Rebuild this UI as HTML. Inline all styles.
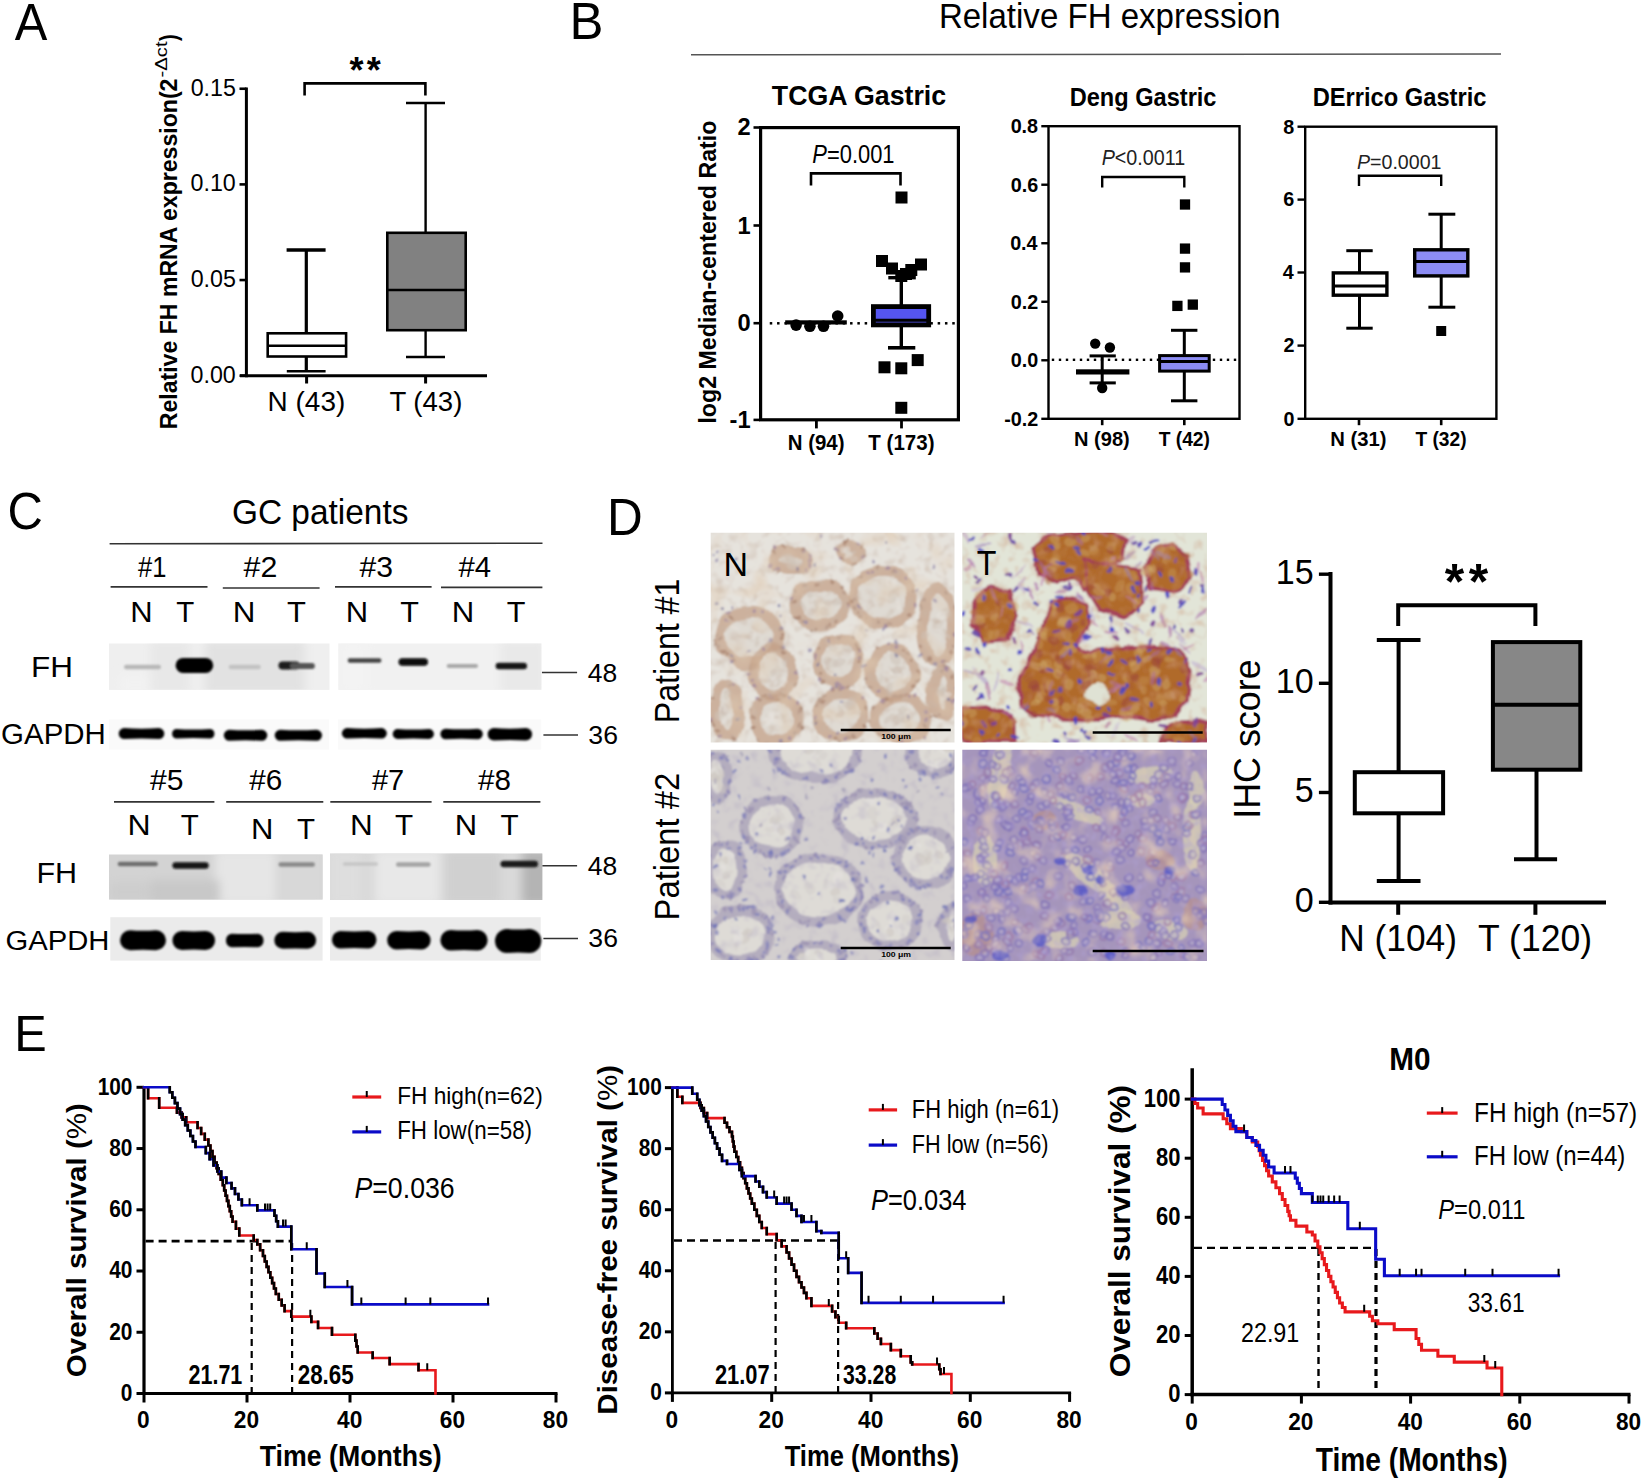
<!DOCTYPE html>
<html><head><meta charset="utf-8"><title>FH expression figure</title>
<style>html,body{margin:0;padding:0;background:#fff;}svg{display:block;}
text{font-family:'Liberation Sans', Arial, sans-serif;}</style></head>
<body><svg width="1648" height="1481" viewBox="0 0 1648 1481">
<rect width="1648" height="1481" fill="#fff"/>
<text x="14.80" y="39.90" font-size="52.04" textLength="32.59" lengthAdjust="spacingAndGlyphs">A</text>
<line x1="246.40" y1="87.50" x2="246.40" y2="377.20" stroke="#000" stroke-width="3"/>
<line x1="240.00" y1="375.70" x2="487.00" y2="375.70" stroke="#000" stroke-width="3"/>
<line x1="239.50" y1="88.75" x2="246.40" y2="88.75" stroke="#000" stroke-width="2.6"/>
<text x="190.66" y="95.75" font-size="24.13" textLength="45.22" lengthAdjust="spacingAndGlyphs">0.15</text>
<line x1="239.50" y1="184.40" x2="246.40" y2="184.40" stroke="#000" stroke-width="2.6"/>
<text x="190.59" y="191.40" font-size="24.13" textLength="45.22" lengthAdjust="spacingAndGlyphs">0.10</text>
<line x1="239.50" y1="280.05" x2="246.40" y2="280.05" stroke="#000" stroke-width="2.6"/>
<text x="190.66" y="287.05" font-size="24.13" textLength="45.22" lengthAdjust="spacingAndGlyphs">0.05</text>
<line x1="239.50" y1="375.70" x2="246.40" y2="375.70" stroke="#000" stroke-width="2.6"/>
<text x="190.59" y="382.70" font-size="24.13" textLength="45.22" lengthAdjust="spacingAndGlyphs">0.00</text>
<line x1="306.60" y1="375.70" x2="306.60" y2="383.50" stroke="#000" stroke-width="3"/>
<line x1="425.60" y1="375.70" x2="425.60" y2="383.50" stroke="#000" stroke-width="3"/>
<text x="267.61" y="410.60" font-size="27.76" textLength="77.62" lengthAdjust="spacingAndGlyphs">N (43)</text>
<text x="389.39" y="410.60" font-size="27.76" textLength="73.01" lengthAdjust="spacingAndGlyphs">T (43)</text>
<text transform="translate(177.30,429.24) rotate(-90)" x="0" y="0" font-size="24.71" textLength="350.66" lengthAdjust="spacingAndGlyphs"><tspan font-weight="bold">Relative FH mRNA expression(2</tspan></text>
<text transform="translate(167.20,77.60) rotate(-90)" x="0" y="0" font-size="16.72" textLength="36.15" lengthAdjust="spacingAndGlyphs">-Δct</text>
<text transform="translate(177.30,41.02) rotate(-90)" x="0" y="0" font-size="24.40" textLength="6.73" lengthAdjust="spacingAndGlyphs"><tspan font-weight="bold">)</tspan></text>
<line x1="306.30" y1="250.00" x2="306.30" y2="333.00" stroke="#000" stroke-width="3.2"/>
<line x1="306.30" y1="356.00" x2="306.30" y2="371.30" stroke="#000" stroke-width="3.2"/>
<line x1="286.60" y1="250.00" x2="325.60" y2="250.00" stroke="#000" stroke-width="3.4"/>
<line x1="286.80" y1="371.30" x2="325.60" y2="371.30" stroke="#000" stroke-width="2.6"/>
<rect x="267.70" y="333.30" width="78.40" height="23.20" fill="#fff" stroke="#000" stroke-width="2.6"/>
<line x1="267.50" y1="345.80" x2="346.50" y2="345.80" stroke="#000" stroke-width="2.4"/>
<line x1="425.60" y1="103.00" x2="425.60" y2="233.00" stroke="#000" stroke-width="2.4"/>
<line x1="425.60" y1="330.00" x2="425.60" y2="357.00" stroke="#000" stroke-width="2.4"/>
<line x1="406.00" y1="103.00" x2="445.00" y2="103.00" stroke="#000" stroke-width="2.4"/>
<line x1="406.00" y1="357.00" x2="445.00" y2="357.00" stroke="#000" stroke-width="2.4"/>
<rect x="387.30" y="232.80" width="78.40" height="97.40" fill="#818181" stroke="#000" stroke-width="2.6"/>
<line x1="387.00" y1="290.00" x2="466.00" y2="290.00" stroke="#000" stroke-width="2.4"/>
<path d="M304.6,95.5 V83.4 H425.4 V95.5" stroke="#000" stroke-width="2.6" fill="none"/>
<text x="356.50" y="82.67" font-size="36" font-weight="bold" text-anchor="middle">*</text>
<text x="373.70" y="82.67" font-size="36" font-weight="bold" text-anchor="middle">*</text>
<text x="569.52" y="39.20" font-size="52.18" textLength="33.96" lengthAdjust="spacingAndGlyphs">B</text>
<text x="938.89" y="28.00" font-size="35.90" textLength="341.66" lengthAdjust="spacingAndGlyphs">Relative FH expression</text>
<line x1="691.00" y1="54.80" x2="1501.00" y2="54.00" stroke="#555" stroke-width="1.6"/>
<text x="771.80" y="104.80" font-size="27.62" textLength="174.38" lengthAdjust="spacingAndGlyphs"><tspan font-weight="bold">TCGA Gastric</tspan></text>
<rect x="760.60" y="127.60" width="197.80" height="292.20" fill="none" stroke="#000" stroke-width="3.2"/>
<line x1="753.50" y1="127.50" x2="760.00" y2="127.50" stroke="#000" stroke-width="2.6"/>
<line x1="753.50" y1="225.50" x2="760.00" y2="225.50" stroke="#000" stroke-width="2.6"/>
<line x1="753.50" y1="323.20" x2="760.00" y2="323.20" stroke="#000" stroke-width="2.6"/>
<line x1="753.50" y1="419.90" x2="760.00" y2="419.90" stroke="#000" stroke-width="2.6"/>
<text x="737.42" y="135.20" font-size="23.69" font-weight="bold" textLength="13.18" lengthAdjust="spacingAndGlyphs">2</text>
<text x="737.42" y="233.50" font-size="23.69" font-weight="bold" textLength="13.18" lengthAdjust="spacingAndGlyphs">1</text>
<text x="737.42" y="330.90" font-size="23.69" font-weight="bold" textLength="13.18" lengthAdjust="spacingAndGlyphs">0</text>
<text x="729.53" y="427.60" font-size="23.69" font-weight="bold" textLength="21.07" lengthAdjust="spacingAndGlyphs">-1</text>
<line x1="816.40" y1="420.00" x2="816.40" y2="428.40" stroke="#000" stroke-width="2.8"/>
<line x1="901.50" y1="420.00" x2="901.50" y2="428.40" stroke="#000" stroke-width="2.8"/>
<text x="787.73" y="449.50" font-size="21.22" textLength="56.79" lengthAdjust="spacingAndGlyphs"><tspan font-weight="bold">N (94)</tspan></text>
<text x="868.37" y="449.50" font-size="21.22" textLength="66.15" lengthAdjust="spacingAndGlyphs"><tspan font-weight="bold">T (173)</tspan></text>
<text transform="translate(716.30,423.62) rotate(-90)" x="0" y="0" font-size="24.42" textLength="303.03" lengthAdjust="spacingAndGlyphs"><tspan font-weight="bold">log2 Median-centered Ratio</tspan></text>
<text x="812.33" y="163.40" font-size="24.86" textLength="82.24" lengthAdjust="spacingAndGlyphs"><tspan font-style="italic">P</tspan>=0.001</text>
<path d="M811,185.5 V173.4 H900.5 V185.5" stroke="#000" stroke-width="2.6" fill="none"/>
<rect x="769.75" y="322.05" width="2.50" height="2.50" fill="#000"/>
<rect x="777.05" y="322.05" width="2.50" height="2.50" fill="#000"/>
<rect x="784.35" y="322.05" width="2.50" height="2.50" fill="#000"/>
<rect x="791.65" y="322.05" width="2.50" height="2.50" fill="#000"/>
<rect x="798.95" y="322.05" width="2.50" height="2.50" fill="#000"/>
<rect x="806.25" y="322.05" width="2.50" height="2.50" fill="#000"/>
<rect x="813.55" y="322.05" width="2.50" height="2.50" fill="#000"/>
<rect x="820.85" y="322.05" width="2.50" height="2.50" fill="#000"/>
<rect x="828.15" y="322.05" width="2.50" height="2.50" fill="#000"/>
<rect x="835.45" y="322.05" width="2.50" height="2.50" fill="#000"/>
<rect x="842.75" y="322.05" width="2.50" height="2.50" fill="#000"/>
<rect x="850.05" y="322.05" width="2.50" height="2.50" fill="#000"/>
<rect x="857.35" y="322.05" width="2.50" height="2.50" fill="#000"/>
<rect x="864.65" y="322.05" width="2.50" height="2.50" fill="#000"/>
<rect x="871.95" y="322.05" width="2.50" height="2.50" fill="#000"/>
<rect x="879.25" y="322.05" width="2.50" height="2.50" fill="#000"/>
<rect x="886.55" y="322.05" width="2.50" height="2.50" fill="#000"/>
<rect x="893.85" y="322.05" width="2.50" height="2.50" fill="#000"/>
<rect x="901.15" y="322.05" width="2.50" height="2.50" fill="#000"/>
<rect x="908.45" y="322.05" width="2.50" height="2.50" fill="#000"/>
<rect x="915.75" y="322.05" width="2.50" height="2.50" fill="#000"/>
<rect x="923.05" y="322.05" width="2.50" height="2.50" fill="#000"/>
<rect x="930.35" y="322.05" width="2.50" height="2.50" fill="#000"/>
<rect x="937.65" y="322.05" width="2.50" height="2.50" fill="#000"/>
<rect x="944.95" y="322.05" width="2.50" height="2.50" fill="#000"/>
<rect x="952.25" y="322.05" width="2.50" height="2.50" fill="#000"/>
<rect x="785.20" y="320.30" width="61.60" height="4.20" fill="#000"/>
<circle cx="796.10" cy="325.10" r="5.80" fill="#000"/>
<circle cx="809.90" cy="326.30" r="5.80" fill="#000"/>
<circle cx="823.50" cy="326.30" r="5.80" fill="#000"/>
<circle cx="837.70" cy="316.00" r="5.80" fill="#000"/>
<line x1="901.30" y1="277.70" x2="901.30" y2="306.00" stroke="#000" stroke-width="3.4"/>
<line x1="901.30" y1="326.00" x2="901.30" y2="347.80" stroke="#000" stroke-width="3.4"/>
<line x1="888.30" y1="277.70" x2="915.80" y2="277.70" stroke="#000" stroke-width="3.4"/>
<line x1="888.00" y1="347.80" x2="915.30" y2="347.80" stroke="#000" stroke-width="3.6"/>
<rect x="873.40" y="306.60" width="55.30" height="18.30" fill="#5555f0" stroke="#000" stroke-width="4.8"/>
<line x1="874.00" y1="320.20" x2="928.00" y2="320.20" stroke="#000" stroke-width="3"/>
<rect x="895.50" y="191.50" width="12.00" height="12.00" fill="#000"/>
<rect x="876.00" y="255.00" width="12.00" height="12.00" fill="#000"/>
<rect x="886.00" y="262.50" width="12.00" height="12.00" fill="#000"/>
<rect x="895.30" y="270.00" width="12.00" height="12.00" fill="#000"/>
<rect x="900.00" y="268.00" width="12.00" height="12.00" fill="#000"/>
<rect x="905.30" y="264.00" width="12.00" height="12.00" fill="#000"/>
<rect x="915.00" y="258.50" width="12.00" height="12.00" fill="#000"/>
<rect x="878.50" y="361.30" width="12.00" height="12.00" fill="#000"/>
<rect x="895.30" y="362.30" width="12.00" height="12.00" fill="#000"/>
<rect x="911.70" y="354.10" width="12.00" height="12.00" fill="#000"/>
<rect x="895.30" y="401.80" width="12.00" height="12.00" fill="#000"/>
<text x="1069.72" y="105.80" font-size="25.44" textLength="146.77" lengthAdjust="spacingAndGlyphs"><tspan font-weight="bold">Deng Gastric</tspan></text>
<rect x="1048.50" y="126.20" width="191.00" height="292.60" fill="none" stroke="#000" stroke-width="2.4"/>
<line x1="1041.30" y1="126.20" x2="1048.00" y2="126.20" stroke="#000" stroke-width="2.4"/>
<line x1="1041.30" y1="184.72" x2="1048.00" y2="184.72" stroke="#000" stroke-width="2.4"/>
<line x1="1041.30" y1="243.24" x2="1048.00" y2="243.24" stroke="#000" stroke-width="2.4"/>
<line x1="1041.30" y1="301.76" x2="1048.00" y2="301.76" stroke="#000" stroke-width="2.4"/>
<line x1="1041.30" y1="360.28" x2="1048.00" y2="360.28" stroke="#000" stroke-width="2.4"/>
<line x1="1041.30" y1="418.80" x2="1048.00" y2="418.80" stroke="#000" stroke-width="2.4"/>
<text x="1010.63" y="133.00" font-size="19.77" textLength="27.48" lengthAdjust="spacingAndGlyphs"><tspan font-weight="bold">0.8</tspan></text>
<text x="1010.73" y="191.52" font-size="19.77" textLength="27.48" lengthAdjust="spacingAndGlyphs"><tspan font-weight="bold">0.6</tspan></text>
<text x="1010.13" y="250.04" font-size="19.77" textLength="27.48" lengthAdjust="spacingAndGlyphs"><tspan font-weight="bold">0.4</tspan></text>
<text x="1010.81" y="308.56" font-size="19.77" textLength="27.48" lengthAdjust="spacingAndGlyphs"><tspan font-weight="bold">0.2</tspan></text>
<text x="1010.83" y="367.08" font-size="19.77" textLength="27.48" lengthAdjust="spacingAndGlyphs"><tspan font-weight="bold">0.0</tspan></text>
<text x="1004.23" y="425.60" font-size="19.77" textLength="34.06" lengthAdjust="spacingAndGlyphs"><tspan font-weight="bold">-0.2</tspan></text>
<line x1="1102.20" y1="419.00" x2="1102.20" y2="425.20" stroke="#000" stroke-width="2.6"/>
<line x1="1184.30" y1="419.00" x2="1184.30" y2="425.20" stroke="#000" stroke-width="2.6"/>
<text x="1074.06" y="446.10" font-size="20.49" textLength="55.74" lengthAdjust="spacingAndGlyphs"><tspan font-weight="bold">N (98)</tspan></text>
<text x="1158.68" y="446.10" font-size="20.49" textLength="51.27" lengthAdjust="spacingAndGlyphs"><tspan font-weight="bold">T (42)</tspan></text>
<text x="1101.70" y="165.10" font-size="21.22" textLength="83.54" lengthAdjust="spacingAndGlyphs" fill="#222"><tspan font-style="italic">P</tspan>&lt;0.0011</text>
<path d="M1102.2,187.5 V177 H1184.3 V187.5" stroke="#000" stroke-width="2.4" fill="none"/>
<rect x="1051.80" y="358.60" width="2.40" height="2.40" fill="#000"/>
<rect x="1058.80" y="358.60" width="2.40" height="2.40" fill="#000"/>
<rect x="1065.80" y="358.60" width="2.40" height="2.40" fill="#000"/>
<rect x="1072.80" y="358.60" width="2.40" height="2.40" fill="#000"/>
<rect x="1079.80" y="358.60" width="2.40" height="2.40" fill="#000"/>
<rect x="1086.80" y="358.60" width="2.40" height="2.40" fill="#000"/>
<rect x="1093.80" y="358.60" width="2.40" height="2.40" fill="#000"/>
<rect x="1100.80" y="358.60" width="2.40" height="2.40" fill="#000"/>
<rect x="1107.80" y="358.60" width="2.40" height="2.40" fill="#000"/>
<rect x="1114.80" y="358.60" width="2.40" height="2.40" fill="#000"/>
<rect x="1121.80" y="358.60" width="2.40" height="2.40" fill="#000"/>
<rect x="1128.80" y="358.60" width="2.40" height="2.40" fill="#000"/>
<rect x="1135.80" y="358.60" width="2.40" height="2.40" fill="#000"/>
<rect x="1142.80" y="358.60" width="2.40" height="2.40" fill="#000"/>
<rect x="1149.80" y="358.60" width="2.40" height="2.40" fill="#000"/>
<rect x="1156.80" y="358.60" width="2.40" height="2.40" fill="#000"/>
<rect x="1163.80" y="358.60" width="2.40" height="2.40" fill="#000"/>
<rect x="1170.80" y="358.60" width="2.40" height="2.40" fill="#000"/>
<rect x="1177.80" y="358.60" width="2.40" height="2.40" fill="#000"/>
<rect x="1184.80" y="358.60" width="2.40" height="2.40" fill="#000"/>
<rect x="1191.80" y="358.60" width="2.40" height="2.40" fill="#000"/>
<rect x="1198.80" y="358.60" width="2.40" height="2.40" fill="#000"/>
<rect x="1205.80" y="358.60" width="2.40" height="2.40" fill="#000"/>
<rect x="1212.80" y="358.60" width="2.40" height="2.40" fill="#000"/>
<rect x="1219.80" y="358.60" width="2.40" height="2.40" fill="#000"/>
<rect x="1226.80" y="358.60" width="2.40" height="2.40" fill="#000"/>
<rect x="1233.80" y="358.60" width="2.40" height="2.40" fill="#000"/>
<circle cx="1095.20" cy="343.60" r="5.20" fill="#000"/>
<circle cx="1109.90" cy="347.50" r="5.20" fill="#000"/>
<circle cx="1102.20" cy="388.00" r="5.20" fill="#000"/>
<line x1="1102.20" y1="355.90" x2="1102.20" y2="382.90" stroke="#000" stroke-width="3"/>
<line x1="1089.60" y1="355.90" x2="1115.80" y2="355.90" stroke="#000" stroke-width="3"/>
<line x1="1089.60" y1="382.90" x2="1115.80" y2="382.90" stroke="#000" stroke-width="3"/>
<rect x="1076.00" y="369.30" width="53.40" height="5.20" fill="#000"/>
<line x1="1184.30" y1="330.30" x2="1184.30" y2="355.00" stroke="#000" stroke-width="3"/>
<line x1="1184.30" y1="372.00" x2="1184.30" y2="400.80" stroke="#000" stroke-width="3"/>
<line x1="1171.00" y1="330.30" x2="1197.40" y2="330.30" stroke="#000" stroke-width="3"/>
<line x1="1171.00" y1="400.80" x2="1197.40" y2="400.80" stroke="#000" stroke-width="3"/>
<rect x="1159.60" y="355.60" width="49.60" height="15.50" fill="#8c8cf4" stroke="#000" stroke-width="3"/>
<line x1="1159.50" y1="361.60" x2="1209.30" y2="361.60" stroke="#000" stroke-width="3"/>
<rect x="1179.85" y="199.35" width="10.30" height="10.30" fill="#000"/>
<rect x="1179.85" y="243.45" width="10.30" height="10.30" fill="#000"/>
<rect x="1179.85" y="262.25" width="10.30" height="10.30" fill="#000"/>
<rect x="1172.25" y="300.75" width="10.30" height="10.30" fill="#000"/>
<rect x="1187.65" y="299.45" width="10.30" height="10.30" fill="#000"/>
<text x="1312.72" y="105.70" font-size="25.00" textLength="173.68" lengthAdjust="spacingAndGlyphs"><tspan font-weight="bold">DErrico Gastric</tspan></text>
<rect x="1305.20" y="126.70" width="191.20" height="292.10" fill="none" stroke="#000" stroke-width="2.4"/>
<line x1="1297.50" y1="126.70" x2="1304.50" y2="126.70" stroke="#000" stroke-width="2.4"/>
<line x1="1297.50" y1="199.60" x2="1304.50" y2="199.60" stroke="#000" stroke-width="2.4"/>
<line x1="1297.50" y1="272.50" x2="1304.50" y2="272.50" stroke="#000" stroke-width="2.4"/>
<line x1="1297.50" y1="345.60" x2="1304.50" y2="345.60" stroke="#000" stroke-width="2.4"/>
<line x1="1297.50" y1="418.80" x2="1304.50" y2="418.80" stroke="#000" stroke-width="2.4"/>
<text x="1283.21" y="133.50" font-size="19.77" textLength="10.99" lengthAdjust="spacingAndGlyphs"><tspan font-weight="bold">8</tspan></text>
<text x="1283.32" y="206.40" font-size="19.77" textLength="10.99" lengthAdjust="spacingAndGlyphs"><tspan font-weight="bold">6</tspan></text>
<text x="1282.71" y="279.30" font-size="19.77" textLength="10.99" lengthAdjust="spacingAndGlyphs"><tspan font-weight="bold">4</tspan></text>
<text x="1283.40" y="352.40" font-size="19.77" textLength="10.99" lengthAdjust="spacingAndGlyphs"><tspan font-weight="bold">2</tspan></text>
<text x="1283.42" y="425.60" font-size="19.77" textLength="10.99" lengthAdjust="spacingAndGlyphs"><tspan font-weight="bold">0</tspan></text>
<line x1="1359.00" y1="419.00" x2="1359.00" y2="425.20" stroke="#000" stroke-width="2.6"/>
<line x1="1441.20" y1="419.00" x2="1441.20" y2="425.20" stroke="#000" stroke-width="2.6"/>
<text x="1330.25" y="446.10" font-size="20.49" textLength="56.26" lengthAdjust="spacingAndGlyphs"><tspan font-weight="bold">N (31)</tspan></text>
<text x="1415.38" y="446.10" font-size="20.49" textLength="51.17" lengthAdjust="spacingAndGlyphs"><tspan font-weight="bold">T (32)</tspan></text>
<text x="1357.00" y="168.80" font-size="20.64" textLength="84.46" lengthAdjust="spacingAndGlyphs" fill="#222"><tspan font-style="italic">P</tspan>=0.0001</text>
<path d="M1359,186 V175.7 H1441.2 V186" stroke="#000" stroke-width="2.4" fill="none"/>
<line x1="1359.50" y1="250.70" x2="1359.50" y2="272.00" stroke="#000" stroke-width="3"/>
<line x1="1359.50" y1="296.00" x2="1359.50" y2="328.20" stroke="#000" stroke-width="3"/>
<line x1="1346.30" y1="250.70" x2="1372.70" y2="250.70" stroke="#000" stroke-width="3"/>
<line x1="1346.30" y1="328.20" x2="1372.70" y2="328.20" stroke="#000" stroke-width="3"/>
<rect x="1333.30" y="272.90" width="53.60" height="22.30" fill="#fff" stroke="#000" stroke-width="3.4"/>
<line x1="1333.00" y1="286.10" x2="1387.00" y2="286.10" stroke="#000" stroke-width="3"/>
<line x1="1441.20" y1="214.20" x2="1441.20" y2="249.00" stroke="#000" stroke-width="3"/>
<line x1="1441.20" y1="277.00" x2="1441.20" y2="307.20" stroke="#000" stroke-width="3"/>
<line x1="1428.40" y1="214.20" x2="1455.30" y2="214.20" stroke="#000" stroke-width="3"/>
<line x1="1428.40" y1="307.20" x2="1455.30" y2="307.20" stroke="#000" stroke-width="3"/>
<rect x="1414.70" y="249.80" width="53.10" height="26.10" fill="#8c8cf4" stroke="#000" stroke-width="3.4"/>
<line x1="1414.50" y1="261.50" x2="1468.00" y2="261.50" stroke="#000" stroke-width="3"/>
<rect x="1436.20" y="326.00" width="10.00" height="10.00" fill="#000"/>
<defs><filter id="bl1" x="-20%" y="-50%" width="140%" height="200%"><feGaussianBlur stdDeviation="1.3"/></filter><filter id="bl2" x="-20%" y="-50%" width="140%" height="200%"><feGaussianBlur stdDeviation="2.2"/></filter><filter id="bl4" x="-10%" y="-10%" width="120%" height="120%"><feGaussianBlur stdDeviation="5"/></filter><clipPath id="cpL1"><rect x="109" y="643.5" width="220" height="46"/></clipPath><clipPath id="cpR1"><rect x="338" y="643.5" width="203.3" height="46"/></clipPath><clipPath id="cpL2"><rect x="109" y="854.5" width="213.6" height="45"/></clipPath><clipPath id="cpR2"><rect x="330" y="853.5" width="212.3" height="46.5"/></clipPath></defs>
<text x="7.51" y="528.80" font-size="51.16" textLength="35.35" lengthAdjust="spacingAndGlyphs">C</text>
<text x="231.92" y="524.40" font-size="34.16" textLength="176.49" lengthAdjust="spacingAndGlyphs">GC patients</text>
<line x1="109.60" y1="543.80" x2="542.50" y2="543.20" stroke="#333" stroke-width="1.6"/>
<text x="138.09" y="576.60" font-size="29.94" textLength="28.36" lengthAdjust="spacingAndGlyphs">#1</text>
<text x="243.57" y="576.60" font-size="29.94" textLength="33.76" lengthAdjust="spacingAndGlyphs">#2</text>
<text x="359.47" y="576.60" font-size="29.94" textLength="33.56" lengthAdjust="spacingAndGlyphs">#3</text>
<text x="458.47" y="576.60" font-size="29.94" textLength="32.59" lengthAdjust="spacingAndGlyphs">#4</text>
<line x1="110.60" y1="586.90" x2="207.50" y2="586.90" stroke="#333" stroke-width="1.6"/>
<line x1="222.80" y1="588.00" x2="319.60" y2="588.00" stroke="#333" stroke-width="1.6"/>
<line x1="335.00" y1="586.90" x2="431.60" y2="586.90" stroke="#333" stroke-width="1.6"/>
<line x1="441.00" y1="587.40" x2="542.40" y2="587.40" stroke="#333" stroke-width="1.6"/>
<text x="130.36" y="621.90" font-size="29.51" textLength="22.37" lengthAdjust="spacingAndGlyphs">N</text>
<text x="176.14" y="621.90" font-size="29.51" textLength="18.04" lengthAdjust="spacingAndGlyphs">T</text>
<text x="232.83" y="621.90" font-size="29.51" textLength="22.62" lengthAdjust="spacingAndGlyphs">N</text>
<text x="286.90" y="621.90" font-size="29.51" textLength="18.91" lengthAdjust="spacingAndGlyphs">T</text>
<text x="345.86" y="621.90" font-size="29.51" textLength="22.37" lengthAdjust="spacingAndGlyphs">N</text>
<text x="400.21" y="621.90" font-size="29.51" textLength="18.69" lengthAdjust="spacingAndGlyphs">T</text>
<text x="451.84" y="621.90" font-size="29.51" textLength="22.50" lengthAdjust="spacingAndGlyphs">N</text>
<text x="506.81" y="621.90" font-size="29.51" textLength="18.69" lengthAdjust="spacingAndGlyphs">T</text>
<text x="150.07" y="790.30" font-size="29.65" textLength="33.50" lengthAdjust="spacingAndGlyphs">#5</text>
<text x="249.17" y="790.30" font-size="29.65" textLength="33.04" lengthAdjust="spacingAndGlyphs">#6</text>
<text x="371.97" y="790.30" font-size="29.65" textLength="32.29" lengthAdjust="spacingAndGlyphs">#7</text>
<text x="478.07" y="790.30" font-size="29.65" textLength="32.92" lengthAdjust="spacingAndGlyphs">#8</text>
<line x1="114.00" y1="801.90" x2="214.40" y2="801.90" stroke="#333" stroke-width="1.6"/>
<line x1="226.20" y1="801.90" x2="323.30" y2="801.90" stroke="#333" stroke-width="1.6"/>
<line x1="330.30" y1="801.90" x2="431.60" y2="801.90" stroke="#333" stroke-width="1.6"/>
<line x1="443.30" y1="801.90" x2="540.40" y2="801.90" stroke="#333" stroke-width="1.6"/>
<text x="127.47" y="835.40" font-size="29.51" textLength="23.14" lengthAdjust="spacingAndGlyphs">N</text>
<text x="180.84" y="835.40" font-size="29.51" textLength="18.04" lengthAdjust="spacingAndGlyphs">T</text>
<text x="250.96" y="838.70" font-size="29.51" textLength="22.37" lengthAdjust="spacingAndGlyphs">N</text>
<text x="296.94" y="838.70" font-size="29.51" textLength="18.04" lengthAdjust="spacingAndGlyphs">T</text>
<text x="350.02" y="835.40" font-size="29.51" textLength="22.75" lengthAdjust="spacingAndGlyphs">N</text>
<text x="395.13" y="835.40" font-size="29.51" textLength="18.15" lengthAdjust="spacingAndGlyphs">T</text>
<text x="454.66" y="835.40" font-size="29.51" textLength="22.37" lengthAdjust="spacingAndGlyphs">N</text>
<text x="500.63" y="835.40" font-size="29.51" textLength="18.15" lengthAdjust="spacingAndGlyphs">T</text>
<text x="30.92" y="676.80" font-size="29.65" textLength="41.95" lengthAdjust="spacingAndGlyphs">FH</text>
<text x="1.12" y="744.20" font-size="29.94" textLength="104.68" lengthAdjust="spacingAndGlyphs">GAPDH</text>
<text x="36.40" y="882.60" font-size="28.78" textLength="40.69" lengthAdjust="spacingAndGlyphs">FH</text>
<text x="5.43" y="949.60" font-size="28.20" textLength="103.95" lengthAdjust="spacingAndGlyphs">GAPDH</text>
<text x="587.69" y="681.50" font-size="25.73" textLength="29.46" lengthAdjust="spacingAndGlyphs">48</text>
<text x="587.69" y="874.80" font-size="25.73" textLength="29.46" lengthAdjust="spacingAndGlyphs">48</text>
<text x="588.39" y="744.10" font-size="25.73" textLength="29.58" lengthAdjust="spacingAndGlyphs">36</text>
<text x="588.39" y="947.10" font-size="25.73" textLength="29.58" lengthAdjust="spacingAndGlyphs">36</text>
<line x1="541.90" y1="672.40" x2="577.10" y2="672.40" stroke="#333" stroke-width="1.5"/>
<line x1="543.40" y1="735.00" x2="578.00" y2="735.00" stroke="#333" stroke-width="1.5"/>
<line x1="541.90" y1="865.70" x2="577.10" y2="865.70" stroke="#333" stroke-width="1.5"/>
<line x1="543.40" y1="938.50" x2="578.00" y2="938.50" stroke="#333" stroke-width="1.5"/>
<rect x="109.00" y="643.50" width="220.50" height="46.40" fill="#efefef"/>
<g clip-path="url(#cpL1)"><g filter="url(#bl4)"><rect x="205.00" y="640.00" width="100.00" height="55.00" fill="#e2e2e2"/><rect x="150.00" y="640.00" width="40.00" height="55.00" fill="#e8e8e8"/><rect x="120.00" y="675.00" width="30.00" height="20.00" fill="#f2f2f2"/></g></g>
<rect x="338.40" y="643.50" width="203.00" height="46.40" fill="#f1f1f1"/>
<g clip-path="url(#cpR1)"><g filter="url(#bl4)"><rect x="500.00" y="640.00" width="45.00" height="55.00" fill="#e9e9e9"/><rect x="338.00" y="640.00" width="30.00" height="55.00" fill="#f3f3f3"/></g></g>
<g filter="url(#bl1)">
<rect x="124.0" y="664.8" width="37.0" height="4.5" rx="2.2" fill="#b8b8b8" opacity="1.0"/>
<rect x="175.6" y="657.9" width="37.6" height="15.0" rx="7.5" fill="#000" opacity="1.0"/>
<rect x="228.7" y="664.8" width="32.1" height="4.5" rx="2.2" fill="#c2c2c2" opacity="1.0"/>
<rect x="278.5" y="661.4" width="21.5" height="8.0" rx="4.0" fill="#1a1a1a" opacity="1.0"/>
<rect x="290.0" y="663.0" width="24.9" height="6.0" rx="3.0" fill="#555" opacity="1.0"/>
<rect x="347.7" y="658.2" width="33.7" height="4.5" rx="2.2" fill="#444" opacity="1.0"/>
<rect x="398.5" y="658.2" width="29.5" height="7.5" rx="3.8" fill="#080808" opacity="1.0"/>
<rect x="446.7" y="664.1" width="31.3" height="3.8" rx="1.9" fill="#a8a8a8" opacity="1.0"/>
<rect x="495.6" y="662.8" width="31.4" height="6.5" rx="3.2" fill="#151515" opacity="1.0"/>
</g>
<rect x="109.00" y="719.50" width="220.00" height="30.00" fill="#fafafa"/>
<rect x="338.00" y="719.50" width="203.30" height="30.00" fill="#fafafa"/>
<g filter="url(#bl1)">
<path d="M124.2,728.1 Q141.5,729.2 158.8,728.1 A5.5,5.5 0 0 1 158.8,739.1 Q141.5,738.0 124.2,739.1 A5.5,5.5 0 0 1 124.2,728.1 Z" fill="#050505" opacity="1"/>
<path d="M176.2,729.0 Q193.2,730.0 210.3,729.0 A4.8,4.8 0 0 1 210.3,738.5 Q193.2,737.6 176.2,738.5 A4.8,4.8 0 0 1 176.2,729.0 Z" fill="#050505" opacity="1"/>
<path d="M229.3,729.8 Q245.6,730.9 261.8,729.8 A5.5,5.5 0 0 1 261.8,740.8 Q245.6,739.7 229.3,740.8 A5.5,5.5 0 0 1 229.3,729.8 Z" fill="#050505" opacity="1"/>
<path d="M280.2,729.8 Q298.4,730.9 316.5,729.8 A5.5,5.5 0 0 1 316.5,740.8 Q298.4,739.7 280.2,740.8 A5.5,5.5 0 0 1 280.2,729.8 Z" fill="#050505" opacity="1"/>
<path d="M347.1,728.1 Q364.4,729.2 381.6,728.1 A5.2,5.2 0 0 1 381.6,738.6 Q364.4,737.6 347.1,738.6 A5.2,5.2 0 0 1 347.1,728.1 Z" fill="#050505" opacity="1"/>
<path d="M397.7,729.0 Q413.3,730.0 428.9,729.0 A5.0,5.0 0 0 1 428.9,739.0 Q413.3,738.0 397.7,739.0 A5.0,5.0 0 0 1 397.7,729.0 Z" fill="#050505" opacity="1"/>
<path d="M445.6,728.8 Q461.6,729.8 477.6,728.8 A5.2,5.2 0 0 1 477.6,739.2 Q461.6,738.2 445.6,739.2 A5.2,5.2 0 0 1 445.6,728.8 Z" fill="#050505" opacity="1"/>
<path d="M493.9,728.0 Q509.8,729.3 525.8,728.0 A6.2,6.2 0 0 1 525.8,740.5 Q509.8,739.3 493.9,740.5 A6.2,6.2 0 0 1 493.9,728.0 Z" fill="#050505" opacity="1"/>
</g>
<rect x="109.00" y="854.50" width="213.60" height="45.00" fill="#d3d3d3"/>
<g clip-path="url(#cpL2)"><g filter="url(#bl4)"><rect x="215.00" y="850.00" width="60.00" height="55.00" fill="#e6e6e6"/><rect x="150.00" y="880.00" width="70.00" height="25.00" fill="#c8c8c8"/><rect x="275.00" y="850.00" width="50.00" height="55.00" fill="#d8d8d8"/><rect x="109.00" y="882.00" width="40.00" height="20.00" fill="#cdcdcd"/></g></g>
<rect x="330.00" y="853.50" width="212.30" height="46.50" fill="#d9d9d9"/>
<g clip-path="url(#cpR2)"><g filter="url(#bl4)"><rect x="330.00" y="850.00" width="30.00" height="55.00" fill="#dedede"/><rect x="375.00" y="850.00" width="65.00" height="55.00" fill="#e8e8e8"/><rect x="445.00" y="850.00" width="55.00" height="55.00" fill="#d0d0d0"/><rect x="522.00" y="850.00" width="30.00" height="55.00" fill="#b4b4b4"/></g></g>
<g filter="url(#bl1)">
<rect x="117.7" y="861.8" width="40.2" height="4.5" rx="2.2" fill="#6e6e6e" opacity="1.0"/>
<rect x="172.4" y="862.2" width="36.3" height="6.5" rx="3.2" fill="#141414" opacity="1.0"/>
<rect x="278.5" y="862.2" width="36.4" height="4.5" rx="2.2" fill="#8a8a8a" opacity="1.0"/>
<rect x="342.8" y="862.2" width="35.2" height="3.5" rx="1.8" fill="#c6c6c6" opacity="1.0"/>
<rect x="396.0" y="862.2" width="34.6" height="4.5" rx="2.2" fill="#a4a4a4" opacity="1.0"/>
<rect x="500.5" y="860.8" width="37.5" height="6.5" rx="3.2" fill="#1c1c1c" opacity="1.0"/>
</g>
<rect x="110.30" y="917.20" width="212.30" height="43.40" fill="#ebebeb"/>
<rect x="330.00" y="917.20" width="210.70" height="43.40" fill="#ebebeb"/>
<g filter="url(#bl1)">
<path d="M130.0,930.3 Q143.0,931.3 156.0,930.3 A10.0,10.0 0 0 1 156.0,950.3 Q143.0,949.3 130.0,950.3 A10.0,10.0 0 0 1 130.0,930.3 Z" fill="#000" opacity="1"/>
<path d="M181.9,931.0 Q193.8,931.9 205.6,931.0 A9.5,9.5 0 0 1 205.6,950.0 Q193.8,949.1 181.9,950.0 A9.5,9.5 0 0 1 181.9,931.0 Z" fill="#000" opacity="1"/>
<path d="M231.6,933.8 Q244.8,934.4 257.9,933.8 A6.8,6.8 0 0 1 257.9,947.2 Q244.8,946.6 231.6,947.2 A6.8,6.8 0 0 1 231.6,933.8 Z" fill="#000" opacity="1"/>
<path d="M282.8,931.8 Q295.2,932.6 307.6,931.8 A8.5,8.5 0 0 1 307.6,948.8 Q295.2,948.0 282.8,948.8 A8.5,8.5 0 0 1 282.8,931.8 Z" fill="#000" opacity="1"/>
<path d="M339.8,931.0 Q354.1,931.9 368.6,931.0 A8.8,8.8 0 0 1 368.6,948.5 Q354.1,947.7 339.8,948.5 A8.8,8.8 0 0 1 339.8,931.0 Z" fill="#000" opacity="1"/>
<path d="M396.4,931.0 Q408.9,931.9 421.4,931.0 A9.2,9.2 0 0 1 421.4,949.5 Q408.9,948.7 396.4,949.5 A9.2,9.2 0 0 1 396.4,931.0 Z" fill="#000" opacity="1"/>
<path d="M450.6,930.0 Q464.0,931.0 477.4,930.0 A10.2,10.2 0 0 1 477.4,950.5 Q464.0,949.6 450.6,950.5 A10.2,10.2 0 0 1 450.6,930.0 Z" fill="#000" opacity="1"/>
<path d="M507.0,929.0 Q518.1,930.2 529.3,929.0 A12.0,12.0 0 0 1 529.3,953.0 Q518.1,951.8 507.0,953.0 A12.0,12.0 0 0 1 507.0,929.0 Z" fill="#000" opacity="1"/>
</g>
<text x="606.94" y="535.20" font-size="51.16" textLength="35.73" lengthAdjust="spacingAndGlyphs">D</text>
<clipPath id="ihc1"><rect x="710.7" y="532.7" width="243.8" height="209.7"/></clipPath><filter id="ihc1f" x="700.7" y="522.7" width="263.8" height="229.7" filterUnits="userSpaceOnUse"><feTurbulence type="fractalNoise" baseFrequency="0.045" numOctaves="2" seed="3" result="t"/><feDisplacementMap in="SourceGraphic" in2="t" scale="9" xChannelSelector="R" yChannelSelector="G" result="d"/><feGaussianBlur in="d" stdDeviation="1.1"/></filter><g clip-path="url(#ihc1)"><g filter="url(#ihc1f)"><rect x="704.70" y="526.70" width="255.80" height="221.70" fill="#e6e3dd"/><ellipse cx="750.0" cy="637.5" rx="28.5" ry="25.5" fill="none" stroke="#c29e84" stroke-width="11.0" opacity="0.72"/><ellipse cx="750.0" cy="637.5" rx="23.5" ry="20.5" fill="#dfdad3"/><ellipse cx="748.6" cy="640.0" rx="5.6" ry="2.2" fill="#cbc0b5" opacity="0.50" transform="rotate(17 748.6 640.0)"/><ellipse cx="733.9" cy="629.1" rx="3.9" ry="2.3" fill="#e8e4de" opacity="0.50" transform="rotate(13 733.9 629.1)"/><ellipse cx="757.3" cy="641.8" rx="6.3" ry="2.4" fill="#d2c8bd" opacity="0.50" transform="rotate(114 757.3 641.8)"/><ellipse cx="748.9" cy="636.9" rx="5.3" ry="2.1" fill="#d2c8bd" opacity="0.50" transform="rotate(8 748.9 636.9)"/><ellipse cx="753.7" cy="633.3" rx="3.6" ry="2.4" fill="#e8e4de" opacity="0.50" transform="rotate(101 753.7 633.3)"/><ellipse cx="749.1" cy="635.8" rx="5.3" ry="2.6" fill="#d2c8bd" opacity="0.50" transform="rotate(99 749.1 635.8)"/><ellipse cx="751.1" cy="637.9" rx="3.8" ry="4.0" fill="#e8e4de" opacity="0.50" transform="rotate(140 751.1 637.9)"/><ellipse cx="717.2" cy="644.1" rx="2.0" ry="1.4" fill="#a88470" opacity="0.75" transform="rotate(126 717.2 644.1)"/><ellipse cx="751.2" cy="666.1" rx="2.2" ry="2.1" fill="#b49888" opacity="0.75" transform="rotate(81 751.2 666.1)"/><ellipse cx="728.1" cy="621.2" rx="2.2" ry="1.4" fill="#9e84a0" opacity="0.75" transform="rotate(27 728.1 621.2)"/><ellipse cx="721.9" cy="639.3" rx="2.4" ry="2.0" fill="#b49888" opacity="0.75" transform="rotate(142 721.9 639.3)"/><ellipse cx="762.5" cy="612.7" rx="2.0" ry="1.7" fill="#9e84a0" opacity="0.75" transform="rotate(12 762.5 612.7)"/><ellipse cx="774.6" cy="652.4" rx="2.4" ry="1.3" fill="#b49888" opacity="0.75" transform="rotate(126 774.6 652.4)"/><ellipse cx="729.5" cy="612.8" rx="2.6" ry="1.5" fill="#9e84a0" opacity="0.75" transform="rotate(160 729.5 612.8)"/><ellipse cx="730.7" cy="662.6" rx="2.0" ry="1.8" fill="#9e84a0" opacity="0.75" transform="rotate(11 730.7 662.6)"/><ellipse cx="753.3" cy="611.5" rx="1.8" ry="1.6" fill="#9e84a0" opacity="0.75" transform="rotate(15 753.3 611.5)"/><ellipse cx="720.3" cy="646.4" rx="2.6" ry="2.0" fill="#b49888" opacity="0.75" transform="rotate(50 720.3 646.4)"/><ellipse cx="724.1" cy="651.4" rx="2.6" ry="2.2" fill="#a88470" opacity="0.75" transform="rotate(15 724.1 651.4)"/><ellipse cx="768.5" cy="661.2" rx="1.5" ry="2.0" fill="#a88470" opacity="0.75" transform="rotate(47 768.5 661.2)"/><ellipse cx="780.4" cy="638.2" rx="2.0" ry="1.8" fill="#a88470" opacity="0.75" transform="rotate(124 780.4 638.2)"/><ellipse cx="718.5" cy="634.7" rx="2.4" ry="1.3" fill="#b49888" opacity="0.75" transform="rotate(144 718.5 634.7)"/><ellipse cx="726.4" cy="654.8" rx="1.6" ry="1.8" fill="#a88470" opacity="0.75" transform="rotate(34 726.4 654.8)"/><ellipse cx="780.4" cy="634.8" rx="1.6" ry="1.8" fill="#a88470" opacity="0.75" transform="rotate(0 780.4 634.8)"/><ellipse cx="766.6" cy="658.6" rx="2.0" ry="1.2" fill="#a88470" opacity="0.75" transform="rotate(111 766.6 658.6)"/><ellipse cx="767.5" cy="659.1" rx="2.0" ry="1.6" fill="#a88470" opacity="0.75" transform="rotate(21 767.5 659.1)"/><ellipse cx="716.2" cy="639.8" rx="2.1" ry="1.5" fill="#a88470" opacity="0.75" transform="rotate(18 716.2 639.8)"/><ellipse cx="733.8" cy="660.0" rx="2.6" ry="1.4" fill="#a88470" opacity="0.75" transform="rotate(37 733.8 660.0)"/><ellipse cx="778.7" cy="629.3" rx="2.4" ry="2.1" fill="#b49888" opacity="0.75" transform="rotate(54 778.7 629.3)"/><ellipse cx="732.3" cy="617.2" rx="2.6" ry="1.7" fill="#a88470" opacity="0.75" transform="rotate(64 732.3 617.2)"/><ellipse cx="755.3" cy="665.5" rx="2.2" ry="1.8" fill="#b49888" opacity="0.75" transform="rotate(146 755.3 665.5)"/><ellipse cx="820.3" cy="604.7" rx="25.5" ry="19.5" fill="none" stroke="#c29e84" stroke-width="11.0" opacity="0.72"/><ellipse cx="820.3" cy="604.7" rx="20.5" ry="14.5" fill="#dfdad3"/><ellipse cx="836.1" cy="603.5" rx="6.2" ry="4.5" fill="#cbc0b5" opacity="0.50" transform="rotate(145 836.1 603.5)"/><ellipse cx="823.1" cy="611.7" rx="5.9" ry="5.0" fill="#e8e4de" opacity="0.50" transform="rotate(85 823.1 611.7)"/><ellipse cx="824.2" cy="613.2" rx="4.4" ry="4.4" fill="#cbc0b5" opacity="0.50" transform="rotate(178 824.2 613.2)"/><ellipse cx="826.8" cy="603.2" rx="3.9" ry="2.7" fill="#d2c8bd" opacity="0.50" transform="rotate(61 826.8 603.2)"/><ellipse cx="802.1" cy="606.3" rx="5.4" ry="2.0" fill="#cbc0b5" opacity="0.50" transform="rotate(62 802.1 606.3)"/><ellipse cx="810.6" cy="594.9" rx="3.5" ry="3.2" fill="#cbc0b5" opacity="0.50" transform="rotate(135 810.6 594.9)"/><ellipse cx="817.0" cy="605.1" rx="6.2" ry="3.0" fill="#cbc0b5" opacity="0.50" transform="rotate(71 817.0 605.1)"/><ellipse cx="795.3" cy="619.1" rx="2.4" ry="1.4" fill="#a88470" opacity="0.75" transform="rotate(5 795.3 619.1)"/><ellipse cx="796.7" cy="592.5" rx="2.4" ry="1.8" fill="#b49888" opacity="0.75" transform="rotate(176 796.7 592.5)"/><ellipse cx="805.2" cy="586.3" rx="2.2" ry="1.3" fill="#a88470" opacity="0.75" transform="rotate(144 805.2 586.3)"/><ellipse cx="816.5" cy="584.0" rx="2.5" ry="1.3" fill="#a88470" opacity="0.75" transform="rotate(149 816.5 584.0)"/><ellipse cx="826.8" cy="625.7" rx="1.9" ry="1.4" fill="#b49888" opacity="0.75" transform="rotate(59 826.8 625.7)"/><ellipse cx="791.4" cy="598.0" rx="1.6" ry="1.9" fill="#9e84a0" opacity="0.75" transform="rotate(119 791.4 598.0)"/><ellipse cx="831.5" cy="583.8" rx="2.6" ry="2.1" fill="#a88470" opacity="0.75" transform="rotate(96 831.5 583.8)"/><ellipse cx="795.1" cy="601.7" rx="2.1" ry="1.4" fill="#a88470" opacity="0.75" transform="rotate(140 795.1 601.7)"/><ellipse cx="835.7" cy="621.8" rx="2.3" ry="1.3" fill="#a88470" opacity="0.75" transform="rotate(59 835.7 621.8)"/><ellipse cx="792.0" cy="602.1" rx="2.5" ry="1.3" fill="#b49888" opacity="0.75" transform="rotate(10 792.0 602.1)"/><ellipse cx="829.5" cy="624.0" rx="1.6" ry="1.7" fill="#a88470" opacity="0.75" transform="rotate(137 829.5 624.0)"/><ellipse cx="844.1" cy="592.9" rx="2.3" ry="1.7" fill="#b49888" opacity="0.75" transform="rotate(36 844.1 592.9)"/><ellipse cx="815.5" cy="627.2" rx="2.5" ry="1.7" fill="#a88470" opacity="0.75" transform="rotate(126 815.5 627.2)"/><ellipse cx="842.2" cy="587.4" rx="1.8" ry="1.8" fill="#a88470" opacity="0.75" transform="rotate(151 842.2 587.4)"/><ellipse cx="837.3" cy="620.7" rx="2.1" ry="1.3" fill="#a88470" opacity="0.75" transform="rotate(77 837.3 620.7)"/><ellipse cx="826.6" cy="626.0" rx="1.7" ry="2.0" fill="#b49888" opacity="0.75" transform="rotate(116 826.6 626.0)"/><ellipse cx="802.4" cy="620.8" rx="1.7" ry="1.7" fill="#b49888" opacity="0.75" transform="rotate(171 802.4 620.8)"/><ellipse cx="797.7" cy="618.2" rx="2.8" ry="2.0" fill="#a88470" opacity="0.75" transform="rotate(127 797.7 618.2)"/><ellipse cx="848.0" cy="603.9" rx="2.0" ry="1.6" fill="#a88470" opacity="0.75" transform="rotate(130 848.0 603.9)"/><ellipse cx="848.6" cy="607.5" rx="2.1" ry="1.2" fill="#9e84a0" opacity="0.75" transform="rotate(93 848.6 607.5)"/><ellipse cx="811.6" cy="628.5" rx="1.6" ry="2.1" fill="#a88470" opacity="0.75" transform="rotate(175 811.6 628.5)"/><ellipse cx="882.8" cy="596.9" rx="28.5" ry="26.5" fill="none" stroke="#c29e84" stroke-width="11.0" opacity="0.72"/><ellipse cx="882.8" cy="596.9" rx="23.5" ry="21.5" fill="#dfdad3"/><ellipse cx="887.1" cy="600.0" rx="3.2" ry="4.3" fill="#e8e4de" opacity="0.50" transform="rotate(136 887.1 600.0)"/><ellipse cx="890.2" cy="582.1" rx="5.7" ry="4.8" fill="#e8e4de" opacity="0.50" transform="rotate(27 890.2 582.1)"/><ellipse cx="893.0" cy="591.6" rx="5.8" ry="2.3" fill="#d2c8bd" opacity="0.50" transform="rotate(144 893.0 591.6)"/><ellipse cx="890.2" cy="612.6" rx="4.1" ry="2.1" fill="#d2c8bd" opacity="0.50" transform="rotate(144 890.2 612.6)"/><ellipse cx="897.9" cy="605.2" rx="3.3" ry="4.6" fill="#e8e4de" opacity="0.50" transform="rotate(2 897.9 605.2)"/><ellipse cx="891.3" cy="596.6" rx="6.7" ry="3.9" fill="#d2c8bd" opacity="0.50" transform="rotate(95 891.3 596.6)"/><ellipse cx="883.0" cy="599.0" rx="3.6" ry="2.2" fill="#d2c8bd" opacity="0.50" transform="rotate(168 883.0 599.0)"/><ellipse cx="861.3" cy="575.7" rx="1.8" ry="1.6" fill="#b49888" opacity="0.75" transform="rotate(32 861.3 575.7)"/><ellipse cx="866.8" cy="618.5" rx="1.8" ry="1.2" fill="#b49888" opacity="0.75" transform="rotate(91 866.8 618.5)"/><ellipse cx="913.5" cy="592.9" rx="1.8" ry="1.6" fill="#b49888" opacity="0.75" transform="rotate(147 913.5 592.9)"/><ellipse cx="854.7" cy="608.9" rx="2.6" ry="1.6" fill="#b49888" opacity="0.75" transform="rotate(55 854.7 608.9)"/><ellipse cx="889.2" cy="623.8" rx="1.8" ry="2.1" fill="#b49888" opacity="0.75" transform="rotate(114 889.2 623.8)"/><ellipse cx="858.0" cy="612.8" rx="1.6" ry="1.3" fill="#a88470" opacity="0.75" transform="rotate(113 858.0 612.8)"/><ellipse cx="905.0" cy="577.2" rx="1.6" ry="1.9" fill="#9e84a0" opacity="0.75" transform="rotate(157 905.0 577.2)"/><ellipse cx="868.6" cy="572.4" rx="1.8" ry="1.5" fill="#9e84a0" opacity="0.75" transform="rotate(33 868.6 572.4)"/><ellipse cx="879.5" cy="623.0" rx="2.0" ry="1.5" fill="#b49888" opacity="0.75" transform="rotate(58 879.5 623.0)"/><ellipse cx="915.3" cy="603.6" rx="1.8" ry="1.4" fill="#9e84a0" opacity="0.75" transform="rotate(69 915.3 603.6)"/><ellipse cx="852.2" cy="601.5" rx="1.8" ry="1.7" fill="#a88470" opacity="0.75" transform="rotate(16 852.2 601.5)"/><ellipse cx="894.6" cy="572.2" rx="2.3" ry="1.6" fill="#9e84a0" opacity="0.75" transform="rotate(55 894.6 572.2)"/><ellipse cx="886.2" cy="626.3" rx="2.2" ry="2.0" fill="#b49888" opacity="0.75" transform="rotate(161 886.2 626.3)"/><ellipse cx="889.5" cy="567.9" rx="2.5" ry="1.9" fill="#9e84a0" opacity="0.75" transform="rotate(27 889.5 567.9)"/><ellipse cx="877.7" cy="567.3" rx="1.6" ry="2.0" fill="#b49888" opacity="0.75" transform="rotate(113 877.7 567.3)"/><ellipse cx="879.5" cy="566.1" rx="1.7" ry="1.7" fill="#b49888" opacity="0.75" transform="rotate(102 879.5 566.1)"/><ellipse cx="893.6" cy="572.6" rx="2.4" ry="2.0" fill="#b49888" opacity="0.75" transform="rotate(123 893.6 572.6)"/><ellipse cx="872.6" cy="571.1" rx="1.5" ry="1.3" fill="#9e84a0" opacity="0.75" transform="rotate(173 872.6 571.1)"/><ellipse cx="860.9" cy="617.1" rx="1.6" ry="1.2" fill="#b49888" opacity="0.75" transform="rotate(123 860.9 617.1)"/><ellipse cx="855.0" cy="598.7" rx="2.5" ry="1.9" fill="#b49888" opacity="0.75" transform="rotate(162 855.0 598.7)"/><ellipse cx="908.9" cy="612.9" rx="2.5" ry="1.7" fill="#a88470" opacity="0.75" transform="rotate(152 908.9 612.9)"/><ellipse cx="885.9" cy="627.4" rx="1.8" ry="1.8" fill="#9e84a0" opacity="0.75" transform="rotate(89 885.9 627.4)"/><ellipse cx="860.0" cy="616.4" rx="2.4" ry="2.0" fill="#b49888" opacity="0.75" transform="rotate(114 860.0 616.4)"/><ellipse cx="773.4" cy="671.9" rx="18.5" ry="23.5" fill="none" stroke="#c29e84" stroke-width="11.0" opacity="0.72"/><ellipse cx="773.4" cy="671.9" rx="13.5" ry="18.5" fill="#dfdad3"/><ellipse cx="776.2" cy="681.8" rx="4.3" ry="4.0" fill="#cbc0b5" opacity="0.50" transform="rotate(55 776.2 681.8)"/><ellipse cx="773.2" cy="671.8" rx="3.2" ry="2.8" fill="#cbc0b5" opacity="0.50" transform="rotate(18 773.2 671.8)"/><ellipse cx="774.8" cy="680.2" rx="5.8" ry="2.9" fill="#e8e4de" opacity="0.50" transform="rotate(84 774.8 680.2)"/><ellipse cx="782.9" cy="682.4" rx="3.8" ry="4.9" fill="#e8e4de" opacity="0.50" transform="rotate(3 782.9 682.4)"/><ellipse cx="762.0" cy="675.5" rx="6.9" ry="3.3" fill="#e8e4de" opacity="0.50" transform="rotate(70 762.0 675.5)"/><ellipse cx="785.0" cy="663.8" rx="3.3" ry="2.3" fill="#cbc0b5" opacity="0.50" transform="rotate(94 785.0 663.8)"/><ellipse cx="775.2" cy="671.2" rx="6.3" ry="3.5" fill="#d2c8bd" opacity="0.50" transform="rotate(127 775.2 671.2)"/><ellipse cx="776.2" cy="700.2" rx="2.1" ry="1.2" fill="#a88470" opacity="0.75" transform="rotate(171 776.2 700.2)"/><ellipse cx="764.5" cy="648.4" rx="2.4" ry="1.6" fill="#9e84a0" opacity="0.75" transform="rotate(57 764.5 648.4)"/><ellipse cx="784.0" cy="651.8" rx="2.5" ry="2.0" fill="#a88470" opacity="0.75" transform="rotate(169 784.0 651.8)"/><ellipse cx="780.0" cy="694.4" rx="2.5" ry="1.5" fill="#a88470" opacity="0.75" transform="rotate(71 780.0 694.4)"/><ellipse cx="795.6" cy="671.7" rx="2.0" ry="1.6" fill="#9e84a0" opacity="0.75" transform="rotate(154 795.6 671.7)"/><ellipse cx="769.6" cy="695.5" rx="2.4" ry="1.8" fill="#a88470" opacity="0.75" transform="rotate(45 769.6 695.5)"/><ellipse cx="771.2" cy="698.2" rx="1.7" ry="1.6" fill="#9e84a0" opacity="0.75" transform="rotate(159 771.2 698.2)"/><ellipse cx="781.9" cy="646.9" rx="2.7" ry="2.1" fill="#b49888" opacity="0.75" transform="rotate(37 781.9 646.9)"/><ellipse cx="794.1" cy="685.8" rx="2.0" ry="1.8" fill="#a88470" opacity="0.75" transform="rotate(116 794.1 685.8)"/><ellipse cx="768.9" cy="695.3" rx="2.7" ry="1.3" fill="#9e84a0" opacity="0.75" transform="rotate(75 768.9 695.3)"/><ellipse cx="769.3" cy="696.5" rx="2.5" ry="1.9" fill="#9e84a0" opacity="0.75" transform="rotate(118 769.3 696.5)"/><ellipse cx="766.5" cy="697.2" rx="2.0" ry="1.4" fill="#a88470" opacity="0.75" transform="rotate(14 766.5 697.2)"/><ellipse cx="750.2" cy="671.8" rx="2.2" ry="1.7" fill="#9e84a0" opacity="0.75" transform="rotate(179 750.2 671.8)"/><ellipse cx="754.1" cy="679.5" rx="1.8" ry="1.3" fill="#9e84a0" opacity="0.75" transform="rotate(100 754.1 679.5)"/><ellipse cx="764.4" cy="695.2" rx="2.6" ry="1.4" fill="#a88470" opacity="0.75" transform="rotate(135 764.4 695.2)"/><ellipse cx="755.1" cy="685.4" rx="2.2" ry="1.6" fill="#9e84a0" opacity="0.75" transform="rotate(135 755.1 685.4)"/><ellipse cx="837.5" cy="661.0" rx="20.5" ry="22.5" fill="none" stroke="#c29e84" stroke-width="11.0" opacity="0.72"/><ellipse cx="837.5" cy="661.0" rx="15.5" ry="17.5" fill="#dfdad3"/><ellipse cx="828.5" cy="661.1" rx="4.4" ry="4.1" fill="#cbc0b5" opacity="0.50" transform="rotate(113 828.5 661.1)"/><ellipse cx="839.7" cy="658.2" rx="4.1" ry="2.7" fill="#e8e4de" opacity="0.50" transform="rotate(116 839.7 658.2)"/><ellipse cx="833.1" cy="663.2" rx="6.3" ry="4.9" fill="#d2c8bd" opacity="0.50" transform="rotate(6 833.1 663.2)"/><ellipse cx="834.0" cy="646.4" rx="4.9" ry="3.8" fill="#d2c8bd" opacity="0.50" transform="rotate(13 834.0 646.4)"/><ellipse cx="850.6" cy="654.4" rx="5.1" ry="3.4" fill="#e8e4de" opacity="0.50" transform="rotate(45 850.6 654.4)"/><ellipse cx="839.4" cy="662.6" rx="5.1" ry="4.0" fill="#cbc0b5" opacity="0.50" transform="rotate(126 839.4 662.6)"/><ellipse cx="845.5" cy="648.6" rx="3.3" ry="4.3" fill="#d2c8bd" opacity="0.50" transform="rotate(141 845.5 648.6)"/><ellipse cx="840.3" cy="688.4" rx="2.3" ry="1.5" fill="#a88470" opacity="0.75" transform="rotate(113 840.3 688.4)"/><ellipse cx="814.5" cy="656.6" rx="2.5" ry="1.3" fill="#9e84a0" opacity="0.75" transform="rotate(94 814.5 656.6)"/><ellipse cx="817.4" cy="648.6" rx="1.8" ry="1.8" fill="#a88470" opacity="0.75" transform="rotate(97 817.4 648.6)"/><ellipse cx="860.1" cy="660.4" rx="1.9" ry="2.0" fill="#a88470" opacity="0.75" transform="rotate(86 860.1 660.4)"/><ellipse cx="839.6" cy="685.1" rx="2.7" ry="1.9" fill="#9e84a0" opacity="0.75" transform="rotate(10 839.6 685.1)"/><ellipse cx="846.3" cy="686.7" rx="2.3" ry="1.3" fill="#a88470" opacity="0.75" transform="rotate(120 846.3 686.7)"/><ellipse cx="857.5" cy="650.1" rx="1.5" ry="1.5" fill="#9e84a0" opacity="0.75" transform="rotate(65 857.5 650.1)"/><ellipse cx="820.5" cy="674.9" rx="1.9" ry="2.0" fill="#a88470" opacity="0.75" transform="rotate(37 820.5 674.9)"/><ellipse cx="859.9" cy="656.4" rx="2.6" ry="1.4" fill="#a88470" opacity="0.75" transform="rotate(48 859.9 656.4)"/><ellipse cx="854.3" cy="645.9" rx="2.3" ry="1.8" fill="#a88470" opacity="0.75" transform="rotate(87 854.3 645.9)"/><ellipse cx="855.8" cy="648.6" rx="2.3" ry="2.1" fill="#a88470" opacity="0.75" transform="rotate(38 855.8 648.6)"/><ellipse cx="859.2" cy="657.2" rx="1.6" ry="1.3" fill="#9e84a0" opacity="0.75" transform="rotate(81 859.2 657.2)"/><ellipse cx="832.1" cy="637.2" rx="1.6" ry="1.3" fill="#a88470" opacity="0.75" transform="rotate(59 832.1 637.2)"/><ellipse cx="847.6" cy="686.4" rx="2.5" ry="1.2" fill="#b49888" opacity="0.75" transform="rotate(131 847.6 686.4)"/><ellipse cx="851.3" cy="637.3" rx="2.1" ry="1.3" fill="#a88470" opacity="0.75" transform="rotate(50 851.3 637.3)"/><ellipse cx="822.1" cy="683.3" rx="1.7" ry="2.2" fill="#a88470" opacity="0.75" transform="rotate(68 822.1 683.3)"/><ellipse cx="840.2" cy="636.7" rx="2.5" ry="1.3" fill="#b49888" opacity="0.75" transform="rotate(85 840.2 636.7)"/><ellipse cx="819.6" cy="680.8" rx="1.8" ry="1.6" fill="#9e84a0" opacity="0.75" transform="rotate(5 819.6 680.8)"/><ellipse cx="892.2" cy="671.9" rx="22.5" ry="23.5" fill="none" stroke="#c29e84" stroke-width="11.0" opacity="0.72"/><ellipse cx="892.2" cy="671.9" rx="17.5" ry="18.5" fill="#dfdad3"/><ellipse cx="880.6" cy="679.4" rx="6.1" ry="2.1" fill="#d2c8bd" opacity="0.50" transform="rotate(84 880.6 679.4)"/><ellipse cx="892.5" cy="670.9" rx="3.8" ry="2.2" fill="#cbc0b5" opacity="0.50" transform="rotate(61 892.5 670.9)"/><ellipse cx="890.0" cy="688.4" rx="5.5" ry="2.8" fill="#cbc0b5" opacity="0.50" transform="rotate(124 890.0 688.4)"/><ellipse cx="896.6" cy="669.5" rx="5.9" ry="3.8" fill="#cbc0b5" opacity="0.50" transform="rotate(170 896.6 669.5)"/><ellipse cx="904.9" cy="677.6" rx="3.4" ry="4.1" fill="#e8e4de" opacity="0.50" transform="rotate(172 904.9 677.6)"/><ellipse cx="889.0" cy="674.8" rx="4.7" ry="3.5" fill="#e8e4de" opacity="0.50" transform="rotate(33 889.0 674.8)"/><ellipse cx="896.2" cy="659.7" rx="6.3" ry="4.3" fill="#cbc0b5" opacity="0.50" transform="rotate(43 896.2 659.7)"/><ellipse cx="908.5" cy="651.9" rx="2.5" ry="1.8" fill="#b49888" opacity="0.75" transform="rotate(36 908.5 651.9)"/><ellipse cx="892.6" cy="646.8" rx="1.6" ry="1.2" fill="#b49888" opacity="0.75" transform="rotate(98 892.6 646.8)"/><ellipse cx="905.6" cy="693.9" rx="1.6" ry="1.3" fill="#b49888" opacity="0.75" transform="rotate(15 905.6 693.9)"/><ellipse cx="913.1" cy="686.9" rx="2.4" ry="1.6" fill="#a88470" opacity="0.75" transform="rotate(24 913.1 686.9)"/><ellipse cx="865.6" cy="678.8" rx="1.8" ry="1.7" fill="#b49888" opacity="0.75" transform="rotate(137 865.6 678.8)"/><ellipse cx="896.7" cy="647.0" rx="1.9" ry="1.5" fill="#9e84a0" opacity="0.75" transform="rotate(133 896.7 647.0)"/><ellipse cx="899.8" cy="695.7" rx="1.8" ry="1.4" fill="#b49888" opacity="0.75" transform="rotate(34 899.8 695.7)"/><ellipse cx="914.4" cy="681.8" rx="1.8" ry="1.7" fill="#b49888" opacity="0.75" transform="rotate(146 914.4 681.8)"/><ellipse cx="876.2" cy="648.1" rx="1.6" ry="1.7" fill="#a88470" opacity="0.75" transform="rotate(151 876.2 648.1)"/><ellipse cx="912.1" cy="659.6" rx="1.9" ry="1.3" fill="#a88470" opacity="0.75" transform="rotate(108 912.1 659.6)"/><ellipse cx="903.5" cy="650.0" rx="1.6" ry="1.7" fill="#a88470" opacity="0.75" transform="rotate(81 903.5 650.0)"/><ellipse cx="890.5" cy="699.7" rx="2.7" ry="1.3" fill="#b49888" opacity="0.75" transform="rotate(128 890.5 699.7)"/><ellipse cx="878.6" cy="691.3" rx="1.9" ry="1.2" fill="#9e84a0" opacity="0.75" transform="rotate(7 878.6 691.3)"/><ellipse cx="889.1" cy="643.5" rx="2.6" ry="2.0" fill="#9e84a0" opacity="0.75" transform="rotate(122 889.1 643.5)"/><ellipse cx="901.9" cy="695.2" rx="1.8" ry="2.0" fill="#b49888" opacity="0.75" transform="rotate(87 901.9 695.2)"/><ellipse cx="869.6" cy="687.1" rx="2.4" ry="1.4" fill="#b49888" opacity="0.75" transform="rotate(16 869.6 687.1)"/><ellipse cx="905.9" cy="695.4" rx="2.0" ry="1.5" fill="#9e84a0" opacity="0.75" transform="rotate(75 905.9 695.4)"/><ellipse cx="917.5" cy="680.7" rx="2.6" ry="1.6" fill="#a88470" opacity="0.75" transform="rotate(156 917.5 680.7)"/><ellipse cx="917.0" cy="671.4" rx="1.8" ry="1.9" fill="#a88470" opacity="0.75" transform="rotate(170 917.0 671.4)"/><ellipse cx="726.6" cy="709.4" rx="11.5" ry="26.5" fill="none" stroke="#c29e84" stroke-width="11.0" opacity="0.72"/><ellipse cx="726.6" cy="709.4" rx="6.5" ry="21.5" fill="#dfdad3"/><ellipse cx="725.1" cy="710.6" rx="3.5" ry="2.3" fill="#cbc0b5" opacity="0.50" transform="rotate(159 725.1 710.6)"/><ellipse cx="725.0" cy="710.2" rx="3.1" ry="3.7" fill="#cbc0b5" opacity="0.50" transform="rotate(145 725.0 710.2)"/><ellipse cx="721.9" cy="716.0" rx="6.7" ry="4.2" fill="#d2c8bd" opacity="0.50" transform="rotate(26 721.9 716.0)"/><ellipse cx="725.5" cy="719.2" rx="6.7" ry="2.3" fill="#e8e4de" opacity="0.50" transform="rotate(136 725.5 719.2)"/><ellipse cx="728.7" cy="694.5" rx="4.2" ry="4.5" fill="#d2c8bd" opacity="0.50" transform="rotate(176 728.7 694.5)"/><ellipse cx="726.1" cy="709.5" rx="6.7" ry="3.2" fill="#cbc0b5" opacity="0.50" transform="rotate(112 726.1 709.5)"/><ellipse cx="727.3" cy="706.7" rx="6.1" ry="2.7" fill="#e8e4de" opacity="0.50" transform="rotate(111 727.3 706.7)"/><ellipse cx="731.7" cy="736.7" rx="2.2" ry="1.2" fill="#b49888" opacity="0.75" transform="rotate(28 731.7 736.7)"/><ellipse cx="717.5" cy="730.4" rx="2.8" ry="2.0" fill="#a88470" opacity="0.75" transform="rotate(7 717.5 730.4)"/><ellipse cx="711.6" cy="697.7" rx="1.5" ry="2.0" fill="#a88470" opacity="0.75" transform="rotate(70 711.6 697.7)"/><ellipse cx="710.7" cy="717.9" rx="2.5" ry="1.8" fill="#9e84a0" opacity="0.75" transform="rotate(105 710.7 717.9)"/><ellipse cx="712.4" cy="722.9" rx="2.1" ry="1.6" fill="#a88470" opacity="0.75" transform="rotate(1 712.4 722.9)"/><ellipse cx="741.9" cy="706.9" rx="2.1" ry="1.8" fill="#9e84a0" opacity="0.75" transform="rotate(151 741.9 706.9)"/><ellipse cx="732.2" cy="682.9" rx="1.6" ry="1.6" fill="#9e84a0" opacity="0.75" transform="rotate(17 732.2 682.9)"/><ellipse cx="712.1" cy="719.8" rx="1.6" ry="1.8" fill="#a88470" opacity="0.75" transform="rotate(166 712.1 719.8)"/><ellipse cx="720.3" cy="737.4" rx="1.6" ry="2.0" fill="#9e84a0" opacity="0.75" transform="rotate(117 720.3 737.4)"/><ellipse cx="729.6" cy="683.6" rx="1.6" ry="1.8" fill="#b49888" opacity="0.75" transform="rotate(147 729.6 683.6)"/><ellipse cx="732.5" cy="739.3" rx="2.1" ry="2.2" fill="#a88470" opacity="0.75" transform="rotate(124 732.5 739.3)"/><ellipse cx="776.6" cy="718.8" rx="22.5" ry="20.5" fill="none" stroke="#c29e84" stroke-width="11.0" opacity="0.72"/><ellipse cx="776.6" cy="718.8" rx="17.5" ry="15.5" fill="#dfdad3"/><ellipse cx="775.9" cy="715.4" rx="6.3" ry="3.8" fill="#e8e4de" opacity="0.50" transform="rotate(29 775.9 715.4)"/><ellipse cx="780.3" cy="716.2" rx="6.3" ry="2.4" fill="#cbc0b5" opacity="0.50" transform="rotate(174 780.3 716.2)"/><ellipse cx="766.7" cy="720.0" rx="5.5" ry="2.7" fill="#e8e4de" opacity="0.50" transform="rotate(7 766.7 720.0)"/><ellipse cx="777.7" cy="721.1" rx="6.7" ry="4.0" fill="#e8e4de" opacity="0.50" transform="rotate(30 777.7 721.1)"/><ellipse cx="777.0" cy="717.0" rx="5.1" ry="3.9" fill="#e8e4de" opacity="0.50" transform="rotate(174 777.0 717.0)"/><ellipse cx="768.2" cy="721.2" rx="5.8" ry="4.7" fill="#e8e4de" opacity="0.50" transform="rotate(179 768.2 721.2)"/><ellipse cx="772.1" cy="714.3" rx="6.2" ry="2.8" fill="#e8e4de" opacity="0.50" transform="rotate(104 772.1 714.3)"/><ellipse cx="759.5" cy="738.0" rx="2.1" ry="1.4" fill="#b49888" opacity="0.75" transform="rotate(172 759.5 738.0)"/><ellipse cx="769.3" cy="741.5" rx="1.9" ry="2.2" fill="#b49888" opacity="0.75" transform="rotate(167 769.3 741.5)"/><ellipse cx="797.7" cy="703.7" rx="2.5" ry="1.4" fill="#9e84a0" opacity="0.75" transform="rotate(111 797.7 703.7)"/><ellipse cx="753.3" cy="728.6" rx="2.7" ry="1.3" fill="#a88470" opacity="0.75" transform="rotate(110 753.3 728.6)"/><ellipse cx="798.9" cy="724.9" rx="2.2" ry="1.5" fill="#b49888" opacity="0.75" transform="rotate(64 798.9 724.9)"/><ellipse cx="780.8" cy="742.5" rx="2.3" ry="1.4" fill="#b49888" opacity="0.75" transform="rotate(149 780.8 742.5)"/><ellipse cx="789.1" cy="736.8" rx="2.5" ry="1.9" fill="#9e84a0" opacity="0.75" transform="rotate(17 789.1 736.8)"/><ellipse cx="758.9" cy="699.4" rx="2.5" ry="1.6" fill="#9e84a0" opacity="0.75" transform="rotate(174 758.9 699.4)"/><ellipse cx="802.0" cy="727.5" rx="2.7" ry="1.8" fill="#b49888" opacity="0.75" transform="rotate(80 802.0 727.5)"/><ellipse cx="801.2" cy="709.3" rx="1.8" ry="2.1" fill="#a88470" opacity="0.75" transform="rotate(11 801.2 709.3)"/><ellipse cx="800.2" cy="722.3" rx="1.7" ry="2.1" fill="#a88470" opacity="0.75" transform="rotate(2 800.2 722.3)"/><ellipse cx="750.3" cy="710.7" rx="1.7" ry="1.4" fill="#b49888" opacity="0.75" transform="rotate(116 750.3 710.7)"/><ellipse cx="761.6" cy="700.2" rx="2.3" ry="1.7" fill="#a88470" opacity="0.75" transform="rotate(54 761.6 700.2)"/><ellipse cx="802.8" cy="726.4" rx="2.5" ry="1.9" fill="#a88470" opacity="0.75" transform="rotate(68 802.8 726.4)"/><ellipse cx="751.2" cy="728.7" rx="1.6" ry="1.9" fill="#a88470" opacity="0.75" transform="rotate(41 751.2 728.7)"/><ellipse cx="795.6" cy="732.6" rx="1.6" ry="1.5" fill="#b49888" opacity="0.75" transform="rotate(167 795.6 732.6)"/><ellipse cx="799.3" cy="710.9" rx="1.6" ry="1.8" fill="#b49888" opacity="0.75" transform="rotate(78 799.3 710.9)"/><ellipse cx="782.7" cy="695.7" rx="1.8" ry="1.8" fill="#a88470" opacity="0.75" transform="rotate(15 782.7 695.7)"/><ellipse cx="752.8" cy="717.8" rx="2.7" ry="2.0" fill="#a88470" opacity="0.75" transform="rotate(170 752.8 717.8)"/><ellipse cx="840.6" cy="715.6" rx="23.5" ry="22.5" fill="none" stroke="#c29e84" stroke-width="11.0" opacity="0.72"/><ellipse cx="840.6" cy="715.6" rx="18.5" ry="17.5" fill="#dfdad3"/><ellipse cx="840.5" cy="710.1" rx="6.5" ry="3.0" fill="#d2c8bd" opacity="0.50" transform="rotate(68 840.5 710.1)"/><ellipse cx="850.2" cy="703.2" rx="6.9" ry="4.5" fill="#cbc0b5" opacity="0.50" transform="rotate(85 850.2 703.2)"/><ellipse cx="847.1" cy="705.7" rx="6.4" ry="3.3" fill="#cbc0b5" opacity="0.50" transform="rotate(42 847.1 705.7)"/><ellipse cx="850.9" cy="706.8" rx="4.6" ry="3.8" fill="#cbc0b5" opacity="0.50" transform="rotate(164 850.9 706.8)"/><ellipse cx="840.9" cy="716.0" rx="3.4" ry="4.8" fill="#e8e4de" opacity="0.50" transform="rotate(176 840.9 716.0)"/><ellipse cx="840.4" cy="715.1" rx="3.6" ry="3.9" fill="#d2c8bd" opacity="0.50" transform="rotate(125 840.4 715.1)"/><ellipse cx="840.5" cy="714.5" rx="5.4" ry="3.1" fill="#cbc0b5" opacity="0.50" transform="rotate(160 840.5 714.5)"/><ellipse cx="866.5" cy="726.6" rx="2.7" ry="2.1" fill="#a88470" opacity="0.75" transform="rotate(44 866.5 726.6)"/><ellipse cx="847.6" cy="737.7" rx="2.7" ry="2.1" fill="#b49888" opacity="0.75" transform="rotate(16 847.6 737.7)"/><ellipse cx="840.8" cy="689.5" rx="2.1" ry="1.3" fill="#b49888" opacity="0.75" transform="rotate(37 840.8 689.5)"/><ellipse cx="829.7" cy="738.4" rx="1.5" ry="1.5" fill="#9e84a0" opacity="0.75" transform="rotate(9 829.7 738.4)"/><ellipse cx="842.4" cy="688.1" rx="2.5" ry="1.8" fill="#9e84a0" opacity="0.75" transform="rotate(153 842.4 688.1)"/><ellipse cx="823.0" cy="700.0" rx="2.0" ry="1.6" fill="#a88470" opacity="0.75" transform="rotate(62 823.0 700.0)"/><ellipse cx="833.1" cy="691.0" rx="1.8" ry="2.1" fill="#a88470" opacity="0.75" transform="rotate(103 833.1 691.0)"/><ellipse cx="834.6" cy="740.1" rx="2.2" ry="1.5" fill="#a88470" opacity="0.75" transform="rotate(1 834.6 740.1)"/><ellipse cx="814.3" cy="717.1" rx="2.5" ry="1.4" fill="#9e84a0" opacity="0.75" transform="rotate(107 814.3 717.1)"/><ellipse cx="866.1" cy="708.8" rx="2.3" ry="1.4" fill="#a88470" opacity="0.75" transform="rotate(169 866.1 708.8)"/><ellipse cx="843.5" cy="739.2" rx="2.7" ry="2.0" fill="#9e84a0" opacity="0.75" transform="rotate(142 843.5 739.2)"/><ellipse cx="831.5" cy="690.1" rx="2.3" ry="1.6" fill="#9e84a0" opacity="0.75" transform="rotate(167 831.5 690.1)"/><ellipse cx="862.1" cy="698.8" rx="2.0" ry="1.8" fill="#9e84a0" opacity="0.75" transform="rotate(37 862.1 698.8)"/><ellipse cx="838.2" cy="743.0" rx="2.2" ry="1.6" fill="#b49888" opacity="0.75" transform="rotate(42 838.2 743.0)"/><ellipse cx="814.8" cy="721.8" rx="2.5" ry="2.0" fill="#b49888" opacity="0.75" transform="rotate(6 814.8 721.8)"/><ellipse cx="817.5" cy="703.1" rx="2.6" ry="1.7" fill="#b49888" opacity="0.75" transform="rotate(134 817.5 703.1)"/><ellipse cx="853.2" cy="737.6" rx="2.5" ry="1.8" fill="#a88470" opacity="0.75" transform="rotate(60 853.2 737.6)"/><ellipse cx="823.5" cy="694.9" rx="2.2" ry="1.5" fill="#b49888" opacity="0.75" transform="rotate(149 823.5 694.9)"/><ellipse cx="820.2" cy="697.7" rx="2.8" ry="1.9" fill="#b49888" opacity="0.75" transform="rotate(94 820.2 697.7)"/><ellipse cx="854.1" cy="736.5" rx="1.7" ry="2.2" fill="#b49888" opacity="0.75" transform="rotate(179 854.1 736.5)"/><ellipse cx="901.6" cy="718.8" rx="25.5" ry="20.5" fill="none" stroke="#c29e84" stroke-width="11.0" opacity="0.72"/><ellipse cx="901.6" cy="718.8" rx="20.5" ry="15.5" fill="#dfdad3"/><ellipse cx="907.9" cy="727.6" rx="3.8" ry="2.5" fill="#d2c8bd" opacity="0.50" transform="rotate(143 907.9 727.6)"/><ellipse cx="900.8" cy="712.1" rx="3.8" ry="3.9" fill="#d2c8bd" opacity="0.50" transform="rotate(51 900.8 712.1)"/><ellipse cx="908.1" cy="714.0" rx="3.1" ry="4.6" fill="#e8e4de" opacity="0.50" transform="rotate(125 908.1 714.0)"/><ellipse cx="889.8" cy="718.8" rx="4.9" ry="2.4" fill="#cbc0b5" opacity="0.50" transform="rotate(133 889.8 718.8)"/><ellipse cx="906.1" cy="718.9" rx="6.4" ry="4.1" fill="#cbc0b5" opacity="0.50" transform="rotate(135 906.1 718.9)"/><ellipse cx="897.9" cy="720.5" rx="5.9" ry="4.6" fill="#cbc0b5" opacity="0.50" transform="rotate(126 897.9 720.5)"/><ellipse cx="909.2" cy="710.3" rx="5.6" ry="3.4" fill="#e8e4de" opacity="0.50" transform="rotate(47 909.2 710.3)"/><ellipse cx="892.3" cy="694.5" rx="1.8" ry="1.6" fill="#b49888" opacity="0.75" transform="rotate(113 892.3 694.5)"/><ellipse cx="901.6" cy="742.1" rx="2.1" ry="1.8" fill="#9e84a0" opacity="0.75" transform="rotate(93 901.6 742.1)"/><ellipse cx="885.5" cy="697.3" rx="2.7" ry="1.5" fill="#a88470" opacity="0.75" transform="rotate(70 885.5 697.3)"/><ellipse cx="870.8" cy="720.5" rx="1.5" ry="1.7" fill="#a88470" opacity="0.75" transform="rotate(129 870.8 720.5)"/><ellipse cx="926.9" cy="712.1" rx="2.0" ry="2.0" fill="#9e84a0" opacity="0.75" transform="rotate(97 926.9 712.1)"/><ellipse cx="895.8" cy="695.6" rx="2.3" ry="2.0" fill="#b49888" opacity="0.75" transform="rotate(62 895.8 695.6)"/><ellipse cx="900.2" cy="695.4" rx="2.8" ry="1.4" fill="#b49888" opacity="0.75" transform="rotate(137 900.2 695.4)"/><ellipse cx="923.8" cy="736.8" rx="2.0" ry="1.3" fill="#9e84a0" opacity="0.75" transform="rotate(69 923.8 736.8)"/><ellipse cx="925.5" cy="727.0" rx="2.7" ry="1.8" fill="#b49888" opacity="0.75" transform="rotate(63 925.5 727.0)"/><ellipse cx="899.1" cy="741.1" rx="2.5" ry="2.1" fill="#b49888" opacity="0.75" transform="rotate(175 899.1 741.1)"/><ellipse cx="932.4" cy="717.9" rx="2.1" ry="1.4" fill="#a88470" opacity="0.75" transform="rotate(146 932.4 717.9)"/><ellipse cx="883.0" cy="701.2" rx="2.2" ry="1.4" fill="#a88470" opacity="0.75" transform="rotate(64 883.0 701.2)"/><ellipse cx="882.3" cy="699.5" rx="2.6" ry="1.7" fill="#9e84a0" opacity="0.75" transform="rotate(137 882.3 699.5)"/><ellipse cx="884.0" cy="698.6" rx="2.1" ry="2.0" fill="#a88470" opacity="0.75" transform="rotate(48 884.0 698.6)"/><ellipse cx="882.5" cy="734.6" rx="2.1" ry="1.4" fill="#a88470" opacity="0.75" transform="rotate(145 882.5 734.6)"/><ellipse cx="909.9" cy="696.9" rx="2.4" ry="1.5" fill="#9e84a0" opacity="0.75" transform="rotate(77 909.9 696.9)"/><ellipse cx="882.7" cy="700.3" rx="2.0" ry="2.1" fill="#9e84a0" opacity="0.75" transform="rotate(10 882.7 700.3)"/><ellipse cx="915.9" cy="696.2" rx="2.5" ry="1.3" fill="#9e84a0" opacity="0.75" transform="rotate(114 915.9 696.2)"/><ellipse cx="927.0" cy="720.8" rx="2.7" ry="1.9" fill="#9e84a0" opacity="0.75" transform="rotate(109 927.0 720.8)"/><ellipse cx="875.0" cy="706.8" rx="1.7" ry="1.7" fill="#a88470" opacity="0.75" transform="rotate(38 875.0 706.8)"/><ellipse cx="878.4" cy="732.5" rx="2.3" ry="1.9" fill="#a88470" opacity="0.75" transform="rotate(120 878.4 732.5)"/><ellipse cx="937.5" cy="625.0" rx="14.5" ry="35.5" fill="none" stroke="#c29e84" stroke-width="11.0" opacity="0.72"/><ellipse cx="937.5" cy="625.0" rx="9.5" ry="30.5" fill="#dfdad3"/><ellipse cx="944.9" cy="613.0" rx="6.4" ry="2.6" fill="#cbc0b5" opacity="0.50" transform="rotate(38 944.9 613.0)"/><ellipse cx="946.4" cy="634.8" rx="5.7" ry="2.4" fill="#d2c8bd" opacity="0.50" transform="rotate(48 946.4 634.8)"/><ellipse cx="937.7" cy="628.4" rx="5.0" ry="2.2" fill="#e8e4de" opacity="0.50" transform="rotate(163 937.7 628.4)"/><ellipse cx="936.6" cy="619.2" rx="3.7" ry="3.8" fill="#cbc0b5" opacity="0.50" transform="rotate(1 936.6 619.2)"/><ellipse cx="940.5" cy="615.3" rx="5.3" ry="4.0" fill="#e8e4de" opacity="0.50" transform="rotate(67 940.5 615.3)"/><ellipse cx="927.4" cy="636.5" rx="3.3" ry="3.9" fill="#cbc0b5" opacity="0.50" transform="rotate(116 927.4 636.5)"/><ellipse cx="938.0" cy="625.1" rx="5.9" ry="5.0" fill="#d2c8bd" opacity="0.50" transform="rotate(92 938.0 625.1)"/><ellipse cx="918.0" cy="628.9" rx="1.5" ry="1.9" fill="#b49888" opacity="0.75" transform="rotate(23 918.0 628.9)"/><ellipse cx="953.1" cy="646.5" rx="1.9" ry="2.0" fill="#b49888" opacity="0.75" transform="rotate(139 953.1 646.5)"/><ellipse cx="941.9" cy="660.7" rx="2.0" ry="1.8" fill="#9e84a0" opacity="0.75" transform="rotate(53 941.9 660.7)"/><ellipse cx="945.9" cy="592.7" rx="2.2" ry="1.5" fill="#b49888" opacity="0.75" transform="rotate(62 945.9 592.7)"/><ellipse cx="942.7" cy="660.7" rx="1.7" ry="1.4" fill="#b49888" opacity="0.75" transform="rotate(54 942.7 660.7)"/><ellipse cx="921.5" cy="605.2" rx="2.5" ry="1.2" fill="#b49888" opacity="0.75" transform="rotate(100 921.5 605.2)"/><ellipse cx="922.2" cy="646.1" rx="2.0" ry="1.3" fill="#a88470" opacity="0.75" transform="rotate(34 922.2 646.1)"/><ellipse cx="953.9" cy="606.9" rx="2.4" ry="2.0" fill="#b49888" opacity="0.75" transform="rotate(110 953.9 606.9)"/><ellipse cx="923.6" cy="599.4" rx="2.4" ry="1.8" fill="#b49888" opacity="0.75" transform="rotate(15 923.6 599.4)"/><ellipse cx="955.6" cy="634.4" rx="2.3" ry="1.4" fill="#b49888" opacity="0.75" transform="rotate(33 955.6 634.4)"/><ellipse cx="956.2" cy="634.1" rx="2.7" ry="1.9" fill="#9e84a0" opacity="0.75" transform="rotate(157 956.2 634.1)"/><ellipse cx="948.8" cy="652.5" rx="2.4" ry="2.1" fill="#a88470" opacity="0.75" transform="rotate(76 948.8 652.5)"/><ellipse cx="930.0" cy="658.4" rx="2.3" ry="2.1" fill="#a88470" opacity="0.75" transform="rotate(90 930.0 658.4)"/><ellipse cx="918.3" cy="619.5" rx="2.5" ry="1.6" fill="#b49888" opacity="0.75" transform="rotate(165 918.3 619.5)"/><ellipse cx="942.2" cy="692.2" rx="9.5" ry="22.5" fill="none" stroke="#c29e84" stroke-width="11.0" opacity="0.72"/><ellipse cx="942.2" cy="692.2" rx="4.5" ry="17.5" fill="#dfdad3"/><ellipse cx="942.1" cy="692.3" rx="4.5" ry="3.8" fill="#cbc0b5" opacity="0.50" transform="rotate(177 942.1 692.3)"/><ellipse cx="938.5" cy="693.3" rx="3.4" ry="3.9" fill="#d2c8bd" opacity="0.50" transform="rotate(161 938.5 693.3)"/><ellipse cx="939.5" cy="687.1" rx="3.0" ry="4.0" fill="#d2c8bd" opacity="0.50" transform="rotate(39 939.5 687.1)"/><ellipse cx="945.3" cy="697.7" rx="4.1" ry="3.7" fill="#e8e4de" opacity="0.50" transform="rotate(132 945.3 697.7)"/><ellipse cx="942.4" cy="693.0" rx="6.1" ry="4.1" fill="#d2c8bd" opacity="0.50" transform="rotate(131 942.4 693.0)"/><ellipse cx="947.1" cy="697.5" rx="5.8" ry="3.4" fill="#e8e4de" opacity="0.50" transform="rotate(164 947.1 697.5)"/><ellipse cx="942.5" cy="692.4" rx="3.2" ry="4.6" fill="#cbc0b5" opacity="0.50" transform="rotate(147 942.5 692.4)"/><ellipse cx="953.7" cy="704.0" rx="2.4" ry="1.4" fill="#9e84a0" opacity="0.75" transform="rotate(110 953.7 704.0)"/><ellipse cx="936.2" cy="717.6" rx="2.4" ry="1.7" fill="#a88470" opacity="0.75" transform="rotate(26 936.2 717.6)"/><ellipse cx="946.1" cy="668.5" rx="2.3" ry="1.8" fill="#9e84a0" opacity="0.75" transform="rotate(86 946.1 668.5)"/><ellipse cx="944.6" cy="667.3" rx="1.9" ry="2.0" fill="#9e84a0" opacity="0.75" transform="rotate(53 944.6 667.3)"/><ellipse cx="956.1" cy="702.6" rx="2.4" ry="2.0" fill="#9e84a0" opacity="0.75" transform="rotate(157 956.1 702.6)"/><ellipse cx="940.3" cy="669.4" rx="1.7" ry="2.0" fill="#b49888" opacity="0.75" transform="rotate(77 940.3 669.4)"/><ellipse cx="952.4" cy="676.1" rx="2.4" ry="1.8" fill="#a88470" opacity="0.75" transform="rotate(145 952.4 676.1)"/><ellipse cx="939.6" cy="714.7" rx="1.8" ry="1.6" fill="#b49888" opacity="0.75" transform="rotate(166 939.6 714.7)"/><ellipse cx="943.4" cy="665.4" rx="1.9" ry="1.3" fill="#b49888" opacity="0.75" transform="rotate(26 943.4 665.4)"/><ellipse cx="956.5" cy="688.0" rx="2.2" ry="2.0" fill="#9e84a0" opacity="0.75" transform="rotate(62 956.5 688.0)"/><ellipse cx="790.0" cy="560.0" rx="16.5" ry="8.5" fill="none" stroke="#c29e84" stroke-width="11.0" opacity="0.72"/><ellipse cx="790.0" cy="560.0" rx="11.5" ry="3.5" fill="#dfdad3"/><ellipse cx="796.3" cy="562.4" rx="6.2" ry="2.6" fill="#cbc0b5" opacity="0.50" transform="rotate(168 796.3 562.4)"/><ellipse cx="790.8" cy="565.1" rx="5.7" ry="3.4" fill="#d2c8bd" opacity="0.50" transform="rotate(167 790.8 565.1)"/><ellipse cx="789.9" cy="560.0" rx="4.5" ry="3.6" fill="#cbc0b5" opacity="0.50" transform="rotate(145 789.9 560.0)"/><ellipse cx="790.4" cy="558.1" rx="5.3" ry="4.7" fill="#cbc0b5" opacity="0.50" transform="rotate(58 790.4 558.1)"/><ellipse cx="787.3" cy="559.9" rx="3.9" ry="2.3" fill="#cbc0b5" opacity="0.50" transform="rotate(52 787.3 559.9)"/><ellipse cx="785.8" cy="558.6" rx="6.1" ry="4.6" fill="#d2c8bd" opacity="0.50" transform="rotate(8 785.8 558.6)"/><ellipse cx="794.9" cy="559.9" rx="3.4" ry="3.9" fill="#d2c8bd" opacity="0.50" transform="rotate(28 794.9 559.9)"/><ellipse cx="774.1" cy="552.9" rx="2.2" ry="1.2" fill="#a88470" opacity="0.75" transform="rotate(37 774.1 552.9)"/><ellipse cx="804.0" cy="550.6" rx="2.3" ry="1.4" fill="#9e84a0" opacity="0.75" transform="rotate(77 804.0 550.6)"/><ellipse cx="809.9" cy="555.6" rx="2.6" ry="2.2" fill="#9e84a0" opacity="0.75" transform="rotate(152 809.9 555.6)"/><ellipse cx="778.4" cy="571.9" rx="2.0" ry="1.2" fill="#a88470" opacity="0.75" transform="rotate(100 778.4 571.9)"/><ellipse cx="803.6" cy="550.8" rx="2.7" ry="2.1" fill="#a88470" opacity="0.75" transform="rotate(155 803.6 550.8)"/><ellipse cx="776.2" cy="549.4" rx="2.4" ry="1.3" fill="#9e84a0" opacity="0.75" transform="rotate(102 776.2 549.4)"/><ellipse cx="776.2" cy="549.3" rx="2.4" ry="1.6" fill="#9e84a0" opacity="0.75" transform="rotate(153 776.2 549.3)"/><ellipse cx="776.9" cy="568.8" rx="2.4" ry="1.4" fill="#9e84a0" opacity="0.75" transform="rotate(169 776.9 568.8)"/><ellipse cx="808.8" cy="564.7" rx="1.5" ry="2.1" fill="#9e84a0" opacity="0.75" transform="rotate(142 808.8 564.7)"/><ellipse cx="784.8" cy="547.3" rx="2.8" ry="1.3" fill="#a88470" opacity="0.75" transform="rotate(57 784.8 547.3)"/><ellipse cx="808.8" cy="560.4" rx="2.5" ry="1.8" fill="#9e84a0" opacity="0.75" transform="rotate(136 808.8 560.4)"/><ellipse cx="805.2" cy="567.6" rx="1.8" ry="1.3" fill="#9e84a0" opacity="0.75" transform="rotate(68 805.2 567.6)"/><ellipse cx="770.2" cy="564.9" rx="2.7" ry="2.1" fill="#9e84a0" opacity="0.75" transform="rotate(129 770.2 564.9)"/><ellipse cx="796.1" cy="570.9" rx="2.7" ry="1.4" fill="#b49888" opacity="0.75" transform="rotate(156 796.1 570.9)"/><ellipse cx="804.2" cy="552.4" rx="2.1" ry="1.3" fill="#9e84a0" opacity="0.75" transform="rotate(152 804.2 552.4)"/><ellipse cx="850.0" cy="552.0" rx="10.5" ry="6.5" fill="none" stroke="#c29e84" stroke-width="11.0" opacity="0.72"/><ellipse cx="850.0" cy="552.0" rx="5.5" ry="1.5" fill="#dfdad3"/><ellipse cx="847.0" cy="549.6" rx="4.4" ry="4.5" fill="#e8e4de" opacity="0.50" transform="rotate(21 847.0 549.6)"/><ellipse cx="847.9" cy="553.8" rx="5.9" ry="2.5" fill="#e8e4de" opacity="0.50" transform="rotate(100 847.9 553.8)"/><ellipse cx="855.1" cy="556.9" rx="4.1" ry="3.2" fill="#d2c8bd" opacity="0.50" transform="rotate(5 855.1 556.9)"/><ellipse cx="847.4" cy="551.1" rx="6.2" ry="2.8" fill="#d2c8bd" opacity="0.50" transform="rotate(57 847.4 551.1)"/><ellipse cx="850.9" cy="551.5" rx="6.9" ry="2.2" fill="#cbc0b5" opacity="0.50" transform="rotate(167 850.9 551.5)"/><ellipse cx="842.5" cy="549.8" rx="3.5" ry="4.3" fill="#e8e4de" opacity="0.50" transform="rotate(78 842.5 549.8)"/><ellipse cx="849.8" cy="553.7" rx="4.0" ry="3.2" fill="#e8e4de" opacity="0.50" transform="rotate(161 849.8 553.7)"/><ellipse cx="864.2" cy="556.0" rx="1.9" ry="2.2" fill="#a88470" opacity="0.75" transform="rotate(80 864.2 556.0)"/><ellipse cx="835.4" cy="551.5" rx="2.1" ry="2.0" fill="#b49888" opacity="0.75" transform="rotate(52 835.4 551.5)"/><ellipse cx="841.6" cy="559.6" rx="2.0" ry="1.5" fill="#a88470" opacity="0.75" transform="rotate(25 841.6 559.6)"/><ellipse cx="856.5" cy="562.4" rx="2.4" ry="1.4" fill="#a88470" opacity="0.75" transform="rotate(149 856.5 562.4)"/><ellipse cx="861.7" cy="544.7" rx="2.5" ry="1.4" fill="#a88470" opacity="0.75" transform="rotate(110 861.7 544.7)"/><ellipse cx="845.9" cy="540.8" rx="2.3" ry="1.4" fill="#a88470" opacity="0.75" transform="rotate(125 845.9 540.8)"/><ellipse cx="834.6" cy="550.6" rx="2.7" ry="1.7" fill="#9e84a0" opacity="0.75" transform="rotate(60 834.6 550.6)"/><ellipse cx="858.5" cy="542.2" rx="2.1" ry="1.2" fill="#9e84a0" opacity="0.75" transform="rotate(24 858.5 542.2)"/><ellipse cx="843.0" cy="543.1" rx="2.2" ry="2.2" fill="#a88470" opacity="0.75" transform="rotate(29 843.0 543.1)"/><ellipse cx="839.8" cy="560.1" rx="1.5" ry="1.7" fill="#9e84a0" opacity="0.75" transform="rotate(174 839.8 560.1)"/><ellipse cx="862.7" cy="556.6" rx="1.8" ry="2.0" fill="#9e84a0" opacity="0.75" transform="rotate(140 862.7 556.6)"/><ellipse cx="922.3" cy="653.6" rx="2.5" ry="1.2" fill="#7c78a8" opacity="0.70" transform="rotate(172 922.3 653.6)"/><ellipse cx="831.3" cy="640.3" rx="2.0" ry="1.4" fill="#7c78a8" opacity="0.70" transform="rotate(44 831.3 640.3)"/><ellipse cx="732.3" cy="662.5" rx="1.6" ry="1.2" fill="#6a6a9a" opacity="0.70" transform="rotate(147 732.3 662.5)"/><ellipse cx="718.0" cy="552.9" rx="2.2" ry="1.1" fill="#7c78a8" opacity="0.70" transform="rotate(151 718.0 552.9)"/><ellipse cx="866.0" cy="630.0" rx="1.7" ry="1.3" fill="#8a80a8" opacity="0.70" transform="rotate(157 866.0 630.0)"/><ellipse cx="885.5" cy="542.2" rx="1.5" ry="1.3" fill="#6a6a9a" opacity="0.70" transform="rotate(137 885.5 542.2)"/><ellipse cx="737.5" cy="558.2" rx="2.5" ry="1.4" fill="#7c78a8" opacity="0.70" transform="rotate(155 737.5 558.2)"/><ellipse cx="746.6" cy="652.8" rx="2.3" ry="1.1" fill="#7c78a8" opacity="0.70" transform="rotate(169 746.6 652.8)"/><ellipse cx="805.5" cy="620.9" rx="2.4" ry="1.4" fill="#8a80a8" opacity="0.70" transform="rotate(175 805.5 620.9)"/><ellipse cx="723.4" cy="608.9" rx="1.9" ry="1.6" fill="#6a6a9a" opacity="0.70" transform="rotate(78 723.4 608.9)"/><ellipse cx="949.9" cy="701.4" rx="2.5" ry="1.6" fill="#6a6a9a" opacity="0.70" transform="rotate(10 949.9 701.4)"/><ellipse cx="836.8" cy="733.6" rx="2.5" ry="1.2" fill="#8a80a8" opacity="0.70" transform="rotate(119 836.8 733.6)"/><ellipse cx="713.5" cy="555.6" rx="1.6" ry="1.2" fill="#7c78a8" opacity="0.70" transform="rotate(91 713.5 555.6)"/><ellipse cx="715.8" cy="561.9" rx="2.6" ry="1.5" fill="#8a80a8" opacity="0.70" transform="rotate(114 715.8 561.9)"/><ellipse cx="908.0" cy="718.2" rx="2.5" ry="1.0" fill="#6a6a9a" opacity="0.70" transform="rotate(112 908.0 718.2)"/><ellipse cx="934.5" cy="663.4" rx="2.2" ry="1.6" fill="#7c78a8" opacity="0.70" transform="rotate(112 934.5 663.4)"/><ellipse cx="771.8" cy="641.8" rx="1.9" ry="1.7" fill="#8a80a8" opacity="0.70" transform="rotate(20 771.8 641.8)"/><ellipse cx="795.4" cy="567.7" rx="1.5" ry="1.7" fill="#6a6a9a" opacity="0.70" transform="rotate(162 795.4 567.7)"/><ellipse cx="731.3" cy="656.5" rx="2.5" ry="1.3" fill="#6a6a9a" opacity="0.70" transform="rotate(24 731.3 656.5)"/><ellipse cx="782.3" cy="618.0" rx="1.7" ry="1.2" fill="#7c78a8" opacity="0.70" transform="rotate(133 782.3 618.0)"/><ellipse cx="780.7" cy="627.9" rx="2.2" ry="1.2" fill="#8a80a8" opacity="0.70" transform="rotate(36 780.7 627.9)"/><ellipse cx="883.9" cy="629.3" rx="2.1" ry="1.4" fill="#8a80a8" opacity="0.70" transform="rotate(147 883.9 629.3)"/><ellipse cx="718.2" cy="602.7" rx="1.6" ry="1.4" fill="#6a6a9a" opacity="0.70" transform="rotate(71 718.2 602.7)"/><ellipse cx="936.0" cy="566.7" rx="2.5" ry="1.2" fill="#8a80a8" opacity="0.70" transform="rotate(88 936.0 566.7)"/><ellipse cx="780.1" cy="739.8" rx="1.8" ry="1.5" fill="#7c78a8" opacity="0.70" transform="rotate(99 780.1 739.8)"/><ellipse cx="858.4" cy="605.7" rx="2.2" ry="1.4" fill="#8a80a8" opacity="0.70" transform="rotate(64 858.4 605.7)"/><ellipse cx="896.7" cy="641.9" rx="2.6" ry="1.5" fill="#7c78a8" opacity="0.70" transform="rotate(75 896.7 641.9)"/><ellipse cx="873.6" cy="562.1" rx="1.6" ry="1.4" fill="#8a80a8" opacity="0.70" transform="rotate(148 873.6 562.1)"/><ellipse cx="836.9" cy="687.6" rx="2.3" ry="1.5" fill="#8a80a8" opacity="0.70" transform="rotate(48 836.9 687.6)"/><ellipse cx="864.5" cy="665.3" rx="2.2" ry="1.3" fill="#7c78a8" opacity="0.70" transform="rotate(1 864.5 665.3)"/><ellipse cx="897.4" cy="655.5" rx="2.0" ry="1.7" fill="#6a6a9a" opacity="0.70" transform="rotate(27 897.4 655.5)"/><ellipse cx="917.9" cy="591.3" rx="2.1" ry="1.1" fill="#8a80a8" opacity="0.70" transform="rotate(125 917.9 591.3)"/><ellipse cx="780.9" cy="606.6" rx="1.8" ry="1.4" fill="#6a6a9a" opacity="0.70" transform="rotate(69 780.9 606.6)"/><ellipse cx="789.2" cy="697.8" rx="2.4" ry="1.3" fill="#8a80a8" opacity="0.70" transform="rotate(54 789.2 697.8)"/><ellipse cx="841.6" cy="701.1" rx="1.9" ry="1.3" fill="#7c78a8" opacity="0.70" transform="rotate(16 841.6 701.1)"/><ellipse cx="935.0" cy="600.6" rx="2.4" ry="1.6" fill="#8a80a8" opacity="0.70" transform="rotate(37 935.0 600.6)"/><ellipse cx="814.7" cy="723.6" rx="1.4" ry="1.0" fill="#6a6a9a" opacity="0.70" transform="rotate(161 814.7 723.6)"/><ellipse cx="783.8" cy="645.2" rx="1.8" ry="1.4" fill="#8a80a8" opacity="0.70" transform="rotate(93 783.8 645.2)"/><ellipse cx="836.8" cy="676.4" rx="1.9" ry="1.3" fill="#6a6a9a" opacity="0.70" transform="rotate(122 836.8 676.4)"/><ellipse cx="821.2" cy="534.9" rx="1.5" ry="1.2" fill="#8a80a8" opacity="0.70" transform="rotate(67 821.2 534.9)"/><ellipse cx="808.4" cy="650.4" rx="2.1" ry="1.6" fill="#8a80a8" opacity="0.70" transform="rotate(88 808.4 650.4)"/><ellipse cx="818.0" cy="663.7" rx="2.6" ry="1.2" fill="#6a6a9a" opacity="0.70" transform="rotate(134 818.0 663.7)"/><ellipse cx="733.2" cy="608.8" rx="1.8" ry="1.1" fill="#8a80a8" opacity="0.70" transform="rotate(92 733.2 608.8)"/><ellipse cx="737.6" cy="720.3" rx="2.2" ry="1.6" fill="#6a6a9a" opacity="0.70" transform="rotate(160 737.6 720.3)"/><ellipse cx="813.3" cy="565.5" rx="1.7" ry="1.4" fill="#6a6a9a" opacity="0.70" transform="rotate(161 813.3 565.5)"/><filter id="nz1" x="710.7" y="532.7" width="243.79999999999995" height="209.69999999999993" filterUnits="userSpaceOnUse"><feTurbulence type="fractalNoise" baseFrequency="0.12" numOctaves="2" seed="11"/><feColorMatrix type="matrix" values="0 0 0 0 0.588 0 0 0 0 0.471 0 0 0 0 0.392 1.6 0 0 0 -0.78"/></filter><rect x="710.7" y="532.7" width="243.79999999999995" height="209.69999999999993" filter="url(#nz1)"/><filter id="nz1b" x="710.7" y="532.7" width="243.79999999999995" height="209.69999999999993" filterUnits="userSpaceOnUse"><feTurbulence type="fractalNoise" baseFrequency="0.04" numOctaves="2" seed="5"/><feColorMatrix type="matrix" values="0 0 0 0 0.745 0 0 0 0 0.588 0 0 0 0 0.431 1.6 0 0 0 -0.8"/></filter><rect x="710.7" y="532.7" width="243.79999999999995" height="209.69999999999993" filter="url(#nz1b)"/></g></g>
<clipPath id="ihc2"><rect x="962.3" y="532.7" width="244.7" height="209.7"/></clipPath><filter id="ihc2f" x="952.3" y="522.7" width="264.7" height="229.7" filterUnits="userSpaceOnUse"><feTurbulence type="fractalNoise" baseFrequency="0.045" numOctaves="2" seed="3" result="t"/><feDisplacementMap in="SourceGraphic" in2="t" scale="9" xChannelSelector="R" yChannelSelector="G" result="d"/><feGaussianBlur in="d" stdDeviation="1.0"/></filter><g clip-path="url(#ihc2)"><g filter="url(#ihc2f)"><rect x="956.30" y="526.70" width="256.70" height="221.70" fill="#e2e5d8"/><ellipse cx="1063.2" cy="545.3" rx="9.0" ry="1.3" fill="#c4b8d4" opacity="0.70" transform="rotate(125 1063.2 545.3)"/><ellipse cx="964.9" cy="533.3" rx="10.0" ry="2.0" fill="#c8b0c8" opacity="0.70" transform="rotate(72 964.9 533.3)"/><ellipse cx="986.4" cy="535.9" rx="5.2" ry="1.4" fill="#c8b0c8" opacity="0.70" transform="rotate(157 986.4 535.9)"/><ellipse cx="1181.4" cy="640.6" rx="6.0" ry="1.5" fill="#c4b8d4" opacity="0.70" transform="rotate(26 1181.4 640.6)"/><ellipse cx="1089.2" cy="639.5" rx="5.2" ry="1.3" fill="#d0c8d8" opacity="0.70" transform="rotate(148 1089.2 639.5)"/><ellipse cx="1112.3" cy="701.8" rx="5.4" ry="1.2" fill="#c8b0c8" opacity="0.70" transform="rotate(26 1112.3 701.8)"/><ellipse cx="1020.6" cy="590.5" rx="5.2" ry="2.1" fill="#c4b8d4" opacity="0.70" transform="rotate(63 1020.6 590.5)"/><ellipse cx="1072.4" cy="613.6" rx="5.4" ry="2.4" fill="#c4b8d4" opacity="0.70" transform="rotate(79 1072.4 613.6)"/><ellipse cx="1114.1" cy="585.0" rx="5.3" ry="2.5" fill="#b8a8cc" opacity="0.70" transform="rotate(57 1114.1 585.0)"/><ellipse cx="1182.3" cy="703.8" rx="7.1" ry="2.0" fill="#d0c8d8" opacity="0.70" transform="rotate(176 1182.3 703.8)"/><ellipse cx="978.8" cy="674.7" rx="9.7" ry="2.0" fill="#d0c8d8" opacity="0.70" transform="rotate(56 978.8 674.7)"/><ellipse cx="1176.5" cy="634.3" rx="10.5" ry="1.5" fill="#b8a8cc" opacity="0.70" transform="rotate(31 1176.5 634.3)"/><ellipse cx="1055.0" cy="534.3" rx="11.2" ry="1.8" fill="#c8b0c8" opacity="0.70" transform="rotate(21 1055.0 534.3)"/><ellipse cx="1092.9" cy="613.6" rx="7.8" ry="1.3" fill="#c4b8d4" opacity="0.70" transform="rotate(76 1092.9 613.6)"/><ellipse cx="1185.7" cy="648.8" rx="7.7" ry="1.9" fill="#c8b0c8" opacity="0.70" transform="rotate(43 1185.7 648.8)"/><ellipse cx="970.8" cy="672.0" rx="7.4" ry="1.4" fill="#b8a8cc" opacity="0.70" transform="rotate(17 970.8 672.0)"/><ellipse cx="1028.3" cy="707.8" rx="5.9" ry="1.8" fill="#b8a8cc" opacity="0.70" transform="rotate(29 1028.3 707.8)"/><ellipse cx="1048.7" cy="684.2" rx="7.6" ry="2.5" fill="#b8a8cc" opacity="0.70" transform="rotate(54 1048.7 684.2)"/><ellipse cx="1078.8" cy="575.6" rx="11.0" ry="2.1" fill="#c8b0c8" opacity="0.70" transform="rotate(107 1078.8 575.6)"/><ellipse cx="1070.1" cy="740.3" rx="8.7" ry="1.8" fill="#b8a8cc" opacity="0.70" transform="rotate(23 1070.1 740.3)"/><ellipse cx="1146.0" cy="674.8" rx="5.6" ry="2.4" fill="#d0c8d8" opacity="0.70" transform="rotate(5 1146.0 674.8)"/><ellipse cx="1138.1" cy="563.1" rx="5.1" ry="2.2" fill="#b8a8cc" opacity="0.70" transform="rotate(140 1138.1 563.1)"/><ellipse cx="1019.0" cy="572.2" rx="11.2" ry="1.3" fill="#c8b0c8" opacity="0.70" transform="rotate(145 1019.0 572.2)"/><ellipse cx="1147.9" cy="573.1" rx="10.0" ry="1.3" fill="#c8b0c8" opacity="0.70" transform="rotate(23 1147.9 573.1)"/><ellipse cx="1137.7" cy="591.9" rx="7.8" ry="2.5" fill="#b8a8cc" opacity="0.70" transform="rotate(169 1137.7 591.9)"/><ellipse cx="1005.5" cy="609.6" rx="10.6" ry="2.2" fill="#d0c8d8" opacity="0.70" transform="rotate(5 1005.5 609.6)"/><ellipse cx="1134.5" cy="629.7" rx="12.0" ry="1.8" fill="#c4b8d4" opacity="0.70" transform="rotate(33 1134.5 629.7)"/><ellipse cx="990.5" cy="724.1" rx="10.1" ry="2.2" fill="#c4b8d4" opacity="0.70" transform="rotate(73 990.5 724.1)"/><ellipse cx="1111.2" cy="623.0" rx="10.3" ry="1.4" fill="#c4b8d4" opacity="0.70" transform="rotate(99 1111.2 623.0)"/><ellipse cx="1116.3" cy="730.1" rx="9.0" ry="1.5" fill="#d0c8d8" opacity="0.70" transform="rotate(129 1116.3 730.1)"/><ellipse cx="1024.6" cy="623.9" rx="9.8" ry="1.7" fill="#c4b8d4" opacity="0.70" transform="rotate(20 1024.6 623.9)"/><ellipse cx="1149.2" cy="670.1" rx="11.3" ry="2.4" fill="#c4b8d4" opacity="0.70" transform="rotate(175 1149.2 670.1)"/><ellipse cx="1129.0" cy="540.5" rx="7.2" ry="2.3" fill="#c8b0c8" opacity="0.70" transform="rotate(135 1129.0 540.5)"/><ellipse cx="983.4" cy="678.4" rx="7.8" ry="2.2" fill="#b8a8cc" opacity="0.70" transform="rotate(51 983.4 678.4)"/><ellipse cx="984.3" cy="731.2" rx="8.0" ry="2.5" fill="#d0c8d8" opacity="0.70" transform="rotate(92 984.3 731.2)"/><ellipse cx="1127.9" cy="575.9" rx="9.7" ry="2.4" fill="#b8a8cc" opacity="0.70" transform="rotate(88 1127.9 575.9)"/><ellipse cx="1008.6" cy="732.4" rx="10.8" ry="2.0" fill="#b8a8cc" opacity="0.70" transform="rotate(98 1008.6 732.4)"/><ellipse cx="1199.5" cy="666.4" rx="8.8" ry="1.5" fill="#c4b8d4" opacity="0.70" transform="rotate(30 1199.5 666.4)"/><ellipse cx="1047.3" cy="552.1" rx="9.5" ry="1.4" fill="#d0c8d8" opacity="0.70" transform="rotate(121 1047.3 552.1)"/><ellipse cx="1020.5" cy="583.4" rx="8.6" ry="1.8" fill="#c8b0c8" opacity="0.70" transform="rotate(126 1020.5 583.4)"/><ellipse cx="994.9" cy="681.1" rx="9.1" ry="1.5" fill="#c4b8d4" opacity="0.70" transform="rotate(99 994.9 681.1)"/><ellipse cx="1148.4" cy="568.2" rx="9.7" ry="2.0" fill="#d0c8d8" opacity="0.70" transform="rotate(151 1148.4 568.2)"/><ellipse cx="1061.7" cy="576.0" rx="9.8" ry="1.2" fill="#d0c8d8" opacity="0.70" transform="rotate(37 1061.7 576.0)"/><ellipse cx="977.1" cy="591.6" rx="6.4" ry="2.2" fill="#d0c8d8" opacity="0.70" transform="rotate(173 977.1 591.6)"/><ellipse cx="1001.8" cy="626.0" rx="9.0" ry="1.6" fill="#c4b8d4" opacity="0.70" transform="rotate(8 1001.8 626.0)"/><polygon points="1034.0,548.0 1048.0,536.0 1080.0,532.0 1112.0,532.0 1126.0,540.0 1124.0,558.0 1108.0,570.0 1100.0,586.0 1084.0,590.0 1076.0,578.0 1058.0,582.0 1040.0,574.0" fill="#b06a2c" stroke="#a4405a" stroke-width="3.5" stroke-linejoin="round"/><polygon points="1144.0,566.0 1158.0,548.0 1172.0,544.0 1186.0,556.0 1190.0,580.0 1176.0,590.0 1150.0,586.0" fill="#b06a2c" stroke="#a4405a" stroke-width="3.5" stroke-linejoin="round"/><polygon points="975.0,600.0 992.0,586.0 1010.0,590.0 1016.0,614.0 1008.0,640.0 984.0,641.0 974.0,624.0" fill="#b06a2c" stroke="#a4405a" stroke-width="3.5" stroke-linejoin="round"/><polygon points="1082.0,560.0 1110.0,566.0 1140.0,570.0 1144.0,600.0 1124.0,618.0 1100.0,610.0 1088.0,590.0" fill="#b06a2c" stroke="#a4405a" stroke-width="3.5" stroke-linejoin="round"/><polygon points="1050.0,604.0 1066.0,598.0 1086.0,606.0 1090.0,624.0 1078.0,646.0 1090.0,652.0 1120.0,648.0 1150.0,646.0 1180.0,650.0 1190.0,670.0 1186.0,700.0 1174.0,716.0 1150.0,720.0 1125.0,716.0 1100.0,720.0 1066.0,719.0 1036.0,716.0 1020.0,704.0 1019.0,680.0 1030.0,662.0 1042.0,632.0" fill="#b06a2c" stroke="#a4405a" stroke-width="3.5" stroke-linejoin="round"/><polygon points="962.0,708.0 984.0,706.0 1004.0,712.0 1016.0,724.0 1016.0,742.0 962.0,742.0" fill="#b06a2c" stroke="#a4405a" stroke-width="3.5" stroke-linejoin="round"/><polygon points="1165.0,728.0 1180.0,721.0 1207.0,720.0 1207.0,742.0 1160.0,742.0" fill="#b06a2c" stroke="#a4405a" stroke-width="3.5" stroke-linejoin="round"/><ellipse cx="1078.7" cy="575.3" rx="4.0" ry="5.2" fill="#a85a30" opacity="0.45"/><ellipse cx="1044.0" cy="560.4" rx="4.3" ry="3.6" fill="#b87838" opacity="0.45"/><ellipse cx="1063.6" cy="552.8" rx="3.3" ry="3.9" fill="#b87838" opacity="0.45"/><ellipse cx="1057.1" cy="546.3" rx="3.4" ry="3.1" fill="#d0b070" opacity="0.45"/><ellipse cx="1111.2" cy="549.2" rx="3.6" ry="4.9" fill="#984040" opacity="0.45"/><ellipse cx="1049.5" cy="577.5" rx="5.5" ry="5.2" fill="#a85a30" opacity="0.45"/><ellipse cx="1068.9" cy="569.5" rx="4.1" ry="3.7" fill="#c89858" opacity="0.45"/><ellipse cx="1084.7" cy="553.4" rx="5.5" ry="3.7" fill="#cfa868" opacity="0.45"/><ellipse cx="1071.1" cy="534.9" rx="3.6" ry="4.3" fill="#984040" opacity="0.45"/><ellipse cx="1048.5" cy="549.4" rx="4.7" ry="3.2" fill="#984040" opacity="0.45"/><ellipse cx="1054.9" cy="540.0" rx="4.9" ry="4.2" fill="#cfa868" opacity="0.45"/><ellipse cx="1112.3" cy="559.8" rx="3.7" ry="4.1" fill="#cfa868" opacity="0.45"/><ellipse cx="1106.4" cy="556.7" rx="3.8" ry="5.0" fill="#b87838" opacity="0.45"/><ellipse cx="1099.4" cy="583.7" rx="3.2" ry="3.0" fill="#c89858" opacity="0.45"/><ellipse cx="1117.2" cy="541.5" rx="3.9" ry="4.3" fill="#b87838" opacity="0.45"/><ellipse cx="1096.1" cy="564.9" rx="4.4" ry="4.6" fill="#b87838" opacity="0.45"/><ellipse cx="1091.0" cy="579.0" rx="3.2" ry="5.0" fill="#b87838" opacity="0.45"/><ellipse cx="1094.6" cy="564.8" rx="4.3" ry="4.1" fill="#984040" opacity="0.45"/><ellipse cx="1093.6" cy="549.4" rx="4.0" ry="5.7" fill="#cfa868" opacity="0.45"/><ellipse cx="1112.0" cy="544.9" rx="5.2" ry="5.1" fill="#c89858" opacity="0.45"/><ellipse cx="1094.8" cy="553.6" rx="4.7" ry="4.2" fill="#b87838" opacity="0.45"/><ellipse cx="1056.1" cy="557.6" rx="3.8" ry="3.7" fill="#c89858" opacity="0.45"/><ellipse cx="1084.4" cy="538.5" rx="5.6" ry="3.8" fill="#cfa868" opacity="0.45"/><ellipse cx="1051.3" cy="570.9" rx="5.1" ry="3.7" fill="#d0b070" opacity="0.45"/><ellipse cx="1054.8" cy="565.2" rx="3.3" ry="4.5" fill="#b87838" opacity="0.45"/><ellipse cx="1086.2" cy="581.4" rx="5.0" ry="5.4" fill="#c89858" opacity="0.45"/><ellipse cx="1113.4" cy="563.9" rx="5.1" ry="5.3" fill="#cfa868" opacity="0.45"/><ellipse cx="1091.6" cy="587.7" rx="4.5" ry="4.4" fill="#984040" opacity="0.45"/><ellipse cx="1070.1" cy="541.9" rx="5.9" ry="4.7" fill="#cfa868" opacity="0.45"/><ellipse cx="1039.3" cy="545.7" rx="4.1" ry="3.0" fill="#b87838" opacity="0.45"/><ellipse cx="1121.9" cy="558.7" rx="3.4" ry="3.4" fill="#cfa868" opacity="0.45"/><ellipse cx="1091.1" cy="582.6" rx="4.7" ry="5.8" fill="#a85a30" opacity="0.45"/><ellipse cx="1049.5" cy="575.2" rx="4.0" ry="5.3" fill="#984040" opacity="0.45"/><ellipse cx="1056.0" cy="561.8" rx="4.6" ry="4.1" fill="#d0b070" opacity="0.45"/><ellipse cx="1043.2" cy="563.8" rx="5.4" ry="3.3" fill="#984040" opacity="0.45"/><ellipse cx="1056.3" cy="552.6" rx="5.1" ry="3.1" fill="#b87838" opacity="0.45"/><ellipse cx="1074.5" cy="577.9" rx="4.5" ry="3.2" fill="#a85a30" opacity="0.45"/><ellipse cx="1152.5" cy="569.5" rx="3.9" ry="5.1" fill="#d0b070" opacity="0.45"/><ellipse cx="1182.5" cy="571.1" rx="3.8" ry="6.0" fill="#a85a30" opacity="0.45"/><ellipse cx="1159.7" cy="550.9" rx="4.5" ry="5.6" fill="#cfa868" opacity="0.45"/><ellipse cx="1147.4" cy="572.5" rx="4.9" ry="4.8" fill="#d0b070" opacity="0.45"/><ellipse cx="1188.5" cy="575.9" rx="4.3" ry="3.7" fill="#b87838" opacity="0.45"/><ellipse cx="1167.8" cy="560.6" rx="4.6" ry="3.9" fill="#c89858" opacity="0.45"/><ellipse cx="1171.1" cy="546.0" rx="3.5" ry="4.1" fill="#d0b070" opacity="0.45"/><ellipse cx="1159.2" cy="565.5" rx="5.8" ry="3.9" fill="#a85a30" opacity="0.45"/><ellipse cx="1170.6" cy="559.4" rx="3.1" ry="4.4" fill="#b87838" opacity="0.45"/><ellipse cx="1174.9" cy="556.5" rx="3.8" ry="4.5" fill="#a85a30" opacity="0.45"/><ellipse cx="1160.4" cy="570.4" rx="4.8" ry="3.4" fill="#984040" opacity="0.45"/><ellipse cx="1145.6" cy="569.8" rx="5.3" ry="5.6" fill="#d0b070" opacity="0.45"/><ellipse cx="1173.1" cy="573.2" rx="4.1" ry="3.8" fill="#c89858" opacity="0.45"/><ellipse cx="1175.3" cy="558.0" rx="5.3" ry="5.2" fill="#b87838" opacity="0.45"/><ellipse cx="1183.2" cy="555.3" rx="5.6" ry="5.1" fill="#a85a30" opacity="0.45"/><ellipse cx="987.6" cy="640.4" rx="4.4" ry="4.1" fill="#c89858" opacity="0.45"/><ellipse cx="980.3" cy="597.3" rx="5.7" ry="5.0" fill="#d0b070" opacity="0.45"/><ellipse cx="992.7" cy="617.3" rx="3.9" ry="3.5" fill="#cfa868" opacity="0.45"/><ellipse cx="980.0" cy="625.6" rx="3.8" ry="4.7" fill="#984040" opacity="0.45"/><ellipse cx="1013.4" cy="604.7" rx="5.8" ry="4.8" fill="#cfa868" opacity="0.45"/><ellipse cx="998.6" cy="602.7" rx="4.1" ry="4.4" fill="#984040" opacity="0.45"/><ellipse cx="992.0" cy="633.8" rx="3.2" ry="4.5" fill="#c89858" opacity="0.45"/><ellipse cx="985.6" cy="600.2" rx="3.1" ry="3.5" fill="#a85a30" opacity="0.45"/><ellipse cx="976.0" cy="610.6" rx="5.7" ry="3.8" fill="#b87838" opacity="0.45"/><ellipse cx="1001.2" cy="596.8" rx="5.2" ry="5.9" fill="#b87838" opacity="0.45"/><ellipse cx="1008.3" cy="617.7" rx="5.2" ry="3.0" fill="#a85a30" opacity="0.45"/><ellipse cx="996.6" cy="634.1" rx="4.9" ry="5.8" fill="#c89858" opacity="0.45"/><ellipse cx="987.5" cy="633.7" rx="3.1" ry="4.5" fill="#b87838" opacity="0.45"/><ellipse cx="1002.5" cy="604.6" rx="3.2" ry="4.2" fill="#cfa868" opacity="0.45"/><ellipse cx="977.7" cy="619.7" rx="5.3" ry="6.0" fill="#d0b070" opacity="0.45"/><ellipse cx="984.8" cy="611.5" rx="3.0" ry="5.8" fill="#b87838" opacity="0.45"/><ellipse cx="1001.5" cy="603.2" rx="4.2" ry="5.1" fill="#a85a30" opacity="0.45"/><ellipse cx="1095.0" cy="590.7" rx="5.5" ry="4.1" fill="#a85a30" opacity="0.45"/><ellipse cx="1108.2" cy="591.2" rx="4.8" ry="4.7" fill="#984040" opacity="0.45"/><ellipse cx="1142.8" cy="593.3" rx="3.7" ry="4.9" fill="#984040" opacity="0.45"/><ellipse cx="1122.1" cy="597.8" rx="4.6" ry="5.1" fill="#b87838" opacity="0.45"/><ellipse cx="1099.3" cy="590.4" rx="5.8" ry="3.4" fill="#cfa868" opacity="0.45"/><ellipse cx="1140.1" cy="596.2" rx="3.4" ry="4.6" fill="#c89858" opacity="0.45"/><ellipse cx="1116.4" cy="570.5" rx="5.8" ry="4.1" fill="#c89858" opacity="0.45"/><ellipse cx="1135.1" cy="605.2" rx="4.6" ry="4.1" fill="#984040" opacity="0.45"/><ellipse cx="1112.9" cy="596.9" rx="4.0" ry="5.4" fill="#d0b070" opacity="0.45"/><ellipse cx="1138.6" cy="599.1" rx="4.1" ry="3.7" fill="#d0b070" opacity="0.45"/><ellipse cx="1140.6" cy="596.4" rx="3.7" ry="3.8" fill="#a85a30" opacity="0.45"/><ellipse cx="1126.0" cy="574.0" rx="4.1" ry="4.0" fill="#d0b070" opacity="0.45"/><ellipse cx="1121.8" cy="577.3" rx="6.0" ry="3.6" fill="#b87838" opacity="0.45"/><ellipse cx="1131.0" cy="587.7" rx="5.8" ry="5.3" fill="#c89858" opacity="0.45"/><ellipse cx="1133.0" cy="576.4" rx="4.0" ry="4.5" fill="#c89858" opacity="0.45"/><ellipse cx="1119.1" cy="586.3" rx="4.7" ry="5.6" fill="#c89858" opacity="0.45"/><ellipse cx="1134.8" cy="602.7" rx="3.1" ry="5.3" fill="#d0b070" opacity="0.45"/><ellipse cx="1083.5" cy="566.5" rx="5.9" ry="3.0" fill="#a85a30" opacity="0.45"/><ellipse cx="1044.8" cy="687.8" rx="3.3" ry="3.5" fill="#984040" opacity="0.45"/><ellipse cx="1128.8" cy="679.2" rx="4.2" ry="4.0" fill="#cfa868" opacity="0.45"/><ellipse cx="1042.1" cy="670.6" rx="4.7" ry="5.1" fill="#984040" opacity="0.45"/><ellipse cx="1073.1" cy="705.2" rx="3.4" ry="4.5" fill="#c89858" opacity="0.45"/><ellipse cx="1057.3" cy="663.9" rx="4.9" ry="4.6" fill="#cfa868" opacity="0.45"/><ellipse cx="1109.6" cy="700.4" rx="5.9" ry="3.2" fill="#c89858" opacity="0.45"/><ellipse cx="1164.9" cy="716.6" rx="3.7" ry="3.2" fill="#984040" opacity="0.45"/><ellipse cx="1049.3" cy="630.3" rx="3.2" ry="3.1" fill="#b87838" opacity="0.45"/><ellipse cx="1027.2" cy="694.3" rx="5.9" ry="3.8" fill="#a85a30" opacity="0.45"/><ellipse cx="1136.7" cy="677.7" rx="4.6" ry="4.6" fill="#984040" opacity="0.45"/><ellipse cx="1089.2" cy="719.2" rx="5.2" ry="3.8" fill="#d0b070" opacity="0.45"/><ellipse cx="1073.4" cy="649.1" rx="5.9" ry="4.2" fill="#d0b070" opacity="0.45"/><ellipse cx="1169.8" cy="696.1" rx="5.7" ry="4.9" fill="#c89858" opacity="0.45"/><ellipse cx="1122.9" cy="711.0" rx="3.8" ry="4.8" fill="#d0b070" opacity="0.45"/><ellipse cx="1141.5" cy="647.5" rx="4.7" ry="5.1" fill="#d0b070" opacity="0.45"/><ellipse cx="1146.6" cy="702.1" rx="4.5" ry="4.8" fill="#d0b070" opacity="0.45"/><ellipse cx="1059.1" cy="674.8" rx="5.2" ry="4.1" fill="#984040" opacity="0.45"/><ellipse cx="1064.6" cy="678.5" rx="5.5" ry="3.2" fill="#b87838" opacity="0.45"/><ellipse cx="1132.6" cy="710.7" rx="5.3" ry="3.8" fill="#d0b070" opacity="0.45"/><ellipse cx="1119.8" cy="667.6" rx="6.0" ry="3.2" fill="#b87838" opacity="0.45"/><ellipse cx="1081.3" cy="623.0" rx="3.5" ry="4.1" fill="#984040" opacity="0.45"/><ellipse cx="1048.5" cy="698.3" rx="4.4" ry="4.9" fill="#984040" opacity="0.45"/><ellipse cx="1084.2" cy="699.5" rx="5.5" ry="3.4" fill="#c89858" opacity="0.45"/><ellipse cx="1081.4" cy="678.9" rx="4.6" ry="3.9" fill="#984040" opacity="0.45"/><ellipse cx="1095.8" cy="656.4" rx="5.4" ry="5.3" fill="#c89858" opacity="0.45"/><ellipse cx="1102.6" cy="678.6" rx="4.9" ry="4.6" fill="#d0b070" opacity="0.45"/><ellipse cx="1062.2" cy="665.9" rx="3.0" ry="3.8" fill="#b87838" opacity="0.45"/><ellipse cx="1049.5" cy="685.6" rx="3.8" ry="4.0" fill="#c89858" opacity="0.45"/><ellipse cx="1064.4" cy="651.4" rx="4.6" ry="4.5" fill="#cfa868" opacity="0.45"/><ellipse cx="1053.5" cy="649.6" rx="5.4" ry="4.9" fill="#a85a30" opacity="0.45"/><ellipse cx="1176.4" cy="685.5" rx="4.1" ry="3.1" fill="#a85a30" opacity="0.45"/><ellipse cx="1059.8" cy="701.7" rx="3.4" ry="4.9" fill="#984040" opacity="0.45"/><ellipse cx="1053.7" cy="702.9" rx="3.2" ry="4.3" fill="#d0b070" opacity="0.45"/><ellipse cx="1108.9" cy="658.6" rx="5.7" ry="5.3" fill="#cfa868" opacity="0.45"/><ellipse cx="1037.4" cy="666.7" rx="5.8" ry="5.1" fill="#d0b070" opacity="0.45"/><ellipse cx="1089.9" cy="655.8" rx="5.7" ry="4.3" fill="#d0b070" opacity="0.45"/><ellipse cx="1042.1" cy="689.8" rx="3.0" ry="3.7" fill="#c89858" opacity="0.45"/><ellipse cx="1135.3" cy="665.6" rx="5.3" ry="5.3" fill="#cfa868" opacity="0.45"/><ellipse cx="1034.4" cy="701.4" rx="4.7" ry="3.0" fill="#d0b070" opacity="0.45"/><ellipse cx="1034.1" cy="689.9" rx="4.7" ry="3.2" fill="#984040" opacity="0.45"/><ellipse cx="1053.2" cy="638.9" rx="5.6" ry="4.7" fill="#984040" opacity="0.45"/><ellipse cx="1090.5" cy="669.2" rx="6.0" ry="5.5" fill="#984040" opacity="0.45"/><ellipse cx="1043.9" cy="638.8" rx="4.6" ry="3.0" fill="#b87838" opacity="0.45"/><ellipse cx="1066.0" cy="630.0" rx="3.9" ry="3.8" fill="#a85a30" opacity="0.45"/><ellipse cx="1114.0" cy="660.3" rx="4.3" ry="3.2" fill="#a85a30" opacity="0.45"/><ellipse cx="1061.5" cy="644.4" rx="4.3" ry="4.6" fill="#a85a30" opacity="0.45"/><ellipse cx="1053.5" cy="604.4" rx="4.6" ry="4.1" fill="#d0b070" opacity="0.45"/><ellipse cx="1131.2" cy="684.6" rx="3.4" ry="5.8" fill="#a85a30" opacity="0.45"/><ellipse cx="1053.2" cy="710.2" rx="4.7" ry="3.2" fill="#a85a30" opacity="0.45"/><ellipse cx="1181.7" cy="698.5" rx="3.1" ry="3.7" fill="#d0b070" opacity="0.45"/><ellipse cx="1068.9" cy="684.7" rx="5.4" ry="4.8" fill="#d0b070" opacity="0.45"/><ellipse cx="1088.4" cy="686.8" rx="3.6" ry="3.6" fill="#c89858" opacity="0.45"/><ellipse cx="1093.2" cy="676.0" rx="3.1" ry="5.6" fill="#cfa868" opacity="0.45"/><ellipse cx="1158.2" cy="658.7" rx="3.0" ry="5.2" fill="#984040" opacity="0.45"/><ellipse cx="1155.9" cy="658.8" rx="5.0" ry="5.0" fill="#a85a30" opacity="0.45"/><ellipse cx="1156.1" cy="663.2" rx="3.5" ry="5.3" fill="#984040" opacity="0.45"/><ellipse cx="1054.4" cy="610.3" rx="3.3" ry="5.4" fill="#cfa868" opacity="0.45"/><ellipse cx="1089.9" cy="678.4" rx="3.8" ry="5.7" fill="#984040" opacity="0.45"/><ellipse cx="1091.6" cy="703.9" rx="5.8" ry="3.4" fill="#c89858" opacity="0.45"/><ellipse cx="1058.8" cy="669.0" rx="4.0" ry="4.7" fill="#c89858" opacity="0.45"/><ellipse cx="1071.9" cy="629.5" rx="4.6" ry="3.6" fill="#984040" opacity="0.45"/><ellipse cx="1098.4" cy="686.8" rx="4.3" ry="5.0" fill="#cfa868" opacity="0.45"/><ellipse cx="1131.2" cy="662.0" rx="3.2" ry="4.5" fill="#cfa868" opacity="0.45"/><ellipse cx="1147.3" cy="658.6" rx="5.8" ry="3.3" fill="#d0b070" opacity="0.45"/><ellipse cx="1066.9" cy="635.0" rx="4.8" ry="5.3" fill="#c89858" opacity="0.45"/><ellipse cx="1042.9" cy="631.1" rx="5.7" ry="5.5" fill="#c89858" opacity="0.45"/><ellipse cx="1045.0" cy="634.6" rx="3.5" ry="4.1" fill="#d0b070" opacity="0.45"/><ellipse cx="1061.3" cy="688.6" rx="3.5" ry="5.4" fill="#a85a30" opacity="0.45"/><ellipse cx="1157.3" cy="686.3" rx="4.4" ry="5.2" fill="#cfa868" opacity="0.45"/><ellipse cx="1153.7" cy="670.7" rx="4.4" ry="3.1" fill="#b87838" opacity="0.45"/><ellipse cx="1118.0" cy="648.4" rx="5.1" ry="4.2" fill="#a85a30" opacity="0.45"/><ellipse cx="1032.0" cy="686.8" rx="5.2" ry="4.1" fill="#984040" opacity="0.45"/><ellipse cx="1163.0" cy="704.6" rx="4.4" ry="3.4" fill="#cfa868" opacity="0.45"/><ellipse cx="1045.2" cy="631.0" rx="4.6" ry="4.0" fill="#c89858" opacity="0.45"/><ellipse cx="1047.0" cy="663.3" rx="4.5" ry="4.1" fill="#c89858" opacity="0.45"/><ellipse cx="1067.5" cy="665.7" rx="6.0" ry="5.7" fill="#984040" opacity="0.45"/><ellipse cx="1168.0" cy="659.2" rx="5.7" ry="3.0" fill="#cfa868" opacity="0.45"/><ellipse cx="1102.5" cy="694.5" rx="4.7" ry="5.1" fill="#c89858" opacity="0.45"/><ellipse cx="1091.5" cy="674.2" rx="3.3" ry="4.7" fill="#cfa868" opacity="0.45"/><ellipse cx="1033.4" cy="668.6" rx="3.7" ry="4.8" fill="#b87838" opacity="0.45"/><ellipse cx="1061.0" cy="671.1" rx="5.9" ry="3.1" fill="#b87838" opacity="0.45"/><ellipse cx="1070.9" cy="608.2" rx="5.3" ry="4.8" fill="#c89858" opacity="0.45"/><ellipse cx="1144.5" cy="680.8" rx="3.5" ry="4.0" fill="#c89858" opacity="0.45"/><ellipse cx="1053.8" cy="710.8" rx="5.1" ry="5.1" fill="#cfa868" opacity="0.45"/><ellipse cx="1101.0" cy="658.7" rx="5.3" ry="5.7" fill="#b87838" opacity="0.45"/><ellipse cx="1125.9" cy="701.2" rx="5.4" ry="3.3" fill="#984040" opacity="0.45"/><ellipse cx="1185.1" cy="669.1" rx="5.4" ry="4.5" fill="#984040" opacity="0.45"/><ellipse cx="1153.8" cy="681.0" rx="3.5" ry="4.2" fill="#984040" opacity="0.45"/><ellipse cx="1153.1" cy="704.2" rx="3.9" ry="5.9" fill="#b87838" opacity="0.45"/><ellipse cx="1131.0" cy="675.2" rx="3.2" ry="5.3" fill="#a85a30" opacity="0.45"/><ellipse cx="1147.4" cy="701.4" rx="3.7" ry="4.8" fill="#b87838" opacity="0.45"/><ellipse cx="1059.5" cy="658.1" rx="5.7" ry="5.1" fill="#984040" opacity="0.45"/><ellipse cx="1027.6" cy="679.0" rx="4.2" ry="4.9" fill="#a85a30" opacity="0.45"/><ellipse cx="1160.2" cy="647.6" rx="3.3" ry="5.0" fill="#a85a30" opacity="0.45"/><ellipse cx="1132.4" cy="708.3" rx="4.3" ry="3.9" fill="#a85a30" opacity="0.45"/><ellipse cx="1037.9" cy="697.1" rx="4.3" ry="4.8" fill="#d0b070" opacity="0.45"/><ellipse cx="1043.9" cy="664.5" rx="3.2" ry="4.2" fill="#d0b070" opacity="0.45"/><ellipse cx="1138.9" cy="651.9" rx="5.0" ry="5.4" fill="#cfa868" opacity="0.45"/><ellipse cx="1056.0" cy="674.5" rx="4.1" ry="5.7" fill="#d0b070" opacity="0.45"/><ellipse cx="1065.4" cy="714.8" rx="4.1" ry="3.7" fill="#b87838" opacity="0.45"/><ellipse cx="1169.8" cy="715.2" rx="3.9" ry="4.0" fill="#b87838" opacity="0.45"/><ellipse cx="1154.2" cy="672.0" rx="5.6" ry="5.9" fill="#d0b070" opacity="0.45"/><ellipse cx="1049.0" cy="713.3" rx="4.4" ry="5.4" fill="#a85a30" opacity="0.45"/><ellipse cx="1145.0" cy="680.5" rx="6.0" ry="5.2" fill="#b87838" opacity="0.45"/><ellipse cx="1090.1" cy="660.7" rx="4.0" ry="3.8" fill="#a85a30" opacity="0.45"/><ellipse cx="1080.9" cy="678.7" rx="4.9" ry="4.1" fill="#b87838" opacity="0.45"/><ellipse cx="1130.9" cy="658.2" rx="5.1" ry="3.1" fill="#984040" opacity="0.45"/><ellipse cx="1039.4" cy="644.0" rx="3.9" ry="4.5" fill="#c89858" opacity="0.45"/><ellipse cx="1143.6" cy="689.5" rx="3.1" ry="4.0" fill="#c89858" opacity="0.45"/><ellipse cx="1065.4" cy="620.9" rx="5.8" ry="4.5" fill="#d0b070" opacity="0.45"/><ellipse cx="1048.7" cy="669.9" rx="5.9" ry="4.9" fill="#c89858" opacity="0.45"/><ellipse cx="1068.8" cy="664.4" rx="4.3" ry="5.9" fill="#984040" opacity="0.45"/><ellipse cx="1033.4" cy="713.9" rx="4.9" ry="4.5" fill="#984040" opacity="0.45"/><ellipse cx="1080.6" cy="708.1" rx="4.0" ry="5.5" fill="#d0b070" opacity="0.45"/><ellipse cx="1160.2" cy="694.8" rx="4.0" ry="3.4" fill="#b87838" opacity="0.45"/><ellipse cx="1071.7" cy="661.5" rx="5.0" ry="5.7" fill="#b87838" opacity="0.45"/><ellipse cx="1069.9" cy="644.7" rx="5.9" ry="5.9" fill="#c89858" opacity="0.45"/><ellipse cx="1065.6" cy="706.7" rx="4.4" ry="4.9" fill="#d0b070" opacity="0.45"/><ellipse cx="1087.9" cy="681.1" rx="4.1" ry="4.0" fill="#d0b070" opacity="0.45"/><ellipse cx="1064.6" cy="622.9" rx="5.7" ry="4.4" fill="#d0b070" opacity="0.45"/><ellipse cx="1127.9" cy="693.0" rx="3.9" ry="3.5" fill="#b87838" opacity="0.45"/><ellipse cx="1099.4" cy="666.2" rx="5.0" ry="5.3" fill="#a85a30" opacity="0.45"/><ellipse cx="1086.0" cy="685.5" rx="4.2" ry="5.4" fill="#984040" opacity="0.45"/><ellipse cx="1039.7" cy="652.9" rx="3.0" ry="4.6" fill="#984040" opacity="0.45"/><ellipse cx="1060.6" cy="606.5" rx="4.6" ry="5.3" fill="#984040" opacity="0.45"/><ellipse cx="1160.6" cy="699.8" rx="5.1" ry="5.8" fill="#c89858" opacity="0.45"/><ellipse cx="1129.3" cy="716.0" rx="4.9" ry="5.1" fill="#d0b070" opacity="0.45"/><ellipse cx="1086.5" cy="712.7" rx="5.2" ry="4.0" fill="#d0b070" opacity="0.45"/><ellipse cx="1166.9" cy="684.9" rx="3.4" ry="5.2" fill="#d0b070" opacity="0.45"/><ellipse cx="1133.5" cy="708.0" rx="3.4" ry="4.0" fill="#cfa868" opacity="0.45"/><ellipse cx="962.2" cy="726.7" rx="3.7" ry="4.3" fill="#c89858" opacity="0.45"/><ellipse cx="993.0" cy="715.9" rx="5.5" ry="5.4" fill="#c89858" opacity="0.45"/><ellipse cx="970.2" cy="730.2" rx="5.3" ry="4.5" fill="#a85a30" opacity="0.45"/><ellipse cx="1010.5" cy="732.7" rx="5.5" ry="4.9" fill="#a85a30" opacity="0.45"/><ellipse cx="969.1" cy="731.3" rx="5.1" ry="4.8" fill="#a85a30" opacity="0.45"/><ellipse cx="1000.4" cy="733.8" rx="4.8" ry="4.5" fill="#b87838" opacity="0.45"/><ellipse cx="973.5" cy="714.1" rx="3.3" ry="5.0" fill="#cfa868" opacity="0.45"/><ellipse cx="981.4" cy="731.2" rx="3.2" ry="5.5" fill="#a85a30" opacity="0.45"/><ellipse cx="973.8" cy="722.5" rx="5.3" ry="4.3" fill="#b87838" opacity="0.45"/><ellipse cx="965.2" cy="722.0" rx="4.7" ry="5.4" fill="#cfa868" opacity="0.45"/><ellipse cx="991.0" cy="722.8" rx="4.5" ry="3.9" fill="#a85a30" opacity="0.45"/><ellipse cx="1014.1" cy="725.1" rx="3.7" ry="4.7" fill="#c89858" opacity="0.45"/><ellipse cx="977.2" cy="741.1" rx="4.7" ry="5.1" fill="#c89858" opacity="0.45"/><ellipse cx="989.3" cy="721.3" rx="3.2" ry="4.9" fill="#984040" opacity="0.45"/><ellipse cx="966.8" cy="710.0" rx="4.2" ry="5.9" fill="#d0b070" opacity="0.45"/><ellipse cx="974.2" cy="737.2" rx="6.0" ry="5.4" fill="#b87838" opacity="0.45"/><ellipse cx="1175.5" cy="741.7" rx="3.2" ry="4.4" fill="#c89858" opacity="0.45"/><ellipse cx="1180.3" cy="741.3" rx="5.6" ry="4.9" fill="#c89858" opacity="0.45"/><ellipse cx="1176.1" cy="724.2" rx="4.2" ry="3.8" fill="#c89858" opacity="0.45"/><ellipse cx="1163.6" cy="739.7" rx="3.0" ry="5.3" fill="#984040" opacity="0.45"/><ellipse cx="1194.9" cy="737.0" rx="3.6" ry="5.3" fill="#a85a30" opacity="0.45"/><ellipse cx="1195.1" cy="740.9" rx="5.8" ry="5.2" fill="#984040" opacity="0.45"/><ellipse cx="1179.6" cy="738.4" rx="4.9" ry="5.2" fill="#b87838" opacity="0.45"/><ellipse cx="1172.4" cy="727.8" rx="3.5" ry="4.9" fill="#a85a30" opacity="0.45"/><ellipse cx="1097.0" cy="694.0" rx="11.0" ry="10.0" fill="#dfe2d4"/><ellipse cx="1114.7" cy="688.3" rx="8.0" ry="2.1" fill="#b070a8" opacity="0.55" transform="rotate(151 1114.7 688.3)"/><ellipse cx="1152.2" cy="584.9" rx="4.3" ry="1.4" fill="#a868a8" opacity="0.55" transform="rotate(84 1152.2 584.9)"/><ellipse cx="1022.6" cy="646.7" rx="6.9" ry="1.2" fill="#c080b0" opacity="0.55" transform="rotate(73 1022.6 646.7)"/><ellipse cx="1006.9" cy="714.6" rx="5.9" ry="2.0" fill="#b070a8" opacity="0.55" transform="rotate(25 1006.9 714.6)"/><ellipse cx="1113.4" cy="559.3" rx="4.0" ry="2.1" fill="#c080b0" opacity="0.55" transform="rotate(139 1113.4 559.3)"/><ellipse cx="1197.2" cy="567.5" rx="4.8" ry="1.5" fill="#c080b0" opacity="0.55" transform="rotate(97 1197.2 567.5)"/><ellipse cx="1128.2" cy="575.6" rx="8.7" ry="1.9" fill="#9878b8" opacity="0.55" transform="rotate(54 1128.2 575.6)"/><ellipse cx="1050.7" cy="567.5" rx="4.7" ry="1.3" fill="#a868a8" opacity="0.55" transform="rotate(147 1050.7 567.5)"/><ellipse cx="1105.7" cy="657.7" rx="7.5" ry="1.3" fill="#a868a8" opacity="0.55" transform="rotate(147 1105.7 657.7)"/><ellipse cx="1079.9" cy="598.9" rx="6.4" ry="1.9" fill="#b070a8" opacity="0.55" transform="rotate(46 1079.9 598.9)"/><ellipse cx="1192.1" cy="731.8" rx="5.8" ry="1.6" fill="#9878b8" opacity="0.55" transform="rotate(66 1192.1 731.8)"/><ellipse cx="1103.9" cy="534.6" rx="4.2" ry="1.4" fill="#c080b0" opacity="0.55" transform="rotate(21 1103.9 534.6)"/><ellipse cx="1022.5" cy="704.5" rx="6.3" ry="1.7" fill="#a868a8" opacity="0.55" transform="rotate(140 1022.5 704.5)"/><ellipse cx="988.7" cy="689.6" rx="8.0" ry="2.1" fill="#b070a8" opacity="0.55" transform="rotate(78 988.7 689.6)"/><ellipse cx="1201.7" cy="576.4" rx="6.6" ry="1.6" fill="#c080b0" opacity="0.55" transform="rotate(61 1201.7 576.4)"/><ellipse cx="1188.5" cy="647.0" rx="5.6" ry="1.5" fill="#c080b0" opacity="0.55" transform="rotate(144 1188.5 647.0)"/><ellipse cx="1115.7" cy="683.9" rx="5.5" ry="1.7" fill="#b070a8" opacity="0.55" transform="rotate(15 1115.7 683.9)"/><ellipse cx="1109.3" cy="726.4" rx="4.2" ry="1.9" fill="#a868a8" opacity="0.55" transform="rotate(149 1109.3 726.4)"/><ellipse cx="1073.8" cy="621.1" rx="4.3" ry="2.1" fill="#b070a8" opacity="0.55" transform="rotate(144 1073.8 621.1)"/><ellipse cx="1044.1" cy="576.1" rx="8.9" ry="1.8" fill="#c080b0" opacity="0.55" transform="rotate(113 1044.1 576.1)"/><ellipse cx="1155.1" cy="555.1" rx="6.2" ry="1.3" fill="#9878b8" opacity="0.55" transform="rotate(53 1155.1 555.1)"/><ellipse cx="1073.2" cy="742.3" rx="8.3" ry="2.2" fill="#9878b8" opacity="0.55" transform="rotate(173 1073.2 742.3)"/><ellipse cx="1130.9" cy="599.3" rx="5.4" ry="1.7" fill="#c080b0" opacity="0.55" transform="rotate(20 1130.9 599.3)"/><ellipse cx="1163.5" cy="644.2" rx="4.9" ry="2.1" fill="#a868a8" opacity="0.55" transform="rotate(32 1163.5 644.2)"/><ellipse cx="1082.7" cy="640.7" rx="6.7" ry="1.7" fill="#b070a8" opacity="0.55" transform="rotate(141 1082.7 640.7)"/><ellipse cx="1151.9" cy="678.4" rx="7.3" ry="2.0" fill="#a868a8" opacity="0.55" transform="rotate(101 1151.9 678.4)"/><ellipse cx="1125.8" cy="707.8" rx="5.3" ry="2.2" fill="#a868a8" opacity="0.55" transform="rotate(172 1125.8 707.8)"/><ellipse cx="1045.5" cy="570.2" rx="8.3" ry="1.7" fill="#a868a8" opacity="0.55" transform="rotate(59 1045.5 570.2)"/><ellipse cx="1029.3" cy="593.3" rx="6.5" ry="1.9" fill="#a868a8" opacity="0.55" transform="rotate(63 1029.3 593.3)"/><ellipse cx="1119.9" cy="687.4" rx="8.1" ry="1.6" fill="#c080b0" opacity="0.55" transform="rotate(157 1119.9 687.4)"/><ellipse cx="1130.7" cy="737.4" rx="8.8" ry="1.7" fill="#c080b0" opacity="0.55" transform="rotate(36 1130.7 737.4)"/><ellipse cx="1050.9" cy="711.8" rx="5.4" ry="1.3" fill="#9878b8" opacity="0.55" transform="rotate(31 1050.9 711.8)"/><ellipse cx="1153.3" cy="654.5" rx="7.3" ry="1.6" fill="#a868a8" opacity="0.55" transform="rotate(130 1153.3 654.5)"/><ellipse cx="969.1" cy="566.3" rx="6.2" ry="1.9" fill="#c080b0" opacity="0.55" transform="rotate(137 969.1 566.3)"/><ellipse cx="1006.5" cy="683.4" rx="8.9" ry="2.2" fill="#c080b0" opacity="0.55" transform="rotate(10 1006.5 683.4)"/><ellipse cx="995.0" cy="599.2" rx="4.9" ry="1.4" fill="#b070a8" opacity="0.55" transform="rotate(75 995.0 599.2)"/><ellipse cx="1048.2" cy="671.6" rx="4.4" ry="1.4" fill="#a868a8" opacity="0.55" transform="rotate(0 1048.2 671.6)"/><ellipse cx="1061.5" cy="591.1" rx="6.1" ry="1.3" fill="#a868a8" opacity="0.55" transform="rotate(174 1061.5 591.1)"/><ellipse cx="1096.9" cy="595.9" rx="5.5" ry="1.7" fill="#a868a8" opacity="0.55" transform="rotate(172 1096.9 595.9)"/><ellipse cx="1162.6" cy="620.6" rx="8.1" ry="1.8" fill="#a868a8" opacity="0.55" transform="rotate(84 1162.6 620.6)"/><ellipse cx="1000.7" cy="613.0" rx="6.4" ry="1.4" fill="#c080b0" opacity="0.55" transform="rotate(110 1000.7 613.0)"/><ellipse cx="1048.2" cy="720.1" rx="4.0" ry="1.3" fill="#c080b0" opacity="0.55" transform="rotate(59 1048.2 720.1)"/><ellipse cx="1176.8" cy="651.0" rx="6.1" ry="2.2" fill="#9878b8" opacity="0.55" transform="rotate(52 1176.8 651.0)"/><ellipse cx="1200.3" cy="612.3" rx="8.8" ry="2.1" fill="#a868a8" opacity="0.55" transform="rotate(133 1200.3 612.3)"/><ellipse cx="1035.9" cy="585.3" rx="4.1" ry="2.1" fill="#a868a8" opacity="0.55" transform="rotate(89 1035.9 585.3)"/><ellipse cx="1032.4" cy="632.7" rx="4.6" ry="1.8" fill="#9878b8" opacity="0.55" transform="rotate(44 1032.4 632.7)"/><ellipse cx="972.1" cy="561.3" rx="6.0" ry="1.7" fill="#a868a8" opacity="0.55" transform="rotate(44 972.1 561.3)"/><ellipse cx="1078.4" cy="540.4" rx="6.5" ry="2.0" fill="#a868a8" opacity="0.55" transform="rotate(53 1078.4 540.4)"/><ellipse cx="1111.1" cy="632.2" rx="7.2" ry="1.8" fill="#b070a8" opacity="0.55" transform="rotate(3 1111.1 632.2)"/><ellipse cx="993.1" cy="591.9" rx="7.5" ry="1.8" fill="#b070a8" opacity="0.55" transform="rotate(84 993.1 591.9)"/><ellipse cx="1050.6" cy="688.9" rx="7.0" ry="1.2" fill="#a868a8" opacity="0.55" transform="rotate(100 1050.6 688.9)"/><ellipse cx="1130.1" cy="555.3" rx="7.4" ry="1.4" fill="#9878b8" opacity="0.55" transform="rotate(140 1130.1 555.3)"/><ellipse cx="1067.0" cy="653.4" rx="7.5" ry="1.8" fill="#9878b8" opacity="0.55" transform="rotate(155 1067.0 653.4)"/><ellipse cx="1168.1" cy="632.5" rx="7.4" ry="1.9" fill="#a868a8" opacity="0.55" transform="rotate(84 1168.1 632.5)"/><ellipse cx="1147.8" cy="596.4" rx="4.0" ry="2.0" fill="#a868a8" opacity="0.55" transform="rotate(117 1147.8 596.4)"/><ellipse cx="1077.9" cy="597.9" rx="4.8" ry="1.9" fill="#9878b8" opacity="0.55" transform="rotate(175 1077.9 597.9)"/><ellipse cx="1093.9" cy="621.9" rx="6.7" ry="1.2" fill="#c080b0" opacity="0.55" transform="rotate(48 1093.9 621.9)"/><ellipse cx="983.1" cy="545.9" rx="8.7" ry="1.5" fill="#9878b8" opacity="0.55" transform="rotate(176 983.1 545.9)"/><ellipse cx="1206.6" cy="679.8" rx="4.2" ry="2.0" fill="#c080b0" opacity="0.55" transform="rotate(111 1206.6 679.8)"/><ellipse cx="1164.0" cy="556.0" rx="8.5" ry="2.2" fill="#9878b8" opacity="0.55" transform="rotate(27 1164.0 556.0)"/><ellipse cx="1111.7" cy="619.5" rx="2.8" ry="2.0" fill="#5048c0" opacity="0.90" transform="rotate(100 1111.7 619.5)"/><ellipse cx="1123.9" cy="689.0" rx="3.1" ry="2.0" fill="#5048c0" opacity="0.90" transform="rotate(134 1123.9 689.0)"/><ellipse cx="1177.3" cy="560.9" rx="3.4" ry="1.7" fill="#7a4098" opacity="0.90" transform="rotate(88 1177.3 560.9)"/><ellipse cx="1048.8" cy="670.3" rx="4.3" ry="1.5" fill="#6a4aa8" opacity="0.90" transform="rotate(27 1048.8 670.3)"/><ellipse cx="1116.8" cy="638.8" rx="4.3" ry="2.0" fill="#7a4098" opacity="0.90" transform="rotate(40 1116.8 638.8)"/><ellipse cx="977.8" cy="582.1" rx="4.2" ry="1.7" fill="#5a48b8" opacity="0.90" transform="rotate(145 977.8 582.1)"/><ellipse cx="1173.6" cy="627.8" rx="3.3" ry="1.5" fill="#5048c0" opacity="0.90" transform="rotate(118 1173.6 627.8)"/><ellipse cx="983.2" cy="672.8" rx="2.7" ry="1.5" fill="#7a4098" opacity="0.90" transform="rotate(82 983.2 672.8)"/><ellipse cx="1057.7" cy="629.7" rx="4.4" ry="1.5" fill="#7a4098" opacity="0.90" transform="rotate(5 1057.7 629.7)"/><ellipse cx="1139.7" cy="544.0" rx="2.8" ry="2.4" fill="#5a48b8" opacity="0.90" transform="rotate(135 1139.7 544.0)"/><ellipse cx="982.8" cy="723.8" rx="3.5" ry="1.6" fill="#7a4098" opacity="0.90" transform="rotate(68 982.8 723.8)"/><ellipse cx="1166.8" cy="593.5" rx="4.4" ry="2.1" fill="#4440c8" opacity="0.90" transform="rotate(68 1166.8 593.5)"/><ellipse cx="1139.2" cy="607.8" rx="3.1" ry="2.0" fill="#6a4aa8" opacity="0.90" transform="rotate(93 1139.2 607.8)"/><ellipse cx="1107.3" cy="652.9" rx="4.0" ry="1.8" fill="#5048c0" opacity="0.90" transform="rotate(7 1107.3 652.9)"/><ellipse cx="1007.9" cy="573.7" rx="3.5" ry="2.3" fill="#6a4aa8" opacity="0.90" transform="rotate(0 1007.9 573.7)"/><ellipse cx="1077.4" cy="719.3" rx="3.7" ry="1.8" fill="#4440c8" opacity="0.90" transform="rotate(83 1077.4 719.3)"/><ellipse cx="1009.2" cy="669.7" rx="2.6" ry="2.3" fill="#4440c8" opacity="0.90" transform="rotate(27 1009.2 669.7)"/><ellipse cx="1024.5" cy="590.9" rx="2.8" ry="1.7" fill="#5a48b8" opacity="0.90" transform="rotate(6 1024.5 590.9)"/><ellipse cx="1181.6" cy="604.9" rx="4.0" ry="1.7" fill="#5048c0" opacity="0.90" transform="rotate(124 1181.6 604.9)"/><ellipse cx="1127.2" cy="631.6" rx="4.4" ry="1.5" fill="#6a4aa8" opacity="0.90" transform="rotate(52 1127.2 631.6)"/><ellipse cx="1127.3" cy="685.6" rx="2.8" ry="1.6" fill="#5048c0" opacity="0.90" transform="rotate(103 1127.3 685.6)"/><ellipse cx="1122.9" cy="662.2" rx="4.3" ry="2.1" fill="#6a4aa8" opacity="0.90" transform="rotate(33 1122.9 662.2)"/><ellipse cx="1050.7" cy="546.7" rx="4.5" ry="1.9" fill="#5a48b8" opacity="0.90" transform="rotate(32 1050.7 546.7)"/><ellipse cx="1013.4" cy="541.9" rx="3.7" ry="2.1" fill="#6a4aa8" opacity="0.90" transform="rotate(1 1013.4 541.9)"/><ellipse cx="977.2" cy="696.1" rx="3.3" ry="1.4" fill="#7a4098" opacity="0.90" transform="rotate(150 977.2 696.1)"/><ellipse cx="1167.2" cy="651.2" rx="4.4" ry="2.1" fill="#5a48b8" opacity="0.90" transform="rotate(162 1167.2 651.2)"/><ellipse cx="1082.5" cy="728.9" rx="2.6" ry="1.6" fill="#5048c0" opacity="0.90" transform="rotate(90 1082.5 728.9)"/><ellipse cx="1153.5" cy="542.7" rx="4.2" ry="1.8" fill="#5048c0" opacity="0.90" transform="rotate(158 1153.5 542.7)"/><ellipse cx="1194.8" cy="573.5" rx="3.9" ry="2.0" fill="#5a48b8" opacity="0.90" transform="rotate(96 1194.8 573.5)"/><ellipse cx="982.9" cy="598.5" rx="2.7" ry="1.9" fill="#5a48b8" opacity="0.90" transform="rotate(108 982.9 598.5)"/><ellipse cx="1172.0" cy="577.7" rx="2.5" ry="1.9" fill="#4440c8" opacity="0.90" transform="rotate(76 1172.0 577.7)"/><ellipse cx="1150.3" cy="642.2" rx="2.8" ry="1.4" fill="#6a4aa8" opacity="0.90" transform="rotate(124 1150.3 642.2)"/><ellipse cx="1180.5" cy="742.3" rx="3.6" ry="1.5" fill="#4440c8" opacity="0.90" transform="rotate(16 1180.5 742.3)"/><ellipse cx="1151.3" cy="704.5" rx="3.1" ry="1.5" fill="#5048c0" opacity="0.90" transform="rotate(85 1151.3 704.5)"/><ellipse cx="1132.9" cy="700.2" rx="4.4" ry="2.1" fill="#6a4aa8" opacity="0.90" transform="rotate(11 1132.9 700.2)"/><ellipse cx="1133.7" cy="542.8" rx="2.9" ry="1.7" fill="#6a4aa8" opacity="0.90" transform="rotate(159 1133.7 542.8)"/><ellipse cx="979.9" cy="694.1" rx="3.3" ry="2.2" fill="#5048c0" opacity="0.90" transform="rotate(161 979.9 694.1)"/><ellipse cx="1122.4" cy="692.0" rx="3.6" ry="1.8" fill="#5048c0" opacity="0.90" transform="rotate(131 1122.4 692.0)"/><ellipse cx="1133.9" cy="588.8" rx="4.1" ry="1.8" fill="#5a48b8" opacity="0.90" transform="rotate(58 1133.9 588.8)"/><ellipse cx="1037.3" cy="561.5" rx="3.5" ry="1.7" fill="#5048c0" opacity="0.90" transform="rotate(11 1037.3 561.5)"/><ellipse cx="1149.2" cy="649.6" rx="2.6" ry="1.5" fill="#5a48b8" opacity="0.90" transform="rotate(149 1149.2 649.6)"/><ellipse cx="1069.0" cy="586.8" rx="4.4" ry="1.4" fill="#7a4098" opacity="0.90" transform="rotate(77 1069.0 586.8)"/><ellipse cx="1051.0" cy="602.0" rx="2.5" ry="2.0" fill="#5a48b8" opacity="0.90" transform="rotate(131 1051.0 602.0)"/><ellipse cx="985.6" cy="643.9" rx="2.8" ry="2.1" fill="#4440c8" opacity="0.90" transform="rotate(138 985.6 643.9)"/><ellipse cx="1068.6" cy="622.8" rx="3.2" ry="1.8" fill="#5a48b8" opacity="0.90" transform="rotate(83 1068.6 622.8)"/><ellipse cx="1068.5" cy="625.3" rx="4.0" ry="2.3" fill="#7a4098" opacity="0.90" transform="rotate(85 1068.5 625.3)"/><ellipse cx="1082.6" cy="533.0" rx="2.8" ry="2.3" fill="#5048c0" opacity="0.90" transform="rotate(37 1082.6 533.0)"/><ellipse cx="962.6" cy="723.3" rx="3.0" ry="2.1" fill="#6a4aa8" opacity="0.90" transform="rotate(71 962.6 723.3)"/><ellipse cx="1015.1" cy="590.8" rx="2.9" ry="2.0" fill="#6a4aa8" opacity="0.90" transform="rotate(138 1015.1 590.8)"/><ellipse cx="1154.4" cy="609.6" rx="4.1" ry="2.2" fill="#5048c0" opacity="0.90" transform="rotate(111 1154.4 609.6)"/><ellipse cx="1060.4" cy="562.7" rx="4.2" ry="1.9" fill="#5048c0" opacity="0.90" transform="rotate(17 1060.4 562.7)"/><ellipse cx="1059.4" cy="690.7" rx="3.1" ry="2.3" fill="#6a4aa8" opacity="0.90" transform="rotate(86 1059.4 690.7)"/><ellipse cx="1077.3" cy="644.6" rx="2.7" ry="1.6" fill="#5048c0" opacity="0.90" transform="rotate(19 1077.3 644.6)"/><ellipse cx="1110.4" cy="662.9" rx="4.1" ry="1.4" fill="#5048c0" opacity="0.90" transform="rotate(110 1110.4 662.9)"/><ellipse cx="1088.0" cy="637.8" rx="3.6" ry="2.1" fill="#4440c8" opacity="0.90" transform="rotate(177 1088.0 637.8)"/><ellipse cx="1161.9" cy="726.4" rx="3.9" ry="2.1" fill="#7a4098" opacity="0.90" transform="rotate(26 1161.9 726.4)"/><ellipse cx="1064.3" cy="733.7" rx="2.5" ry="2.2" fill="#5a48b8" opacity="0.90" transform="rotate(51 1064.3 733.7)"/><ellipse cx="981.3" cy="551.0" rx="3.2" ry="2.0" fill="#4440c8" opacity="0.90" transform="rotate(55 981.3 551.0)"/><ellipse cx="1189.7" cy="590.3" rx="3.9" ry="1.5" fill="#5048c0" opacity="0.90" transform="rotate(121 1189.7 590.3)"/><ellipse cx="1196.5" cy="720.8" rx="3.9" ry="2.2" fill="#7a4098" opacity="0.90" transform="rotate(110 1196.5 720.8)"/><ellipse cx="1013.4" cy="641.1" rx="4.3" ry="1.6" fill="#7a4098" opacity="0.90" transform="rotate(76 1013.4 641.1)"/><ellipse cx="1199.4" cy="673.4" rx="3.3" ry="2.2" fill="#7a4098" opacity="0.90" transform="rotate(162 1199.4 673.4)"/><ellipse cx="1185.0" cy="661.4" rx="3.3" ry="1.5" fill="#7a4098" opacity="0.90" transform="rotate(124 1185.0 661.4)"/><ellipse cx="1203.0" cy="584.9" rx="2.7" ry="1.7" fill="#6a4aa8" opacity="0.90" transform="rotate(143 1203.0 584.9)"/><ellipse cx="981.4" cy="732.0" rx="2.7" ry="1.8" fill="#5a48b8" opacity="0.90" transform="rotate(40 981.4 732.0)"/><ellipse cx="977.6" cy="651.4" rx="4.2" ry="2.3" fill="#4440c8" opacity="0.90" transform="rotate(75 977.6 651.4)"/><ellipse cx="1066.4" cy="643.6" rx="4.3" ry="1.7" fill="#6a4aa8" opacity="0.90" transform="rotate(15 1066.4 643.6)"/><ellipse cx="1179.9" cy="602.0" rx="3.3" ry="1.5" fill="#6a4aa8" opacity="0.90" transform="rotate(101 1179.9 602.0)"/><ellipse cx="1110.0" cy="571.3" rx="2.9" ry="2.0" fill="#6a4aa8" opacity="0.90" transform="rotate(131 1110.0 571.3)"/><ellipse cx="977.3" cy="634.3" rx="4.2" ry="2.4" fill="#6a4aa8" opacity="0.90" transform="rotate(34 977.3 634.3)"/><ellipse cx="1076.8" cy="613.3" rx="4.3" ry="2.3" fill="#7a4098" opacity="0.90" transform="rotate(151 1076.8 613.3)"/><ellipse cx="1079.0" cy="553.8" rx="2.9" ry="1.6" fill="#5048c0" opacity="0.90" transform="rotate(60 1079.0 553.8)"/><ellipse cx="1052.3" cy="692.2" rx="3.6" ry="1.8" fill="#6a4aa8" opacity="0.90" transform="rotate(147 1052.3 692.2)"/><ellipse cx="1159.0" cy="682.2" rx="4.3" ry="2.4" fill="#5048c0" opacity="0.90" transform="rotate(66 1159.0 682.2)"/><ellipse cx="1161.5" cy="573.7" rx="3.1" ry="1.6" fill="#5048c0" opacity="0.90" transform="rotate(44 1161.5 573.7)"/><ellipse cx="1192.7" cy="630.4" rx="2.5" ry="2.4" fill="#6a4aa8" opacity="0.90" transform="rotate(24 1192.7 630.4)"/><ellipse cx="963.1" cy="612.6" rx="3.2" ry="2.1" fill="#4440c8" opacity="0.90" transform="rotate(137 963.1 612.6)"/><ellipse cx="1138.8" cy="594.8" rx="2.7" ry="1.9" fill="#6a4aa8" opacity="0.90" transform="rotate(135 1138.8 594.8)"/><ellipse cx="1010.1" cy="604.8" rx="2.8" ry="2.3" fill="#5048c0" opacity="0.90" transform="rotate(104 1010.1 604.8)"/><ellipse cx="1034.7" cy="603.4" rx="4.2" ry="1.9" fill="#5048c0" opacity="0.90" transform="rotate(40 1034.7 603.4)"/><ellipse cx="1203.6" cy="589.5" rx="3.9" ry="1.5" fill="#5048c0" opacity="0.90" transform="rotate(100 1203.6 589.5)"/><ellipse cx="1068.1" cy="570.4" rx="4.2" ry="2.3" fill="#5a48b8" opacity="0.90" transform="rotate(17 1068.1 570.4)"/><ellipse cx="1049.4" cy="702.7" rx="2.5" ry="2.2" fill="#6a4aa8" opacity="0.90" transform="rotate(146 1049.4 702.7)"/><ellipse cx="967.5" cy="650.6" rx="4.4" ry="2.3" fill="#5048c0" opacity="0.90" transform="rotate(10 967.5 650.6)"/><ellipse cx="1015.8" cy="737.0" rx="3.4" ry="1.9" fill="#5048c0" opacity="0.90" transform="rotate(172 1015.8 737.0)"/><ellipse cx="1108.7" cy="708.7" rx="3.4" ry="1.4" fill="#5a48b8" opacity="0.90" transform="rotate(71 1108.7 708.7)"/><ellipse cx="1152.8" cy="623.9" rx="3.7" ry="2.3" fill="#7a4098" opacity="0.90" transform="rotate(114 1152.8 623.9)"/><ellipse cx="971.1" cy="537.7" rx="4.0" ry="1.8" fill="#4440c8" opacity="0.90" transform="rotate(165 971.1 537.7)"/><ellipse cx="1054.9" cy="742.2" rx="4.0" ry="2.3" fill="#5a48b8" opacity="0.90" transform="rotate(55 1054.9 742.2)"/><ellipse cx="1009.0" cy="707.6" rx="2.7" ry="1.8" fill="#4440c8" opacity="0.90" transform="rotate(76 1009.0 707.6)"/><ellipse cx="1028.6" cy="631.2" rx="3.1" ry="2.1" fill="#5048c0" opacity="0.90" transform="rotate(138 1028.6 631.2)"/><ellipse cx="1147.8" cy="548.8" rx="3.9" ry="1.4" fill="#4440c8" opacity="0.90" transform="rotate(159 1147.8 548.8)"/><ellipse cx="1010.4" cy="536.6" rx="4.2" ry="2.4" fill="#7a4098" opacity="0.90" transform="rotate(82 1010.4 536.6)"/><ellipse cx="1076.9" cy="548.9" rx="3.2" ry="2.0" fill="#5048c0" opacity="0.90" transform="rotate(33 1076.9 548.9)"/><ellipse cx="1067.3" cy="588.6" rx="4.0" ry="1.8" fill="#5a48b8" opacity="0.90" transform="rotate(27 1067.3 588.6)"/><ellipse cx="1089.1" cy="737.2" rx="3.9" ry="1.5" fill="#5048c0" opacity="0.90" transform="rotate(19 1089.1 737.2)"/><ellipse cx="1060.0" cy="596.4" rx="4.3" ry="1.9" fill="#4440c8" opacity="0.90" transform="rotate(174 1060.0 596.4)"/><ellipse cx="1021.3" cy="652.0" rx="3.0" ry="1.9" fill="#4440c8" opacity="0.90" transform="rotate(24 1021.3 652.0)"/><ellipse cx="1080.0" cy="680.7" rx="2.5" ry="2.2" fill="#4440c8" opacity="0.90" transform="rotate(42 1080.0 680.7)"/><ellipse cx="1137.6" cy="582.2" rx="3.1" ry="2.2" fill="#5a48b8" opacity="0.90" transform="rotate(7 1137.6 582.2)"/><ellipse cx="1056.6" cy="605.2" rx="2.5" ry="1.7" fill="#4440c8" opacity="0.90" transform="rotate(18 1056.6 605.2)"/><ellipse cx="992.5" cy="722.7" rx="3.6" ry="1.7" fill="#7a4098" opacity="0.90" transform="rotate(169 992.5 722.7)"/><ellipse cx="1194.7" cy="739.9" rx="3.1" ry="1.6" fill="#5048c0" opacity="0.90" transform="rotate(116 1194.7 739.9)"/><ellipse cx="975.8" cy="577.2" rx="3.7" ry="1.5" fill="#7a4098" opacity="0.90" transform="rotate(54 975.8 577.2)"/><ellipse cx="1097.3" cy="706.7" rx="2.8" ry="1.8" fill="#4440c8" opacity="0.90" transform="rotate(1 1097.3 706.7)"/><ellipse cx="1100.5" cy="651.6" rx="2.6" ry="2.1" fill="#5048c0" opacity="0.90" transform="rotate(62 1100.5 651.6)"/><ellipse cx="997.5" cy="735.6" rx="3.0" ry="1.7" fill="#5a48b8" opacity="0.90" transform="rotate(133 997.5 735.6)"/><ellipse cx="1026.4" cy="706.6" rx="3.8" ry="1.8" fill="#5a48b8" opacity="0.90" transform="rotate(126 1026.4 706.6)"/><ellipse cx="1107.2" cy="716.2" rx="4.3" ry="2.2" fill="#7a4098" opacity="0.90" transform="rotate(25 1107.2 716.2)"/><ellipse cx="975.0" cy="687.8" rx="3.6" ry="1.4" fill="#5048c0" opacity="0.90" transform="rotate(125 975.0 687.8)"/><ellipse cx="1111.8" cy="674.0" rx="3.8" ry="1.4" fill="#4440c8" opacity="0.90" transform="rotate(21 1111.8 674.0)"/><ellipse cx="1138.8" cy="660.9" rx="3.7" ry="1.6" fill="#5048c0" opacity="0.90" transform="rotate(127 1138.8 660.9)"/><ellipse cx="1138.3" cy="656.8" rx="2.6" ry="2.1" fill="#6a4aa8" opacity="0.90" transform="rotate(117 1138.3 656.8)"/><ellipse cx="1180.6" cy="683.9" rx="2.6" ry="2.0" fill="#6a4aa8" opacity="0.90" transform="rotate(22 1180.6 683.9)"/><ellipse cx="1146.9" cy="586.9" rx="3.1" ry="1.4" fill="#6a4aa8" opacity="0.90" transform="rotate(93 1146.9 586.9)"/><ellipse cx="1183.0" cy="630.3" rx="2.8" ry="1.6" fill="#6a4aa8" opacity="0.90" transform="rotate(57 1183.0 630.3)"/><ellipse cx="1112.0" cy="628.7" rx="2.8" ry="2.4" fill="#4440c8" opacity="0.90" transform="rotate(79 1112.0 628.7)"/><ellipse cx="1089.1" cy="615.5" rx="2.9" ry="2.3" fill="#5a48b8" opacity="0.90" transform="rotate(124 1089.1 615.5)"/><ellipse cx="1071.7" cy="652.9" rx="4.3" ry="1.5" fill="#6a4aa8" opacity="0.90" transform="rotate(101 1071.7 652.9)"/><ellipse cx="1085.3" cy="732.1" rx="2.9" ry="1.6" fill="#5a48b8" opacity="0.90" transform="rotate(76 1085.3 732.1)"/><filter id="nz2" x="962.3" y="532.7" width="244.70000000000005" height="209.69999999999993" filterUnits="userSpaceOnUse"><feTurbulence type="fractalNoise" baseFrequency="0.1" numOctaves="2" seed="21"/><feColorMatrix type="matrix" values="0 0 0 0 0.588 0 0 0 0 0.314 0 0 0 0 0.196 1.5 0 0 0 -0.75"/></filter><rect x="962.3" y="532.7" width="244.70000000000005" height="209.69999999999993" filter="url(#nz2)"/></g></g>
<clipPath id="ihc3"><rect x="710.7" y="749.7" width="243.8" height="210.4"/></clipPath><filter id="ihc3f" x="700.7" y="739.7" width="263.8" height="230.4" filterUnits="userSpaceOnUse"><feTurbulence type="fractalNoise" baseFrequency="0.045" numOctaves="2" seed="3" result="t"/><feDisplacementMap in="SourceGraphic" in2="t" scale="9" xChannelSelector="R" yChannelSelector="G" result="d"/><feGaussianBlur in="d" stdDeviation="1.0"/></filter><g clip-path="url(#ihc3)"><g filter="url(#ihc3f)"><rect x="704.70" y="743.70" width="255.80" height="222.40" fill="#d3cfcf"/><ellipse cx="816.0" cy="752.0" rx="41.0" ry="27.0" fill="none" stroke="#aaa2b8" stroke-width="10.0" opacity="0.75"/><ellipse cx="816.0" cy="752.0" rx="36.5" ry="22.5" fill="#dedbd6"/><ellipse cx="815.6" cy="752.8" rx="3.7" ry="3.1" fill="#d2cec9" opacity="0.50" transform="rotate(145 815.6 752.8)"/><ellipse cx="813.3" cy="752.5" rx="3.4" ry="2.5" fill="#e6e4e0" opacity="0.50" transform="rotate(87 813.3 752.5)"/><ellipse cx="824.1" cy="755.2" rx="4.3" ry="4.7" fill="#d2cec9" opacity="0.50" transform="rotate(153 824.1 755.2)"/><ellipse cx="809.2" cy="751.1" rx="4.6" ry="3.1" fill="#cbc6c0" opacity="0.50" transform="rotate(4 809.2 751.1)"/><ellipse cx="832.5" cy="744.6" rx="6.8" ry="4.9" fill="#e6e4e0" opacity="0.50" transform="rotate(139 832.5 744.6)"/><ellipse cx="815.3" cy="748.9" rx="6.6" ry="3.3" fill="#d2cec9" opacity="0.50" transform="rotate(2 815.3 748.9)"/><ellipse cx="819.6" cy="763.0" rx="4.5" ry="2.0" fill="#d2cec9" opacity="0.50" transform="rotate(83 819.6 763.0)"/><ellipse cx="859.4" cy="760.4" rx="2.2" ry="1.3" fill="#8c86b4" opacity="0.75" transform="rotate(61 859.4 760.4)"/><ellipse cx="777.3" cy="741.4" rx="2.5" ry="2.1" fill="#7c7cb8" opacity="0.75" transform="rotate(44 777.3 741.4)"/><ellipse cx="849.9" cy="736.1" rx="1.6" ry="1.8" fill="#7c7cb8" opacity="0.75" transform="rotate(170 849.9 736.1)"/><ellipse cx="776.5" cy="762.9" rx="2.7" ry="1.9" fill="#8c86b4" opacity="0.75" transform="rotate(137 776.5 762.9)"/><ellipse cx="776.5" cy="739.0" rx="2.6" ry="1.4" fill="#9a90b0" opacity="0.75" transform="rotate(121 776.5 739.0)"/><ellipse cx="807.0" cy="725.1" rx="2.3" ry="1.9" fill="#8c86b4" opacity="0.75" transform="rotate(109 807.0 725.1)"/><ellipse cx="846.8" cy="771.7" rx="2.0" ry="1.9" fill="#7c7cb8" opacity="0.75" transform="rotate(1 846.8 771.7)"/><ellipse cx="775.8" cy="739.7" rx="1.8" ry="1.9" fill="#9a90b0" opacity="0.75" transform="rotate(7 775.8 739.7)"/><ellipse cx="854.1" cy="769.7" rx="2.5" ry="1.2" fill="#7c7cb8" opacity="0.75" transform="rotate(72 854.1 769.7)"/><ellipse cx="858.6" cy="740.5" rx="2.5" ry="1.2" fill="#9a90b0" opacity="0.75" transform="rotate(115 858.6 740.5)"/><ellipse cx="850.9" cy="738.5" rx="1.7" ry="1.2" fill="#7c7cb8" opacity="0.75" transform="rotate(137 850.9 738.5)"/><ellipse cx="844.5" cy="733.9" rx="1.7" ry="1.7" fill="#9a90b0" opacity="0.75" transform="rotate(92 844.5 733.9)"/><ellipse cx="850.8" cy="771.0" rx="2.7" ry="2.1" fill="#7c7cb8" opacity="0.75" transform="rotate(13 850.8 771.0)"/><ellipse cx="858.3" cy="757.6" rx="1.6" ry="1.8" fill="#9a90b0" opacity="0.75" transform="rotate(107 858.3 757.6)"/><ellipse cx="827.7" cy="726.6" rx="1.6" ry="1.7" fill="#8c86b4" opacity="0.75" transform="rotate(82 827.7 726.6)"/><ellipse cx="795.8" cy="726.1" rx="1.8" ry="1.4" fill="#9a90b0" opacity="0.75" transform="rotate(146 795.8 726.1)"/><ellipse cx="778.6" cy="759.0" rx="2.3" ry="1.4" fill="#8c86b4" opacity="0.75" transform="rotate(177 778.6 759.0)"/><ellipse cx="786.8" cy="734.6" rx="2.2" ry="1.9" fill="#7c7cb8" opacity="0.75" transform="rotate(131 786.8 734.6)"/><ellipse cx="842.2" cy="726.8" rx="1.6" ry="1.6" fill="#8c86b4" opacity="0.75" transform="rotate(56 842.2 726.8)"/><ellipse cx="804.2" cy="779.9" rx="2.2" ry="1.5" fill="#7c7cb8" opacity="0.75" transform="rotate(1 804.2 779.9)"/><ellipse cx="850.4" cy="764.2" rx="2.4" ry="1.8" fill="#9a90b0" opacity="0.75" transform="rotate(69 850.4 764.2)"/><ellipse cx="861.1" cy="748.8" rx="2.2" ry="1.4" fill="#9a90b0" opacity="0.75" transform="rotate(135 861.1 748.8)"/><ellipse cx="849.2" cy="764.7" rx="1.6" ry="1.9" fill="#9a90b0" opacity="0.75" transform="rotate(123 849.2 764.7)"/><ellipse cx="840.3" cy="728.8" rx="2.6" ry="1.4" fill="#8c86b4" opacity="0.75" transform="rotate(80 840.3 728.8)"/><ellipse cx="805.2" cy="725.3" rx="1.9" ry="1.5" fill="#8c86b4" opacity="0.75" transform="rotate(69 805.2 725.3)"/><ellipse cx="836.5" cy="775.1" rx="2.7" ry="1.9" fill="#8c86b4" opacity="0.75" transform="rotate(137 836.5 775.1)"/><ellipse cx="839.8" cy="724.7" rx="2.5" ry="1.5" fill="#7c7cb8" opacity="0.75" transform="rotate(2 839.8 724.7)"/><ellipse cx="776.6" cy="745.4" rx="2.2" ry="1.6" fill="#8c86b4" opacity="0.75" transform="rotate(0 776.6 745.4)"/><ellipse cx="821.2" cy="724.6" rx="1.9" ry="1.3" fill="#7c7cb8" opacity="0.75" transform="rotate(19 821.2 724.6)"/><ellipse cx="834.4" cy="727.0" rx="2.3" ry="1.6" fill="#9a90b0" opacity="0.75" transform="rotate(22 834.4 727.0)"/><ellipse cx="777.9" cy="759.2" rx="1.6" ry="1.9" fill="#7c7cb8" opacity="0.75" transform="rotate(169 777.9 759.2)"/><ellipse cx="778.2" cy="769.3" rx="2.4" ry="2.2" fill="#7c7cb8" opacity="0.75" transform="rotate(117 778.2 769.3)"/><ellipse cx="824.8" cy="782.0" rx="2.7" ry="1.9" fill="#8c86b4" opacity="0.75" transform="rotate(129 824.8 782.0)"/><ellipse cx="855.1" cy="750.2" rx="2.1" ry="1.9" fill="#9a90b0" opacity="0.75" transform="rotate(171 855.1 750.2)"/><ellipse cx="807.2" cy="779.8" rx="1.9" ry="2.2" fill="#7c7cb8" opacity="0.75" transform="rotate(124 807.2 779.8)"/><ellipse cx="826.1" cy="778.8" rx="2.8" ry="1.8" fill="#9a90b0" opacity="0.75" transform="rotate(26 826.1 778.8)"/><ellipse cx="850.7" cy="763.2" rx="2.0" ry="1.3" fill="#9a90b0" opacity="0.75" transform="rotate(12 850.7 763.2)"/><ellipse cx="856.5" cy="754.6" rx="1.7" ry="1.3" fill="#8c86b4" opacity="0.75" transform="rotate(117 856.5 754.6)"/><ellipse cx="771.1" cy="750.0" rx="2.7" ry="1.7" fill="#7c7cb8" opacity="0.75" transform="rotate(46 771.1 750.0)"/><ellipse cx="781.7" cy="770.6" rx="1.7" ry="2.2" fill="#7c7cb8" opacity="0.75" transform="rotate(155 781.7 770.6)"/><ellipse cx="776.8" cy="758.9" rx="1.8" ry="1.6" fill="#7c7cb8" opacity="0.75" transform="rotate(19 776.8 758.9)"/><ellipse cx="826.4" cy="779.3" rx="1.9" ry="1.8" fill="#7c7cb8" opacity="0.75" transform="rotate(13 826.4 779.3)"/><ellipse cx="853.4" cy="768.4" rx="2.4" ry="1.5" fill="#8c86b4" opacity="0.75" transform="rotate(33 853.4 768.4)"/><ellipse cx="839.9" cy="773.0" rx="2.8" ry="1.6" fill="#9a90b0" opacity="0.75" transform="rotate(16 839.9 773.0)"/><ellipse cx="782.9" cy="738.7" rx="1.9" ry="1.5" fill="#7c7cb8" opacity="0.75" transform="rotate(168 782.9 738.7)"/><ellipse cx="790.1" cy="775.2" rx="1.7" ry="1.6" fill="#9a90b0" opacity="0.75" transform="rotate(45 790.1 775.2)"/><ellipse cx="788.0" cy="773.8" rx="1.6" ry="1.4" fill="#7c7cb8" opacity="0.75" transform="rotate(51 788.0 773.8)"/><ellipse cx="783.7" cy="772.9" rx="1.8" ry="1.4" fill="#7c7cb8" opacity="0.75" transform="rotate(137 783.7 772.9)"/><ellipse cx="840.0" cy="730.0" rx="2.7" ry="1.5" fill="#7c7cb8" opacity="0.75" transform="rotate(9 840.0 730.0)"/><ellipse cx="792.9" cy="725.4" rx="1.8" ry="1.2" fill="#8c86b4" opacity="0.75" transform="rotate(88 792.9 725.4)"/><ellipse cx="848.6" cy="770.7" rx="2.1" ry="1.6" fill="#8c86b4" opacity="0.75" transform="rotate(86 848.6 770.7)"/><ellipse cx="834.3" cy="776.5" rx="2.1" ry="1.3" fill="#7c7cb8" opacity="0.75" transform="rotate(48 834.3 776.5)"/><ellipse cx="778.7" cy="761.5" rx="1.9" ry="1.3" fill="#9a90b0" opacity="0.75" transform="rotate(40 778.7 761.5)"/><ellipse cx="814.5" cy="722.5" rx="2.6" ry="2.2" fill="#8c86b4" opacity="0.75" transform="rotate(20 814.5 722.5)"/><ellipse cx="855.5" cy="741.9" rx="1.8" ry="1.4" fill="#8c86b4" opacity="0.75" transform="rotate(38 855.5 741.9)"/><ellipse cx="850.6" cy="765.8" rx="2.7" ry="1.7" fill="#9a90b0" opacity="0.75" transform="rotate(24 850.6 765.8)"/><ellipse cx="831.0" cy="724.0" rx="1.6" ry="1.5" fill="#8c86b4" opacity="0.75" transform="rotate(12 831.0 724.0)"/><ellipse cx="804.0" cy="724.3" rx="1.8" ry="1.7" fill="#9a90b0" opacity="0.75" transform="rotate(118 804.0 724.3)"/><ellipse cx="778.2" cy="749.6" rx="2.1" ry="1.9" fill="#9a90b0" opacity="0.75" transform="rotate(117 778.2 749.6)"/><ellipse cx="935.0" cy="752.0" rx="23.0" ry="21.0" fill="none" stroke="#aaa2b8" stroke-width="10.0" opacity="0.75"/><ellipse cx="935.0" cy="752.0" rx="18.5" ry="16.5" fill="#dedbd6"/><ellipse cx="936.6" cy="741.7" rx="3.6" ry="3.1" fill="#e6e4e0" opacity="0.50" transform="rotate(145 936.6 741.7)"/><ellipse cx="946.7" cy="748.1" rx="6.4" ry="3.1" fill="#cbc6c0" opacity="0.50" transform="rotate(33 946.7 748.1)"/><ellipse cx="936.5" cy="761.2" rx="6.6" ry="2.2" fill="#d2cec9" opacity="0.50" transform="rotate(153 936.5 761.2)"/><ellipse cx="931.4" cy="766.8" rx="6.4" ry="2.9" fill="#e6e4e0" opacity="0.50" transform="rotate(105 931.4 766.8)"/><ellipse cx="941.3" cy="749.7" rx="5.7" ry="2.0" fill="#e6e4e0" opacity="0.50" transform="rotate(42 941.3 749.7)"/><ellipse cx="926.5" cy="753.1" rx="6.8" ry="3.5" fill="#d2cec9" opacity="0.50" transform="rotate(112 926.5 753.1)"/><ellipse cx="937.9" cy="764.7" rx="3.8" ry="5.0" fill="#e6e4e0" opacity="0.50" transform="rotate(49 937.9 764.7)"/><ellipse cx="961.4" cy="748.1" rx="1.5" ry="1.4" fill="#8c86b4" opacity="0.75" transform="rotate(120 961.4 748.1)"/><ellipse cx="959.6" cy="755.3" rx="1.7" ry="2.0" fill="#7c7cb8" opacity="0.75" transform="rotate(28 959.6 755.3)"/><ellipse cx="944.8" cy="729.6" rx="2.1" ry="1.7" fill="#8c86b4" opacity="0.75" transform="rotate(25 944.8 729.6)"/><ellipse cx="936.4" cy="773.8" rx="2.7" ry="1.3" fill="#7c7cb8" opacity="0.75" transform="rotate(180 936.4 773.8)"/><ellipse cx="951.2" cy="769.1" rx="2.5" ry="1.4" fill="#8c86b4" opacity="0.75" transform="rotate(30 951.2 769.1)"/><ellipse cx="913.3" cy="740.0" rx="2.0" ry="2.1" fill="#9a90b0" opacity="0.75" transform="rotate(40 913.3 740.0)"/><ellipse cx="950.6" cy="772.1" rx="2.8" ry="1.9" fill="#7c7cb8" opacity="0.75" transform="rotate(9 950.6 772.1)"/><ellipse cx="955.2" cy="740.9" rx="1.5" ry="1.5" fill="#8c86b4" opacity="0.75" transform="rotate(136 955.2 740.9)"/><ellipse cx="945.7" cy="771.6" rx="1.6" ry="1.6" fill="#8c86b4" opacity="0.75" transform="rotate(145 945.7 771.6)"/><ellipse cx="920.4" cy="732.5" rx="1.7" ry="1.4" fill="#9a90b0" opacity="0.75" transform="rotate(95 920.4 732.5)"/><ellipse cx="924.4" cy="731.2" rx="2.2" ry="1.8" fill="#8c86b4" opacity="0.75" transform="rotate(14 924.4 731.2)"/><ellipse cx="955.7" cy="737.6" rx="1.7" ry="1.9" fill="#8c86b4" opacity="0.75" transform="rotate(116 955.7 737.6)"/><ellipse cx="911.4" cy="765.5" rx="1.8" ry="2.0" fill="#9a90b0" opacity="0.75" transform="rotate(133 911.4 765.5)"/><ellipse cx="917.0" cy="735.4" rx="2.4" ry="2.0" fill="#7c7cb8" opacity="0.75" transform="rotate(80 917.0 735.4)"/><ellipse cx="920.6" cy="773.0" rx="2.7" ry="2.1" fill="#8c86b4" opacity="0.75" transform="rotate(173 920.6 773.0)"/><ellipse cx="940.4" cy="730.2" rx="2.1" ry="2.2" fill="#7c7cb8" opacity="0.75" transform="rotate(98 940.4 730.2)"/><ellipse cx="915.8" cy="764.8" rx="2.5" ry="1.6" fill="#9a90b0" opacity="0.75" transform="rotate(65 915.8 764.8)"/><ellipse cx="921.1" cy="730.7" rx="1.7" ry="1.4" fill="#7c7cb8" opacity="0.75" transform="rotate(158 921.1 730.7)"/><ellipse cx="954.4" cy="767.5" rx="2.6" ry="1.8" fill="#9a90b0" opacity="0.75" transform="rotate(14 954.4 767.5)"/><ellipse cx="910.9" cy="739.3" rx="2.3" ry="1.6" fill="#9a90b0" opacity="0.75" transform="rotate(137 910.9 739.3)"/><ellipse cx="924.3" cy="775.1" rx="2.4" ry="1.9" fill="#7c7cb8" opacity="0.75" transform="rotate(71 924.3 775.1)"/><ellipse cx="954.4" cy="768.3" rx="1.9" ry="1.8" fill="#7c7cb8" opacity="0.75" transform="rotate(114 954.4 768.3)"/><ellipse cx="927.2" cy="727.2" rx="1.8" ry="2.0" fill="#8c86b4" opacity="0.75" transform="rotate(117 927.2 727.2)"/><ellipse cx="947.1" cy="770.5" rx="2.1" ry="1.9" fill="#9a90b0" opacity="0.75" transform="rotate(8 947.1 770.5)"/><ellipse cx="955.7" cy="737.5" rx="2.0" ry="1.8" fill="#7c7cb8" opacity="0.75" transform="rotate(13 955.7 737.5)"/><ellipse cx="958.8" cy="752.7" rx="2.4" ry="1.2" fill="#7c7cb8" opacity="0.75" transform="rotate(31 958.8 752.7)"/><ellipse cx="956.8" cy="737.4" rx="1.8" ry="1.2" fill="#7c7cb8" opacity="0.75" transform="rotate(168 956.8 737.4)"/><ellipse cx="958.3" cy="747.9" rx="1.9" ry="1.7" fill="#8c86b4" opacity="0.75" transform="rotate(53 958.3 747.9)"/><ellipse cx="934.6" cy="726.6" rx="1.9" ry="2.1" fill="#8c86b4" opacity="0.75" transform="rotate(29 934.6 726.6)"/><ellipse cx="956.9" cy="765.2" rx="2.4" ry="1.5" fill="#9a90b0" opacity="0.75" transform="rotate(59 956.9 765.2)"/><ellipse cx="911.3" cy="751.8" rx="2.3" ry="2.2" fill="#7c7cb8" opacity="0.75" transform="rotate(135 911.3 751.8)"/><ellipse cx="948.3" cy="732.2" rx="1.9" ry="1.2" fill="#8c86b4" opacity="0.75" transform="rotate(143 948.3 732.2)"/><ellipse cx="942.5" cy="731.4" rx="2.3" ry="1.4" fill="#9a90b0" opacity="0.75" transform="rotate(81 942.5 731.4)"/><ellipse cx="908.5" cy="757.0" rx="2.3" ry="2.0" fill="#8c86b4" opacity="0.75" transform="rotate(102 908.5 757.0)"/><ellipse cx="950.5" cy="769.0" rx="2.3" ry="1.3" fill="#9a90b0" opacity="0.75" transform="rotate(82 950.5 769.0)"/><ellipse cx="935.1" cy="728.3" rx="2.2" ry="1.5" fill="#7c7cb8" opacity="0.75" transform="rotate(6 935.1 728.3)"/><ellipse cx="772.0" cy="826.0" rx="27.0" ry="26.0" fill="none" stroke="#aaa2b8" stroke-width="10.0" opacity="0.75"/><ellipse cx="772.0" cy="826.0" rx="22.5" ry="21.5" fill="#dedbd6"/><ellipse cx="771.3" cy="821.9" rx="4.2" ry="3.9" fill="#cbc6c0" opacity="0.50" transform="rotate(82 771.3 821.9)"/><ellipse cx="773.3" cy="829.2" rx="6.9" ry="5.0" fill="#e6e4e0" opacity="0.50" transform="rotate(24 773.3 829.2)"/><ellipse cx="780.2" cy="829.3" rx="4.4" ry="4.1" fill="#cbc6c0" opacity="0.50" transform="rotate(173 780.2 829.3)"/><ellipse cx="773.6" cy="820.5" rx="4.3" ry="4.2" fill="#d2cec9" opacity="0.50" transform="rotate(139 773.6 820.5)"/><ellipse cx="769.7" cy="831.0" rx="4.3" ry="2.7" fill="#d2cec9" opacity="0.50" transform="rotate(168 769.7 831.0)"/><ellipse cx="778.4" cy="820.0" rx="3.8" ry="2.4" fill="#cbc6c0" opacity="0.50" transform="rotate(129 778.4 820.0)"/><ellipse cx="781.0" cy="816.7" rx="4.9" ry="2.9" fill="#d2cec9" opacity="0.50" transform="rotate(19 781.0 816.7)"/><ellipse cx="797.8" cy="837.8" rx="2.1" ry="1.5" fill="#9a90b0" opacity="0.75" transform="rotate(92 797.8 837.8)"/><ellipse cx="742.4" cy="835.4" rx="2.7" ry="1.6" fill="#9a90b0" opacity="0.75" transform="rotate(67 742.4 835.4)"/><ellipse cx="742.2" cy="836.0" rx="2.7" ry="1.8" fill="#7c7cb8" opacity="0.75" transform="rotate(138 742.2 836.0)"/><ellipse cx="798.9" cy="842.0" rx="1.7" ry="2.1" fill="#9a90b0" opacity="0.75" transform="rotate(23 798.9 842.0)"/><ellipse cx="742.9" cy="832.1" rx="1.9" ry="1.3" fill="#9a90b0" opacity="0.75" transform="rotate(139 742.9 832.1)"/><ellipse cx="747.3" cy="835.9" rx="2.0" ry="1.3" fill="#9a90b0" opacity="0.75" transform="rotate(9 747.3 835.9)"/><ellipse cx="764.7" cy="854.9" rx="1.7" ry="1.3" fill="#7c7cb8" opacity="0.75" transform="rotate(57 764.7 854.9)"/><ellipse cx="784.4" cy="799.8" rx="2.0" ry="1.4" fill="#8c86b4" opacity="0.75" transform="rotate(138 784.4 799.8)"/><ellipse cx="746.8" cy="838.3" rx="1.7" ry="1.4" fill="#9a90b0" opacity="0.75" transform="rotate(21 746.8 838.3)"/><ellipse cx="770.2" cy="855.5" rx="2.7" ry="2.1" fill="#8c86b4" opacity="0.75" transform="rotate(41 770.2 855.5)"/><ellipse cx="784.3" cy="853.5" rx="2.5" ry="1.6" fill="#7c7cb8" opacity="0.75" transform="rotate(132 784.3 853.5)"/><ellipse cx="790.8" cy="845.3" rx="2.7" ry="1.3" fill="#9a90b0" opacity="0.75" transform="rotate(61 790.8 845.3)"/><ellipse cx="772.4" cy="852.8" rx="2.1" ry="2.2" fill="#7c7cb8" opacity="0.75" transform="rotate(176 772.4 852.8)"/><ellipse cx="751.0" cy="808.0" rx="2.4" ry="2.0" fill="#9a90b0" opacity="0.75" transform="rotate(34 751.0 808.0)"/><ellipse cx="745.0" cy="840.7" rx="2.6" ry="1.8" fill="#7c7cb8" opacity="0.75" transform="rotate(142 745.0 840.7)"/><ellipse cx="771.3" cy="851.6" rx="1.5" ry="2.2" fill="#7c7cb8" opacity="0.75" transform="rotate(153 771.3 851.6)"/><ellipse cx="783.6" cy="801.6" rx="2.0" ry="1.6" fill="#8c86b4" opacity="0.75" transform="rotate(71 783.6 801.6)"/><ellipse cx="765.3" cy="856.0" rx="1.5" ry="1.9" fill="#9a90b0" opacity="0.75" transform="rotate(139 765.3 856.0)"/><ellipse cx="743.3" cy="813.5" rx="2.6" ry="1.8" fill="#7c7cb8" opacity="0.75" transform="rotate(178 743.3 813.5)"/><ellipse cx="767.8" cy="796.6" rx="2.6" ry="1.5" fill="#9a90b0" opacity="0.75" transform="rotate(59 767.8 796.6)"/><ellipse cx="746.2" cy="836.5" rx="1.8" ry="1.9" fill="#9a90b0" opacity="0.75" transform="rotate(148 746.2 836.5)"/><ellipse cx="754.5" cy="850.9" rx="2.6" ry="2.1" fill="#7c7cb8" opacity="0.75" transform="rotate(154 754.5 850.9)"/><ellipse cx="802.0" cy="817.5" rx="2.2" ry="2.1" fill="#9a90b0" opacity="0.75" transform="rotate(176 802.0 817.5)"/><ellipse cx="799.3" cy="816.7" rx="2.1" ry="1.9" fill="#7c7cb8" opacity="0.75" transform="rotate(131 799.3 816.7)"/><ellipse cx="754.9" cy="845.8" rx="1.7" ry="2.1" fill="#7c7cb8" opacity="0.75" transform="rotate(41 754.9 845.8)"/><ellipse cx="796.0" cy="837.1" rx="2.5" ry="1.4" fill="#8c86b4" opacity="0.75" transform="rotate(115 796.0 837.1)"/><ellipse cx="761.1" cy="852.0" rx="2.0" ry="1.8" fill="#9a90b0" opacity="0.75" transform="rotate(85 761.1 852.0)"/><ellipse cx="796.6" cy="808.6" rx="1.9" ry="2.1" fill="#9a90b0" opacity="0.75" transform="rotate(165 796.6 808.6)"/><ellipse cx="746.1" cy="807.8" rx="2.7" ry="1.3" fill="#8c86b4" opacity="0.75" transform="rotate(75 746.1 807.8)"/><ellipse cx="794.0" cy="806.1" rx="1.8" ry="1.6" fill="#8c86b4" opacity="0.75" transform="rotate(167 794.0 806.1)"/><ellipse cx="755.1" cy="800.6" rx="2.4" ry="1.8" fill="#8c86b4" opacity="0.75" transform="rotate(106 755.1 800.6)"/><ellipse cx="744.3" cy="838.1" rx="2.1" ry="1.3" fill="#9a90b0" opacity="0.75" transform="rotate(52 744.3 838.1)"/><ellipse cx="741.6" cy="823.2" rx="1.6" ry="2.0" fill="#9a90b0" opacity="0.75" transform="rotate(144 741.6 823.2)"/><ellipse cx="778.1" cy="855.8" rx="2.8" ry="1.6" fill="#8c86b4" opacity="0.75" transform="rotate(115 778.1 855.8)"/><ellipse cx="797.4" cy="838.9" rx="1.9" ry="2.2" fill="#9a90b0" opacity="0.75" transform="rotate(132 797.4 838.9)"/><ellipse cx="783.4" cy="852.3" rx="2.2" ry="1.9" fill="#7c7cb8" opacity="0.75" transform="rotate(109 783.4 852.3)"/><ellipse cx="749.7" cy="846.9" rx="2.7" ry="1.4" fill="#7c7cb8" opacity="0.75" transform="rotate(164 749.7 846.9)"/><ellipse cx="743.0" cy="816.6" rx="2.6" ry="1.6" fill="#7c7cb8" opacity="0.75" transform="rotate(37 743.0 816.6)"/><ellipse cx="800.8" cy="830.1" rx="2.7" ry="2.1" fill="#7c7cb8" opacity="0.75" transform="rotate(92 800.8 830.1)"/><ellipse cx="798.9" cy="814.3" rx="1.7" ry="1.8" fill="#7c7cb8" opacity="0.75" transform="rotate(76 798.9 814.3)"/><ellipse cx="749.8" cy="809.9" rx="1.9" ry="1.6" fill="#9a90b0" opacity="0.75" transform="rotate(113 749.8 809.9)"/><ellipse cx="875.0" cy="819.0" rx="37.0" ry="26.0" fill="none" stroke="#aaa2b8" stroke-width="10.0" opacity="0.75"/><ellipse cx="875.0" cy="819.0" rx="32.5" ry="21.5" fill="#dedbd6"/><ellipse cx="893.4" cy="823.8" rx="6.2" ry="4.7" fill="#d2cec9" opacity="0.50" transform="rotate(135 893.4 823.8)"/><ellipse cx="875.5" cy="823.7" rx="5.1" ry="2.5" fill="#cbc6c0" opacity="0.50" transform="rotate(31 875.5 823.7)"/><ellipse cx="892.1" cy="806.0" rx="5.9" ry="2.3" fill="#e6e4e0" opacity="0.50" transform="rotate(128 892.1 806.0)"/><ellipse cx="873.3" cy="814.1" rx="6.4" ry="4.8" fill="#d2cec9" opacity="0.50" transform="rotate(88 873.3 814.1)"/><ellipse cx="896.9" cy="819.2" rx="6.5" ry="4.7" fill="#cbc6c0" opacity="0.50" transform="rotate(122 896.9 819.2)"/><ellipse cx="882.3" cy="825.7" rx="5.6" ry="5.0" fill="#e6e4e0" opacity="0.50" transform="rotate(73 882.3 825.7)"/><ellipse cx="870.6" cy="800.8" rx="3.9" ry="4.6" fill="#e6e4e0" opacity="0.50" transform="rotate(111 870.6 800.8)"/><ellipse cx="863.3" cy="843.9" rx="1.8" ry="1.3" fill="#7c7cb8" opacity="0.75" transform="rotate(106 863.3 843.9)"/><ellipse cx="901.0" cy="838.1" rx="2.0" ry="2.0" fill="#9a90b0" opacity="0.75" transform="rotate(88 901.0 838.1)"/><ellipse cx="910.7" cy="809.5" rx="1.8" ry="1.8" fill="#7c7cb8" opacity="0.75" transform="rotate(90 910.7 809.5)"/><ellipse cx="879.0" cy="846.2" rx="2.0" ry="1.3" fill="#7c7cb8" opacity="0.75" transform="rotate(64 879.0 846.2)"/><ellipse cx="841.9" cy="831.4" rx="2.4" ry="1.6" fill="#7c7cb8" opacity="0.75" transform="rotate(84 841.9 831.4)"/><ellipse cx="894.6" cy="794.5" rx="1.6" ry="2.0" fill="#8c86b4" opacity="0.75" transform="rotate(64 894.6 794.5)"/><ellipse cx="846.6" cy="796.7" rx="2.0" ry="1.6" fill="#8c86b4" opacity="0.75" transform="rotate(28 846.6 796.7)"/><ellipse cx="851.9" cy="794.8" rx="1.5" ry="1.9" fill="#9a90b0" opacity="0.75" transform="rotate(66 851.9 794.8)"/><ellipse cx="899.1" cy="795.0" rx="2.3" ry="1.9" fill="#8c86b4" opacity="0.75" transform="rotate(144 899.1 795.0)"/><ellipse cx="896.4" cy="842.7" rx="2.3" ry="1.5" fill="#7c7cb8" opacity="0.75" transform="rotate(162 896.4 842.7)"/><ellipse cx="885.8" cy="794.7" rx="1.9" ry="1.7" fill="#8c86b4" opacity="0.75" transform="rotate(49 885.8 794.7)"/><ellipse cx="840.7" cy="815.6" rx="2.2" ry="2.0" fill="#8c86b4" opacity="0.75" transform="rotate(115 840.7 815.6)"/><ellipse cx="838.4" cy="822.9" rx="2.0" ry="1.8" fill="#8c86b4" opacity="0.75" transform="rotate(3 838.4 822.9)"/><ellipse cx="885.8" cy="794.5" rx="2.6" ry="1.8" fill="#7c7cb8" opacity="0.75" transform="rotate(50 885.8 794.5)"/><ellipse cx="854.9" cy="845.1" rx="1.7" ry="1.9" fill="#7c7cb8" opacity="0.75" transform="rotate(14 854.9 845.1)"/><ellipse cx="885.0" cy="847.6" rx="1.7" ry="1.5" fill="#7c7cb8" opacity="0.75" transform="rotate(10 885.0 847.6)"/><ellipse cx="871.5" cy="848.4" rx="2.4" ry="2.1" fill="#7c7cb8" opacity="0.75" transform="rotate(99 871.5 848.4)"/><ellipse cx="906.0" cy="806.8" rx="2.7" ry="1.6" fill="#7c7cb8" opacity="0.75" transform="rotate(7 906.0 806.8)"/><ellipse cx="835.0" cy="819.6" rx="2.0" ry="1.8" fill="#9a90b0" opacity="0.75" transform="rotate(136 835.0 819.6)"/><ellipse cx="840.7" cy="801.3" rx="1.5" ry="1.3" fill="#7c7cb8" opacity="0.75" transform="rotate(7 840.7 801.3)"/><ellipse cx="856.4" cy="844.9" rx="1.7" ry="1.7" fill="#7c7cb8" opacity="0.75" transform="rotate(33 856.4 844.9)"/><ellipse cx="844.4" cy="800.5" rx="2.8" ry="1.6" fill="#8c86b4" opacity="0.75" transform="rotate(59 844.4 800.5)"/><ellipse cx="843.2" cy="834.1" rx="2.1" ry="1.2" fill="#9a90b0" opacity="0.75" transform="rotate(127 843.2 834.1)"/><ellipse cx="891.2" cy="842.6" rx="1.7" ry="1.6" fill="#9a90b0" opacity="0.75" transform="rotate(118 891.2 842.6)"/><ellipse cx="838.1" cy="828.7" rx="2.7" ry="2.0" fill="#9a90b0" opacity="0.75" transform="rotate(142 838.1 828.7)"/><ellipse cx="841.3" cy="806.2" rx="2.6" ry="1.8" fill="#8c86b4" opacity="0.75" transform="rotate(119 841.3 806.2)"/><ellipse cx="839.5" cy="817.1" rx="1.6" ry="2.0" fill="#9a90b0" opacity="0.75" transform="rotate(26 839.5 817.1)"/><ellipse cx="891.9" cy="843.6" rx="2.4" ry="1.2" fill="#9a90b0" opacity="0.75" transform="rotate(93 891.9 843.6)"/><ellipse cx="915.4" cy="820.1" rx="2.0" ry="1.9" fill="#9a90b0" opacity="0.75" transform="rotate(68 915.4 820.1)"/><ellipse cx="855.7" cy="795.7" rx="2.1" ry="1.8" fill="#9a90b0" opacity="0.75" transform="rotate(29 855.7 795.7)"/><ellipse cx="903.4" cy="802.8" rx="2.8" ry="1.4" fill="#9a90b0" opacity="0.75" transform="rotate(142 903.4 802.8)"/><ellipse cx="893.1" cy="791.1" rx="2.4" ry="1.5" fill="#9a90b0" opacity="0.75" transform="rotate(47 893.1 791.1)"/><ellipse cx="847.7" cy="802.1" rx="2.6" ry="1.7" fill="#8c86b4" opacity="0.75" transform="rotate(155 847.7 802.1)"/><ellipse cx="913.1" cy="817.0" rx="2.6" ry="1.2" fill="#8c86b4" opacity="0.75" transform="rotate(137 913.1 817.0)"/><ellipse cx="838.0" cy="805.5" rx="2.3" ry="1.6" fill="#7c7cb8" opacity="0.75" transform="rotate(16 838.0 805.5)"/><ellipse cx="881.0" cy="793.4" rx="1.9" ry="1.3" fill="#8c86b4" opacity="0.75" transform="rotate(80 881.0 793.4)"/><ellipse cx="869.6" cy="792.4" rx="2.4" ry="1.8" fill="#7c7cb8" opacity="0.75" transform="rotate(6 869.6 792.4)"/><ellipse cx="893.5" cy="795.6" rx="1.6" ry="1.5" fill="#8c86b4" opacity="0.75" transform="rotate(37 893.5 795.6)"/><ellipse cx="836.8" cy="817.6" rx="2.2" ry="2.0" fill="#9a90b0" opacity="0.75" transform="rotate(146 836.8 817.6)"/><ellipse cx="877.0" cy="791.1" rx="2.6" ry="1.6" fill="#9a90b0" opacity="0.75" transform="rotate(85 877.0 791.1)"/><ellipse cx="904.5" cy="839.1" rx="1.7" ry="1.9" fill="#7c7cb8" opacity="0.75" transform="rotate(108 904.5 839.1)"/><ellipse cx="901.4" cy="796.8" rx="2.7" ry="1.6" fill="#8c86b4" opacity="0.75" transform="rotate(154 901.4 796.8)"/><ellipse cx="872.7" cy="847.2" rx="2.1" ry="1.2" fill="#7c7cb8" opacity="0.75" transform="rotate(153 872.7 847.2)"/><ellipse cx="902.2" cy="803.1" rx="2.1" ry="1.7" fill="#9a90b0" opacity="0.75" transform="rotate(14 902.2 803.1)"/><ellipse cx="864.6" cy="848.1" rx="2.3" ry="2.2" fill="#9a90b0" opacity="0.75" transform="rotate(147 864.6 848.1)"/><ellipse cx="901.1" cy="837.1" rx="2.2" ry="1.5" fill="#7c7cb8" opacity="0.75" transform="rotate(163 901.1 837.1)"/><ellipse cx="881.9" cy="848.8" rx="1.8" ry="1.5" fill="#7c7cb8" opacity="0.75" transform="rotate(40 881.9 848.8)"/><ellipse cx="907.5" cy="803.0" rx="2.8" ry="2.0" fill="#9a90b0" opacity="0.75" transform="rotate(69 907.5 803.0)"/><ellipse cx="845.4" cy="797.3" rx="1.8" ry="1.6" fill="#8c86b4" opacity="0.75" transform="rotate(145 845.4 797.3)"/><ellipse cx="858.4" cy="792.1" rx="1.8" ry="1.7" fill="#9a90b0" opacity="0.75" transform="rotate(173 858.4 792.1)"/><ellipse cx="906.6" cy="806.8" rx="2.4" ry="1.8" fill="#8c86b4" opacity="0.75" transform="rotate(160 906.6 806.8)"/><ellipse cx="910.5" cy="803.5" rx="2.1" ry="2.1" fill="#9a90b0" opacity="0.75" transform="rotate(66 910.5 803.5)"/><ellipse cx="837.1" cy="809.1" rx="2.3" ry="1.4" fill="#7c7cb8" opacity="0.75" transform="rotate(66 837.1 809.1)"/><ellipse cx="915.5" cy="811.3" rx="1.7" ry="1.8" fill="#8c86b4" opacity="0.75" transform="rotate(69 915.5 811.3)"/><ellipse cx="926.0" cy="857.0" rx="28.0" ry="27.0" fill="none" stroke="#aaa2b8" stroke-width="10.0" opacity="0.75"/><ellipse cx="926.0" cy="857.0" rx="23.5" ry="22.5" fill="#dedbd6"/><ellipse cx="920.1" cy="855.2" rx="3.1" ry="2.6" fill="#d2cec9" opacity="0.50" transform="rotate(172 920.1 855.2)"/><ellipse cx="919.0" cy="859.0" rx="6.1" ry="4.8" fill="#cbc6c0" opacity="0.50" transform="rotate(65 919.0 859.0)"/><ellipse cx="937.9" cy="853.2" rx="5.2" ry="4.6" fill="#cbc6c0" opacity="0.50" transform="rotate(31 937.9 853.2)"/><ellipse cx="927.4" cy="860.4" rx="4.2" ry="4.1" fill="#cbc6c0" opacity="0.50" transform="rotate(175 927.4 860.4)"/><ellipse cx="926.2" cy="857.1" rx="5.2" ry="2.6" fill="#cbc6c0" opacity="0.50" transform="rotate(119 926.2 857.1)"/><ellipse cx="926.1" cy="852.4" rx="3.4" ry="2.9" fill="#d2cec9" opacity="0.50" transform="rotate(179 926.1 852.4)"/><ellipse cx="919.8" cy="844.7" rx="3.0" ry="2.1" fill="#e6e4e0" opacity="0.50" transform="rotate(16 919.8 844.7)"/><ellipse cx="919.8" cy="887.8" rx="2.4" ry="1.7" fill="#8c86b4" opacity="0.75" transform="rotate(162 919.8 887.8)"/><ellipse cx="899.0" cy="840.5" rx="1.5" ry="1.4" fill="#7c7cb8" opacity="0.75" transform="rotate(163 899.0 840.5)"/><ellipse cx="930.6" cy="884.1" rx="1.7" ry="1.8" fill="#9a90b0" opacity="0.75" transform="rotate(93 930.6 884.1)"/><ellipse cx="911.4" cy="885.5" rx="2.0" ry="1.9" fill="#7c7cb8" opacity="0.75" transform="rotate(107 911.4 885.5)"/><ellipse cx="916.4" cy="829.9" rx="2.6" ry="2.1" fill="#9a90b0" opacity="0.75" transform="rotate(27 916.4 829.9)"/><ellipse cx="905.6" cy="879.6" rx="2.7" ry="2.2" fill="#8c86b4" opacity="0.75" transform="rotate(112 905.6 879.6)"/><ellipse cx="910.0" cy="834.7" rx="2.4" ry="1.8" fill="#8c86b4" opacity="0.75" transform="rotate(165 910.0 834.7)"/><ellipse cx="905.3" cy="878.4" rx="1.7" ry="1.4" fill="#7c7cb8" opacity="0.75" transform="rotate(106 905.3 878.4)"/><ellipse cx="934.8" cy="831.2" rx="2.2" ry="1.8" fill="#9a90b0" opacity="0.75" transform="rotate(89 934.8 831.2)"/><ellipse cx="895.3" cy="864.0" rx="2.4" ry="1.4" fill="#7c7cb8" opacity="0.75" transform="rotate(43 895.3 864.0)"/><ellipse cx="927.2" cy="829.4" rx="2.6" ry="1.4" fill="#7c7cb8" opacity="0.75" transform="rotate(150 927.2 829.4)"/><ellipse cx="900.9" cy="841.8" rx="2.1" ry="1.2" fill="#9a90b0" opacity="0.75" transform="rotate(179 900.9 841.8)"/><ellipse cx="957.4" cy="866.7" rx="1.8" ry="1.2" fill="#7c7cb8" opacity="0.75" transform="rotate(36 957.4 866.7)"/><ellipse cx="924.1" cy="887.6" rx="2.5" ry="1.5" fill="#7c7cb8" opacity="0.75" transform="rotate(76 924.1 887.6)"/><ellipse cx="915.2" cy="884.2" rx="2.7" ry="1.4" fill="#7c7cb8" opacity="0.75" transform="rotate(31 915.2 884.2)"/><ellipse cx="896.3" cy="870.1" rx="1.6" ry="1.7" fill="#7c7cb8" opacity="0.75" transform="rotate(106 896.3 870.1)"/><ellipse cx="893.1" cy="857.5" rx="2.5" ry="1.9" fill="#9a90b0" opacity="0.75" transform="rotate(142 893.1 857.5)"/><ellipse cx="920.1" cy="882.8" rx="1.6" ry="1.7" fill="#9a90b0" opacity="0.75" transform="rotate(129 920.1 882.8)"/><ellipse cx="898.0" cy="855.2" rx="2.4" ry="1.6" fill="#9a90b0" opacity="0.75" transform="rotate(82 898.0 855.2)"/><ellipse cx="927.8" cy="885.9" rx="2.4" ry="1.9" fill="#7c7cb8" opacity="0.75" transform="rotate(36 927.8 885.9)"/><ellipse cx="952.5" cy="872.8" rx="2.8" ry="1.5" fill="#8c86b4" opacity="0.75" transform="rotate(119 952.5 872.8)"/><ellipse cx="912.8" cy="880.2" rx="2.0" ry="2.0" fill="#7c7cb8" opacity="0.75" transform="rotate(28 912.8 880.2)"/><ellipse cx="953.4" cy="869.6" rx="2.8" ry="2.1" fill="#7c7cb8" opacity="0.75" transform="rotate(69 953.4 869.6)"/><ellipse cx="913.9" cy="831.9" rx="1.6" ry="2.1" fill="#9a90b0" opacity="0.75" transform="rotate(146 913.9 831.9)"/><ellipse cx="917.5" cy="887.5" rx="2.6" ry="1.7" fill="#7c7cb8" opacity="0.75" transform="rotate(12 917.5 887.5)"/><ellipse cx="897.4" cy="868.5" rx="1.5" ry="1.4" fill="#9a90b0" opacity="0.75" transform="rotate(8 897.4 868.5)"/><ellipse cx="919.1" cy="826.9" rx="1.6" ry="1.5" fill="#7c7cb8" opacity="0.75" transform="rotate(40 919.1 826.9)"/><ellipse cx="953.2" cy="848.1" rx="1.7" ry="2.0" fill="#8c86b4" opacity="0.75" transform="rotate(128 953.2 848.1)"/><ellipse cx="920.5" cy="888.4" rx="2.1" ry="1.2" fill="#7c7cb8" opacity="0.75" transform="rotate(98 920.5 888.4)"/><ellipse cx="900.2" cy="868.6" rx="2.7" ry="1.9" fill="#8c86b4" opacity="0.75" transform="rotate(129 900.2 868.6)"/><ellipse cx="948.0" cy="875.8" rx="2.4" ry="1.2" fill="#7c7cb8" opacity="0.75" transform="rotate(157 948.0 875.8)"/><ellipse cx="950.9" cy="871.1" rx="2.3" ry="2.0" fill="#9a90b0" opacity="0.75" transform="rotate(141 950.9 871.1)"/><ellipse cx="946.2" cy="834.8" rx="2.8" ry="1.8" fill="#9a90b0" opacity="0.75" transform="rotate(96 946.2 834.8)"/><ellipse cx="915.4" cy="882.4" rx="2.4" ry="1.3" fill="#8c86b4" opacity="0.75" transform="rotate(92 915.4 882.4)"/><ellipse cx="901.8" cy="842.5" rx="1.9" ry="1.7" fill="#9a90b0" opacity="0.75" transform="rotate(4 901.8 842.5)"/><ellipse cx="898.3" cy="869.7" rx="1.6" ry="1.5" fill="#7c7cb8" opacity="0.75" transform="rotate(139 898.3 869.7)"/><ellipse cx="916.9" cy="827.6" rx="2.2" ry="1.4" fill="#9a90b0" opacity="0.75" transform="rotate(98 916.9 827.6)"/><ellipse cx="898.3" cy="849.4" rx="2.6" ry="1.2" fill="#8c86b4" opacity="0.75" transform="rotate(87 898.3 849.4)"/><ellipse cx="922.6" cy="829.7" rx="2.1" ry="1.6" fill="#8c86b4" opacity="0.75" transform="rotate(82 922.6 829.7)"/><ellipse cx="951.0" cy="871.6" rx="2.4" ry="2.0" fill="#8c86b4" opacity="0.75" transform="rotate(118 951.0 871.6)"/><ellipse cx="912.2" cy="830.3" rx="2.4" ry="1.5" fill="#7c7cb8" opacity="0.75" transform="rotate(62 912.2 830.3)"/><ellipse cx="901.0" cy="872.5" rx="2.3" ry="2.1" fill="#8c86b4" opacity="0.75" transform="rotate(145 901.0 872.5)"/><ellipse cx="725.0" cy="870.0" rx="17.0" ry="26.0" fill="none" stroke="#aaa2b8" stroke-width="10.0" opacity="0.75"/><ellipse cx="725.0" cy="870.0" rx="12.5" ry="21.5" fill="#dedbd6"/><ellipse cx="725.6" cy="876.2" rx="3.4" ry="4.4" fill="#cbc6c0" opacity="0.50" transform="rotate(33 725.6 876.2)"/><ellipse cx="727.1" cy="872.2" rx="6.6" ry="2.1" fill="#d2cec9" opacity="0.50" transform="rotate(161 727.1 872.2)"/><ellipse cx="731.7" cy="856.9" rx="4.8" ry="3.3" fill="#e6e4e0" opacity="0.50" transform="rotate(28 731.7 856.9)"/><ellipse cx="719.1" cy="859.7" rx="4.4" ry="2.2" fill="#cbc6c0" opacity="0.50" transform="rotate(153 719.1 859.7)"/><ellipse cx="719.5" cy="883.8" rx="6.6" ry="3.3" fill="#d2cec9" opacity="0.50" transform="rotate(27 719.5 883.8)"/><ellipse cx="726.4" cy="860.7" rx="3.4" ry="2.8" fill="#cbc6c0" opacity="0.50" transform="rotate(72 726.4 860.7)"/><ellipse cx="722.2" cy="867.3" rx="3.1" ry="3.2" fill="#e6e4e0" opacity="0.50" transform="rotate(141 722.2 867.3)"/><ellipse cx="723.3" cy="844.0" rx="1.9" ry="1.3" fill="#7c7cb8" opacity="0.75" transform="rotate(112 723.3 844.0)"/><ellipse cx="731.8" cy="893.6" rx="2.4" ry="1.8" fill="#8c86b4" opacity="0.75" transform="rotate(18 731.8 893.6)"/><ellipse cx="719.4" cy="840.9" rx="1.8" ry="1.7" fill="#9a90b0" opacity="0.75" transform="rotate(159 719.4 840.9)"/><ellipse cx="739.7" cy="889.8" rx="2.2" ry="2.1" fill="#7c7cb8" opacity="0.75" transform="rotate(92 739.7 889.8)"/><ellipse cx="738.6" cy="888.5" rx="1.9" ry="1.6" fill="#8c86b4" opacity="0.75" transform="rotate(3 738.6 888.5)"/><ellipse cx="727.6" cy="897.0" rx="2.0" ry="1.9" fill="#8c86b4" opacity="0.75" transform="rotate(44 727.6 897.0)"/><ellipse cx="708.3" cy="855.7" rx="1.5" ry="2.0" fill="#8c86b4" opacity="0.75" transform="rotate(48 708.3 855.7)"/><ellipse cx="728.3" cy="842.3" rx="2.8" ry="1.3" fill="#8c86b4" opacity="0.75" transform="rotate(83 728.3 842.3)"/><ellipse cx="709.8" cy="854.6" rx="2.3" ry="1.7" fill="#8c86b4" opacity="0.75" transform="rotate(29 709.8 854.6)"/><ellipse cx="746.1" cy="861.6" rx="2.5" ry="1.9" fill="#7c7cb8" opacity="0.75" transform="rotate(56 746.1 861.6)"/><ellipse cx="739.3" cy="848.8" rx="1.6" ry="2.1" fill="#7c7cb8" opacity="0.75" transform="rotate(66 739.3 848.8)"/><ellipse cx="706.7" cy="881.6" rx="1.9" ry="1.9" fill="#9a90b0" opacity="0.75" transform="rotate(66 706.7 881.6)"/><ellipse cx="720.8" cy="844.7" rx="2.2" ry="1.3" fill="#8c86b4" opacity="0.75" transform="rotate(155 720.8 844.7)"/><ellipse cx="730.4" cy="899.3" rx="2.0" ry="1.5" fill="#9a90b0" opacity="0.75" transform="rotate(101 730.4 899.3)"/><ellipse cx="721.8" cy="899.3" rx="2.3" ry="1.9" fill="#7c7cb8" opacity="0.75" transform="rotate(66 721.8 899.3)"/><ellipse cx="745.5" cy="867.1" rx="1.7" ry="1.9" fill="#7c7cb8" opacity="0.75" transform="rotate(61 745.5 867.1)"/><ellipse cx="706.0" cy="885.3" rx="2.0" ry="1.6" fill="#7c7cb8" opacity="0.75" transform="rotate(180 706.0 885.3)"/><ellipse cx="731.5" cy="896.9" rx="2.0" ry="1.5" fill="#7c7cb8" opacity="0.75" transform="rotate(142 731.5 896.9)"/><ellipse cx="704.4" cy="878.0" rx="2.0" ry="1.9" fill="#7c7cb8" opacity="0.75" transform="rotate(68 704.4 878.0)"/><ellipse cx="739.7" cy="852.3" rx="2.0" ry="1.2" fill="#9a90b0" opacity="0.75" transform="rotate(85 739.7 852.3)"/><ellipse cx="731.1" cy="895.0" rx="2.3" ry="1.9" fill="#8c86b4" opacity="0.75" transform="rotate(146 731.1 895.0)"/><ellipse cx="704.2" cy="869.7" rx="2.5" ry="1.9" fill="#8c86b4" opacity="0.75" transform="rotate(52 704.2 869.7)"/><ellipse cx="704.6" cy="863.7" rx="2.5" ry="1.3" fill="#8c86b4" opacity="0.75" transform="rotate(56 704.6 863.7)"/><ellipse cx="716.2" cy="844.3" rx="2.3" ry="2.0" fill="#9a90b0" opacity="0.75" transform="rotate(150 716.2 844.3)"/><ellipse cx="715.1" cy="843.9" rx="1.9" ry="1.3" fill="#8c86b4" opacity="0.75" transform="rotate(89 715.1 843.9)"/><ellipse cx="707.2" cy="861.9" rx="1.6" ry="2.1" fill="#7c7cb8" opacity="0.75" transform="rotate(110 707.2 861.9)"/><ellipse cx="746.3" cy="876.3" rx="2.8" ry="1.9" fill="#8c86b4" opacity="0.75" transform="rotate(145 746.3 876.3)"/><ellipse cx="744.6" cy="883.0" rx="2.7" ry="1.2" fill="#9a90b0" opacity="0.75" transform="rotate(160 744.6 883.0)"/><ellipse cx="818.0" cy="889.0" rx="40.0" ry="32.0" fill="none" stroke="#aaa2b8" stroke-width="10.0" opacity="0.75"/><ellipse cx="818.0" cy="889.0" rx="35.5" ry="27.5" fill="#dedbd6"/><ellipse cx="797.2" cy="895.8" rx="5.8" ry="3.6" fill="#d2cec9" opacity="0.50" transform="rotate(37 797.2 895.8)"/><ellipse cx="825.4" cy="884.5" rx="3.1" ry="3.0" fill="#d2cec9" opacity="0.50" transform="rotate(164 825.4 884.5)"/><ellipse cx="837.2" cy="891.2" rx="3.2" ry="4.1" fill="#cbc6c0" opacity="0.50" transform="rotate(50 837.2 891.2)"/><ellipse cx="839.4" cy="879.3" rx="6.5" ry="5.0" fill="#e6e4e0" opacity="0.50" transform="rotate(109 839.4 879.3)"/><ellipse cx="832.7" cy="886.8" rx="3.0" ry="2.2" fill="#e6e4e0" opacity="0.50" transform="rotate(41 832.7 886.8)"/><ellipse cx="839.0" cy="900.2" rx="5.2" ry="3.8" fill="#d2cec9" opacity="0.50" transform="rotate(69 839.0 900.2)"/><ellipse cx="808.2" cy="886.8" rx="6.2" ry="4.5" fill="#d2cec9" opacity="0.50" transform="rotate(51 808.2 886.8)"/><ellipse cx="816.6" cy="853.1" rx="1.8" ry="1.9" fill="#8c86b4" opacity="0.75" transform="rotate(8 816.6 853.1)"/><ellipse cx="851.5" cy="907.7" rx="2.5" ry="1.7" fill="#8c86b4" opacity="0.75" transform="rotate(90 851.5 907.7)"/><ellipse cx="860.4" cy="894.9" rx="2.5" ry="2.1" fill="#8c86b4" opacity="0.75" transform="rotate(72 860.4 894.9)"/><ellipse cx="839.9" cy="917.4" rx="2.7" ry="2.1" fill="#7c7cb8" opacity="0.75" transform="rotate(94 839.9 917.4)"/><ellipse cx="843.1" cy="919.0" rx="2.1" ry="1.7" fill="#7c7cb8" opacity="0.75" transform="rotate(118 843.1 919.0)"/><ellipse cx="818.3" cy="923.1" rx="2.7" ry="1.5" fill="#8c86b4" opacity="0.75" transform="rotate(114 818.3 923.1)"/><ellipse cx="778.3" cy="892.6" rx="2.3" ry="1.4" fill="#8c86b4" opacity="0.75" transform="rotate(145 778.3 892.6)"/><ellipse cx="845.3" cy="865.7" rx="2.5" ry="1.3" fill="#9a90b0" opacity="0.75" transform="rotate(108 845.3 865.7)"/><ellipse cx="791.4" cy="866.8" rx="2.5" ry="1.5" fill="#7c7cb8" opacity="0.75" transform="rotate(142 791.4 866.8)"/><ellipse cx="799.0" cy="856.8" rx="2.1" ry="1.9" fill="#8c86b4" opacity="0.75" transform="rotate(34 799.0 856.8)"/><ellipse cx="850.4" cy="908.6" rx="2.2" ry="1.3" fill="#7c7cb8" opacity="0.75" transform="rotate(116 850.4 908.6)"/><ellipse cx="782.2" cy="902.0" rx="1.6" ry="1.9" fill="#7c7cb8" opacity="0.75" transform="rotate(29 782.2 902.0)"/><ellipse cx="785.1" cy="872.7" rx="2.3" ry="1.7" fill="#7c7cb8" opacity="0.75" transform="rotate(3 785.1 872.7)"/><ellipse cx="852.8" cy="875.5" rx="1.5" ry="2.0" fill="#9a90b0" opacity="0.75" transform="rotate(18 852.8 875.5)"/><ellipse cx="777.8" cy="903.2" rx="2.8" ry="1.8" fill="#9a90b0" opacity="0.75" transform="rotate(41 777.8 903.2)"/><ellipse cx="780.2" cy="873.7" rx="2.0" ry="1.7" fill="#7c7cb8" opacity="0.75" transform="rotate(177 780.2 873.7)"/><ellipse cx="839.6" cy="916.1" rx="1.8" ry="2.0" fill="#7c7cb8" opacity="0.75" transform="rotate(11 839.6 916.1)"/><ellipse cx="778.3" cy="873.0" rx="1.8" ry="1.4" fill="#8c86b4" opacity="0.75" transform="rotate(45 778.3 873.0)"/><ellipse cx="853.0" cy="906.3" rx="1.8" ry="1.5" fill="#8c86b4" opacity="0.75" transform="rotate(40 853.0 906.3)"/><ellipse cx="820.0" cy="925.2" rx="2.0" ry="2.0" fill="#7c7cb8" opacity="0.75" transform="rotate(21 820.0 925.2)"/><ellipse cx="817.9" cy="855.6" rx="2.1" ry="1.2" fill="#7c7cb8" opacity="0.75" transform="rotate(38 817.9 855.6)"/><ellipse cx="859.9" cy="897.1" rx="2.0" ry="2.1" fill="#8c86b4" opacity="0.75" transform="rotate(40 859.9 897.1)"/><ellipse cx="781.5" cy="906.0" rx="2.6" ry="1.9" fill="#9a90b0" opacity="0.75" transform="rotate(79 781.5 906.0)"/><ellipse cx="823.1" cy="853.4" rx="2.1" ry="1.4" fill="#8c86b4" opacity="0.75" transform="rotate(163 823.1 853.4)"/><ellipse cx="834.6" cy="860.3" rx="1.6" ry="1.4" fill="#9a90b0" opacity="0.75" transform="rotate(162 834.6 860.3)"/><ellipse cx="859.0" cy="888.0" rx="1.7" ry="1.9" fill="#8c86b4" opacity="0.75" transform="rotate(176 859.0 888.0)"/><ellipse cx="859.8" cy="891.9" rx="2.3" ry="2.0" fill="#8c86b4" opacity="0.75" transform="rotate(147 859.8 891.9)"/><ellipse cx="846.5" cy="865.5" rx="2.3" ry="2.1" fill="#7c7cb8" opacity="0.75" transform="rotate(116 846.5 865.5)"/><ellipse cx="794.6" cy="860.1" rx="1.5" ry="1.6" fill="#8c86b4" opacity="0.75" transform="rotate(94 794.6 860.1)"/><ellipse cx="822.3" cy="919.6" rx="1.6" ry="1.3" fill="#7c7cb8" opacity="0.75" transform="rotate(142 822.3 919.6)"/><ellipse cx="803.8" cy="920.9" rx="2.6" ry="1.3" fill="#9a90b0" opacity="0.75" transform="rotate(116 803.8 920.9)"/><ellipse cx="857.3" cy="888.1" rx="2.5" ry="2.1" fill="#9a90b0" opacity="0.75" transform="rotate(32 857.3 888.1)"/><ellipse cx="785.6" cy="909.7" rx="2.0" ry="1.3" fill="#9a90b0" opacity="0.75" transform="rotate(84 785.6 909.7)"/><ellipse cx="777.6" cy="891.7" rx="1.6" ry="2.1" fill="#8c86b4" opacity="0.75" transform="rotate(174 777.6 891.7)"/><ellipse cx="799.6" cy="920.2" rx="2.6" ry="1.6" fill="#9a90b0" opacity="0.75" transform="rotate(50 799.6 920.2)"/><ellipse cx="846.8" cy="908.4" rx="2.1" ry="2.1" fill="#7c7cb8" opacity="0.75" transform="rotate(28 846.8 908.4)"/><ellipse cx="785.8" cy="911.0" rx="2.0" ry="1.8" fill="#7c7cb8" opacity="0.75" transform="rotate(77 785.8 911.0)"/><ellipse cx="858.9" cy="875.3" rx="1.8" ry="1.8" fill="#8c86b4" opacity="0.75" transform="rotate(15 858.9 875.3)"/><ellipse cx="786.1" cy="866.2" rx="2.5" ry="2.1" fill="#8c86b4" opacity="0.75" transform="rotate(128 786.1 866.2)"/><ellipse cx="858.9" cy="903.1" rx="1.6" ry="1.5" fill="#9a90b0" opacity="0.75" transform="rotate(147 858.9 903.1)"/><ellipse cx="832.8" cy="858.6" rx="2.5" ry="1.3" fill="#7c7cb8" opacity="0.75" transform="rotate(27 832.8 858.6)"/><ellipse cx="824.5" cy="919.4" rx="1.6" ry="1.4" fill="#9a90b0" opacity="0.75" transform="rotate(13 824.5 919.4)"/><ellipse cx="807.0" cy="924.7" rx="2.1" ry="1.8" fill="#8c86b4" opacity="0.75" transform="rotate(151 807.0 924.7)"/><ellipse cx="859.1" cy="899.2" rx="1.6" ry="2.1" fill="#8c86b4" opacity="0.75" transform="rotate(55 859.1 899.2)"/><ellipse cx="853.3" cy="900.2" rx="2.1" ry="1.8" fill="#7c7cb8" opacity="0.75" transform="rotate(106 853.3 900.2)"/><ellipse cx="810.9" cy="857.3" rx="2.1" ry="1.4" fill="#8c86b4" opacity="0.75" transform="rotate(4 810.9 857.3)"/><ellipse cx="779.9" cy="897.8" rx="2.2" ry="1.8" fill="#9a90b0" opacity="0.75" transform="rotate(15 779.9 897.8)"/><ellipse cx="830.9" cy="857.1" rx="1.8" ry="1.3" fill="#9a90b0" opacity="0.75" transform="rotate(150 830.9 857.1)"/><ellipse cx="807.9" cy="920.3" rx="1.8" ry="2.1" fill="#9a90b0" opacity="0.75" transform="rotate(49 807.9 920.3)"/><ellipse cx="861.8" cy="884.7" rx="2.8" ry="2.1" fill="#8c86b4" opacity="0.75" transform="rotate(170 861.8 884.7)"/><ellipse cx="844.9" cy="861.0" rx="1.7" ry="1.7" fill="#7c7cb8" opacity="0.75" transform="rotate(146 844.9 861.0)"/><ellipse cx="782.9" cy="878.0" rx="2.6" ry="1.4" fill="#8c86b4" opacity="0.75" transform="rotate(124 782.9 878.0)"/><ellipse cx="854.3" cy="874.9" rx="1.7" ry="1.9" fill="#8c86b4" opacity="0.75" transform="rotate(119 854.3 874.9)"/><ellipse cx="850.3" cy="909.5" rx="2.3" ry="1.9" fill="#7c7cb8" opacity="0.75" transform="rotate(161 850.3 909.5)"/><ellipse cx="856.7" cy="880.4" rx="2.4" ry="1.4" fill="#9a90b0" opacity="0.75" transform="rotate(125 856.7 880.4)"/><ellipse cx="815.5" cy="854.4" rx="2.0" ry="1.8" fill="#9a90b0" opacity="0.75" transform="rotate(71 815.5 854.4)"/><ellipse cx="788.6" cy="908.9" rx="2.2" ry="1.5" fill="#9a90b0" opacity="0.75" transform="rotate(84 788.6 908.9)"/><ellipse cx="838.6" cy="861.9" rx="2.5" ry="1.9" fill="#7c7cb8" opacity="0.75" transform="rotate(150 838.6 861.9)"/><ellipse cx="890.0" cy="921.0" rx="28.0" ry="25.0" fill="none" stroke="#aaa2b8" stroke-width="10.0" opacity="0.75"/><ellipse cx="890.0" cy="921.0" rx="23.5" ry="20.5" fill="#dedbd6"/><ellipse cx="893.8" cy="917.7" rx="6.1" ry="3.4" fill="#e6e4e0" opacity="0.50" transform="rotate(108 893.8 917.7)"/><ellipse cx="907.5" cy="919.4" rx="3.7" ry="3.6" fill="#d2cec9" opacity="0.50" transform="rotate(31 907.5 919.4)"/><ellipse cx="896.3" cy="929.5" rx="3.8" ry="3.0" fill="#d2cec9" opacity="0.50" transform="rotate(94 896.3 929.5)"/><ellipse cx="896.8" cy="928.8" rx="6.9" ry="4.4" fill="#e6e4e0" opacity="0.50" transform="rotate(54 896.8 928.8)"/><ellipse cx="889.1" cy="928.1" rx="3.0" ry="3.3" fill="#e6e4e0" opacity="0.50" transform="rotate(84 889.1 928.1)"/><ellipse cx="878.4" cy="925.1" rx="6.1" ry="2.3" fill="#d2cec9" opacity="0.50" transform="rotate(73 878.4 925.1)"/><ellipse cx="890.7" cy="931.7" rx="4.8" ry="3.3" fill="#cbc6c0" opacity="0.50" transform="rotate(91 890.7 931.7)"/><ellipse cx="890.7" cy="947.1" rx="2.8" ry="1.6" fill="#7c7cb8" opacity="0.75" transform="rotate(160 890.7 947.1)"/><ellipse cx="912.8" cy="941.6" rx="1.5" ry="1.9" fill="#9a90b0" opacity="0.75" transform="rotate(87 912.8 941.6)"/><ellipse cx="907.8" cy="942.3" rx="2.7" ry="1.7" fill="#8c86b4" opacity="0.75" transform="rotate(72 907.8 942.3)"/><ellipse cx="901.3" cy="947.5" rx="2.2" ry="2.0" fill="#9a90b0" opacity="0.75" transform="rotate(60 901.3 947.5)"/><ellipse cx="864.2" cy="931.4" rx="1.9" ry="1.9" fill="#7c7cb8" opacity="0.75" transform="rotate(167 864.2 931.4)"/><ellipse cx="870.9" cy="939.2" rx="1.9" ry="1.9" fill="#9a90b0" opacity="0.75" transform="rotate(47 870.9 939.2)"/><ellipse cx="885.5" cy="947.6" rx="2.2" ry="1.6" fill="#8c86b4" opacity="0.75" transform="rotate(137 885.5 947.6)"/><ellipse cx="878.6" cy="943.9" rx="2.3" ry="2.0" fill="#7c7cb8" opacity="0.75" transform="rotate(134 878.6 943.9)"/><ellipse cx="876.2" cy="895.5" rx="1.8" ry="1.4" fill="#9a90b0" opacity="0.75" transform="rotate(60 876.2 895.5)"/><ellipse cx="921.3" cy="911.6" rx="2.1" ry="2.0" fill="#9a90b0" opacity="0.75" transform="rotate(151 921.3 911.6)"/><ellipse cx="900.7" cy="898.0" rx="2.1" ry="1.3" fill="#7c7cb8" opacity="0.75" transform="rotate(3 900.7 898.0)"/><ellipse cx="860.7" cy="924.2" rx="2.7" ry="1.6" fill="#7c7cb8" opacity="0.75" transform="rotate(140 860.7 924.2)"/><ellipse cx="865.6" cy="907.6" rx="1.9" ry="1.7" fill="#8c86b4" opacity="0.75" transform="rotate(10 865.6 907.6)"/><ellipse cx="910.0" cy="904.4" rx="1.5" ry="2.0" fill="#8c86b4" opacity="0.75" transform="rotate(36 910.0 904.4)"/><ellipse cx="876.1" cy="942.2" rx="1.6" ry="1.3" fill="#8c86b4" opacity="0.75" transform="rotate(155 876.1 942.2)"/><ellipse cx="860.1" cy="922.7" rx="2.0" ry="1.3" fill="#8c86b4" opacity="0.75" transform="rotate(104 860.1 922.7)"/><ellipse cx="919.2" cy="923.1" rx="1.8" ry="1.8" fill="#7c7cb8" opacity="0.75" transform="rotate(90 919.2 923.1)"/><ellipse cx="862.7" cy="916.8" rx="1.6" ry="1.9" fill="#8c86b4" opacity="0.75" transform="rotate(132 862.7 916.8)"/><ellipse cx="899.5" cy="894.5" rx="1.7" ry="1.8" fill="#8c86b4" opacity="0.75" transform="rotate(8 899.5 894.5)"/><ellipse cx="912.4" cy="901.5" rx="1.9" ry="2.1" fill="#8c86b4" opacity="0.75" transform="rotate(161 912.4 901.5)"/><ellipse cx="890.5" cy="948.7" rx="2.0" ry="1.5" fill="#9a90b0" opacity="0.75" transform="rotate(111 890.5 948.7)"/><ellipse cx="875.1" cy="945.0" rx="2.7" ry="1.8" fill="#9a90b0" opacity="0.75" transform="rotate(144 875.1 945.0)"/><ellipse cx="874.1" cy="898.3" rx="2.6" ry="1.8" fill="#9a90b0" opacity="0.75" transform="rotate(174 874.1 898.3)"/><ellipse cx="868.6" cy="902.0" rx="2.3" ry="1.7" fill="#9a90b0" opacity="0.75" transform="rotate(52 868.6 902.0)"/><ellipse cx="876.0" cy="899.0" rx="2.4" ry="1.9" fill="#7c7cb8" opacity="0.75" transform="rotate(6 876.0 899.0)"/><ellipse cx="871.0" cy="897.8" rx="1.8" ry="1.6" fill="#7c7cb8" opacity="0.75" transform="rotate(134 871.0 897.8)"/><ellipse cx="883.4" cy="891.7" rx="2.5" ry="1.8" fill="#7c7cb8" opacity="0.75" transform="rotate(172 883.4 891.7)"/><ellipse cx="896.0" cy="891.8" rx="1.8" ry="1.7" fill="#8c86b4" opacity="0.75" transform="rotate(171 896.0 891.8)"/><ellipse cx="906.9" cy="943.2" rx="2.6" ry="2.2" fill="#8c86b4" opacity="0.75" transform="rotate(168 906.9 943.2)"/><ellipse cx="918.5" cy="924.0" rx="2.1" ry="2.1" fill="#7c7cb8" opacity="0.75" transform="rotate(151 918.5 924.0)"/><ellipse cx="922.0" cy="921.2" rx="2.4" ry="1.9" fill="#8c86b4" opacity="0.75" transform="rotate(59 922.0 921.2)"/><ellipse cx="905.5" cy="942.0" rx="1.9" ry="1.9" fill="#9a90b0" opacity="0.75" transform="rotate(158 905.5 942.0)"/><ellipse cx="908.0" cy="899.4" rx="2.5" ry="1.7" fill="#7c7cb8" opacity="0.75" transform="rotate(39 908.0 899.4)"/><ellipse cx="919.6" cy="910.3" rx="1.8" ry="1.2" fill="#8c86b4" opacity="0.75" transform="rotate(18 919.6 910.3)"/><ellipse cx="893.3" cy="892.4" rx="2.3" ry="2.0" fill="#8c86b4" opacity="0.75" transform="rotate(176 893.3 892.4)"/><ellipse cx="909.4" cy="939.6" rx="2.4" ry="1.6" fill="#7c7cb8" opacity="0.75" transform="rotate(153 909.4 939.6)"/><ellipse cx="863.8" cy="910.4" rx="1.8" ry="1.7" fill="#7c7cb8" opacity="0.75" transform="rotate(111 863.8 910.4)"/><ellipse cx="870.6" cy="939.3" rx="2.4" ry="1.2" fill="#7c7cb8" opacity="0.75" transform="rotate(36 870.6 939.3)"/><ellipse cx="880.6" cy="944.1" rx="1.9" ry="1.9" fill="#9a90b0" opacity="0.75" transform="rotate(84 880.6 944.1)"/><ellipse cx="901.2" cy="897.7" rx="1.6" ry="1.5" fill="#7c7cb8" opacity="0.75" transform="rotate(29 901.2 897.7)"/><ellipse cx="918.2" cy="933.8" rx="1.6" ry="1.9" fill="#7c7cb8" opacity="0.75" transform="rotate(23 918.2 933.8)"/><ellipse cx="863.8" cy="928.1" rx="2.7" ry="1.8" fill="#7c7cb8" opacity="0.75" transform="rotate(6 863.8 928.1)"/><ellipse cx="740.0" cy="935.0" rx="29.0" ry="25.0" fill="none" stroke="#aaa2b8" stroke-width="10.0" opacity="0.75"/><ellipse cx="740.0" cy="935.0" rx="24.5" ry="20.5" fill="#dedbd6"/><ellipse cx="737.3" cy="938.7" rx="6.2" ry="4.1" fill="#e6e4e0" opacity="0.50" transform="rotate(96 737.3 938.7)"/><ellipse cx="739.2" cy="932.8" rx="4.5" ry="2.9" fill="#e6e4e0" opacity="0.50" transform="rotate(53 739.2 932.8)"/><ellipse cx="746.6" cy="940.3" rx="4.8" ry="2.6" fill="#cbc6c0" opacity="0.50" transform="rotate(143 746.6 940.3)"/><ellipse cx="735.8" cy="945.6" rx="3.4" ry="2.4" fill="#d2cec9" opacity="0.50" transform="rotate(102 735.8 945.6)"/><ellipse cx="743.4" cy="931.5" rx="4.0" ry="2.3" fill="#cbc6c0" opacity="0.50" transform="rotate(126 743.4 931.5)"/><ellipse cx="733.4" cy="927.9" rx="3.8" ry="2.0" fill="#e6e4e0" opacity="0.50" transform="rotate(150 733.4 927.9)"/><ellipse cx="746.8" cy="933.6" rx="5.6" ry="3.7" fill="#cbc6c0" opacity="0.50" transform="rotate(133 746.8 933.6)"/><ellipse cx="768.3" cy="921.9" rx="1.9" ry="1.7" fill="#8c86b4" opacity="0.75" transform="rotate(58 768.3 921.9)"/><ellipse cx="754.3" cy="912.1" rx="2.6" ry="2.0" fill="#9a90b0" opacity="0.75" transform="rotate(86 754.3 912.1)"/><ellipse cx="768.0" cy="929.4" rx="2.7" ry="1.8" fill="#7c7cb8" opacity="0.75" transform="rotate(74 768.0 929.4)"/><ellipse cx="768.0" cy="933.6" rx="2.6" ry="2.0" fill="#8c86b4" opacity="0.75" transform="rotate(158 768.0 933.6)"/><ellipse cx="761.4" cy="915.9" rx="1.5" ry="2.2" fill="#9a90b0" opacity="0.75" transform="rotate(35 761.4 915.9)"/><ellipse cx="750.0" cy="907.9" rx="1.6" ry="2.2" fill="#7c7cb8" opacity="0.75" transform="rotate(56 750.0 907.9)"/><ellipse cx="748.8" cy="960.4" rx="2.4" ry="1.9" fill="#8c86b4" opacity="0.75" transform="rotate(114 748.8 960.4)"/><ellipse cx="721.1" cy="953.8" rx="1.6" ry="1.7" fill="#9a90b0" opacity="0.75" transform="rotate(135 721.1 953.8)"/><ellipse cx="742.1" cy="905.4" rx="2.4" ry="1.8" fill="#9a90b0" opacity="0.75" transform="rotate(31 742.1 905.4)"/><ellipse cx="769.2" cy="924.6" rx="2.2" ry="1.6" fill="#8c86b4" opacity="0.75" transform="rotate(69 769.2 924.6)"/><ellipse cx="772.4" cy="934.9" rx="1.5" ry="1.7" fill="#9a90b0" opacity="0.75" transform="rotate(37 772.4 934.9)"/><ellipse cx="767.2" cy="943.4" rx="1.9" ry="2.0" fill="#7c7cb8" opacity="0.75" transform="rotate(43 767.2 943.4)"/><ellipse cx="745.8" cy="908.5" rx="2.2" ry="1.7" fill="#7c7cb8" opacity="0.75" transform="rotate(132 745.8 908.5)"/><ellipse cx="753.6" cy="957.8" rx="1.6" ry="1.4" fill="#9a90b0" opacity="0.75" transform="rotate(148 753.6 957.8)"/><ellipse cx="730.9" cy="958.6" rx="2.2" ry="1.9" fill="#7c7cb8" opacity="0.75" transform="rotate(22 730.9 958.6)"/><ellipse cx="766.3" cy="947.5" rx="2.6" ry="1.6" fill="#9a90b0" opacity="0.75" transform="rotate(50 766.3 947.5)"/><ellipse cx="712.4" cy="943.7" rx="1.7" ry="1.4" fill="#8c86b4" opacity="0.75" transform="rotate(170 712.4 943.7)"/><ellipse cx="766.4" cy="918.3" rx="1.7" ry="1.9" fill="#8c86b4" opacity="0.75" transform="rotate(137 766.4 918.3)"/><ellipse cx="767.3" cy="945.4" rx="2.0" ry="1.5" fill="#7c7cb8" opacity="0.75" transform="rotate(115 767.3 945.4)"/><ellipse cx="764.2" cy="950.5" rx="1.8" ry="2.0" fill="#7c7cb8" opacity="0.75" transform="rotate(2 764.2 950.5)"/><ellipse cx="728.9" cy="909.9" rx="2.3" ry="1.6" fill="#8c86b4" opacity="0.75" transform="rotate(42 728.9 909.9)"/><ellipse cx="731.6" cy="909.9" rx="2.4" ry="1.5" fill="#8c86b4" opacity="0.75" transform="rotate(103 731.6 909.9)"/><ellipse cx="753.5" cy="907.6" rx="2.0" ry="2.2" fill="#7c7cb8" opacity="0.75" transform="rotate(104 753.5 907.6)"/><ellipse cx="740.4" cy="907.2" rx="2.4" ry="1.8" fill="#9a90b0" opacity="0.75" transform="rotate(57 740.4 907.2)"/><ellipse cx="748.5" cy="962.8" rx="2.2" ry="2.0" fill="#8c86b4" opacity="0.75" transform="rotate(177 748.5 962.8)"/><ellipse cx="707.3" cy="940.6" rx="1.9" ry="2.0" fill="#9a90b0" opacity="0.75" transform="rotate(47 707.3 940.6)"/><ellipse cx="723.5" cy="910.2" rx="2.3" ry="1.6" fill="#9a90b0" opacity="0.75" transform="rotate(112 723.5 910.2)"/><ellipse cx="756.8" cy="913.5" rx="2.1" ry="1.4" fill="#7c7cb8" opacity="0.75" transform="rotate(178 756.8 913.5)"/><ellipse cx="717.5" cy="949.8" rx="1.9" ry="2.1" fill="#7c7cb8" opacity="0.75" transform="rotate(104 717.5 949.8)"/><ellipse cx="755.1" cy="960.3" rx="1.7" ry="2.0" fill="#7c7cb8" opacity="0.75" transform="rotate(173 755.1 960.3)"/><ellipse cx="729.3" cy="962.1" rx="2.0" ry="1.8" fill="#8c86b4" opacity="0.75" transform="rotate(169 729.3 962.1)"/><ellipse cx="733.2" cy="963.0" rx="2.4" ry="1.8" fill="#8c86b4" opacity="0.75" transform="rotate(119 733.2 963.0)"/><ellipse cx="771.8" cy="929.9" rx="1.8" ry="1.4" fill="#7c7cb8" opacity="0.75" transform="rotate(144 771.8 929.9)"/><ellipse cx="737.6" cy="961.4" rx="2.4" ry="1.8" fill="#8c86b4" opacity="0.75" transform="rotate(2 737.6 961.4)"/><ellipse cx="763.9" cy="919.6" rx="1.8" ry="1.3" fill="#8c86b4" opacity="0.75" transform="rotate(62 763.9 919.6)"/><ellipse cx="709.5" cy="933.6" rx="1.6" ry="2.1" fill="#8c86b4" opacity="0.75" transform="rotate(55 709.5 933.6)"/><ellipse cx="707.8" cy="930.3" rx="2.4" ry="1.5" fill="#9a90b0" opacity="0.75" transform="rotate(142 707.8 930.3)"/><ellipse cx="711.5" cy="924.7" rx="1.9" ry="1.3" fill="#8c86b4" opacity="0.75" transform="rotate(109 711.5 924.7)"/><ellipse cx="767.3" cy="952.2" rx="2.7" ry="1.2" fill="#9a90b0" opacity="0.75" transform="rotate(94 767.3 952.2)"/><ellipse cx="761.8" cy="955.7" rx="2.1" ry="2.1" fill="#8c86b4" opacity="0.75" transform="rotate(120 761.8 955.7)"/><ellipse cx="751.2" cy="961.2" rx="2.1" ry="2.2" fill="#7c7cb8" opacity="0.75" transform="rotate(8 751.2 961.2)"/><ellipse cx="724.2" cy="955.8" rx="2.0" ry="1.7" fill="#9a90b0" opacity="0.75" transform="rotate(95 724.2 955.8)"/><ellipse cx="755.0" cy="960.7" rx="1.6" ry="1.8" fill="#8c86b4" opacity="0.75" transform="rotate(23 755.0 960.7)"/><ellipse cx="746.6" cy="963.1" rx="2.1" ry="2.1" fill="#8c86b4" opacity="0.75" transform="rotate(141 746.6 963.1)"/><ellipse cx="818.0" cy="958.0" rx="25.0" ry="13.0" fill="none" stroke="#aaa2b8" stroke-width="10.0" opacity="0.75"/><ellipse cx="818.0" cy="958.0" rx="20.5" ry="8.5" fill="#dedbd6"/><ellipse cx="821.7" cy="966.1" rx="3.1" ry="3.5" fill="#e6e4e0" opacity="0.50" transform="rotate(36 821.7 966.1)"/><ellipse cx="801.8" cy="955.1" rx="3.5" ry="4.5" fill="#cbc6c0" opacity="0.50" transform="rotate(40 801.8 955.1)"/><ellipse cx="818.6" cy="954.4" rx="3.6" ry="2.6" fill="#cbc6c0" opacity="0.50" transform="rotate(130 818.6 954.4)"/><ellipse cx="812.9" cy="964.7" rx="4.6" ry="4.3" fill="#d2cec9" opacity="0.50" transform="rotate(53 812.9 964.7)"/><ellipse cx="807.8" cy="951.8" rx="4.9" ry="2.8" fill="#e6e4e0" opacity="0.50" transform="rotate(54 807.8 951.8)"/><ellipse cx="817.6" cy="957.9" rx="5.0" ry="2.2" fill="#e6e4e0" opacity="0.50" transform="rotate(122 817.6 957.9)"/><ellipse cx="802.4" cy="962.8" rx="6.8" ry="4.9" fill="#d2cec9" opacity="0.50" transform="rotate(95 802.4 962.8)"/><ellipse cx="832.1" cy="945.7" rx="1.7" ry="1.7" fill="#8c86b4" opacity="0.75" transform="rotate(79 832.1 945.7)"/><ellipse cx="794.0" cy="948.2" rx="1.9" ry="1.2" fill="#9a90b0" opacity="0.75" transform="rotate(49 794.0 948.2)"/><ellipse cx="842.5" cy="961.9" rx="2.8" ry="1.9" fill="#7c7cb8" opacity="0.75" transform="rotate(44 842.5 961.9)"/><ellipse cx="845.6" cy="960.9" rx="2.4" ry="1.5" fill="#8c86b4" opacity="0.75" transform="rotate(74 845.6 960.9)"/><ellipse cx="841.2" cy="953.1" rx="2.0" ry="1.3" fill="#7c7cb8" opacity="0.75" transform="rotate(90 841.2 953.1)"/><ellipse cx="792.8" cy="949.1" rx="2.6" ry="1.6" fill="#7c7cb8" opacity="0.75" transform="rotate(89 792.8 949.1)"/><ellipse cx="792.7" cy="958.8" rx="2.2" ry="2.0" fill="#7c7cb8" opacity="0.75" transform="rotate(91 792.7 958.8)"/><ellipse cx="841.7" cy="951.4" rx="1.6" ry="1.3" fill="#9a90b0" opacity="0.75" transform="rotate(66 841.7 951.4)"/><ellipse cx="841.8" cy="968.1" rx="2.2" ry="1.4" fill="#9a90b0" opacity="0.75" transform="rotate(39 841.8 968.1)"/><ellipse cx="844.2" cy="959.6" rx="1.9" ry="1.3" fill="#8c86b4" opacity="0.75" transform="rotate(33 844.2 959.6)"/><ellipse cx="840.7" cy="967.0" rx="2.6" ry="1.9" fill="#9a90b0" opacity="0.75" transform="rotate(38 840.7 967.0)"/><ellipse cx="794.0" cy="967.4" rx="2.3" ry="1.3" fill="#9a90b0" opacity="0.75" transform="rotate(107 794.0 967.4)"/><ellipse cx="822.1" cy="942.9" rx="1.9" ry="2.0" fill="#8c86b4" opacity="0.75" transform="rotate(176 822.1 942.9)"/><ellipse cx="836.9" cy="968.5" rx="1.6" ry="1.9" fill="#9a90b0" opacity="0.75" transform="rotate(60 836.9 968.5)"/><ellipse cx="788.5" cy="955.8" rx="2.3" ry="1.3" fill="#9a90b0" opacity="0.75" transform="rotate(117 788.5 955.8)"/><ellipse cx="802.5" cy="944.2" rx="2.1" ry="2.0" fill="#9a90b0" opacity="0.75" transform="rotate(10 802.5 944.2)"/><ellipse cx="804.6" cy="972.7" rx="1.6" ry="1.4" fill="#9a90b0" opacity="0.75" transform="rotate(65 804.6 972.7)"/><ellipse cx="797.1" cy="968.2" rx="2.0" ry="2.2" fill="#7c7cb8" opacity="0.75" transform="rotate(79 797.1 968.2)"/><ellipse cx="806.8" cy="971.6" rx="2.1" ry="1.4" fill="#7c7cb8" opacity="0.75" transform="rotate(66 806.8 971.6)"/><ellipse cx="819.7" cy="972.8" rx="2.6" ry="2.1" fill="#8c86b4" opacity="0.75" transform="rotate(157 819.7 972.8)"/><ellipse cx="804.4" cy="942.3" rx="2.7" ry="1.4" fill="#9a90b0" opacity="0.75" transform="rotate(43 804.4 942.3)"/><ellipse cx="817.1" cy="975.0" rx="2.5" ry="1.7" fill="#8c86b4" opacity="0.75" transform="rotate(21 817.1 975.0)"/><ellipse cx="829.3" cy="974.0" rx="2.5" ry="1.6" fill="#8c86b4" opacity="0.75" transform="rotate(107 829.3 974.0)"/><ellipse cx="846.3" cy="956.4" rx="2.1" ry="1.3" fill="#7c7cb8" opacity="0.75" transform="rotate(76 846.3 956.4)"/><ellipse cx="824.1" cy="974.7" rx="2.1" ry="1.8" fill="#9a90b0" opacity="0.75" transform="rotate(23 824.1 974.7)"/><ellipse cx="809.8" cy="944.1" rx="2.0" ry="1.7" fill="#9a90b0" opacity="0.75" transform="rotate(131 809.8 944.1)"/><ellipse cx="836.6" cy="968.7" rx="1.9" ry="1.8" fill="#8c86b4" opacity="0.75" transform="rotate(16 836.6 968.7)"/><ellipse cx="795.8" cy="946.7" rx="2.4" ry="1.7" fill="#9a90b0" opacity="0.75" transform="rotate(171 795.8 946.7)"/><ellipse cx="805.0" cy="972.8" rx="1.6" ry="1.6" fill="#9a90b0" opacity="0.75" transform="rotate(32 805.0 972.8)"/><ellipse cx="788.8" cy="958.0" rx="2.1" ry="1.5" fill="#7c7cb8" opacity="0.75" transform="rotate(31 788.8 958.0)"/><ellipse cx="808.4" cy="973.7" rx="2.7" ry="1.7" fill="#8c86b4" opacity="0.75" transform="rotate(164 808.4 973.7)"/><ellipse cx="807.1" cy="943.2" rx="2.4" ry="1.5" fill="#9a90b0" opacity="0.75" transform="rotate(79 807.1 943.2)"/><ellipse cx="839.4" cy="949.7" rx="1.8" ry="1.3" fill="#7c7cb8" opacity="0.75" transform="rotate(131 839.4 949.7)"/><ellipse cx="831.4" cy="973.4" rx="1.9" ry="2.1" fill="#8c86b4" opacity="0.75" transform="rotate(28 831.4 973.4)"/><ellipse cx="801.5" cy="969.2" rx="2.6" ry="1.8" fill="#7c7cb8" opacity="0.75" transform="rotate(176 801.5 969.2)"/><ellipse cx="790.1" cy="955.3" rx="2.0" ry="1.5" fill="#7c7cb8" opacity="0.75" transform="rotate(23 790.1 955.3)"/><ellipse cx="843.7" cy="948.7" rx="2.6" ry="1.7" fill="#9a90b0" opacity="0.75" transform="rotate(37 843.7 948.7)"/><ellipse cx="829.7" cy="972.2" rx="2.4" ry="1.7" fill="#7c7cb8" opacity="0.75" transform="rotate(121 829.7 972.2)"/><ellipse cx="817.6" cy="942.6" rx="2.8" ry="1.3" fill="#7c7cb8" opacity="0.75" transform="rotate(148 817.6 942.6)"/><ellipse cx="951.0" cy="928.0" rx="9.0" ry="19.0" fill="none" stroke="#aaa2b8" stroke-width="10.0" opacity="0.75"/><ellipse cx="951.0" cy="928.0" rx="4.5" ry="14.5" fill="#dedbd6"/><ellipse cx="948.4" cy="926.5" rx="4.0" ry="2.9" fill="#e6e4e0" opacity="0.50" transform="rotate(142 948.4 926.5)"/><ellipse cx="948.4" cy="919.0" rx="3.2" ry="4.2" fill="#cbc6c0" opacity="0.50" transform="rotate(118 948.4 919.0)"/><ellipse cx="951.3" cy="928.4" rx="3.7" ry="2.8" fill="#cbc6c0" opacity="0.50" transform="rotate(14 951.3 928.4)"/><ellipse cx="946.0" cy="919.0" rx="3.8" ry="3.5" fill="#cbc6c0" opacity="0.50" transform="rotate(136 946.0 919.0)"/><ellipse cx="950.8" cy="928.6" rx="6.9" ry="2.8" fill="#d2cec9" opacity="0.50" transform="rotate(72 950.8 928.6)"/><ellipse cx="952.2" cy="916.9" rx="5.2" ry="4.1" fill="#cbc6c0" opacity="0.50" transform="rotate(36 952.2 916.9)"/><ellipse cx="953.8" cy="914.8" rx="5.6" ry="4.0" fill="#e6e4e0" opacity="0.50" transform="rotate(49 953.8 914.8)"/><ellipse cx="941.7" cy="914.8" rx="2.5" ry="1.3" fill="#8c86b4" opacity="0.75" transform="rotate(63 941.7 914.8)"/><ellipse cx="955.9" cy="947.9" rx="2.7" ry="1.4" fill="#7c7cb8" opacity="0.75" transform="rotate(156 955.9 947.9)"/><ellipse cx="963.4" cy="922.6" rx="1.9" ry="1.8" fill="#7c7cb8" opacity="0.75" transform="rotate(100 963.4 922.6)"/><ellipse cx="963.2" cy="932.1" rx="2.2" ry="1.3" fill="#9a90b0" opacity="0.75" transform="rotate(75 963.2 932.1)"/><ellipse cx="940.6" cy="918.2" rx="2.0" ry="1.3" fill="#9a90b0" opacity="0.75" transform="rotate(57 940.6 918.2)"/><ellipse cx="959.1" cy="945.4" rx="2.5" ry="1.3" fill="#8c86b4" opacity="0.75" transform="rotate(148 959.1 945.4)"/><ellipse cx="960.3" cy="910.3" rx="2.2" ry="1.4" fill="#8c86b4" opacity="0.75" transform="rotate(117 960.3 910.3)"/><ellipse cx="939.2" cy="922.5" rx="1.7" ry="1.6" fill="#8c86b4" opacity="0.75" transform="rotate(72 939.2 922.5)"/><ellipse cx="959.7" cy="943.3" rx="2.2" ry="1.8" fill="#8c86b4" opacity="0.75" transform="rotate(67 959.7 943.3)"/><ellipse cx="954.1" cy="906.7" rx="2.3" ry="1.7" fill="#9a90b0" opacity="0.75" transform="rotate(166 954.1 906.7)"/><ellipse cx="952.2" cy="906.1" rx="2.5" ry="1.8" fill="#7c7cb8" opacity="0.75" transform="rotate(102 952.2 906.1)"/><ellipse cx="941.8" cy="915.1" rx="1.9" ry="2.1" fill="#7c7cb8" opacity="0.75" transform="rotate(97 941.8 915.1)"/><ellipse cx="961.7" cy="941.5" rx="2.5" ry="2.0" fill="#8c86b4" opacity="0.75" transform="rotate(57 961.7 941.5)"/><ellipse cx="959.2" cy="946.2" rx="2.4" ry="1.6" fill="#8c86b4" opacity="0.75" transform="rotate(117 959.2 946.2)"/><ellipse cx="962.2" cy="918.0" rx="2.3" ry="1.2" fill="#8c86b4" opacity="0.75" transform="rotate(58 962.2 918.0)"/><ellipse cx="937.7" cy="926.1" rx="2.6" ry="1.6" fill="#9a90b0" opacity="0.75" transform="rotate(96 937.7 926.1)"/><ellipse cx="946.0" cy="908.6" rx="2.2" ry="1.8" fill="#8c86b4" opacity="0.75" transform="rotate(49 946.0 908.6)"/><ellipse cx="961.1" cy="912.7" rx="1.9" ry="1.3" fill="#7c7cb8" opacity="0.75" transform="rotate(118 961.1 912.7)"/><ellipse cx="716.0" cy="777.0" rx="11.0" ry="21.0" fill="none" stroke="#aaa2b8" stroke-width="10.0" opacity="0.75"/><ellipse cx="716.0" cy="777.0" rx="6.5" ry="16.5" fill="#dedbd6"/><ellipse cx="715.6" cy="777.3" rx="6.7" ry="2.8" fill="#cbc6c0" opacity="0.50" transform="rotate(33 715.6 777.3)"/><ellipse cx="720.4" cy="772.7" rx="3.5" ry="2.7" fill="#cbc6c0" opacity="0.50" transform="rotate(25 720.4 772.7)"/><ellipse cx="713.1" cy="768.2" rx="6.2" ry="4.1" fill="#d2cec9" opacity="0.50" transform="rotate(9 713.1 768.2)"/><ellipse cx="718.3" cy="777.2" rx="6.1" ry="2.5" fill="#cbc6c0" opacity="0.50" transform="rotate(158 718.3 777.2)"/><ellipse cx="720.8" cy="787.7" rx="6.4" ry="4.3" fill="#cbc6c0" opacity="0.50" transform="rotate(72 720.8 787.7)"/><ellipse cx="713.4" cy="777.6" rx="6.8" ry="4.3" fill="#cbc6c0" opacity="0.50" transform="rotate(57 713.4 777.6)"/><ellipse cx="709.0" cy="772.6" rx="6.7" ry="2.1" fill="#e6e4e0" opacity="0.50" transform="rotate(159 709.0 772.6)"/><ellipse cx="710.2" cy="755.5" rx="2.2" ry="2.0" fill="#9a90b0" opacity="0.75" transform="rotate(60 710.2 755.5)"/><ellipse cx="707.2" cy="757.0" rx="2.8" ry="1.9" fill="#9a90b0" opacity="0.75" transform="rotate(153 707.2 757.0)"/><ellipse cx="724.4" cy="795.4" rx="2.4" ry="2.0" fill="#8c86b4" opacity="0.75" transform="rotate(102 724.4 795.4)"/><ellipse cx="730.3" cy="781.1" rx="2.7" ry="1.7" fill="#7c7cb8" opacity="0.75" transform="rotate(103 730.3 781.1)"/><ellipse cx="709.9" cy="797.3" rx="2.1" ry="1.3" fill="#9a90b0" opacity="0.75" transform="rotate(151 709.9 797.3)"/><ellipse cx="702.6" cy="768.6" rx="1.9" ry="1.8" fill="#8c86b4" opacity="0.75" transform="rotate(88 702.6 768.6)"/><ellipse cx="725.2" cy="755.9" rx="1.8" ry="1.6" fill="#8c86b4" opacity="0.75" transform="rotate(22 725.2 755.9)"/><ellipse cx="708.4" cy="795.1" rx="2.0" ry="2.2" fill="#7c7cb8" opacity="0.75" transform="rotate(173 708.4 795.1)"/><ellipse cx="718.4" cy="799.0" rx="1.5" ry="1.5" fill="#7c7cb8" opacity="0.75" transform="rotate(3 718.4 799.0)"/><ellipse cx="702.3" cy="789.6" rx="2.5" ry="1.6" fill="#9a90b0" opacity="0.75" transform="rotate(54 702.3 789.6)"/><ellipse cx="714.6" cy="752.6" rx="2.4" ry="1.7" fill="#8c86b4" opacity="0.75" transform="rotate(154 714.6 752.6)"/><ellipse cx="705.1" cy="789.7" rx="2.7" ry="1.5" fill="#9a90b0" opacity="0.75" transform="rotate(155 705.1 789.7)"/><ellipse cx="727.3" cy="759.6" rx="2.6" ry="1.7" fill="#7c7cb8" opacity="0.75" transform="rotate(42 727.3 759.6)"/><ellipse cx="705.9" cy="794.7" rx="2.3" ry="1.5" fill="#9a90b0" opacity="0.75" transform="rotate(64 705.9 794.7)"/><ellipse cx="707.3" cy="796.6" rx="1.6" ry="2.0" fill="#8c86b4" opacity="0.75" transform="rotate(59 707.3 796.6)"/><ellipse cx="712.9" cy="752.4" rx="1.7" ry="2.0" fill="#7c7cb8" opacity="0.75" transform="rotate(106 712.9 752.4)"/><ellipse cx="722.1" cy="757.8" rx="2.2" ry="1.9" fill="#7c7cb8" opacity="0.75" transform="rotate(169 722.1 757.8)"/><ellipse cx="727.3" cy="791.0" rx="2.8" ry="1.7" fill="#8c86b4" opacity="0.75" transform="rotate(46 727.3 791.0)"/><ellipse cx="731.6" cy="781.1" rx="1.8" ry="1.8" fill="#8c86b4" opacity="0.75" transform="rotate(13 731.6 781.1)"/><ellipse cx="701.8" cy="768.5" rx="2.0" ry="1.8" fill="#7c7cb8" opacity="0.75" transform="rotate(62 701.8 768.5)"/><ellipse cx="716.7" cy="811.8" rx="1.5" ry="1.1" fill="#6e72b8" opacity="0.70" transform="rotate(43 716.7 811.8)"/><ellipse cx="883.4" cy="887.0" rx="1.6" ry="2.0" fill="#6e72b8" opacity="0.70" transform="rotate(96 883.4 887.0)"/><ellipse cx="772.8" cy="770.3" rx="2.9" ry="1.8" fill="#8888bb" opacity="0.70" transform="rotate(81 772.8 770.3)"/><ellipse cx="768.3" cy="787.3" rx="2.6" ry="1.9" fill="#a09ab4" opacity="0.70" transform="rotate(61 768.3 787.3)"/><ellipse cx="910.5" cy="849.5" rx="2.7" ry="1.4" fill="#a09ab4" opacity="0.70" transform="rotate(101 910.5 849.5)"/><ellipse cx="917.6" cy="791.6" rx="2.8" ry="1.1" fill="#a09ab4" opacity="0.70" transform="rotate(154 917.6 791.6)"/><ellipse cx="724.7" cy="917.6" rx="2.7" ry="1.4" fill="#8888bb" opacity="0.70" transform="rotate(74 724.7 917.6)"/><ellipse cx="854.9" cy="840.0" rx="1.5" ry="1.2" fill="#a09ab4" opacity="0.70" transform="rotate(24 854.9 840.0)"/><ellipse cx="773.0" cy="919.6" rx="2.8" ry="2.0" fill="#7c7cb8" opacity="0.70" transform="rotate(129 773.0 919.6)"/><ellipse cx="950.7" cy="755.4" rx="2.8" ry="1.4" fill="#6e72b8" opacity="0.70" transform="rotate(78 950.7 755.4)"/><ellipse cx="768.5" cy="873.4" rx="3.0" ry="1.3" fill="#6e72b8" opacity="0.70" transform="rotate(115 768.5 873.4)"/><ellipse cx="766.7" cy="798.1" rx="1.6" ry="1.7" fill="#6e72b8" opacity="0.70" transform="rotate(58 766.7 798.1)"/><ellipse cx="787.7" cy="849.7" rx="1.7" ry="1.5" fill="#7c7cb8" opacity="0.70" transform="rotate(58 787.7 849.7)"/><ellipse cx="904.9" cy="788.5" rx="1.7" ry="1.7" fill="#8888bb" opacity="0.70" transform="rotate(101 904.9 788.5)"/><ellipse cx="831.1" cy="765.1" rx="1.9" ry="1.9" fill="#7c7cb8" opacity="0.70" transform="rotate(15 831.1 765.1)"/><ellipse cx="875.5" cy="836.4" rx="3.0" ry="1.5" fill="#7c7cb8" opacity="0.70" transform="rotate(110 875.5 836.4)"/><ellipse cx="813.9" cy="788.9" rx="2.2" ry="1.6" fill="#a09ab4" opacity="0.70" transform="rotate(179 813.9 788.9)"/><ellipse cx="846.4" cy="818.8" rx="1.8" ry="1.7" fill="#7c7cb8" opacity="0.70" transform="rotate(45 846.4 818.8)"/><ellipse cx="879.0" cy="959.9" rx="2.1" ry="2.0" fill="#8888bb" opacity="0.70" transform="rotate(97 879.0 959.9)"/><ellipse cx="902.8" cy="779.8" rx="1.8" ry="1.9" fill="#5c64b0" opacity="0.70" transform="rotate(12 902.8 779.8)"/><ellipse cx="785.3" cy="850.0" rx="2.6" ry="1.7" fill="#8888bb" opacity="0.70" transform="rotate(0 785.3 850.0)"/><ellipse cx="728.1" cy="757.4" rx="2.1" ry="1.1" fill="#a09ab4" opacity="0.70" transform="rotate(169 728.1 757.4)"/><ellipse cx="741.5" cy="908.7" rx="2.0" ry="1.4" fill="#7c7cb8" opacity="0.70" transform="rotate(64 741.5 908.7)"/><ellipse cx="861.8" cy="863.7" rx="1.9" ry="1.9" fill="#6e72b8" opacity="0.70" transform="rotate(169 861.8 863.7)"/><ellipse cx="943.7" cy="906.3" rx="2.8" ry="1.2" fill="#5c64b0" opacity="0.70" transform="rotate(2 943.7 906.3)"/><ellipse cx="883.1" cy="949.8" rx="1.5" ry="2.1" fill="#a09ab4" opacity="0.70" transform="rotate(150 883.1 949.8)"/><ellipse cx="892.6" cy="824.7" rx="2.8" ry="1.1" fill="#a09ab4" opacity="0.70" transform="rotate(126 892.6 824.7)"/><ellipse cx="745.2" cy="757.1" rx="2.7" ry="1.8" fill="#8888bb" opacity="0.70" transform="rotate(56 745.2 757.1)"/><ellipse cx="775.8" cy="943.4" rx="2.3" ry="1.1" fill="#5c64b0" opacity="0.70" transform="rotate(160 775.8 943.4)"/><ellipse cx="715.1" cy="911.9" rx="1.6" ry="1.5" fill="#6e72b8" opacity="0.70" transform="rotate(94 715.1 911.9)"/><ellipse cx="919.6" cy="915.7" rx="2.2" ry="1.9" fill="#6e72b8" opacity="0.70" transform="rotate(143 919.6 915.7)"/><ellipse cx="740.2" cy="752.5" rx="1.6" ry="1.9" fill="#a09ab4" opacity="0.70" transform="rotate(172 740.2 752.5)"/><ellipse cx="807.2" cy="796.3" rx="2.5" ry="1.7" fill="#a09ab4" opacity="0.70" transform="rotate(75 807.2 796.3)"/><ellipse cx="898.7" cy="918.3" rx="2.4" ry="2.1" fill="#6e72b8" opacity="0.70" transform="rotate(15 898.7 918.3)"/><ellipse cx="893.7" cy="797.3" rx="2.0" ry="1.4" fill="#6e72b8" opacity="0.70" transform="rotate(62 893.7 797.3)"/><ellipse cx="872.9" cy="855.0" rx="2.7" ry="1.3" fill="#5c64b0" opacity="0.70" transform="rotate(94 872.9 855.0)"/><ellipse cx="897.7" cy="820.5" rx="2.1" ry="1.8" fill="#7c7cb8" opacity="0.70" transform="rotate(56 897.7 820.5)"/><ellipse cx="917.5" cy="904.8" rx="2.4" ry="1.5" fill="#a09ab4" opacity="0.70" transform="rotate(69 917.5 904.8)"/><ellipse cx="733.0" cy="771.9" rx="2.3" ry="1.6" fill="#6e72b8" opacity="0.70" transform="rotate(132 733.0 771.9)"/><ellipse cx="860.8" cy="793.0" rx="2.6" ry="1.9" fill="#a09ab4" opacity="0.70" transform="rotate(95 860.8 793.0)"/><ellipse cx="862.1" cy="838.2" rx="1.9" ry="1.4" fill="#5c64b0" opacity="0.70" transform="rotate(114 862.1 838.2)"/><ellipse cx="938.1" cy="785.9" rx="1.9" ry="1.6" fill="#6e72b8" opacity="0.70" transform="rotate(154 938.1 785.9)"/><ellipse cx="763.8" cy="797.6" rx="2.0" ry="2.0" fill="#a09ab4" opacity="0.70" transform="rotate(105 763.8 797.6)"/><ellipse cx="902.2" cy="826.8" rx="1.5" ry="2.1" fill="#7c7cb8" opacity="0.70" transform="rotate(13 902.2 826.8)"/><ellipse cx="952.7" cy="904.2" rx="2.5" ry="1.9" fill="#7c7cb8" opacity="0.70" transform="rotate(89 952.7 904.2)"/><ellipse cx="712.2" cy="804.2" rx="2.1" ry="1.3" fill="#6e72b8" opacity="0.70" transform="rotate(147 712.2 804.2)"/><ellipse cx="877.9" cy="929.9" rx="1.7" ry="1.4" fill="#5c64b0" opacity="0.70" transform="rotate(58 877.9 929.9)"/><ellipse cx="715.4" cy="925.9" rx="2.6" ry="1.6" fill="#6e72b8" opacity="0.70" transform="rotate(117 715.4 925.9)"/><ellipse cx="730.3" cy="849.0" rx="2.5" ry="1.9" fill="#8888bb" opacity="0.70" transform="rotate(160 730.3 849.0)"/><ellipse cx="740.5" cy="855.1" rx="2.3" ry="1.2" fill="#5c64b0" opacity="0.70" transform="rotate(33 740.5 855.1)"/><ellipse cx="842.6" cy="789.6" rx="2.4" ry="1.9" fill="#a09ab4" opacity="0.70" transform="rotate(12 842.6 789.6)"/><ellipse cx="714.6" cy="925.9" rx="2.8" ry="2.0" fill="#6e72b8" opacity="0.70" transform="rotate(160 714.6 925.9)"/><ellipse cx="738.9" cy="843.2" rx="1.7" ry="1.7" fill="#8888bb" opacity="0.70" transform="rotate(50 738.9 843.2)"/><ellipse cx="758.8" cy="834.9" rx="1.7" ry="1.5" fill="#5c64b0" opacity="0.70" transform="rotate(69 758.8 834.9)"/><ellipse cx="735.1" cy="917.3" rx="1.8" ry="1.2" fill="#5c64b0" opacity="0.70" transform="rotate(27 735.1 917.3)"/><ellipse cx="872.1" cy="779.6" rx="2.7" ry="1.8" fill="#7c7cb8" opacity="0.70" transform="rotate(89 872.1 779.6)"/><ellipse cx="943.0" cy="793.2" rx="1.8" ry="1.5" fill="#8888bb" opacity="0.70" transform="rotate(63 943.0 793.2)"/><ellipse cx="926.8" cy="887.8" rx="1.6" ry="1.3" fill="#a09ab4" opacity="0.70" transform="rotate(167 926.8 887.8)"/><ellipse cx="715.0" cy="891.5" rx="2.4" ry="2.1" fill="#6e72b8" opacity="0.70" transform="rotate(19 715.0 891.5)"/><ellipse cx="800.9" cy="946.5" rx="2.1" ry="2.1" fill="#5c64b0" opacity="0.70" transform="rotate(170 800.9 946.5)"/><ellipse cx="807.1" cy="838.7" rx="2.3" ry="1.9" fill="#7c7cb8" opacity="0.70" transform="rotate(139 807.1 838.7)"/><ellipse cx="842.0" cy="900.5" rx="2.5" ry="2.1" fill="#5c64b0" opacity="0.70" transform="rotate(137 842.0 900.5)"/><ellipse cx="763.5" cy="869.3" rx="2.2" ry="1.3" fill="#8888bb" opacity="0.70" transform="rotate(40 763.5 869.3)"/><ellipse cx="883.7" cy="852.7" rx="2.1" ry="1.8" fill="#5c64b0" opacity="0.70" transform="rotate(178 883.7 852.7)"/><ellipse cx="954.2" cy="918.0" rx="1.9" ry="1.8" fill="#8888bb" opacity="0.70" transform="rotate(125 954.2 918.0)"/><ellipse cx="721.2" cy="854.4" rx="2.3" ry="1.8" fill="#7c7cb8" opacity="0.70" transform="rotate(96 721.2 854.4)"/><ellipse cx="785.9" cy="771.8" rx="2.2" ry="1.2" fill="#7c7cb8" opacity="0.70" transform="rotate(79 785.9 771.8)"/><ellipse cx="947.3" cy="850.3" rx="1.9" ry="1.4" fill="#a09ab4" opacity="0.70" transform="rotate(24 947.3 850.3)"/><ellipse cx="715.2" cy="867.4" rx="3.0" ry="1.4" fill="#5c64b0" opacity="0.70" transform="rotate(140 715.2 867.4)"/><ellipse cx="788.9" cy="836.4" rx="2.4" ry="1.9" fill="#7c7cb8" opacity="0.70" transform="rotate(24 788.9 836.4)"/><ellipse cx="761.0" cy="827.3" rx="2.1" ry="1.5" fill="#a09ab4" opacity="0.70" transform="rotate(79 761.0 827.3)"/><ellipse cx="851.0" cy="952.4" rx="2.5" ry="1.7" fill="#7c7cb8" opacity="0.70" transform="rotate(60 851.0 952.4)"/><ellipse cx="719.5" cy="951.2" rx="2.3" ry="1.7" fill="#6e72b8" opacity="0.70" transform="rotate(162 719.5 951.2)"/><ellipse cx="785.9" cy="837.3" rx="2.2" ry="1.5" fill="#a09ab4" opacity="0.70" transform="rotate(66 785.9 837.3)"/><ellipse cx="777.9" cy="937.8" rx="1.8" ry="1.4" fill="#8888bb" opacity="0.70" transform="rotate(134 777.9 937.8)"/><ellipse cx="844.2" cy="949.0" rx="2.2" ry="2.0" fill="#8888bb" opacity="0.70" transform="rotate(91 844.2 949.0)"/><ellipse cx="878.9" cy="803.5" rx="1.6" ry="1.9" fill="#6e72b8" opacity="0.70" transform="rotate(64 878.9 803.5)"/><ellipse cx="909.2" cy="848.9" rx="2.8" ry="1.6" fill="#5c64b0" opacity="0.70" transform="rotate(153 909.2 848.9)"/><ellipse cx="933.1" cy="776.3" rx="2.7" ry="1.8" fill="#7c7cb8" opacity="0.70" transform="rotate(103 933.1 776.3)"/><ellipse cx="921.1" cy="781.4" rx="2.2" ry="1.6" fill="#6e72b8" opacity="0.70" transform="rotate(72 921.1 781.4)"/><ellipse cx="886.9" cy="902.6" rx="1.9" ry="1.9" fill="#5c64b0" opacity="0.70" transform="rotate(155 886.9 902.6)"/><ellipse cx="943.2" cy="874.8" rx="1.6" ry="2.0" fill="#7c7cb8" opacity="0.70" transform="rotate(164 943.2 874.8)"/><ellipse cx="867.8" cy="879.3" rx="2.9" ry="2.1" fill="#7c7cb8" opacity="0.70" transform="rotate(85 867.8 879.3)"/><ellipse cx="745.1" cy="900.8" rx="2.3" ry="1.4" fill="#6e72b8" opacity="0.70" transform="rotate(166 745.1 900.8)"/><ellipse cx="950.8" cy="764.2" rx="2.1" ry="1.5" fill="#5c64b0" opacity="0.70" transform="rotate(140 950.8 764.2)"/><ellipse cx="923.7" cy="773.6" rx="1.9" ry="2.1" fill="#7c7cb8" opacity="0.70" transform="rotate(160 923.7 773.6)"/><ellipse cx="820.6" cy="771.7" rx="2.2" ry="1.6" fill="#7c7cb8" opacity="0.70" transform="rotate(33 820.6 771.7)"/><ellipse cx="778.8" cy="956.9" rx="1.5" ry="1.7" fill="#6e72b8" opacity="0.70" transform="rotate(12 778.8 956.9)"/><ellipse cx="730.9" cy="959.1" rx="1.7" ry="1.8" fill="#6e72b8" opacity="0.70" transform="rotate(41 730.9 959.1)"/><ellipse cx="722.3" cy="767.8" rx="1.6" ry="1.5" fill="#a09ab4" opacity="0.70" transform="rotate(64 722.3 767.8)"/><ellipse cx="885.4" cy="756.9" rx="2.3" ry="1.6" fill="#6e72b8" opacity="0.70" transform="rotate(85 885.4 756.9)"/><ellipse cx="892.7" cy="925.6" rx="1.6" ry="1.4" fill="#6e72b8" opacity="0.70" transform="rotate(22 892.7 925.6)"/><ellipse cx="736.6" cy="760.7" rx="1.9" ry="1.7" fill="#6e72b8" opacity="0.70" transform="rotate(174 736.6 760.7)"/><ellipse cx="921.5" cy="775.9" rx="2.7" ry="1.9" fill="#8888bb" opacity="0.70" transform="rotate(172 921.5 775.9)"/><ellipse cx="770.0" cy="852.6" rx="1.8" ry="1.8" fill="#6e72b8" opacity="0.70" transform="rotate(110 770.0 852.6)"/><ellipse cx="862.9" cy="930.2" rx="1.5" ry="1.1" fill="#7c7cb8" opacity="0.70" transform="rotate(47 862.9 930.2)"/><ellipse cx="775.1" cy="932.1" rx="1.7" ry="1.9" fill="#7c7cb8" opacity="0.70" transform="rotate(101 775.1 932.1)"/><ellipse cx="859.1" cy="750.9" rx="2.4" ry="1.7" fill="#a09ab4" opacity="0.70" transform="rotate(93 859.1 750.9)"/><ellipse cx="738.5" cy="796.5" rx="2.5" ry="1.2" fill="#6e72b8" opacity="0.70" transform="rotate(52 738.5 796.5)"/><ellipse cx="889.2" cy="829.4" rx="2.1" ry="1.6" fill="#6e72b8" opacity="0.70" transform="rotate(105 889.2 829.4)"/><ellipse cx="768.9" cy="868.7" rx="2.8" ry="1.5" fill="#8888bb" opacity="0.70" transform="rotate(83 768.9 868.7)"/><ellipse cx="803.6" cy="876.5" rx="2.1" ry="1.2" fill="#5c64b0" opacity="0.70" transform="rotate(105 803.6 876.5)"/><ellipse cx="713.8" cy="781.3" rx="2.8" ry="1.4" fill="#a09ab4" opacity="0.70" transform="rotate(108 713.8 781.3)"/><ellipse cx="910.8" cy="848.0" rx="2.4" ry="1.4" fill="#5c64b0" opacity="0.70" transform="rotate(24 910.8 848.0)"/><ellipse cx="717.8" cy="932.1" rx="2.1" ry="1.9" fill="#7c7cb8" opacity="0.70" transform="rotate(64 717.8 932.1)"/><ellipse cx="772.5" cy="925.8" rx="2.9" ry="2.0" fill="#7c7cb8" opacity="0.70" transform="rotate(56 772.5 925.8)"/><ellipse cx="853.7" cy="880.7" rx="1.5" ry="2.0" fill="#5c64b0" opacity="0.70" transform="rotate(61 853.7 880.7)"/><ellipse cx="818.3" cy="893.4" rx="1.7" ry="1.5" fill="#6e72b8" opacity="0.70" transform="rotate(123 818.3 893.4)"/><ellipse cx="853.4" cy="771.4" rx="1.8" ry="1.4" fill="#6e72b8" opacity="0.70" transform="rotate(54 853.4 771.4)"/><ellipse cx="868.3" cy="852.6" rx="2.2" ry="1.8" fill="#8888bb" opacity="0.70" transform="rotate(84 868.3 852.6)"/><filter id="nz3" x="710.7" y="749.7" width="243.79999999999995" height="210.39999999999998" filterUnits="userSpaceOnUse"><feTurbulence type="fractalNoise" baseFrequency="0.1" numOctaves="2" seed="31"/><feColorMatrix type="matrix" values="0 0 0 0 0.471 0 0 0 0 0.431 0 0 0 0 0.549 1.4 0 0 0 -0.72"/></filter><rect x="710.7" y="749.7" width="243.79999999999995" height="210.39999999999998" filter="url(#nz3)"/></g></g>
<clipPath id="ihc4"><rect x="962.3" y="749.7" width="244.7" height="211.2"/></clipPath><filter id="ihc4f" x="952.3" y="739.7" width="264.7" height="231.2" filterUnits="userSpaceOnUse"><feTurbulence type="fractalNoise" baseFrequency="0.06" numOctaves="2" seed="3" result="t"/><feDisplacementMap in="SourceGraphic" in2="t" scale="5" xChannelSelector="R" yChannelSelector="G" result="d"/><feGaussianBlur in="d" stdDeviation="0.85"/></filter><g clip-path="url(#ihc4)"><g filter="url(#ihc4f)"><rect x="956.30" y="743.70" width="256.70" height="223.20" fill="#a595bb"/><ellipse cx="1000.0" cy="775.0" rx="10.0" ry="36.0" fill="#d8d2b4" opacity="0.75" transform="rotate(10 1000.0 775.0)"/><ellipse cx="985.0" cy="860.0" rx="12.0" ry="26.0" fill="#d8d2b4" opacity="0.75"/><ellipse cx="1090.0" cy="875.0" rx="34.0" ry="10.0" fill="#d8d2b4" opacity="0.75" transform="rotate(40 1090.0 875.0)"/><ellipse cx="1118.0" cy="905.0" rx="16.0" ry="8.0" fill="#d8d2b4" opacity="0.75" transform="rotate(30 1118.0 905.0)"/><ellipse cx="1192.0" cy="835.0" rx="9.0" ry="38.0" fill="#d8d2b4" opacity="0.75"/><ellipse cx="1120.0" cy="920.0" rx="20.0" ry="10.0" fill="#d8d2b4" opacity="0.75"/><ellipse cx="1078.0" cy="812.0" rx="28.0" ry="8.0" fill="#d8d2b4" opacity="0.75" transform="rotate(25 1078.0 812.0)"/><ellipse cx="1196.0" cy="790.0" rx="8.0" ry="18.0" fill="#d8d2b4" opacity="0.75"/><ellipse cx="1150.0" cy="775.0" rx="22.0" ry="8.0" fill="#d8d2b4" opacity="0.75" transform="rotate(-10 1150.0 775.0)"/><ellipse cx="1060.0" cy="940.0" rx="18.0" ry="9.0" fill="#d8d2b4" opacity="0.75"/><ellipse cx="1170.0" cy="930.0" rx="18.0" ry="9.0" fill="#d8d2b4" opacity="0.75" transform="rotate(10 1170.0 930.0)"/><ellipse cx="1140.0" cy="800.0" rx="14.0" ry="6.0" fill="#d8d2b4" opacity="0.75"/><ellipse cx="975.0" cy="935.0" rx="18.0" ry="22.0" fill="#c8885c" opacity="0.35"/><ellipse cx="1195.0" cy="915.0" rx="12.0" ry="16.0" fill="#c8885c" opacity="0.35"/><ellipse cx="1045.0" cy="820.0" rx="12.0" ry="10.0" fill="#c8885c" opacity="0.35"/><ellipse cx="1160.0" cy="860.0" rx="14.0" ry="10.0" fill="#c8885c" opacity="0.35"/><ellipse cx="1061.2" cy="792.0" rx="3.6" ry="3.4" fill="none" stroke="#8c7cba" stroke-width="2.0" opacity="0.80"/><ellipse cx="1061.2" cy="792.0" rx="1.8" ry="1.6" fill="#b8b0d4" opacity="0.60"/><ellipse cx="1018.6" cy="777.8" rx="3.6" ry="3.4" fill="none" stroke="#8478bc" stroke-width="2.0" opacity="0.80"/><ellipse cx="1018.6" cy="777.8" rx="1.8" ry="1.6" fill="#b8b0d4" opacity="0.60"/><ellipse cx="1023.8" cy="830.6" rx="3.6" ry="3.4" fill="none" stroke="#a07ca8" stroke-width="2.0" opacity="0.80"/><ellipse cx="1023.8" cy="830.6" rx="1.8" ry="1.6" fill="#b8b0d4" opacity="0.60"/><ellipse cx="1133.7" cy="768.7" rx="3.6" ry="3.4" fill="none" stroke="#8070b8" stroke-width="2.0" opacity="0.80"/><ellipse cx="1133.7" cy="768.7" rx="1.8" ry="1.6" fill="#b8b0d4" opacity="0.60"/><ellipse cx="1082.0" cy="838.8" rx="3.6" ry="3.4" fill="none" stroke="#8070b8" stroke-width="2.0" opacity="0.80"/><ellipse cx="1082.0" cy="838.8" rx="1.8" ry="1.6" fill="#b8b0d4" opacity="0.60"/><ellipse cx="1106.3" cy="917.1" rx="3.6" ry="3.4" fill="none" stroke="#7470c0" stroke-width="2.0" opacity="0.80"/><ellipse cx="1106.3" cy="917.1" rx="1.8" ry="1.6" fill="#b8b0d4" opacity="0.60"/><ellipse cx="1163.5" cy="931.6" rx="3.6" ry="3.4" fill="none" stroke="#8c7cba" stroke-width="2.0" opacity="0.80"/><ellipse cx="1163.5" cy="931.6" rx="1.8" ry="1.6" fill="#b8b0d4" opacity="0.60"/><ellipse cx="999.6" cy="889.2" rx="3.6" ry="3.4" fill="none" stroke="#8070b8" stroke-width="2.0" opacity="0.80"/><ellipse cx="999.6" cy="889.2" rx="1.8" ry="1.6" fill="#b8b0d4" opacity="0.60"/><ellipse cx="1045.2" cy="949.7" rx="3.6" ry="3.4" fill="none" stroke="#8070b8" stroke-width="2.0" opacity="0.80"/><ellipse cx="1045.2" cy="949.7" rx="1.8" ry="1.6" fill="#b8b0d4" opacity="0.60"/><ellipse cx="1128.1" cy="768.2" rx="3.6" ry="3.4" fill="none" stroke="#7470c0" stroke-width="2.0" opacity="0.80"/><ellipse cx="1128.1" cy="768.2" rx="1.8" ry="1.6" fill="#b8b0d4" opacity="0.60"/><ellipse cx="1060.8" cy="806.6" rx="3.6" ry="3.4" fill="none" stroke="#8478bc" stroke-width="2.0" opacity="0.80"/><ellipse cx="1060.8" cy="806.6" rx="1.8" ry="1.6" fill="#b8b0d4" opacity="0.60"/><ellipse cx="1066.3" cy="826.3" rx="3.6" ry="3.4" fill="none" stroke="#8070b8" stroke-width="2.0" opacity="0.80"/><ellipse cx="1066.3" cy="826.3" rx="1.8" ry="1.6" fill="#b8b0d4" opacity="0.60"/><ellipse cx="982.1" cy="859.2" rx="3.6" ry="3.4" fill="none" stroke="#8c7cba" stroke-width="2.0" opacity="0.80"/><ellipse cx="982.1" cy="859.2" rx="1.8" ry="1.6" fill="#b8b0d4" opacity="0.60"/><ellipse cx="1110.5" cy="956.0" rx="3.6" ry="3.4" fill="none" stroke="#7470c0" stroke-width="2.0" opacity="0.80"/><ellipse cx="1110.5" cy="956.0" rx="1.8" ry="1.6" fill="#b8b0d4" opacity="0.60"/><ellipse cx="993.9" cy="950.9" rx="3.6" ry="3.4" fill="none" stroke="#a07ca8" stroke-width="2.0" opacity="0.80"/><ellipse cx="993.9" cy="950.9" rx="1.8" ry="1.6" fill="#b8b0d4" opacity="0.60"/><ellipse cx="1001.7" cy="916.9" rx="3.6" ry="3.4" fill="none" stroke="#8070b8" stroke-width="2.0" opacity="0.80"/><ellipse cx="1001.7" cy="916.9" rx="1.8" ry="1.6" fill="#b8b0d4" opacity="0.60"/><ellipse cx="1188.6" cy="787.2" rx="3.6" ry="3.4" fill="none" stroke="#8070b8" stroke-width="2.0" opacity="0.80"/><ellipse cx="1188.6" cy="787.2" rx="1.8" ry="1.6" fill="#b8b0d4" opacity="0.60"/><ellipse cx="1123.9" cy="757.5" rx="3.6" ry="3.4" fill="none" stroke="#8478bc" stroke-width="2.0" opacity="0.80"/><ellipse cx="1123.9" cy="757.5" rx="1.8" ry="1.6" fill="#b8b0d4" opacity="0.60"/><ellipse cx="1004.2" cy="894.1" rx="3.6" ry="3.4" fill="none" stroke="#9478ac" stroke-width="2.0" opacity="0.80"/><ellipse cx="1004.2" cy="894.1" rx="1.8" ry="1.6" fill="#b8b0d4" opacity="0.60"/><ellipse cx="982.2" cy="839.5" rx="3.6" ry="3.4" fill="none" stroke="#8478bc" stroke-width="2.0" opacity="0.80"/><ellipse cx="982.2" cy="839.5" rx="1.8" ry="1.6" fill="#b8b0d4" opacity="0.60"/><ellipse cx="997.3" cy="880.1" rx="3.6" ry="3.4" fill="none" stroke="#9478ac" stroke-width="2.0" opacity="0.80"/><ellipse cx="997.3" cy="880.1" rx="1.8" ry="1.6" fill="#b8b0d4" opacity="0.60"/><ellipse cx="1043.0" cy="860.2" rx="3.6" ry="3.4" fill="none" stroke="#8c7cba" stroke-width="2.0" opacity="0.80"/><ellipse cx="1043.0" cy="860.2" rx="1.8" ry="1.6" fill="#b8b0d4" opacity="0.60"/><ellipse cx="1182.5" cy="955.4" rx="3.6" ry="3.4" fill="none" stroke="#a07ca8" stroke-width="2.0" opacity="0.80"/><ellipse cx="1182.5" cy="955.4" rx="1.8" ry="1.6" fill="#b8b0d4" opacity="0.60"/><ellipse cx="1014.0" cy="804.1" rx="3.6" ry="3.4" fill="none" stroke="#9478ac" stroke-width="2.0" opacity="0.80"/><ellipse cx="1014.0" cy="804.1" rx="1.8" ry="1.6" fill="#b8b0d4" opacity="0.60"/><ellipse cx="1164.2" cy="776.4" rx="3.6" ry="3.4" fill="none" stroke="#a07ca8" stroke-width="2.0" opacity="0.80"/><ellipse cx="1164.2" cy="776.4" rx="1.8" ry="1.6" fill="#b8b0d4" opacity="0.60"/><ellipse cx="1078.8" cy="761.5" rx="3.6" ry="3.4" fill="none" stroke="#a07ca8" stroke-width="2.0" opacity="0.80"/><ellipse cx="1078.8" cy="761.5" rx="1.8" ry="1.6" fill="#b8b0d4" opacity="0.60"/><ellipse cx="1173.7" cy="876.3" rx="3.6" ry="3.4" fill="none" stroke="#a07ca8" stroke-width="2.0" opacity="0.80"/><ellipse cx="1173.7" cy="876.3" rx="1.8" ry="1.6" fill="#b8b0d4" opacity="0.60"/><ellipse cx="999.1" cy="948.5" rx="3.6" ry="3.4" fill="none" stroke="#8478bc" stroke-width="2.0" opacity="0.80"/><ellipse cx="999.1" cy="948.5" rx="1.8" ry="1.6" fill="#b8b0d4" opacity="0.60"/><ellipse cx="985.9" cy="780.0" rx="3.6" ry="3.4" fill="none" stroke="#8c7cba" stroke-width="2.0" opacity="0.80"/><ellipse cx="985.9" cy="780.0" rx="1.8" ry="1.6" fill="#b8b0d4" opacity="0.60"/><ellipse cx="1204.8" cy="836.3" rx="3.6" ry="3.4" fill="none" stroke="#8c7cba" stroke-width="2.0" opacity="0.80"/><ellipse cx="1204.8" cy="836.3" rx="1.8" ry="1.6" fill="#b8b0d4" opacity="0.60"/><ellipse cx="1177.7" cy="817.1" rx="3.6" ry="3.4" fill="none" stroke="#9478ac" stroke-width="2.0" opacity="0.80"/><ellipse cx="1177.7" cy="817.1" rx="1.8" ry="1.6" fill="#b8b0d4" opacity="0.60"/><ellipse cx="1157.6" cy="928.4" rx="3.6" ry="3.4" fill="none" stroke="#8478bc" stroke-width="2.0" opacity="0.80"/><ellipse cx="1157.6" cy="928.4" rx="1.8" ry="1.6" fill="#b8b0d4" opacity="0.60"/><ellipse cx="1172.2" cy="826.1" rx="3.6" ry="3.4" fill="none" stroke="#a07ca8" stroke-width="2.0" opacity="0.80"/><ellipse cx="1172.2" cy="826.1" rx="1.8" ry="1.6" fill="#b8b0d4" opacity="0.60"/><ellipse cx="980.0" cy="810.5" rx="3.6" ry="3.4" fill="none" stroke="#8070b8" stroke-width="2.0" opacity="0.80"/><ellipse cx="980.0" cy="810.5" rx="1.8" ry="1.6" fill="#b8b0d4" opacity="0.60"/><ellipse cx="1166.0" cy="821.0" rx="3.6" ry="3.4" fill="none" stroke="#9478ac" stroke-width="2.0" opacity="0.80"/><ellipse cx="1166.0" cy="821.0" rx="1.8" ry="1.6" fill="#b8b0d4" opacity="0.60"/><ellipse cx="1060.0" cy="923.4" rx="3.6" ry="3.4" fill="none" stroke="#9478ac" stroke-width="2.0" opacity="0.80"/><ellipse cx="1060.0" cy="923.4" rx="1.8" ry="1.6" fill="#b8b0d4" opacity="0.60"/><ellipse cx="1056.7" cy="921.6" rx="3.6" ry="3.4" fill="none" stroke="#8070b8" stroke-width="2.0" opacity="0.80"/><ellipse cx="1056.7" cy="921.6" rx="1.8" ry="1.6" fill="#b8b0d4" opacity="0.60"/><ellipse cx="985.0" cy="935.5" rx="3.6" ry="3.4" fill="none" stroke="#7470c0" stroke-width="2.0" opacity="0.80"/><ellipse cx="985.0" cy="935.5" rx="1.8" ry="1.6" fill="#b8b0d4" opacity="0.60"/><ellipse cx="1138.9" cy="833.9" rx="3.6" ry="3.4" fill="none" stroke="#9478ac" stroke-width="2.0" opacity="0.80"/><ellipse cx="1138.9" cy="833.9" rx="1.8" ry="1.6" fill="#b8b0d4" opacity="0.60"/><ellipse cx="1018.6" cy="930.0" rx="3.6" ry="3.4" fill="none" stroke="#8c7cba" stroke-width="2.0" opacity="0.80"/><ellipse cx="1018.6" cy="930.0" rx="1.8" ry="1.6" fill="#b8b0d4" opacity="0.60"/><ellipse cx="1122.2" cy="815.3" rx="3.6" ry="3.4" fill="none" stroke="#a07ca8" stroke-width="2.0" opacity="0.80"/><ellipse cx="1122.2" cy="815.3" rx="1.8" ry="1.6" fill="#b8b0d4" opacity="0.60"/><ellipse cx="1138.7" cy="795.9" rx="3.6" ry="3.4" fill="none" stroke="#a07ca8" stroke-width="2.0" opacity="0.80"/><ellipse cx="1138.7" cy="795.9" rx="1.8" ry="1.6" fill="#b8b0d4" opacity="0.60"/><ellipse cx="1127.3" cy="802.4" rx="3.6" ry="3.4" fill="none" stroke="#7470c0" stroke-width="2.0" opacity="0.80"/><ellipse cx="1127.3" cy="802.4" rx="1.8" ry="1.6" fill="#b8b0d4" opacity="0.60"/><ellipse cx="1069.5" cy="952.3" rx="3.6" ry="3.4" fill="none" stroke="#9478ac" stroke-width="2.0" opacity="0.80"/><ellipse cx="1069.5" cy="952.3" rx="1.8" ry="1.6" fill="#b8b0d4" opacity="0.60"/><ellipse cx="1065.3" cy="941.4" rx="3.6" ry="3.4" fill="none" stroke="#8478bc" stroke-width="2.0" opacity="0.80"/><ellipse cx="1065.3" cy="941.4" rx="1.8" ry="1.6" fill="#b8b0d4" opacity="0.60"/><ellipse cx="1085.4" cy="941.3" rx="3.6" ry="3.4" fill="none" stroke="#7470c0" stroke-width="2.0" opacity="0.80"/><ellipse cx="1085.4" cy="941.3" rx="1.8" ry="1.6" fill="#b8b0d4" opacity="0.60"/><ellipse cx="1155.2" cy="862.3" rx="3.6" ry="3.4" fill="none" stroke="#7470c0" stroke-width="2.0" opacity="0.80"/><ellipse cx="1155.2" cy="862.3" rx="1.8" ry="1.6" fill="#b8b0d4" opacity="0.60"/><ellipse cx="1067.7" cy="811.1" rx="3.6" ry="3.4" fill="none" stroke="#a07ca8" stroke-width="2.0" opacity="0.80"/><ellipse cx="1067.7" cy="811.1" rx="1.8" ry="1.6" fill="#b8b0d4" opacity="0.60"/><ellipse cx="1164.5" cy="783.4" rx="3.6" ry="3.4" fill="none" stroke="#9478ac" stroke-width="2.0" opacity="0.80"/><ellipse cx="1164.5" cy="783.4" rx="1.8" ry="1.6" fill="#b8b0d4" opacity="0.60"/><ellipse cx="1128.3" cy="877.3" rx="3.6" ry="3.4" fill="none" stroke="#8070b8" stroke-width="2.0" opacity="0.80"/><ellipse cx="1128.3" cy="877.3" rx="1.8" ry="1.6" fill="#b8b0d4" opacity="0.60"/><ellipse cx="1125.5" cy="842.6" rx="3.6" ry="3.4" fill="none" stroke="#9478ac" stroke-width="2.0" opacity="0.80"/><ellipse cx="1125.5" cy="842.6" rx="1.8" ry="1.6" fill="#b8b0d4" opacity="0.60"/><ellipse cx="1044.7" cy="791.4" rx="3.6" ry="3.4" fill="none" stroke="#8478bc" stroke-width="2.0" opacity="0.80"/><ellipse cx="1044.7" cy="791.4" rx="1.8" ry="1.6" fill="#b8b0d4" opacity="0.60"/><ellipse cx="1125.5" cy="896.3" rx="3.6" ry="3.4" fill="none" stroke="#8c7cba" stroke-width="2.0" opacity="0.80"/><ellipse cx="1125.5" cy="896.3" rx="1.8" ry="1.6" fill="#b8b0d4" opacity="0.60"/><ellipse cx="1180.4" cy="890.7" rx="3.6" ry="3.4" fill="none" stroke="#a07ca8" stroke-width="2.0" opacity="0.80"/><ellipse cx="1180.4" cy="890.7" rx="1.8" ry="1.6" fill="#b8b0d4" opacity="0.60"/><ellipse cx="1026.2" cy="837.7" rx="3.6" ry="3.4" fill="none" stroke="#a07ca8" stroke-width="2.0" opacity="0.80"/><ellipse cx="1026.2" cy="837.7" rx="1.8" ry="1.6" fill="#b8b0d4" opacity="0.60"/><ellipse cx="1018.9" cy="931.4" rx="3.6" ry="3.4" fill="none" stroke="#7470c0" stroke-width="2.0" opacity="0.80"/><ellipse cx="1018.9" cy="931.4" rx="1.8" ry="1.6" fill="#b8b0d4" opacity="0.60"/><ellipse cx="1123.0" cy="750.5" rx="3.6" ry="3.4" fill="none" stroke="#8070b8" stroke-width="2.0" opacity="0.80"/><ellipse cx="1123.0" cy="750.5" rx="1.8" ry="1.6" fill="#b8b0d4" opacity="0.60"/><ellipse cx="1092.4" cy="750.0" rx="3.6" ry="3.4" fill="none" stroke="#7470c0" stroke-width="2.0" opacity="0.80"/><ellipse cx="1092.4" cy="750.0" rx="1.8" ry="1.6" fill="#b8b0d4" opacity="0.60"/><ellipse cx="1194.7" cy="956.3" rx="3.6" ry="3.4" fill="none" stroke="#8c7cba" stroke-width="2.0" opacity="0.80"/><ellipse cx="1194.7" cy="956.3" rx="1.8" ry="1.6" fill="#b8b0d4" opacity="0.60"/><ellipse cx="1087.4" cy="919.9" rx="3.6" ry="3.4" fill="none" stroke="#8c7cba" stroke-width="2.0" opacity="0.80"/><ellipse cx="1087.4" cy="919.9" rx="1.8" ry="1.6" fill="#b8b0d4" opacity="0.60"/><ellipse cx="1026.9" cy="929.5" rx="3.6" ry="3.4" fill="none" stroke="#9478ac" stroke-width="2.0" opacity="0.80"/><ellipse cx="1026.9" cy="929.5" rx="1.8" ry="1.6" fill="#b8b0d4" opacity="0.60"/><ellipse cx="1076.8" cy="861.9" rx="3.6" ry="3.4" fill="none" stroke="#8070b8" stroke-width="2.0" opacity="0.80"/><ellipse cx="1076.8" cy="861.9" rx="1.8" ry="1.6" fill="#b8b0d4" opacity="0.60"/><ellipse cx="1150.2" cy="925.1" rx="3.6" ry="3.4" fill="none" stroke="#8070b8" stroke-width="2.0" opacity="0.80"/><ellipse cx="1150.2" cy="925.1" rx="1.8" ry="1.6" fill="#b8b0d4" opacity="0.60"/><ellipse cx="1150.5" cy="792.0" rx="3.6" ry="3.4" fill="none" stroke="#8478bc" stroke-width="2.0" opacity="0.80"/><ellipse cx="1150.5" cy="792.0" rx="1.8" ry="1.6" fill="#b8b0d4" opacity="0.60"/><ellipse cx="1206.9" cy="920.0" rx="3.6" ry="3.4" fill="none" stroke="#8478bc" stroke-width="2.0" opacity="0.80"/><ellipse cx="1206.9" cy="920.0" rx="1.8" ry="1.6" fill="#b8b0d4" opacity="0.60"/><ellipse cx="1104.4" cy="952.7" rx="3.6" ry="3.4" fill="none" stroke="#9478ac" stroke-width="2.0" opacity="0.80"/><ellipse cx="1104.4" cy="952.7" rx="1.8" ry="1.6" fill="#b8b0d4" opacity="0.60"/><ellipse cx="1035.6" cy="954.7" rx="3.6" ry="3.4" fill="none" stroke="#a07ca8" stroke-width="2.0" opacity="0.80"/><ellipse cx="1035.6" cy="954.7" rx="1.8" ry="1.6" fill="#b8b0d4" opacity="0.60"/><ellipse cx="1194.4" cy="873.9" rx="3.6" ry="3.4" fill="none" stroke="#7470c0" stroke-width="2.0" opacity="0.80"/><ellipse cx="1194.4" cy="873.9" rx="1.8" ry="1.6" fill="#b8b0d4" opacity="0.60"/><ellipse cx="1009.8" cy="770.8" rx="3.6" ry="3.4" fill="none" stroke="#9478ac" stroke-width="2.0" opacity="0.80"/><ellipse cx="1009.8" cy="770.8" rx="1.8" ry="1.6" fill="#b8b0d4" opacity="0.60"/><ellipse cx="1059.8" cy="786.1" rx="3.6" ry="3.4" fill="none" stroke="#9478ac" stroke-width="2.0" opacity="0.80"/><ellipse cx="1059.8" cy="786.1" rx="1.8" ry="1.6" fill="#b8b0d4" opacity="0.60"/><ellipse cx="1042.8" cy="935.1" rx="3.6" ry="3.4" fill="none" stroke="#9478ac" stroke-width="2.0" opacity="0.80"/><ellipse cx="1042.8" cy="935.1" rx="1.8" ry="1.6" fill="#b8b0d4" opacity="0.60"/><ellipse cx="1174.7" cy="896.4" rx="3.6" ry="3.4" fill="none" stroke="#9478ac" stroke-width="2.0" opacity="0.80"/><ellipse cx="1174.7" cy="896.4" rx="1.8" ry="1.6" fill="#b8b0d4" opacity="0.60"/><ellipse cx="1064.6" cy="951.3" rx="3.6" ry="3.4" fill="none" stroke="#8c7cba" stroke-width="2.0" opacity="0.80"/><ellipse cx="1064.6" cy="951.3" rx="1.8" ry="1.6" fill="#b8b0d4" opacity="0.60"/><ellipse cx="1050.4" cy="793.5" rx="3.6" ry="3.4" fill="none" stroke="#9478ac" stroke-width="2.0" opacity="0.80"/><ellipse cx="1050.4" cy="793.5" rx="1.8" ry="1.6" fill="#b8b0d4" opacity="0.60"/><ellipse cx="1102.4" cy="937.6" rx="3.6" ry="3.4" fill="none" stroke="#9478ac" stroke-width="2.0" opacity="0.80"/><ellipse cx="1102.4" cy="937.6" rx="1.8" ry="1.6" fill="#b8b0d4" opacity="0.60"/><ellipse cx="1007.2" cy="942.5" rx="3.6" ry="3.4" fill="none" stroke="#9478ac" stroke-width="2.0" opacity="0.80"/><ellipse cx="1007.2" cy="942.5" rx="1.8" ry="1.6" fill="#b8b0d4" opacity="0.60"/><ellipse cx="1102.5" cy="881.9" rx="3.6" ry="3.4" fill="none" stroke="#9478ac" stroke-width="2.0" opacity="0.80"/><ellipse cx="1102.5" cy="881.9" rx="1.8" ry="1.6" fill="#b8b0d4" opacity="0.60"/><ellipse cx="1125.0" cy="956.8" rx="3.6" ry="3.4" fill="none" stroke="#8070b8" stroke-width="2.0" opacity="0.80"/><ellipse cx="1125.0" cy="956.8" rx="1.8" ry="1.6" fill="#b8b0d4" opacity="0.60"/><ellipse cx="1020.9" cy="846.8" rx="3.6" ry="3.4" fill="none" stroke="#8478bc" stroke-width="2.0" opacity="0.80"/><ellipse cx="1020.9" cy="846.8" rx="1.8" ry="1.6" fill="#b8b0d4" opacity="0.60"/><ellipse cx="990.4" cy="917.9" rx="3.6" ry="3.4" fill="none" stroke="#8478bc" stroke-width="2.0" opacity="0.80"/><ellipse cx="990.4" cy="917.9" rx="1.8" ry="1.6" fill="#b8b0d4" opacity="0.60"/><ellipse cx="1044.5" cy="904.7" rx="3.6" ry="3.4" fill="none" stroke="#8070b8" stroke-width="2.0" opacity="0.80"/><ellipse cx="1044.5" cy="904.7" rx="1.8" ry="1.6" fill="#b8b0d4" opacity="0.60"/><ellipse cx="1128.9" cy="807.9" rx="3.6" ry="3.4" fill="none" stroke="#8478bc" stroke-width="2.0" opacity="0.80"/><ellipse cx="1128.9" cy="807.9" rx="1.8" ry="1.6" fill="#b8b0d4" opacity="0.60"/><ellipse cx="1104.9" cy="837.1" rx="3.6" ry="3.4" fill="none" stroke="#8c7cba" stroke-width="2.0" opacity="0.80"/><ellipse cx="1104.9" cy="837.1" rx="1.8" ry="1.6" fill="#b8b0d4" opacity="0.60"/><ellipse cx="995.6" cy="944.0" rx="3.6" ry="3.4" fill="none" stroke="#9478ac" stroke-width="2.0" opacity="0.80"/><ellipse cx="995.6" cy="944.0" rx="1.8" ry="1.6" fill="#b8b0d4" opacity="0.60"/><ellipse cx="971.1" cy="822.0" rx="3.6" ry="3.4" fill="none" stroke="#8c7cba" stroke-width="2.0" opacity="0.80"/><ellipse cx="971.1" cy="822.0" rx="1.8" ry="1.6" fill="#b8b0d4" opacity="0.60"/><ellipse cx="1098.2" cy="811.4" rx="3.6" ry="3.4" fill="none" stroke="#9478ac" stroke-width="2.0" opacity="0.80"/><ellipse cx="1098.2" cy="811.4" rx="1.8" ry="1.6" fill="#b8b0d4" opacity="0.60"/><ellipse cx="976.4" cy="913.4" rx="3.6" ry="3.4" fill="none" stroke="#8c7cba" stroke-width="2.0" opacity="0.80"/><ellipse cx="976.4" cy="913.4" rx="1.8" ry="1.6" fill="#b8b0d4" opacity="0.60"/><ellipse cx="1159.4" cy="774.4" rx="3.6" ry="3.4" fill="none" stroke="#8c7cba" stroke-width="2.0" opacity="0.80"/><ellipse cx="1159.4" cy="774.4" rx="1.8" ry="1.6" fill="#b8b0d4" opacity="0.60"/><ellipse cx="1029.1" cy="888.4" rx="3.6" ry="3.4" fill="none" stroke="#8478bc" stroke-width="2.0" opacity="0.80"/><ellipse cx="1029.1" cy="888.4" rx="1.8" ry="1.6" fill="#b8b0d4" opacity="0.60"/><ellipse cx="1099.3" cy="791.6" rx="3.6" ry="3.4" fill="none" stroke="#8070b8" stroke-width="2.0" opacity="0.80"/><ellipse cx="1099.3" cy="791.6" rx="1.8" ry="1.6" fill="#b8b0d4" opacity="0.60"/><ellipse cx="1004.8" cy="824.4" rx="3.6" ry="3.4" fill="none" stroke="#8070b8" stroke-width="2.0" opacity="0.80"/><ellipse cx="1004.8" cy="824.4" rx="1.8" ry="1.6" fill="#b8b0d4" opacity="0.60"/><ellipse cx="982.2" cy="892.9" rx="3.6" ry="3.4" fill="none" stroke="#a07ca8" stroke-width="2.0" opacity="0.80"/><ellipse cx="982.2" cy="892.9" rx="1.8" ry="1.6" fill="#b8b0d4" opacity="0.60"/><ellipse cx="993.1" cy="778.6" rx="3.6" ry="3.4" fill="none" stroke="#8070b8" stroke-width="2.0" opacity="0.80"/><ellipse cx="993.1" cy="778.6" rx="1.8" ry="1.6" fill="#b8b0d4" opacity="0.60"/><ellipse cx="983.5" cy="910.0" rx="3.6" ry="3.4" fill="none" stroke="#a07ca8" stroke-width="2.0" opacity="0.80"/><ellipse cx="983.5" cy="910.0" rx="1.8" ry="1.6" fill="#b8b0d4" opacity="0.60"/><ellipse cx="1055.1" cy="824.4" rx="3.6" ry="3.4" fill="none" stroke="#a07ca8" stroke-width="2.0" opacity="0.80"/><ellipse cx="1055.1" cy="824.4" rx="1.8" ry="1.6" fill="#b8b0d4" opacity="0.60"/><ellipse cx="1019.0" cy="878.2" rx="3.6" ry="3.4" fill="none" stroke="#8070b8" stroke-width="2.0" opacity="0.80"/><ellipse cx="1019.0" cy="878.2" rx="1.8" ry="1.6" fill="#b8b0d4" opacity="0.60"/><ellipse cx="1001.7" cy="913.0" rx="3.6" ry="3.4" fill="none" stroke="#7470c0" stroke-width="2.0" opacity="0.80"/><ellipse cx="1001.7" cy="913.0" rx="1.8" ry="1.6" fill="#b8b0d4" opacity="0.60"/><ellipse cx="1160.4" cy="841.8" rx="3.6" ry="3.4" fill="none" stroke="#7470c0" stroke-width="2.0" opacity="0.80"/><ellipse cx="1160.4" cy="841.8" rx="1.8" ry="1.6" fill="#b8b0d4" opacity="0.60"/><ellipse cx="1006.2" cy="773.2" rx="3.6" ry="3.4" fill="none" stroke="#9478ac" stroke-width="2.0" opacity="0.80"/><ellipse cx="1006.2" cy="773.2" rx="1.8" ry="1.6" fill="#b8b0d4" opacity="0.60"/><ellipse cx="1119.6" cy="859.8" rx="3.6" ry="3.4" fill="none" stroke="#8478bc" stroke-width="2.0" opacity="0.80"/><ellipse cx="1119.6" cy="859.8" rx="1.8" ry="1.6" fill="#b8b0d4" opacity="0.60"/><ellipse cx="1018.8" cy="943.3" rx="3.6" ry="3.4" fill="none" stroke="#8478bc" stroke-width="2.0" opacity="0.80"/><ellipse cx="1018.8" cy="943.3" rx="1.8" ry="1.6" fill="#b8b0d4" opacity="0.60"/><ellipse cx="1153.8" cy="958.8" rx="3.6" ry="3.4" fill="none" stroke="#8070b8" stroke-width="2.0" opacity="0.80"/><ellipse cx="1153.8" cy="958.8" rx="1.8" ry="1.6" fill="#b8b0d4" opacity="0.60"/><ellipse cx="1070.9" cy="917.2" rx="3.6" ry="3.4" fill="none" stroke="#8478bc" stroke-width="2.0" opacity="0.80"/><ellipse cx="1070.9" cy="917.2" rx="1.8" ry="1.6" fill="#b8b0d4" opacity="0.60"/><ellipse cx="1176.8" cy="783.8" rx="3.6" ry="3.4" fill="none" stroke="#8c7cba" stroke-width="2.0" opacity="0.80"/><ellipse cx="1176.8" cy="783.8" rx="1.8" ry="1.6" fill="#b8b0d4" opacity="0.60"/><ellipse cx="1151.7" cy="828.5" rx="3.6" ry="3.4" fill="none" stroke="#7470c0" stroke-width="2.0" opacity="0.80"/><ellipse cx="1151.7" cy="828.5" rx="1.8" ry="1.6" fill="#b8b0d4" opacity="0.60"/><ellipse cx="1106.5" cy="873.1" rx="3.6" ry="3.4" fill="none" stroke="#8478bc" stroke-width="2.0" opacity="0.80"/><ellipse cx="1106.5" cy="873.1" rx="1.8" ry="1.6" fill="#b8b0d4" opacity="0.60"/><ellipse cx="1035.9" cy="783.2" rx="3.6" ry="3.4" fill="none" stroke="#8478bc" stroke-width="2.0" opacity="0.80"/><ellipse cx="1035.9" cy="783.2" rx="1.8" ry="1.6" fill="#b8b0d4" opacity="0.60"/><ellipse cx="1177.9" cy="920.7" rx="3.6" ry="3.4" fill="none" stroke="#7470c0" stroke-width="2.0" opacity="0.80"/><ellipse cx="1177.9" cy="920.7" rx="1.8" ry="1.6" fill="#b8b0d4" opacity="0.60"/><ellipse cx="1033.3" cy="853.7" rx="3.6" ry="3.4" fill="none" stroke="#8478bc" stroke-width="2.0" opacity="0.80"/><ellipse cx="1033.3" cy="853.7" rx="1.8" ry="1.6" fill="#b8b0d4" opacity="0.60"/><ellipse cx="972.2" cy="784.3" rx="3.6" ry="3.4" fill="none" stroke="#a07ca8" stroke-width="2.0" opacity="0.80"/><ellipse cx="972.2" cy="784.3" rx="1.8" ry="1.6" fill="#b8b0d4" opacity="0.60"/><ellipse cx="1039.9" cy="820.4" rx="3.6" ry="3.4" fill="none" stroke="#7470c0" stroke-width="2.0" opacity="0.80"/><ellipse cx="1039.9" cy="820.4" rx="1.8" ry="1.6" fill="#b8b0d4" opacity="0.60"/><ellipse cx="1159.4" cy="954.3" rx="3.6" ry="3.4" fill="none" stroke="#9478ac" stroke-width="2.0" opacity="0.80"/><ellipse cx="1159.4" cy="954.3" rx="1.8" ry="1.6" fill="#b8b0d4" opacity="0.60"/><ellipse cx="1161.5" cy="878.6" rx="3.6" ry="3.4" fill="none" stroke="#8070b8" stroke-width="2.0" opacity="0.80"/><ellipse cx="1161.5" cy="878.6" rx="1.8" ry="1.6" fill="#b8b0d4" opacity="0.60"/><ellipse cx="999.2" cy="892.1" rx="3.6" ry="3.4" fill="none" stroke="#7470c0" stroke-width="2.0" opacity="0.80"/><ellipse cx="999.2" cy="892.1" rx="1.8" ry="1.6" fill="#b8b0d4" opacity="0.60"/><ellipse cx="1143.1" cy="838.2" rx="3.6" ry="3.4" fill="none" stroke="#a07ca8" stroke-width="2.0" opacity="0.80"/><ellipse cx="1143.1" cy="838.2" rx="1.8" ry="1.6" fill="#b8b0d4" opacity="0.60"/><ellipse cx="1182.8" cy="797.8" rx="3.6" ry="3.4" fill="none" stroke="#8070b8" stroke-width="2.0" opacity="0.80"/><ellipse cx="1182.8" cy="797.8" rx="1.8" ry="1.6" fill="#b8b0d4" opacity="0.60"/><ellipse cx="1061.7" cy="761.2" rx="3.6" ry="3.4" fill="none" stroke="#8c7cba" stroke-width="2.0" opacity="0.80"/><ellipse cx="1061.7" cy="761.2" rx="1.8" ry="1.6" fill="#b8b0d4" opacity="0.60"/><ellipse cx="1120.8" cy="784.3" rx="3.6" ry="3.4" fill="none" stroke="#8070b8" stroke-width="2.0" opacity="0.80"/><ellipse cx="1120.8" cy="784.3" rx="1.8" ry="1.6" fill="#b8b0d4" opacity="0.60"/><ellipse cx="985.3" cy="750.6" rx="3.6" ry="3.4" fill="none" stroke="#8478bc" stroke-width="2.0" opacity="0.80"/><ellipse cx="985.3" cy="750.6" rx="1.8" ry="1.6" fill="#b8b0d4" opacity="0.60"/><ellipse cx="1167.3" cy="777.5" rx="3.6" ry="3.4" fill="none" stroke="#8c7cba" stroke-width="2.0" opacity="0.80"/><ellipse cx="1167.3" cy="777.5" rx="1.8" ry="1.6" fill="#b8b0d4" opacity="0.60"/><ellipse cx="1116.3" cy="762.6" rx="3.6" ry="3.4" fill="none" stroke="#7470c0" stroke-width="2.0" opacity="0.80"/><ellipse cx="1116.3" cy="762.6" rx="1.8" ry="1.6" fill="#b8b0d4" opacity="0.60"/><ellipse cx="1007.1" cy="911.1" rx="3.6" ry="3.4" fill="none" stroke="#8c7cba" stroke-width="2.0" opacity="0.80"/><ellipse cx="1007.1" cy="911.1" rx="1.8" ry="1.6" fill="#b8b0d4" opacity="0.60"/><ellipse cx="963.1" cy="885.6" rx="3.6" ry="3.4" fill="none" stroke="#8070b8" stroke-width="2.0" opacity="0.80"/><ellipse cx="963.1" cy="885.6" rx="1.8" ry="1.6" fill="#b8b0d4" opacity="0.60"/><ellipse cx="1059.2" cy="959.2" rx="3.6" ry="3.4" fill="none" stroke="#9478ac" stroke-width="2.0" opacity="0.80"/><ellipse cx="1059.2" cy="959.2" rx="1.8" ry="1.6" fill="#b8b0d4" opacity="0.60"/><ellipse cx="980.4" cy="873.9" rx="3.6" ry="3.4" fill="none" stroke="#7470c0" stroke-width="2.0" opacity="0.80"/><ellipse cx="980.4" cy="873.9" rx="1.8" ry="1.6" fill="#b8b0d4" opacity="0.60"/><ellipse cx="1068.7" cy="850.7" rx="3.6" ry="3.4" fill="none" stroke="#8070b8" stroke-width="2.0" opacity="0.80"/><ellipse cx="1068.7" cy="850.7" rx="1.8" ry="1.6" fill="#b8b0d4" opacity="0.60"/><ellipse cx="984.6" cy="855.7" rx="3.6" ry="3.4" fill="none" stroke="#8c7cba" stroke-width="2.0" opacity="0.80"/><ellipse cx="984.6" cy="855.7" rx="1.8" ry="1.6" fill="#b8b0d4" opacity="0.60"/><ellipse cx="1141.8" cy="852.1" rx="3.6" ry="3.4" fill="none" stroke="#a07ca8" stroke-width="2.0" opacity="0.80"/><ellipse cx="1141.8" cy="852.1" rx="1.8" ry="1.6" fill="#b8b0d4" opacity="0.60"/><ellipse cx="1171.5" cy="841.9" rx="3.6" ry="3.4" fill="none" stroke="#8c7cba" stroke-width="2.0" opacity="0.80"/><ellipse cx="1171.5" cy="841.9" rx="1.8" ry="1.6" fill="#b8b0d4" opacity="0.60"/><ellipse cx="1184.1" cy="786.4" rx="3.6" ry="3.4" fill="none" stroke="#9478ac" stroke-width="2.0" opacity="0.80"/><ellipse cx="1184.1" cy="786.4" rx="1.8" ry="1.6" fill="#b8b0d4" opacity="0.60"/><ellipse cx="1142.9" cy="802.2" rx="3.6" ry="3.4" fill="none" stroke="#a07ca8" stroke-width="2.0" opacity="0.80"/><ellipse cx="1142.9" cy="802.2" rx="1.8" ry="1.6" fill="#b8b0d4" opacity="0.60"/><ellipse cx="1025.1" cy="887.3" rx="3.6" ry="3.4" fill="none" stroke="#a07ca8" stroke-width="2.0" opacity="0.80"/><ellipse cx="1025.1" cy="887.3" rx="1.8" ry="1.6" fill="#b8b0d4" opacity="0.60"/><ellipse cx="1158.2" cy="943.4" rx="3.6" ry="3.4" fill="none" stroke="#8070b8" stroke-width="2.0" opacity="0.80"/><ellipse cx="1158.2" cy="943.4" rx="1.8" ry="1.6" fill="#b8b0d4" opacity="0.60"/><ellipse cx="981.2" cy="800.5" rx="3.6" ry="3.4" fill="none" stroke="#8c7cba" stroke-width="2.0" opacity="0.80"/><ellipse cx="981.2" cy="800.5" rx="1.8" ry="1.6" fill="#b8b0d4" opacity="0.60"/><ellipse cx="1130.4" cy="838.6" rx="3.6" ry="3.4" fill="none" stroke="#8070b8" stroke-width="2.0" opacity="0.80"/><ellipse cx="1130.4" cy="838.6" rx="1.8" ry="1.6" fill="#b8b0d4" opacity="0.60"/><ellipse cx="1099.7" cy="800.7" rx="3.6" ry="3.4" fill="none" stroke="#7470c0" stroke-width="2.0" opacity="0.80"/><ellipse cx="1099.7" cy="800.7" rx="1.8" ry="1.6" fill="#b8b0d4" opacity="0.60"/><ellipse cx="1150.0" cy="820.3" rx="3.6" ry="3.4" fill="none" stroke="#8c7cba" stroke-width="2.0" opacity="0.80"/><ellipse cx="1150.0" cy="820.3" rx="1.8" ry="1.6" fill="#b8b0d4" opacity="0.60"/><ellipse cx="986.0" cy="882.3" rx="3.6" ry="3.4" fill="none" stroke="#8478bc" stroke-width="2.0" opacity="0.80"/><ellipse cx="986.0" cy="882.3" rx="1.8" ry="1.6" fill="#b8b0d4" opacity="0.60"/><ellipse cx="1069.2" cy="816.3" rx="3.6" ry="3.4" fill="none" stroke="#8478bc" stroke-width="2.0" opacity="0.80"/><ellipse cx="1069.2" cy="816.3" rx="1.8" ry="1.6" fill="#b8b0d4" opacity="0.60"/><ellipse cx="1124.5" cy="788.8" rx="3.6" ry="3.4" fill="none" stroke="#a07ca8" stroke-width="2.0" opacity="0.80"/><ellipse cx="1124.5" cy="788.8" rx="1.8" ry="1.6" fill="#b8b0d4" opacity="0.60"/><ellipse cx="1024.7" cy="871.6" rx="3.6" ry="3.4" fill="none" stroke="#7470c0" stroke-width="2.0" opacity="0.80"/><ellipse cx="1024.7" cy="871.6" rx="1.8" ry="1.6" fill="#b8b0d4" opacity="0.60"/><ellipse cx="1010.3" cy="826.7" rx="3.6" ry="3.4" fill="none" stroke="#8c7cba" stroke-width="2.0" opacity="0.80"/><ellipse cx="1010.3" cy="826.7" rx="1.8" ry="1.6" fill="#b8b0d4" opacity="0.60"/><ellipse cx="1046.6" cy="779.8" rx="3.6" ry="3.4" fill="none" stroke="#7470c0" stroke-width="2.0" opacity="0.80"/><ellipse cx="1046.6" cy="779.8" rx="1.8" ry="1.6" fill="#b8b0d4" opacity="0.60"/><ellipse cx="1092.2" cy="791.5" rx="3.6" ry="3.4" fill="none" stroke="#8478bc" stroke-width="2.0" opacity="0.80"/><ellipse cx="1092.2" cy="791.5" rx="1.8" ry="1.6" fill="#b8b0d4" opacity="0.60"/><ellipse cx="1193.2" cy="755.4" rx="3.6" ry="3.4" fill="none" stroke="#8c7cba" stroke-width="2.0" opacity="0.80"/><ellipse cx="1193.2" cy="755.4" rx="1.8" ry="1.6" fill="#b8b0d4" opacity="0.60"/><ellipse cx="996.8" cy="766.2" rx="3.6" ry="3.4" fill="none" stroke="#9478ac" stroke-width="2.0" opacity="0.80"/><ellipse cx="996.8" cy="766.2" rx="1.8" ry="1.6" fill="#b8b0d4" opacity="0.60"/><ellipse cx="966.7" cy="948.5" rx="3.6" ry="3.4" fill="none" stroke="#9478ac" stroke-width="2.0" opacity="0.80"/><ellipse cx="966.7" cy="948.5" rx="1.8" ry="1.6" fill="#b8b0d4" opacity="0.60"/><ellipse cx="1022.2" cy="782.1" rx="3.6" ry="3.4" fill="none" stroke="#8478bc" stroke-width="2.0" opacity="0.80"/><ellipse cx="1022.2" cy="782.1" rx="1.8" ry="1.6" fill="#b8b0d4" opacity="0.60"/><ellipse cx="967.6" cy="786.9" rx="3.6" ry="3.4" fill="none" stroke="#8c7cba" stroke-width="2.0" opacity="0.80"/><ellipse cx="967.6" cy="786.9" rx="1.8" ry="1.6" fill="#b8b0d4" opacity="0.60"/><ellipse cx="1046.4" cy="803.8" rx="3.6" ry="3.4" fill="none" stroke="#8478bc" stroke-width="2.0" opacity="0.80"/><ellipse cx="1046.4" cy="803.8" rx="1.8" ry="1.6" fill="#b8b0d4" opacity="0.60"/><ellipse cx="1120.1" cy="841.4" rx="3.6" ry="3.4" fill="none" stroke="#a07ca8" stroke-width="2.0" opacity="0.80"/><ellipse cx="1120.1" cy="841.4" rx="1.8" ry="1.6" fill="#b8b0d4" opacity="0.60"/><ellipse cx="1069.0" cy="895.8" rx="3.6" ry="3.4" fill="none" stroke="#a07ca8" stroke-width="2.0" opacity="0.80"/><ellipse cx="1069.0" cy="895.8" rx="1.8" ry="1.6" fill="#b8b0d4" opacity="0.60"/><ellipse cx="1052.8" cy="839.2" rx="3.6" ry="3.4" fill="none" stroke="#9478ac" stroke-width="2.0" opacity="0.80"/><ellipse cx="1052.8" cy="839.2" rx="1.8" ry="1.6" fill="#b8b0d4" opacity="0.60"/><ellipse cx="1150.1" cy="940.7" rx="3.6" ry="3.4" fill="none" stroke="#7470c0" stroke-width="2.0" opacity="0.80"/><ellipse cx="1150.1" cy="940.7" rx="1.8" ry="1.6" fill="#b8b0d4" opacity="0.60"/><ellipse cx="1042.3" cy="822.5" rx="3.6" ry="3.4" fill="none" stroke="#8478bc" stroke-width="2.0" opacity="0.80"/><ellipse cx="1042.3" cy="822.5" rx="1.8" ry="1.6" fill="#b8b0d4" opacity="0.60"/><ellipse cx="1029.2" cy="801.1" rx="3.6" ry="3.4" fill="none" stroke="#8478bc" stroke-width="2.0" opacity="0.80"/><ellipse cx="1029.2" cy="801.1" rx="1.8" ry="1.6" fill="#b8b0d4" opacity="0.60"/><ellipse cx="1016.1" cy="818.6" rx="3.6" ry="3.4" fill="none" stroke="#8478bc" stroke-width="2.0" opacity="0.80"/><ellipse cx="1016.1" cy="818.6" rx="1.8" ry="1.6" fill="#b8b0d4" opacity="0.60"/><ellipse cx="1028.6" cy="814.5" rx="3.6" ry="3.4" fill="none" stroke="#8070b8" stroke-width="2.0" opacity="0.80"/><ellipse cx="1028.6" cy="814.5" rx="1.8" ry="1.6" fill="#b8b0d4" opacity="0.60"/><ellipse cx="1021.8" cy="843.1" rx="3.6" ry="3.4" fill="none" stroke="#9478ac" stroke-width="2.0" opacity="0.80"/><ellipse cx="1021.8" cy="843.1" rx="1.8" ry="1.6" fill="#b8b0d4" opacity="0.60"/><ellipse cx="1090.0" cy="876.8" rx="3.6" ry="3.4" fill="none" stroke="#7470c0" stroke-width="2.0" opacity="0.80"/><ellipse cx="1090.0" cy="876.8" rx="1.8" ry="1.6" fill="#b8b0d4" opacity="0.60"/><ellipse cx="981.3" cy="830.7" rx="3.6" ry="3.4" fill="none" stroke="#a07ca8" stroke-width="2.0" opacity="0.80"/><ellipse cx="981.3" cy="830.7" rx="1.8" ry="1.6" fill="#b8b0d4" opacity="0.60"/><ellipse cx="966.6" cy="854.1" rx="3.6" ry="3.4" fill="none" stroke="#a07ca8" stroke-width="2.0" opacity="0.80"/><ellipse cx="966.6" cy="854.1" rx="1.8" ry="1.6" fill="#b8b0d4" opacity="0.60"/><ellipse cx="1070.3" cy="917.4" rx="3.6" ry="3.4" fill="none" stroke="#7470c0" stroke-width="2.0" opacity="0.80"/><ellipse cx="1070.3" cy="917.4" rx="1.8" ry="1.6" fill="#b8b0d4" opacity="0.60"/><ellipse cx="1087.0" cy="799.4" rx="3.6" ry="3.4" fill="none" stroke="#a07ca8" stroke-width="2.0" opacity="0.80"/><ellipse cx="1087.0" cy="799.4" rx="1.8" ry="1.6" fill="#b8b0d4" opacity="0.60"/><ellipse cx="1093.1" cy="933.8" rx="3.6" ry="3.4" fill="none" stroke="#8478bc" stroke-width="2.0" opacity="0.80"/><ellipse cx="1093.1" cy="933.8" rx="1.8" ry="1.6" fill="#b8b0d4" opacity="0.60"/><ellipse cx="1186.5" cy="833.8" rx="3.6" ry="3.4" fill="none" stroke="#8c7cba" stroke-width="2.0" opacity="0.80"/><ellipse cx="1186.5" cy="833.8" rx="1.8" ry="1.6" fill="#b8b0d4" opacity="0.60"/><ellipse cx="979.0" cy="945.1" rx="3.6" ry="3.4" fill="none" stroke="#9478ac" stroke-width="2.0" opacity="0.80"/><ellipse cx="979.0" cy="945.1" rx="1.8" ry="1.6" fill="#b8b0d4" opacity="0.60"/><ellipse cx="1144.0" cy="821.2" rx="3.6" ry="3.4" fill="none" stroke="#8070b8" stroke-width="2.0" opacity="0.80"/><ellipse cx="1144.0" cy="821.2" rx="1.8" ry="1.6" fill="#b8b0d4" opacity="0.60"/><ellipse cx="983.1" cy="753.9" rx="3.6" ry="3.4" fill="none" stroke="#8070b8" stroke-width="2.0" opacity="0.80"/><ellipse cx="983.1" cy="753.9" rx="1.8" ry="1.6" fill="#b8b0d4" opacity="0.60"/><ellipse cx="982.8" cy="777.1" rx="3.6" ry="3.4" fill="none" stroke="#9478ac" stroke-width="2.0" opacity="0.80"/><ellipse cx="982.8" cy="777.1" rx="1.8" ry="1.6" fill="#b8b0d4" opacity="0.60"/><ellipse cx="1009.4" cy="936.2" rx="3.6" ry="3.4" fill="none" stroke="#a07ca8" stroke-width="2.0" opacity="0.80"/><ellipse cx="1009.4" cy="936.2" rx="1.8" ry="1.6" fill="#b8b0d4" opacity="0.60"/><ellipse cx="1105.8" cy="753.4" rx="3.6" ry="3.4" fill="none" stroke="#8478bc" stroke-width="2.0" opacity="0.80"/><ellipse cx="1105.8" cy="753.4" rx="1.8" ry="1.6" fill="#b8b0d4" opacity="0.60"/><ellipse cx="1157.9" cy="795.8" rx="3.6" ry="3.4" fill="none" stroke="#a07ca8" stroke-width="2.0" opacity="0.80"/><ellipse cx="1157.9" cy="795.8" rx="1.8" ry="1.6" fill="#b8b0d4" opacity="0.60"/><ellipse cx="1118.9" cy="772.3" rx="3.6" ry="3.4" fill="none" stroke="#9478ac" stroke-width="2.0" opacity="0.80"/><ellipse cx="1118.9" cy="772.3" rx="1.8" ry="1.6" fill="#b8b0d4" opacity="0.60"/><ellipse cx="1165.5" cy="935.3" rx="3.6" ry="3.4" fill="none" stroke="#8c7cba" stroke-width="2.0" opacity="0.80"/><ellipse cx="1165.5" cy="935.3" rx="1.8" ry="1.6" fill="#b8b0d4" opacity="0.60"/><ellipse cx="1167.3" cy="922.7" rx="3.6" ry="3.4" fill="none" stroke="#a07ca8" stroke-width="2.0" opacity="0.80"/><ellipse cx="1167.3" cy="922.7" rx="1.8" ry="1.6" fill="#b8b0d4" opacity="0.60"/><ellipse cx="1032.5" cy="787.1" rx="3.6" ry="3.4" fill="none" stroke="#9478ac" stroke-width="2.0" opacity="0.80"/><ellipse cx="1032.5" cy="787.1" rx="1.8" ry="1.6" fill="#b8b0d4" opacity="0.60"/><ellipse cx="987.9" cy="927.5" rx="3.6" ry="3.4" fill="none" stroke="#9478ac" stroke-width="2.0" opacity="0.80"/><ellipse cx="987.9" cy="927.5" rx="1.8" ry="1.6" fill="#b8b0d4" opacity="0.60"/><ellipse cx="1056.8" cy="770.0" rx="3.6" ry="3.4" fill="none" stroke="#7470c0" stroke-width="2.0" opacity="0.80"/><ellipse cx="1056.8" cy="770.0" rx="1.8" ry="1.6" fill="#b8b0d4" opacity="0.60"/><ellipse cx="1194.4" cy="813.9" rx="3.6" ry="3.4" fill="none" stroke="#a07ca8" stroke-width="2.0" opacity="0.80"/><ellipse cx="1194.4" cy="813.9" rx="1.8" ry="1.6" fill="#b8b0d4" opacity="0.60"/><ellipse cx="1001.0" cy="807.6" rx="3.6" ry="3.4" fill="none" stroke="#8478bc" stroke-width="2.0" opacity="0.80"/><ellipse cx="1001.0" cy="807.6" rx="1.8" ry="1.6" fill="#b8b0d4" opacity="0.60"/><ellipse cx="970.9" cy="877.5" rx="3.6" ry="3.4" fill="none" stroke="#8478bc" stroke-width="2.0" opacity="0.80"/><ellipse cx="970.9" cy="877.5" rx="1.8" ry="1.6" fill="#b8b0d4" opacity="0.60"/><ellipse cx="1023.7" cy="832.3" rx="3.6" ry="3.4" fill="none" stroke="#7470c0" stroke-width="2.0" opacity="0.80"/><ellipse cx="1023.7" cy="832.3" rx="1.8" ry="1.6" fill="#b8b0d4" opacity="0.60"/><ellipse cx="1108.6" cy="795.6" rx="3.6" ry="3.4" fill="none" stroke="#8070b8" stroke-width="2.0" opacity="0.80"/><ellipse cx="1108.6" cy="795.6" rx="1.8" ry="1.6" fill="#b8b0d4" opacity="0.60"/><ellipse cx="1037.3" cy="844.3" rx="3.6" ry="3.4" fill="none" stroke="#8070b8" stroke-width="2.0" opacity="0.80"/><ellipse cx="1037.3" cy="844.3" rx="1.8" ry="1.6" fill="#b8b0d4" opacity="0.60"/><ellipse cx="1024.2" cy="788.6" rx="3.6" ry="3.4" fill="none" stroke="#7470c0" stroke-width="2.0" opacity="0.80"/><ellipse cx="1024.2" cy="788.6" rx="1.8" ry="1.6" fill="#b8b0d4" opacity="0.60"/><ellipse cx="998.8" cy="819.2" rx="3.6" ry="3.4" fill="none" stroke="#8c7cba" stroke-width="2.0" opacity="0.80"/><ellipse cx="998.8" cy="819.2" rx="1.8" ry="1.6" fill="#b8b0d4" opacity="0.60"/><ellipse cx="1158.5" cy="798.3" rx="3.6" ry="3.4" fill="none" stroke="#7470c0" stroke-width="2.0" opacity="0.80"/><ellipse cx="1158.5" cy="798.3" rx="1.8" ry="1.6" fill="#b8b0d4" opacity="0.60"/><ellipse cx="1109.6" cy="764.6" rx="3.6" ry="3.4" fill="none" stroke="#8070b8" stroke-width="2.0" opacity="0.80"/><ellipse cx="1109.6" cy="764.6" rx="1.8" ry="1.6" fill="#b8b0d4" opacity="0.60"/><ellipse cx="1068.8" cy="780.2" rx="3.6" ry="3.4" fill="none" stroke="#8478bc" stroke-width="2.0" opacity="0.80"/><ellipse cx="1068.8" cy="780.2" rx="1.8" ry="1.6" fill="#b8b0d4" opacity="0.60"/><ellipse cx="1044.9" cy="915.6" rx="3.6" ry="3.4" fill="none" stroke="#9478ac" stroke-width="2.0" opacity="0.80"/><ellipse cx="1044.9" cy="915.6" rx="1.8" ry="1.6" fill="#b8b0d4" opacity="0.60"/><ellipse cx="1104.4" cy="767.1" rx="3.6" ry="3.4" fill="none" stroke="#9478ac" stroke-width="2.0" opacity="0.80"/><ellipse cx="1104.4" cy="767.1" rx="1.8" ry="1.6" fill="#b8b0d4" opacity="0.60"/><ellipse cx="983.9" cy="846.4" rx="3.6" ry="3.4" fill="none" stroke="#8478bc" stroke-width="2.0" opacity="0.80"/><ellipse cx="983.9" cy="846.4" rx="1.8" ry="1.6" fill="#b8b0d4" opacity="0.60"/><ellipse cx="963.5" cy="933.3" rx="3.6" ry="3.4" fill="none" stroke="#8478bc" stroke-width="2.0" opacity="0.80"/><ellipse cx="963.5" cy="933.3" rx="1.8" ry="1.6" fill="#b8b0d4" opacity="0.60"/><ellipse cx="1152.4" cy="812.8" rx="3.6" ry="3.4" fill="none" stroke="#8478bc" stroke-width="2.0" opacity="0.80"/><ellipse cx="1152.4" cy="812.8" rx="1.8" ry="1.6" fill="#b8b0d4" opacity="0.60"/><ellipse cx="998.2" cy="804.2" rx="3.6" ry="3.4" fill="none" stroke="#7470c0" stroke-width="2.0" opacity="0.80"/><ellipse cx="998.2" cy="804.2" rx="1.8" ry="1.6" fill="#b8b0d4" opacity="0.60"/><ellipse cx="1004.7" cy="866.9" rx="3.6" ry="3.4" fill="none" stroke="#a07ca8" stroke-width="2.0" opacity="0.80"/><ellipse cx="1004.7" cy="866.9" rx="1.8" ry="1.6" fill="#b8b0d4" opacity="0.60"/><ellipse cx="1008.8" cy="879.9" rx="3.6" ry="3.4" fill="none" stroke="#7470c0" stroke-width="2.0" opacity="0.80"/><ellipse cx="1008.8" cy="879.9" rx="1.8" ry="1.6" fill="#b8b0d4" opacity="0.60"/><ellipse cx="968.5" cy="926.6" rx="3.6" ry="3.4" fill="none" stroke="#7470c0" stroke-width="2.0" opacity="0.80"/><ellipse cx="968.5" cy="926.6" rx="1.8" ry="1.6" fill="#b8b0d4" opacity="0.60"/><ellipse cx="1061.3" cy="856.1" rx="3.6" ry="3.4" fill="none" stroke="#9478ac" stroke-width="2.0" opacity="0.80"/><ellipse cx="1061.3" cy="856.1" rx="1.8" ry="1.6" fill="#b8b0d4" opacity="0.60"/><ellipse cx="1121.0" cy="802.5" rx="3.6" ry="3.4" fill="none" stroke="#8070b8" stroke-width="2.0" opacity="0.80"/><ellipse cx="1121.0" cy="802.5" rx="1.8" ry="1.6" fill="#b8b0d4" opacity="0.60"/><ellipse cx="1113.2" cy="795.8" rx="3.6" ry="3.4" fill="none" stroke="#8c7cba" stroke-width="2.0" opacity="0.80"/><ellipse cx="1113.2" cy="795.8" rx="1.8" ry="1.6" fill="#b8b0d4" opacity="0.60"/><ellipse cx="972.8" cy="818.4" rx="3.6" ry="3.4" fill="none" stroke="#8070b8" stroke-width="2.0" opacity="0.80"/><ellipse cx="972.8" cy="818.4" rx="1.8" ry="1.6" fill="#b8b0d4" opacity="0.60"/><ellipse cx="1193.1" cy="942.7" rx="3.6" ry="3.4" fill="none" stroke="#8c7cba" stroke-width="2.0" opacity="0.80"/><ellipse cx="1193.1" cy="942.7" rx="1.8" ry="1.6" fill="#b8b0d4" opacity="0.60"/><ellipse cx="1160.7" cy="882.3" rx="3.6" ry="3.4" fill="none" stroke="#8070b8" stroke-width="2.0" opacity="0.80"/><ellipse cx="1160.7" cy="882.3" rx="1.8" ry="1.6" fill="#b8b0d4" opacity="0.60"/><ellipse cx="1066.2" cy="850.3" rx="3.6" ry="3.4" fill="none" stroke="#8c7cba" stroke-width="2.0" opacity="0.80"/><ellipse cx="1066.2" cy="850.3" rx="1.8" ry="1.6" fill="#b8b0d4" opacity="0.60"/><ellipse cx="1110.0" cy="867.4" rx="3.6" ry="3.4" fill="none" stroke="#a07ca8" stroke-width="2.0" opacity="0.80"/><ellipse cx="1110.0" cy="867.4" rx="1.8" ry="1.6" fill="#b8b0d4" opacity="0.60"/><ellipse cx="1089.0" cy="918.4" rx="3.6" ry="3.4" fill="none" stroke="#7470c0" stroke-width="2.0" opacity="0.80"/><ellipse cx="1089.0" cy="918.4" rx="1.8" ry="1.6" fill="#b8b0d4" opacity="0.60"/><ellipse cx="967.3" cy="877.7" rx="3.6" ry="3.4" fill="none" stroke="#7470c0" stroke-width="2.0" opacity="0.80"/><ellipse cx="967.3" cy="877.7" rx="1.8" ry="1.6" fill="#b8b0d4" opacity="0.60"/><ellipse cx="999.7" cy="841.8" rx="3.6" ry="3.4" fill="none" stroke="#8478bc" stroke-width="2.0" opacity="0.80"/><ellipse cx="999.7" cy="841.8" rx="1.8" ry="1.6" fill="#b8b0d4" opacity="0.60"/><ellipse cx="1093.0" cy="951.4" rx="3.6" ry="3.4" fill="none" stroke="#8070b8" stroke-width="2.0" opacity="0.80"/><ellipse cx="1093.0" cy="951.4" rx="1.8" ry="1.6" fill="#b8b0d4" opacity="0.60"/><ellipse cx="1034.0" cy="826.3" rx="3.6" ry="3.4" fill="none" stroke="#8070b8" stroke-width="2.0" opacity="0.80"/><ellipse cx="1034.0" cy="826.3" rx="1.8" ry="1.6" fill="#b8b0d4" opacity="0.60"/><ellipse cx="1042.8" cy="951.4" rx="3.6" ry="3.4" fill="none" stroke="#a07ca8" stroke-width="2.0" opacity="0.80"/><ellipse cx="1042.8" cy="951.4" rx="1.8" ry="1.6" fill="#b8b0d4" opacity="0.60"/><ellipse cx="986.9" cy="865.7" rx="3.6" ry="3.4" fill="none" stroke="#8478bc" stroke-width="2.0" opacity="0.80"/><ellipse cx="986.9" cy="865.7" rx="1.8" ry="1.6" fill="#b8b0d4" opacity="0.60"/><ellipse cx="1125.7" cy="822.2" rx="3.6" ry="3.4" fill="none" stroke="#8c7cba" stroke-width="2.0" opacity="0.80"/><ellipse cx="1125.7" cy="822.2" rx="1.8" ry="1.6" fill="#b8b0d4" opacity="0.60"/><ellipse cx="1117.9" cy="758.2" rx="3.6" ry="3.4" fill="none" stroke="#a07ca8" stroke-width="2.0" opacity="0.80"/><ellipse cx="1117.9" cy="758.2" rx="1.8" ry="1.6" fill="#b8b0d4" opacity="0.60"/><ellipse cx="984.9" cy="832.3" rx="3.6" ry="3.4" fill="none" stroke="#8070b8" stroke-width="2.0" opacity="0.80"/><ellipse cx="984.9" cy="832.3" rx="1.8" ry="1.6" fill="#b8b0d4" opacity="0.60"/><ellipse cx="1095.6" cy="828.4" rx="3.6" ry="3.4" fill="none" stroke="#a07ca8" stroke-width="2.0" opacity="0.80"/><ellipse cx="1095.6" cy="828.4" rx="1.8" ry="1.6" fill="#b8b0d4" opacity="0.60"/><ellipse cx="1166.1" cy="829.4" rx="3.6" ry="3.4" fill="none" stroke="#8478bc" stroke-width="2.0" opacity="0.80"/><ellipse cx="1166.1" cy="829.4" rx="1.8" ry="1.6" fill="#b8b0d4" opacity="0.60"/><ellipse cx="1187.1" cy="957.1" rx="3.6" ry="3.4" fill="none" stroke="#7470c0" stroke-width="2.0" opacity="0.80"/><ellipse cx="1187.1" cy="957.1" rx="1.8" ry="1.6" fill="#b8b0d4" opacity="0.60"/><ellipse cx="995.2" cy="805.0" rx="3.6" ry="3.4" fill="none" stroke="#8478bc" stroke-width="2.0" opacity="0.80"/><ellipse cx="995.2" cy="805.0" rx="1.8" ry="1.6" fill="#b8b0d4" opacity="0.60"/><ellipse cx="1187.2" cy="827.4" rx="3.6" ry="3.4" fill="none" stroke="#7470c0" stroke-width="2.0" opacity="0.80"/><ellipse cx="1187.2" cy="827.4" rx="1.8" ry="1.6" fill="#b8b0d4" opacity="0.60"/><ellipse cx="1107.5" cy="875.1" rx="3.6" ry="3.4" fill="none" stroke="#8070b8" stroke-width="2.0" opacity="0.80"/><ellipse cx="1107.5" cy="875.1" rx="1.8" ry="1.6" fill="#b8b0d4" opacity="0.60"/><ellipse cx="1124.8" cy="810.8" rx="3.6" ry="3.4" fill="none" stroke="#7470c0" stroke-width="2.0" opacity="0.80"/><ellipse cx="1124.8" cy="810.8" rx="1.8" ry="1.6" fill="#b8b0d4" opacity="0.60"/><ellipse cx="1062.1" cy="776.9" rx="3.6" ry="3.4" fill="none" stroke="#a07ca8" stroke-width="2.0" opacity="0.80"/><ellipse cx="1062.1" cy="776.9" rx="1.8" ry="1.6" fill="#b8b0d4" opacity="0.60"/><ellipse cx="1179.3" cy="927.4" rx="3.6" ry="3.4" fill="none" stroke="#7470c0" stroke-width="2.0" opacity="0.80"/><ellipse cx="1179.3" cy="927.4" rx="1.8" ry="1.6" fill="#b8b0d4" opacity="0.60"/><ellipse cx="1199.7" cy="889.4" rx="3.6" ry="3.4" fill="none" stroke="#8478bc" stroke-width="2.0" opacity="0.80"/><ellipse cx="1199.7" cy="889.4" rx="1.8" ry="1.6" fill="#b8b0d4" opacity="0.60"/><ellipse cx="1096.4" cy="862.7" rx="3.6" ry="3.4" fill="none" stroke="#8c7cba" stroke-width="2.0" opacity="0.80"/><ellipse cx="1096.4" cy="862.7" rx="1.8" ry="1.6" fill="#b8b0d4" opacity="0.60"/><ellipse cx="1022.7" cy="860.3" rx="3.6" ry="3.4" fill="none" stroke="#8c7cba" stroke-width="2.0" opacity="0.80"/><ellipse cx="1022.7" cy="860.3" rx="1.8" ry="1.6" fill="#b8b0d4" opacity="0.60"/><ellipse cx="1027.2" cy="841.4" rx="3.6" ry="3.4" fill="none" stroke="#9478ac" stroke-width="2.0" opacity="0.80"/><ellipse cx="1027.2" cy="841.4" rx="1.8" ry="1.6" fill="#b8b0d4" opacity="0.60"/><ellipse cx="984.9" cy="953.4" rx="3.6" ry="3.4" fill="none" stroke="#8478bc" stroke-width="2.0" opacity="0.80"/><ellipse cx="984.9" cy="953.4" rx="1.8" ry="1.6" fill="#b8b0d4" opacity="0.60"/><ellipse cx="1181.6" cy="798.0" rx="3.6" ry="3.4" fill="none" stroke="#a07ca8" stroke-width="2.0" opacity="0.80"/><ellipse cx="1181.6" cy="798.0" rx="1.8" ry="1.6" fill="#b8b0d4" opacity="0.60"/><ellipse cx="978.5" cy="935.5" rx="3.6" ry="3.4" fill="none" stroke="#8c7cba" stroke-width="2.0" opacity="0.80"/><ellipse cx="978.5" cy="935.5" rx="1.8" ry="1.6" fill="#b8b0d4" opacity="0.60"/><ellipse cx="1153.0" cy="958.5" rx="3.6" ry="3.4" fill="none" stroke="#8c7cba" stroke-width="2.0" opacity="0.80"/><ellipse cx="1153.0" cy="958.5" rx="1.8" ry="1.6" fill="#b8b0d4" opacity="0.60"/><ellipse cx="1073.3" cy="917.0" rx="3.6" ry="3.4" fill="none" stroke="#7470c0" stroke-width="2.0" opacity="0.80"/><ellipse cx="1073.3" cy="917.0" rx="1.8" ry="1.6" fill="#b8b0d4" opacity="0.60"/><ellipse cx="1099.7" cy="776.9" rx="3.6" ry="3.4" fill="none" stroke="#a07ca8" stroke-width="2.0" opacity="0.80"/><ellipse cx="1099.7" cy="776.9" rx="1.8" ry="1.6" fill="#b8b0d4" opacity="0.60"/><ellipse cx="1189.1" cy="824.7" rx="3.6" ry="3.4" fill="none" stroke="#a07ca8" stroke-width="2.0" opacity="0.80"/><ellipse cx="1189.1" cy="824.7" rx="1.8" ry="1.6" fill="#b8b0d4" opacity="0.60"/><ellipse cx="1093.4" cy="758.2" rx="3.6" ry="3.4" fill="none" stroke="#8478bc" stroke-width="2.0" opacity="0.80"/><ellipse cx="1093.4" cy="758.2" rx="1.8" ry="1.6" fill="#b8b0d4" opacity="0.60"/><ellipse cx="1165.0" cy="902.7" rx="3.6" ry="3.4" fill="none" stroke="#8478bc" stroke-width="2.0" opacity="0.80"/><ellipse cx="1165.0" cy="902.7" rx="1.8" ry="1.6" fill="#b8b0d4" opacity="0.60"/><ellipse cx="1072.7" cy="885.5" rx="3.6" ry="3.4" fill="none" stroke="#9478ac" stroke-width="2.0" opacity="0.80"/><ellipse cx="1072.7" cy="885.5" rx="1.8" ry="1.6" fill="#b8b0d4" opacity="0.60"/><ellipse cx="1083.8" cy="901.4" rx="3.6" ry="3.4" fill="none" stroke="#8c7cba" stroke-width="2.0" opacity="0.80"/><ellipse cx="1083.8" cy="901.4" rx="1.8" ry="1.6" fill="#b8b0d4" opacity="0.60"/><ellipse cx="1140.5" cy="877.9" rx="3.6" ry="3.4" fill="none" stroke="#8c7cba" stroke-width="2.0" opacity="0.80"/><ellipse cx="1140.5" cy="877.9" rx="1.8" ry="1.6" fill="#b8b0d4" opacity="0.60"/><ellipse cx="1203.4" cy="840.8" rx="3.6" ry="3.4" fill="none" stroke="#8c7cba" stroke-width="2.0" opacity="0.80"/><ellipse cx="1203.4" cy="840.8" rx="1.8" ry="1.6" fill="#b8b0d4" opacity="0.60"/><ellipse cx="1199.7" cy="943.3" rx="3.6" ry="3.4" fill="none" stroke="#8070b8" stroke-width="2.0" opacity="0.80"/><ellipse cx="1199.7" cy="943.3" rx="1.8" ry="1.6" fill="#b8b0d4" opacity="0.60"/><ellipse cx="1074.3" cy="925.9" rx="3.6" ry="3.4" fill="none" stroke="#8478bc" stroke-width="2.0" opacity="0.80"/><ellipse cx="1074.3" cy="925.9" rx="1.8" ry="1.6" fill="#b8b0d4" opacity="0.60"/><ellipse cx="1150.8" cy="902.3" rx="3.6" ry="3.4" fill="none" stroke="#8478bc" stroke-width="2.0" opacity="0.80"/><ellipse cx="1150.8" cy="902.3" rx="1.8" ry="1.6" fill="#b8b0d4" opacity="0.60"/><ellipse cx="1036.1" cy="881.7" rx="3.6" ry="3.4" fill="none" stroke="#a07ca8" stroke-width="2.0" opacity="0.80"/><ellipse cx="1036.1" cy="881.7" rx="1.8" ry="1.6" fill="#b8b0d4" opacity="0.60"/><ellipse cx="1023.3" cy="832.8" rx="3.6" ry="3.4" fill="none" stroke="#7470c0" stroke-width="2.0" opacity="0.80"/><ellipse cx="1023.3" cy="832.8" rx="1.8" ry="1.6" fill="#b8b0d4" opacity="0.60"/><ellipse cx="1191.9" cy="854.9" rx="3.6" ry="3.4" fill="none" stroke="#8c7cba" stroke-width="2.0" opacity="0.80"/><ellipse cx="1191.9" cy="854.9" rx="1.8" ry="1.6" fill="#b8b0d4" opacity="0.60"/><ellipse cx="1031.9" cy="823.3" rx="3.6" ry="3.4" fill="none" stroke="#8c7cba" stroke-width="2.0" opacity="0.80"/><ellipse cx="1031.9" cy="823.3" rx="1.8" ry="1.6" fill="#b8b0d4" opacity="0.60"/><ellipse cx="1131.5" cy="756.4" rx="3.6" ry="3.4" fill="none" stroke="#7470c0" stroke-width="2.0" opacity="0.80"/><ellipse cx="1131.5" cy="756.4" rx="1.8" ry="1.6" fill="#b8b0d4" opacity="0.60"/><ellipse cx="1103.3" cy="828.5" rx="3.6" ry="3.4" fill="none" stroke="#8c7cba" stroke-width="2.0" opacity="0.80"/><ellipse cx="1103.3" cy="828.5" rx="1.8" ry="1.6" fill="#b8b0d4" opacity="0.60"/><ellipse cx="1125.3" cy="951.6" rx="3.6" ry="3.4" fill="none" stroke="#7470c0" stroke-width="2.0" opacity="0.80"/><ellipse cx="1125.3" cy="951.6" rx="1.8" ry="1.6" fill="#b8b0d4" opacity="0.60"/><ellipse cx="1005.7" cy="803.4" rx="3.6" ry="3.4" fill="none" stroke="#8478bc" stroke-width="2.0" opacity="0.80"/><ellipse cx="1005.7" cy="803.4" rx="1.8" ry="1.6" fill="#b8b0d4" opacity="0.60"/><ellipse cx="1057.5" cy="836.8" rx="3.6" ry="3.4" fill="none" stroke="#7470c0" stroke-width="2.0" opacity="0.80"/><ellipse cx="1057.5" cy="836.8" rx="1.8" ry="1.6" fill="#b8b0d4" opacity="0.60"/><ellipse cx="1196.7" cy="813.8" rx="3.6" ry="3.4" fill="none" stroke="#8478bc" stroke-width="2.0" opacity="0.80"/><ellipse cx="1196.7" cy="813.8" rx="1.8" ry="1.6" fill="#b8b0d4" opacity="0.60"/><ellipse cx="1098.5" cy="912.4" rx="3.6" ry="3.4" fill="none" stroke="#8478bc" stroke-width="2.0" opacity="0.80"/><ellipse cx="1098.5" cy="912.4" rx="1.8" ry="1.6" fill="#b8b0d4" opacity="0.60"/><ellipse cx="1134.2" cy="798.7" rx="3.6" ry="3.4" fill="none" stroke="#a07ca8" stroke-width="2.0" opacity="0.80"/><ellipse cx="1134.2" cy="798.7" rx="1.8" ry="1.6" fill="#b8b0d4" opacity="0.60"/><ellipse cx="1176.9" cy="900.1" rx="3.6" ry="3.4" fill="none" stroke="#8478bc" stroke-width="2.0" opacity="0.80"/><ellipse cx="1176.9" cy="900.1" rx="1.8" ry="1.6" fill="#b8b0d4" opacity="0.60"/><ellipse cx="1001.3" cy="931.7" rx="3.6" ry="3.4" fill="none" stroke="#7470c0" stroke-width="2.0" opacity="0.80"/><ellipse cx="1001.3" cy="931.7" rx="1.8" ry="1.6" fill="#b8b0d4" opacity="0.60"/><ellipse cx="1024.9" cy="832.8" rx="3.6" ry="3.4" fill="none" stroke="#9478ac" stroke-width="2.0" opacity="0.80"/><ellipse cx="1024.9" cy="832.8" rx="1.8" ry="1.6" fill="#b8b0d4" opacity="0.60"/><ellipse cx="1001.8" cy="805.7" rx="3.6" ry="3.4" fill="none" stroke="#8c7cba" stroke-width="2.0" opacity="0.80"/><ellipse cx="1001.8" cy="805.7" rx="1.8" ry="1.6" fill="#b8b0d4" opacity="0.60"/><ellipse cx="963.8" cy="865.2" rx="3.6" ry="3.4" fill="none" stroke="#9478ac" stroke-width="2.0" opacity="0.80"/><ellipse cx="963.8" cy="865.2" rx="1.8" ry="1.6" fill="#b8b0d4" opacity="0.60"/><ellipse cx="1030.2" cy="927.0" rx="3.6" ry="3.4" fill="none" stroke="#a07ca8" stroke-width="2.0" opacity="0.80"/><ellipse cx="1030.2" cy="927.0" rx="1.8" ry="1.6" fill="#b8b0d4" opacity="0.60"/><ellipse cx="1040.2" cy="883.1" rx="3.6" ry="3.4" fill="none" stroke="#7470c0" stroke-width="2.0" opacity="0.80"/><ellipse cx="1040.2" cy="883.1" rx="1.8" ry="1.6" fill="#b8b0d4" opacity="0.60"/><ellipse cx="1101.0" cy="895.6" rx="3.6" ry="3.4" fill="none" stroke="#8478bc" stroke-width="2.0" opacity="0.80"/><ellipse cx="1101.0" cy="895.6" rx="1.8" ry="1.6" fill="#b8b0d4" opacity="0.60"/><ellipse cx="1085.5" cy="866.9" rx="3.6" ry="3.4" fill="none" stroke="#8070b8" stroke-width="2.0" opacity="0.80"/><ellipse cx="1085.5" cy="866.9" rx="1.8" ry="1.6" fill="#b8b0d4" opacity="0.60"/><ellipse cx="999.8" cy="951.8" rx="3.6" ry="3.4" fill="none" stroke="#8c7cba" stroke-width="2.0" opacity="0.80"/><ellipse cx="999.8" cy="951.8" rx="1.8" ry="1.6" fill="#b8b0d4" opacity="0.60"/><ellipse cx="1084.7" cy="917.3" rx="3.6" ry="3.4" fill="none" stroke="#9478ac" stroke-width="2.0" opacity="0.80"/><ellipse cx="1084.7" cy="917.3" rx="1.8" ry="1.6" fill="#b8b0d4" opacity="0.60"/><ellipse cx="1203.4" cy="913.0" rx="3.6" ry="3.4" fill="none" stroke="#8070b8" stroke-width="2.0" opacity="0.80"/><ellipse cx="1203.4" cy="913.0" rx="1.8" ry="1.6" fill="#b8b0d4" opacity="0.60"/><ellipse cx="1039.7" cy="956.1" rx="3.6" ry="3.4" fill="none" stroke="#a07ca8" stroke-width="2.0" opacity="0.80"/><ellipse cx="1039.7" cy="956.1" rx="1.8" ry="1.6" fill="#b8b0d4" opacity="0.60"/><ellipse cx="978.1" cy="797.0" rx="3.6" ry="3.4" fill="none" stroke="#a07ca8" stroke-width="2.0" opacity="0.80"/><ellipse cx="978.1" cy="797.0" rx="1.8" ry="1.6" fill="#b8b0d4" opacity="0.60"/><ellipse cx="1148.0" cy="917.5" rx="3.6" ry="3.4" fill="none" stroke="#9478ac" stroke-width="2.0" opacity="0.80"/><ellipse cx="1148.0" cy="917.5" rx="1.8" ry="1.6" fill="#b8b0d4" opacity="0.60"/><ellipse cx="1000.6" cy="801.3" rx="3.6" ry="3.4" fill="none" stroke="#9478ac" stroke-width="2.0" opacity="0.80"/><ellipse cx="1000.6" cy="801.3" rx="1.8" ry="1.6" fill="#b8b0d4" opacity="0.60"/><ellipse cx="1197.0" cy="798.3" rx="3.6" ry="3.4" fill="none" stroke="#8478bc" stroke-width="2.0" opacity="0.80"/><ellipse cx="1197.0" cy="798.3" rx="1.8" ry="1.6" fill="#b8b0d4" opacity="0.60"/><ellipse cx="1007.5" cy="902.8" rx="3.6" ry="3.4" fill="none" stroke="#8478bc" stroke-width="2.0" opacity="0.80"/><ellipse cx="1007.5" cy="902.8" rx="1.8" ry="1.6" fill="#b8b0d4" opacity="0.60"/><ellipse cx="1116.6" cy="829.9" rx="3.6" ry="3.4" fill="none" stroke="#a07ca8" stroke-width="2.0" opacity="0.80"/><ellipse cx="1116.6" cy="829.9" rx="1.8" ry="1.6" fill="#b8b0d4" opacity="0.60"/><ellipse cx="1201.1" cy="842.1" rx="3.6" ry="3.4" fill="none" stroke="#8070b8" stroke-width="2.0" opacity="0.80"/><ellipse cx="1201.1" cy="842.1" rx="1.8" ry="1.6" fill="#b8b0d4" opacity="0.60"/><ellipse cx="964.0" cy="788.2" rx="3.6" ry="3.4" fill="none" stroke="#8070b8" stroke-width="2.0" opacity="0.80"/><ellipse cx="964.0" cy="788.2" rx="1.8" ry="1.6" fill="#b8b0d4" opacity="0.60"/><ellipse cx="1205.2" cy="840.2" rx="3.6" ry="3.4" fill="none" stroke="#a07ca8" stroke-width="2.0" opacity="0.80"/><ellipse cx="1205.2" cy="840.2" rx="1.8" ry="1.6" fill="#b8b0d4" opacity="0.60"/><ellipse cx="1068.6" cy="808.2" rx="3.6" ry="3.4" fill="none" stroke="#8c7cba" stroke-width="2.0" opacity="0.80"/><ellipse cx="1068.6" cy="808.2" rx="1.8" ry="1.6" fill="#b8b0d4" opacity="0.60"/><ellipse cx="1114.7" cy="780.0" rx="3.6" ry="3.4" fill="none" stroke="#8070b8" stroke-width="2.0" opacity="0.80"/><ellipse cx="1114.7" cy="780.0" rx="1.8" ry="1.6" fill="#b8b0d4" opacity="0.60"/><ellipse cx="1053.9" cy="927.6" rx="3.6" ry="3.4" fill="none" stroke="#9478ac" stroke-width="2.0" opacity="0.80"/><ellipse cx="1053.9" cy="927.6" rx="1.8" ry="1.6" fill="#b8b0d4" opacity="0.60"/><ellipse cx="1204.9" cy="847.7" rx="3.6" ry="3.4" fill="none" stroke="#9478ac" stroke-width="2.0" opacity="0.80"/><ellipse cx="1204.9" cy="847.7" rx="1.8" ry="1.6" fill="#b8b0d4" opacity="0.60"/><ellipse cx="1130.3" cy="852.6" rx="3.6" ry="3.4" fill="none" stroke="#8070b8" stroke-width="2.0" opacity="0.80"/><ellipse cx="1130.3" cy="852.6" rx="1.8" ry="1.6" fill="#b8b0d4" opacity="0.60"/><ellipse cx="1035.7" cy="844.0" rx="3.6" ry="3.4" fill="none" stroke="#9478ac" stroke-width="2.0" opacity="0.80"/><ellipse cx="1035.7" cy="844.0" rx="1.8" ry="1.6" fill="#b8b0d4" opacity="0.60"/><ellipse cx="1152.9" cy="851.9" rx="3.6" ry="3.4" fill="none" stroke="#a07ca8" stroke-width="2.0" opacity="0.80"/><ellipse cx="1152.9" cy="851.9" rx="1.8" ry="1.6" fill="#b8b0d4" opacity="0.60"/><ellipse cx="1073.5" cy="775.3" rx="3.6" ry="3.4" fill="none" stroke="#9478ac" stroke-width="2.0" opacity="0.80"/><ellipse cx="1073.5" cy="775.3" rx="1.8" ry="1.6" fill="#b8b0d4" opacity="0.60"/><ellipse cx="965.1" cy="841.8" rx="3.6" ry="3.4" fill="none" stroke="#7470c0" stroke-width="2.0" opacity="0.80"/><ellipse cx="965.1" cy="841.8" rx="1.8" ry="1.6" fill="#b8b0d4" opacity="0.60"/><ellipse cx="1165.0" cy="903.7" rx="3.6" ry="3.4" fill="none" stroke="#8c7cba" stroke-width="2.0" opacity="0.80"/><ellipse cx="1165.0" cy="903.7" rx="1.8" ry="1.6" fill="#b8b0d4" opacity="0.60"/><ellipse cx="1177.1" cy="775.4" rx="3.6" ry="3.4" fill="none" stroke="#8070b8" stroke-width="2.0" opacity="0.80"/><ellipse cx="1177.1" cy="775.4" rx="1.8" ry="1.6" fill="#b8b0d4" opacity="0.60"/><ellipse cx="1067.4" cy="864.0" rx="3.6" ry="3.4" fill="none" stroke="#8478bc" stroke-width="2.0" opacity="0.80"/><ellipse cx="1067.4" cy="864.0" rx="1.8" ry="1.6" fill="#b8b0d4" opacity="0.60"/><ellipse cx="989.9" cy="874.0" rx="3.6" ry="3.4" fill="none" stroke="#8c7cba" stroke-width="2.0" opacity="0.80"/><ellipse cx="989.9" cy="874.0" rx="1.8" ry="1.6" fill="#b8b0d4" opacity="0.60"/><ellipse cx="995.1" cy="796.3" rx="3.6" ry="3.4" fill="none" stroke="#7470c0" stroke-width="2.0" opacity="0.80"/><ellipse cx="995.1" cy="796.3" rx="1.8" ry="1.6" fill="#b8b0d4" opacity="0.60"/><ellipse cx="967.2" cy="898.7" rx="3.6" ry="3.4" fill="none" stroke="#8478bc" stroke-width="2.0" opacity="0.80"/><ellipse cx="967.2" cy="898.7" rx="1.8" ry="1.6" fill="#b8b0d4" opacity="0.60"/><ellipse cx="1196.8" cy="911.7" rx="3.6" ry="3.4" fill="none" stroke="#8478bc" stroke-width="2.0" opacity="0.80"/><ellipse cx="1196.8" cy="911.7" rx="1.8" ry="1.6" fill="#b8b0d4" opacity="0.60"/><ellipse cx="1009.4" cy="948.1" rx="3.6" ry="3.4" fill="none" stroke="#8c7cba" stroke-width="2.0" opacity="0.80"/><ellipse cx="1009.4" cy="948.1" rx="1.8" ry="1.6" fill="#b8b0d4" opacity="0.60"/><ellipse cx="1014.5" cy="908.8" rx="3.6" ry="3.4" fill="none" stroke="#8c7cba" stroke-width="2.0" opacity="0.80"/><ellipse cx="1014.5" cy="908.8" rx="1.8" ry="1.6" fill="#b8b0d4" opacity="0.60"/><ellipse cx="1075.2" cy="850.3" rx="3.6" ry="3.4" fill="none" stroke="#7470c0" stroke-width="2.0" opacity="0.80"/><ellipse cx="1075.2" cy="850.3" rx="1.8" ry="1.6" fill="#b8b0d4" opacity="0.60"/><ellipse cx="1047.2" cy="939.8" rx="3.6" ry="3.4" fill="none" stroke="#8c7cba" stroke-width="2.0" opacity="0.80"/><ellipse cx="1047.2" cy="939.8" rx="1.8" ry="1.6" fill="#b8b0d4" opacity="0.60"/><ellipse cx="1033.8" cy="886.1" rx="3.6" ry="3.4" fill="none" stroke="#8478bc" stroke-width="2.0" opacity="0.80"/><ellipse cx="1033.8" cy="886.1" rx="1.8" ry="1.6" fill="#b8b0d4" opacity="0.60"/><ellipse cx="1003.3" cy="951.4" rx="3.6" ry="3.4" fill="none" stroke="#8c7cba" stroke-width="2.0" opacity="0.80"/><ellipse cx="1003.3" cy="951.4" rx="1.8" ry="1.6" fill="#b8b0d4" opacity="0.60"/><ellipse cx="1157.7" cy="834.2" rx="3.6" ry="3.4" fill="none" stroke="#7470c0" stroke-width="2.0" opacity="0.80"/><ellipse cx="1157.7" cy="834.2" rx="1.8" ry="1.6" fill="#b8b0d4" opacity="0.60"/><ellipse cx="1151.1" cy="926.6" rx="3.6" ry="3.4" fill="none" stroke="#7470c0" stroke-width="2.0" opacity="0.80"/><ellipse cx="1151.1" cy="926.6" rx="1.8" ry="1.6" fill="#b8b0d4" opacity="0.60"/><ellipse cx="1007.9" cy="892.6" rx="3.6" ry="3.4" fill="none" stroke="#7470c0" stroke-width="2.0" opacity="0.80"/><ellipse cx="1007.9" cy="892.6" rx="1.8" ry="1.6" fill="#b8b0d4" opacity="0.60"/><ellipse cx="1122.3" cy="916.0" rx="3.6" ry="3.4" fill="none" stroke="#9478ac" stroke-width="2.0" opacity="0.80"/><ellipse cx="1122.3" cy="916.0" rx="1.8" ry="1.6" fill="#b8b0d4" opacity="0.60"/><ellipse cx="1120.9" cy="752.8" rx="3.6" ry="3.4" fill="none" stroke="#8478bc" stroke-width="2.0" opacity="0.80"/><ellipse cx="1120.9" cy="752.8" rx="1.8" ry="1.6" fill="#b8b0d4" opacity="0.60"/><ellipse cx="1024.7" cy="877.4" rx="3.6" ry="3.4" fill="none" stroke="#7470c0" stroke-width="2.0" opacity="0.80"/><ellipse cx="1024.7" cy="877.4" rx="1.8" ry="1.6" fill="#b8b0d4" opacity="0.60"/><ellipse cx="988.7" cy="947.1" rx="3.6" ry="3.4" fill="none" stroke="#9478ac" stroke-width="2.0" opacity="0.80"/><ellipse cx="988.7" cy="947.1" rx="1.8" ry="1.6" fill="#b8b0d4" opacity="0.60"/><ellipse cx="1136.5" cy="944.8" rx="3.6" ry="3.4" fill="none" stroke="#a07ca8" stroke-width="2.0" opacity="0.80"/><ellipse cx="1136.5" cy="944.8" rx="1.8" ry="1.6" fill="#b8b0d4" opacity="0.60"/><ellipse cx="1185.7" cy="898.5" rx="3.6" ry="3.4" fill="none" stroke="#8c7cba" stroke-width="2.0" opacity="0.80"/><ellipse cx="1185.7" cy="898.5" rx="1.8" ry="1.6" fill="#b8b0d4" opacity="0.60"/><ellipse cx="1053.5" cy="826.9" rx="3.6" ry="3.4" fill="none" stroke="#7470c0" stroke-width="2.0" opacity="0.80"/><ellipse cx="1053.5" cy="826.9" rx="1.8" ry="1.6" fill="#b8b0d4" opacity="0.60"/><ellipse cx="1127.3" cy="952.4" rx="3.6" ry="3.4" fill="none" stroke="#a07ca8" stroke-width="2.0" opacity="0.80"/><ellipse cx="1127.3" cy="952.4" rx="1.8" ry="1.6" fill="#b8b0d4" opacity="0.60"/><ellipse cx="1181.1" cy="947.2" rx="3.6" ry="3.4" fill="none" stroke="#7470c0" stroke-width="2.0" opacity="0.80"/><ellipse cx="1181.1" cy="947.2" rx="1.8" ry="1.6" fill="#b8b0d4" opacity="0.60"/><ellipse cx="1057.8" cy="877.1" rx="3.6" ry="3.4" fill="none" stroke="#8c7cba" stroke-width="2.0" opacity="0.80"/><ellipse cx="1057.8" cy="877.1" rx="1.8" ry="1.6" fill="#b8b0d4" opacity="0.60"/><ellipse cx="1125.1" cy="926.1" rx="3.6" ry="3.4" fill="none" stroke="#8070b8" stroke-width="2.0" opacity="0.80"/><ellipse cx="1125.1" cy="926.1" rx="1.8" ry="1.6" fill="#b8b0d4" opacity="0.60"/><ellipse cx="981.6" cy="890.8" rx="3.6" ry="3.4" fill="none" stroke="#8478bc" stroke-width="2.0" opacity="0.80"/><ellipse cx="981.6" cy="890.8" rx="1.8" ry="1.6" fill="#b8b0d4" opacity="0.60"/><ellipse cx="1155.4" cy="893.5" rx="3.6" ry="3.4" fill="none" stroke="#8478bc" stroke-width="2.0" opacity="0.80"/><ellipse cx="1155.4" cy="893.5" rx="1.8" ry="1.6" fill="#b8b0d4" opacity="0.60"/><ellipse cx="1046.5" cy="931.8" rx="3.6" ry="3.4" fill="none" stroke="#8c7cba" stroke-width="2.0" opacity="0.80"/><ellipse cx="1046.5" cy="931.8" rx="1.8" ry="1.6" fill="#b8b0d4" opacity="0.60"/><ellipse cx="1172.3" cy="761.0" rx="3.6" ry="3.4" fill="none" stroke="#8c7cba" stroke-width="2.0" opacity="0.80"/><ellipse cx="1172.3" cy="761.0" rx="1.8" ry="1.6" fill="#b8b0d4" opacity="0.60"/><ellipse cx="1097.7" cy="919.3" rx="3.6" ry="3.4" fill="none" stroke="#9478ac" stroke-width="2.0" opacity="0.80"/><ellipse cx="1097.7" cy="919.3" rx="1.8" ry="1.6" fill="#b8b0d4" opacity="0.60"/><ellipse cx="1003.4" cy="887.2" rx="3.6" ry="3.4" fill="none" stroke="#7470c0" stroke-width="2.0" opacity="0.80"/><ellipse cx="1003.4" cy="887.2" rx="1.8" ry="1.6" fill="#b8b0d4" opacity="0.60"/><ellipse cx="1039.2" cy="829.3" rx="3.6" ry="3.4" fill="none" stroke="#9478ac" stroke-width="2.0" opacity="0.80"/><ellipse cx="1039.2" cy="829.3" rx="1.8" ry="1.6" fill="#b8b0d4" opacity="0.60"/><ellipse cx="1142.2" cy="787.5" rx="3.6" ry="3.4" fill="none" stroke="#a07ca8" stroke-width="2.0" opacity="0.80"/><ellipse cx="1142.2" cy="787.5" rx="1.8" ry="1.6" fill="#b8b0d4" opacity="0.60"/><ellipse cx="1104.0" cy="934.6" rx="3.6" ry="3.4" fill="none" stroke="#8478bc" stroke-width="2.0" opacity="0.80"/><ellipse cx="1104.0" cy="934.6" rx="1.8" ry="1.6" fill="#b8b0d4" opacity="0.60"/><ellipse cx="1122.9" cy="782.5" rx="3.6" ry="3.4" fill="none" stroke="#7470c0" stroke-width="2.0" opacity="0.80"/><ellipse cx="1122.9" cy="782.5" rx="1.8" ry="1.6" fill="#b8b0d4" opacity="0.60"/><ellipse cx="1203.8" cy="848.8" rx="3.6" ry="3.4" fill="none" stroke="#8478bc" stroke-width="2.0" opacity="0.80"/><ellipse cx="1203.8" cy="848.8" rx="1.8" ry="1.6" fill="#b8b0d4" opacity="0.60"/><ellipse cx="995.8" cy="887.2" rx="3.6" ry="3.4" fill="none" stroke="#8070b8" stroke-width="2.0" opacity="0.80"/><ellipse cx="995.8" cy="887.2" rx="1.8" ry="1.6" fill="#b8b0d4" opacity="0.60"/><ellipse cx="1025.6" cy="816.2" rx="3.6" ry="3.4" fill="none" stroke="#8c7cba" stroke-width="2.0" opacity="0.80"/><ellipse cx="1025.6" cy="816.2" rx="1.8" ry="1.6" fill="#b8b0d4" opacity="0.60"/><ellipse cx="977.6" cy="803.2" rx="3.6" ry="3.4" fill="none" stroke="#8478bc" stroke-width="2.0" opacity="0.80"/><ellipse cx="977.6" cy="803.2" rx="1.8" ry="1.6" fill="#b8b0d4" opacity="0.60"/><ellipse cx="1164.1" cy="767.4" rx="3.6" ry="3.4" fill="none" stroke="#8070b8" stroke-width="2.0" opacity="0.80"/><ellipse cx="1164.1" cy="767.4" rx="1.8" ry="1.6" fill="#b8b0d4" opacity="0.60"/><ellipse cx="1005.4" cy="884.3" rx="3.6" ry="3.4" fill="none" stroke="#a07ca8" stroke-width="2.0" opacity="0.80"/><ellipse cx="1005.4" cy="884.3" rx="1.8" ry="1.6" fill="#b8b0d4" opacity="0.60"/><ellipse cx="1009.5" cy="853.1" rx="3.6" ry="3.4" fill="none" stroke="#7470c0" stroke-width="2.0" opacity="0.80"/><ellipse cx="1009.5" cy="853.1" rx="1.8" ry="1.6" fill="#b8b0d4" opacity="0.60"/><ellipse cx="996.5" cy="879.8" rx="3.6" ry="3.4" fill="none" stroke="#8c7cba" stroke-width="2.0" opacity="0.80"/><ellipse cx="996.5" cy="879.8" rx="1.8" ry="1.6" fill="#b8b0d4" opacity="0.60"/><ellipse cx="1014.8" cy="840.1" rx="3.6" ry="3.4" fill="none" stroke="#8070b8" stroke-width="2.0" opacity="0.80"/><ellipse cx="1014.8" cy="840.1" rx="1.8" ry="1.6" fill="#b8b0d4" opacity="0.60"/><ellipse cx="1073.3" cy="837.6" rx="3.6" ry="3.4" fill="none" stroke="#8c7cba" stroke-width="2.0" opacity="0.80"/><ellipse cx="1073.3" cy="837.6" rx="1.8" ry="1.6" fill="#b8b0d4" opacity="0.60"/><ellipse cx="1071.5" cy="797.6" rx="3.6" ry="3.4" fill="none" stroke="#7470c0" stroke-width="2.0" opacity="0.80"/><ellipse cx="1071.5" cy="797.6" rx="1.8" ry="1.6" fill="#b8b0d4" opacity="0.60"/><ellipse cx="1089.2" cy="900.7" rx="3.6" ry="3.4" fill="none" stroke="#7470c0" stroke-width="2.0" opacity="0.80"/><ellipse cx="1089.2" cy="900.7" rx="1.8" ry="1.6" fill="#b8b0d4" opacity="0.60"/><ellipse cx="1200.0" cy="915.5" rx="3.6" ry="3.4" fill="none" stroke="#8c7cba" stroke-width="2.0" opacity="0.80"/><ellipse cx="1200.0" cy="915.5" rx="1.8" ry="1.6" fill="#b8b0d4" opacity="0.60"/><ellipse cx="986.9" cy="898.3" rx="3.6" ry="3.4" fill="none" stroke="#8478bc" stroke-width="2.0" opacity="0.80"/><ellipse cx="986.9" cy="898.3" rx="1.8" ry="1.6" fill="#b8b0d4" opacity="0.60"/><ellipse cx="1005.1" cy="958.6" rx="3.6" ry="3.4" fill="none" stroke="#7470c0" stroke-width="2.0" opacity="0.80"/><ellipse cx="1005.1" cy="958.6" rx="1.8" ry="1.6" fill="#b8b0d4" opacity="0.60"/><ellipse cx="1173.2" cy="842.1" rx="3.6" ry="3.4" fill="none" stroke="#8478bc" stroke-width="2.0" opacity="0.80"/><ellipse cx="1173.2" cy="842.1" rx="1.8" ry="1.6" fill="#b8b0d4" opacity="0.60"/><ellipse cx="983.6" cy="753.0" rx="3.6" ry="3.4" fill="none" stroke="#8478bc" stroke-width="2.0" opacity="0.80"/><ellipse cx="983.6" cy="753.0" rx="1.8" ry="1.6" fill="#b8b0d4" opacity="0.60"/><ellipse cx="992.5" cy="764.2" rx="3.6" ry="3.4" fill="none" stroke="#8478bc" stroke-width="2.0" opacity="0.80"/><ellipse cx="992.5" cy="764.2" rx="1.8" ry="1.6" fill="#b8b0d4" opacity="0.60"/><ellipse cx="1139.3" cy="944.1" rx="3.6" ry="3.4" fill="none" stroke="#7470c0" stroke-width="2.0" opacity="0.80"/><ellipse cx="1139.3" cy="944.1" rx="1.8" ry="1.6" fill="#b8b0d4" opacity="0.60"/><ellipse cx="1153.0" cy="786.5" rx="3.6" ry="3.4" fill="none" stroke="#9478ac" stroke-width="2.0" opacity="0.80"/><ellipse cx="1153.0" cy="786.5" rx="1.8" ry="1.6" fill="#b8b0d4" opacity="0.60"/><ellipse cx="1109.0" cy="840.2" rx="3.6" ry="3.4" fill="none" stroke="#9478ac" stroke-width="2.0" opacity="0.80"/><ellipse cx="1109.0" cy="840.2" rx="1.8" ry="1.6" fill="#b8b0d4" opacity="0.60"/><ellipse cx="1010.2" cy="847.5" rx="3.6" ry="3.4" fill="none" stroke="#8478bc" stroke-width="2.0" opacity="0.80"/><ellipse cx="1010.2" cy="847.5" rx="1.8" ry="1.6" fill="#b8b0d4" opacity="0.60"/><ellipse cx="1049.0" cy="895.2" rx="3.6" ry="3.4" fill="none" stroke="#a07ca8" stroke-width="2.0" opacity="0.80"/><ellipse cx="1049.0" cy="895.2" rx="1.8" ry="1.6" fill="#b8b0d4" opacity="0.60"/><ellipse cx="1163.1" cy="876.2" rx="3.6" ry="3.4" fill="none" stroke="#a07ca8" stroke-width="2.0" opacity="0.80"/><ellipse cx="1163.1" cy="876.2" rx="1.8" ry="1.6" fill="#b8b0d4" opacity="0.60"/><ellipse cx="1015.3" cy="792.1" rx="3.6" ry="3.4" fill="none" stroke="#8070b8" stroke-width="2.0" opacity="0.80"/><ellipse cx="1015.3" cy="792.1" rx="1.8" ry="1.6" fill="#b8b0d4" opacity="0.60"/><ellipse cx="1097.2" cy="907.8" rx="3.6" ry="3.4" fill="none" stroke="#8c7cba" stroke-width="2.0" opacity="0.80"/><ellipse cx="1097.2" cy="907.8" rx="1.8" ry="1.6" fill="#b8b0d4" opacity="0.60"/><ellipse cx="1112.1" cy="773.1" rx="3.6" ry="3.4" fill="none" stroke="#8070b8" stroke-width="2.0" opacity="0.80"/><ellipse cx="1112.1" cy="773.1" rx="1.8" ry="1.6" fill="#b8b0d4" opacity="0.60"/><ellipse cx="1064.2" cy="794.3" rx="3.6" ry="3.4" fill="none" stroke="#8478bc" stroke-width="2.0" opacity="0.80"/><ellipse cx="1064.2" cy="794.3" rx="1.8" ry="1.6" fill="#b8b0d4" opacity="0.60"/><ellipse cx="1002.3" cy="919.4" rx="3.6" ry="3.4" fill="none" stroke="#8c7cba" stroke-width="2.0" opacity="0.80"/><ellipse cx="1002.3" cy="919.4" rx="1.8" ry="1.6" fill="#b8b0d4" opacity="0.60"/><ellipse cx="1011.7" cy="785.9" rx="3.6" ry="3.4" fill="none" stroke="#9478ac" stroke-width="2.0" opacity="0.80"/><ellipse cx="1011.7" cy="785.9" rx="1.8" ry="1.6" fill="#b8b0d4" opacity="0.60"/><ellipse cx="1168.6" cy="873.9" rx="3.6" ry="3.4" fill="none" stroke="#7470c0" stroke-width="2.0" opacity="0.80"/><ellipse cx="1168.6" cy="873.9" rx="1.8" ry="1.6" fill="#b8b0d4" opacity="0.60"/><ellipse cx="982.0" cy="800.8" rx="3.6" ry="3.4" fill="none" stroke="#8070b8" stroke-width="2.0" opacity="0.80"/><ellipse cx="982.0" cy="800.8" rx="1.8" ry="1.6" fill="#b8b0d4" opacity="0.60"/><ellipse cx="1150.2" cy="862.8" rx="3.6" ry="3.4" fill="none" stroke="#a07ca8" stroke-width="2.0" opacity="0.80"/><ellipse cx="1150.2" cy="862.8" rx="1.8" ry="1.6" fill="#b8b0d4" opacity="0.60"/><ellipse cx="1113.3" cy="893.0" rx="3.6" ry="3.4" fill="none" stroke="#9478ac" stroke-width="2.0" opacity="0.80"/><ellipse cx="1113.3" cy="893.0" rx="1.8" ry="1.6" fill="#b8b0d4" opacity="0.60"/><ellipse cx="1113.9" cy="906.9" rx="3.6" ry="3.4" fill="none" stroke="#7470c0" stroke-width="2.0" opacity="0.80"/><ellipse cx="1113.9" cy="906.9" rx="1.8" ry="1.6" fill="#b8b0d4" opacity="0.60"/><ellipse cx="1089.3" cy="777.1" rx="3.6" ry="3.4" fill="none" stroke="#a07ca8" stroke-width="2.0" opacity="0.80"/><ellipse cx="1089.3" cy="777.1" rx="1.8" ry="1.6" fill="#b8b0d4" opacity="0.60"/><ellipse cx="1200.7" cy="863.2" rx="3.6" ry="3.4" fill="none" stroke="#9478ac" stroke-width="2.0" opacity="0.80"/><ellipse cx="1200.7" cy="863.2" rx="1.8" ry="1.6" fill="#b8b0d4" opacity="0.60"/><ellipse cx="1146.0" cy="917.2" rx="3.6" ry="3.4" fill="none" stroke="#8070b8" stroke-width="2.0" opacity="0.80"/><ellipse cx="1146.0" cy="917.2" rx="1.8" ry="1.6" fill="#b8b0d4" opacity="0.60"/><ellipse cx="1174.7" cy="935.3" rx="3.6" ry="3.4" fill="none" stroke="#8478bc" stroke-width="2.0" opacity="0.80"/><ellipse cx="1174.7" cy="935.3" rx="1.8" ry="1.6" fill="#b8b0d4" opacity="0.60"/><ellipse cx="1174.8" cy="885.4" rx="3.6" ry="3.4" fill="none" stroke="#8c7cba" stroke-width="2.0" opacity="0.80"/><ellipse cx="1174.8" cy="885.4" rx="1.8" ry="1.6" fill="#b8b0d4" opacity="0.60"/><ellipse cx="1109.7" cy="936.3" rx="3.6" ry="3.4" fill="none" stroke="#8070b8" stroke-width="2.0" opacity="0.80"/><ellipse cx="1109.7" cy="936.3" rx="1.8" ry="1.6" fill="#b8b0d4" opacity="0.60"/><ellipse cx="993.0" cy="873.4" rx="3.6" ry="3.4" fill="none" stroke="#a07ca8" stroke-width="2.0" opacity="0.80"/><ellipse cx="993.0" cy="873.4" rx="1.8" ry="1.6" fill="#b8b0d4" opacity="0.60"/><ellipse cx="1033.5" cy="753.2" rx="3.6" ry="3.4" fill="none" stroke="#9478ac" stroke-width="2.0" opacity="0.80"/><ellipse cx="1033.5" cy="753.2" rx="1.8" ry="1.6" fill="#b8b0d4" opacity="0.60"/><ellipse cx="1007.8" cy="826.0" rx="3.6" ry="3.4" fill="none" stroke="#8070b8" stroke-width="2.0" opacity="0.80"/><ellipse cx="1007.8" cy="826.0" rx="1.8" ry="1.6" fill="#b8b0d4" opacity="0.60"/><ellipse cx="975.1" cy="876.5" rx="3.6" ry="3.4" fill="none" stroke="#8070b8" stroke-width="2.0" opacity="0.80"/><ellipse cx="975.1" cy="876.5" rx="1.8" ry="1.6" fill="#b8b0d4" opacity="0.60"/><ellipse cx="1145.0" cy="826.0" rx="3.6" ry="3.4" fill="none" stroke="#8c7cba" stroke-width="2.0" opacity="0.80"/><ellipse cx="1145.0" cy="826.0" rx="1.8" ry="1.6" fill="#b8b0d4" opacity="0.60"/><ellipse cx="1116.5" cy="851.6" rx="3.6" ry="3.4" fill="none" stroke="#8070b8" stroke-width="2.0" opacity="0.80"/><ellipse cx="1116.5" cy="851.6" rx="1.8" ry="1.6" fill="#b8b0d4" opacity="0.60"/><ellipse cx="1170.7" cy="951.8" rx="3.6" ry="3.4" fill="none" stroke="#7470c0" stroke-width="2.0" opacity="0.80"/><ellipse cx="1170.7" cy="951.8" rx="1.8" ry="1.6" fill="#b8b0d4" opacity="0.60"/><ellipse cx="1053.5" cy="800.9" rx="3.6" ry="3.4" fill="none" stroke="#a07ca8" stroke-width="2.0" opacity="0.80"/><ellipse cx="1053.5" cy="800.9" rx="1.8" ry="1.6" fill="#b8b0d4" opacity="0.60"/><ellipse cx="1030.4" cy="796.6" rx="3.6" ry="3.4" fill="none" stroke="#8070b8" stroke-width="2.0" opacity="0.80"/><ellipse cx="1030.4" cy="796.6" rx="1.8" ry="1.6" fill="#b8b0d4" opacity="0.60"/><ellipse cx="1107.4" cy="904.2" rx="3.6" ry="3.4" fill="none" stroke="#9478ac" stroke-width="2.0" opacity="0.80"/><ellipse cx="1107.4" cy="904.2" rx="1.8" ry="1.6" fill="#b8b0d4" opacity="0.60"/><ellipse cx="1133.2" cy="776.1" rx="3.6" ry="3.4" fill="none" stroke="#7470c0" stroke-width="2.0" opacity="0.80"/><ellipse cx="1133.2" cy="776.1" rx="1.8" ry="1.6" fill="#b8b0d4" opacity="0.60"/><ellipse cx="1120.9" cy="846.7" rx="3.6" ry="3.4" fill="none" stroke="#8c7cba" stroke-width="2.0" opacity="0.80"/><ellipse cx="1120.9" cy="846.7" rx="1.8" ry="1.6" fill="#b8b0d4" opacity="0.60"/><ellipse cx="1014.9" cy="881.2" rx="3.6" ry="3.4" fill="none" stroke="#8478bc" stroke-width="2.0" opacity="0.80"/><ellipse cx="1014.9" cy="881.2" rx="1.8" ry="1.6" fill="#b8b0d4" opacity="0.60"/><ellipse cx="1090.0" cy="808.9" rx="3.6" ry="3.4" fill="none" stroke="#7470c0" stroke-width="2.0" opacity="0.80"/><ellipse cx="1090.0" cy="808.9" rx="1.8" ry="1.6" fill="#b8b0d4" opacity="0.60"/><ellipse cx="965.8" cy="947.5" rx="3.6" ry="3.4" fill="none" stroke="#8c7cba" stroke-width="2.0" opacity="0.80"/><ellipse cx="965.8" cy="947.5" rx="1.8" ry="1.6" fill="#b8b0d4" opacity="0.60"/><ellipse cx="1114.5" cy="807.2" rx="3.6" ry="3.4" fill="none" stroke="#8478bc" stroke-width="2.0" opacity="0.80"/><ellipse cx="1114.5" cy="807.2" rx="1.8" ry="1.6" fill="#b8b0d4" opacity="0.60"/><ellipse cx="996.3" cy="910.5" rx="3.6" ry="3.4" fill="none" stroke="#8070b8" stroke-width="2.0" opacity="0.80"/><ellipse cx="996.3" cy="910.5" rx="1.8" ry="1.6" fill="#b8b0d4" opacity="0.60"/><ellipse cx="1110.5" cy="863.1" rx="3.6" ry="3.4" fill="none" stroke="#8c7cba" stroke-width="2.0" opacity="0.80"/><ellipse cx="1110.5" cy="863.1" rx="1.8" ry="1.6" fill="#b8b0d4" opacity="0.60"/><ellipse cx="1000.5" cy="754.8" rx="3.6" ry="3.4" fill="none" stroke="#8070b8" stroke-width="2.0" opacity="0.80"/><ellipse cx="1000.5" cy="754.8" rx="1.8" ry="1.6" fill="#b8b0d4" opacity="0.60"/><ellipse cx="987.5" cy="771.8" rx="3.6" ry="3.4" fill="none" stroke="#9478ac" stroke-width="2.0" opacity="0.80"/><ellipse cx="987.5" cy="771.8" rx="1.8" ry="1.6" fill="#b8b0d4" opacity="0.60"/><ellipse cx="1036.9" cy="856.5" rx="3.6" ry="3.4" fill="none" stroke="#9478ac" stroke-width="2.0" opacity="0.80"/><ellipse cx="1036.9" cy="856.5" rx="1.8" ry="1.6" fill="#b8b0d4" opacity="0.60"/><ellipse cx="1152.4" cy="935.0" rx="3.6" ry="3.4" fill="none" stroke="#a07ca8" stroke-width="2.0" opacity="0.80"/><ellipse cx="1152.4" cy="935.0" rx="1.8" ry="1.6" fill="#b8b0d4" opacity="0.60"/><ellipse cx="1081.3" cy="750.3" rx="3.6" ry="3.4" fill="none" stroke="#8478bc" stroke-width="2.0" opacity="0.80"/><ellipse cx="1081.3" cy="750.3" rx="1.8" ry="1.6" fill="#b8b0d4" opacity="0.60"/><ellipse cx="1073.6" cy="931.5" rx="3.6" ry="3.4" fill="none" stroke="#8070b8" stroke-width="2.0" opacity="0.80"/><ellipse cx="1073.6" cy="931.5" rx="1.8" ry="1.6" fill="#b8b0d4" opacity="0.60"/><ellipse cx="1052.5" cy="822.5" rx="3.6" ry="3.4" fill="none" stroke="#8478bc" stroke-width="2.0" opacity="0.80"/><ellipse cx="1052.5" cy="822.5" rx="1.8" ry="1.6" fill="#b8b0d4" opacity="0.60"/><ellipse cx="1131.1" cy="754.9" rx="3.6" ry="3.4" fill="none" stroke="#8478bc" stroke-width="2.0" opacity="0.80"/><ellipse cx="1131.1" cy="754.9" rx="1.8" ry="1.6" fill="#b8b0d4" opacity="0.60"/><ellipse cx="1155.7" cy="907.4" rx="3.6" ry="3.4" fill="none" stroke="#a07ca8" stroke-width="2.0" opacity="0.80"/><ellipse cx="1155.7" cy="907.4" rx="1.8" ry="1.6" fill="#b8b0d4" opacity="0.60"/><ellipse cx="1031.9" cy="868.6" rx="3.6" ry="3.4" fill="none" stroke="#8c7cba" stroke-width="2.0" opacity="0.80"/><ellipse cx="1031.9" cy="868.6" rx="1.8" ry="1.6" fill="#b8b0d4" opacity="0.60"/><ellipse cx="1100.9" cy="916.5" rx="3.6" ry="3.4" fill="none" stroke="#7470c0" stroke-width="2.0" opacity="0.80"/><ellipse cx="1100.9" cy="916.5" rx="1.8" ry="1.6" fill="#b8b0d4" opacity="0.60"/><ellipse cx="1015.8" cy="922.7" rx="3.6" ry="3.4" fill="none" stroke="#9478ac" stroke-width="2.0" opacity="0.80"/><ellipse cx="1015.8" cy="922.7" rx="1.8" ry="1.6" fill="#b8b0d4" opacity="0.60"/><ellipse cx="1167.6" cy="942.8" rx="3.6" ry="3.4" fill="none" stroke="#a07ca8" stroke-width="2.0" opacity="0.80"/><ellipse cx="1167.6" cy="942.8" rx="1.8" ry="1.6" fill="#b8b0d4" opacity="0.60"/><ellipse cx="976.3" cy="793.3" rx="3.6" ry="3.4" fill="none" stroke="#8478bc" stroke-width="2.0" opacity="0.80"/><ellipse cx="976.3" cy="793.3" rx="1.8" ry="1.6" fill="#b8b0d4" opacity="0.60"/><ellipse cx="982.8" cy="788.6" rx="3.6" ry="3.4" fill="none" stroke="#9478ac" stroke-width="2.0" opacity="0.80"/><ellipse cx="982.8" cy="788.6" rx="1.8" ry="1.6" fill="#b8b0d4" opacity="0.60"/><ellipse cx="1131.0" cy="780.7" rx="3.6" ry="3.4" fill="none" stroke="#8070b8" stroke-width="2.0" opacity="0.80"/><ellipse cx="1131.0" cy="780.7" rx="1.8" ry="1.6" fill="#b8b0d4" opacity="0.60"/><ellipse cx="1066.9" cy="812.7" rx="3.6" ry="3.4" fill="none" stroke="#8478bc" stroke-width="2.0" opacity="0.80"/><ellipse cx="1066.9" cy="812.7" rx="1.8" ry="1.6" fill="#b8b0d4" opacity="0.60"/><ellipse cx="982.7" cy="764.2" rx="3.6" ry="3.4" fill="none" stroke="#7470c0" stroke-width="2.0" opacity="0.80"/><ellipse cx="982.7" cy="764.2" rx="1.8" ry="1.6" fill="#b8b0d4" opacity="0.60"/><ellipse cx="1154.4" cy="780.2" rx="3.6" ry="3.4" fill="none" stroke="#8070b8" stroke-width="2.0" opacity="0.80"/><ellipse cx="1154.4" cy="780.2" rx="1.8" ry="1.6" fill="#b8b0d4" opacity="0.60"/><ellipse cx="1189.5" cy="764.3" rx="3.6" ry="3.4" fill="none" stroke="#8c7cba" stroke-width="2.0" opacity="0.80"/><ellipse cx="1189.5" cy="764.3" rx="1.8" ry="1.6" fill="#b8b0d4" opacity="0.60"/><ellipse cx="1087.7" cy="849.6" rx="3.6" ry="3.4" fill="none" stroke="#8070b8" stroke-width="2.0" opacity="0.80"/><ellipse cx="1087.7" cy="849.6" rx="1.8" ry="1.6" fill="#b8b0d4" opacity="0.60"/><ellipse cx="1156.5" cy="819.4" rx="3.6" ry="3.4" fill="none" stroke="#9478ac" stroke-width="2.0" opacity="0.80"/><ellipse cx="1156.5" cy="819.4" rx="1.8" ry="1.6" fill="#b8b0d4" opacity="0.60"/><ellipse cx="1181.8" cy="877.3" rx="3.6" ry="3.4" fill="none" stroke="#a07ca8" stroke-width="2.0" opacity="0.80"/><ellipse cx="1181.8" cy="877.3" rx="1.8" ry="1.6" fill="#b8b0d4" opacity="0.60"/><ellipse cx="1004.1" cy="778.4" rx="3.6" ry="3.4" fill="none" stroke="#8c7cba" stroke-width="2.0" opacity="0.80"/><ellipse cx="1004.1" cy="778.4" rx="1.8" ry="1.6" fill="#b8b0d4" opacity="0.60"/><ellipse cx="997.0" cy="847.7" rx="3.6" ry="3.4" fill="none" stroke="#7470c0" stroke-width="2.0" opacity="0.80"/><ellipse cx="997.0" cy="847.7" rx="1.8" ry="1.6" fill="#b8b0d4" opacity="0.60"/><ellipse cx="1178.2" cy="896.3" rx="3.6" ry="3.4" fill="none" stroke="#7470c0" stroke-width="2.0" opacity="0.80"/><ellipse cx="1178.2" cy="896.3" rx="1.8" ry="1.6" fill="#b8b0d4" opacity="0.60"/><ellipse cx="980.8" cy="858.4" rx="3.6" ry="3.4" fill="none" stroke="#8c7cba" stroke-width="2.0" opacity="0.80"/><ellipse cx="980.8" cy="858.4" rx="1.8" ry="1.6" fill="#b8b0d4" opacity="0.60"/><ellipse cx="1082.4" cy="892.9" rx="3.6" ry="3.4" fill="none" stroke="#8478bc" stroke-width="2.0" opacity="0.80"/><ellipse cx="1082.4" cy="892.9" rx="1.8" ry="1.6" fill="#b8b0d4" opacity="0.60"/><ellipse cx="1070.5" cy="934.9" rx="3.6" ry="3.4" fill="none" stroke="#8070b8" stroke-width="2.0" opacity="0.80"/><ellipse cx="1070.5" cy="934.9" rx="1.8" ry="1.6" fill="#b8b0d4" opacity="0.60"/><ellipse cx="976.3" cy="795.9" rx="3.6" ry="3.4" fill="none" stroke="#8478bc" stroke-width="2.0" opacity="0.80"/><ellipse cx="976.3" cy="795.9" rx="1.8" ry="1.6" fill="#b8b0d4" opacity="0.60"/><ellipse cx="1070.4" cy="932.1" rx="3.6" ry="3.4" fill="none" stroke="#9478ac" stroke-width="2.0" opacity="0.80"/><ellipse cx="1070.4" cy="932.1" rx="1.8" ry="1.6" fill="#b8b0d4" opacity="0.60"/><ellipse cx="1079.7" cy="789.3" rx="3.6" ry="3.4" fill="none" stroke="#8478bc" stroke-width="2.0" opacity="0.80"/><ellipse cx="1079.7" cy="789.3" rx="1.8" ry="1.6" fill="#b8b0d4" opacity="0.60"/><ellipse cx="1023.0" cy="886.6" rx="3.6" ry="3.4" fill="none" stroke="#8c7cba" stroke-width="2.0" opacity="0.80"/><ellipse cx="1023.0" cy="886.6" rx="1.8" ry="1.6" fill="#b8b0d4" opacity="0.60"/><ellipse cx="996.7" cy="797.1" rx="3.6" ry="3.4" fill="none" stroke="#9478ac" stroke-width="2.0" opacity="0.80"/><ellipse cx="996.7" cy="797.1" rx="1.8" ry="1.6" fill="#b8b0d4" opacity="0.60"/><ellipse cx="1121.4" cy="941.3" rx="3.6" ry="3.4" fill="none" stroke="#a07ca8" stroke-width="2.0" opacity="0.80"/><ellipse cx="1121.4" cy="941.3" rx="1.8" ry="1.6" fill="#b8b0d4" opacity="0.60"/><ellipse cx="1049.7" cy="763.1" rx="3.6" ry="3.4" fill="none" stroke="#8070b8" stroke-width="2.0" opacity="0.80"/><ellipse cx="1049.7" cy="763.1" rx="1.8" ry="1.6" fill="#b8b0d4" opacity="0.60"/><ellipse cx="1117.2" cy="756.4" rx="3.6" ry="3.4" fill="none" stroke="#8c7cba" stroke-width="2.0" opacity="0.80"/><ellipse cx="1117.2" cy="756.4" rx="1.8" ry="1.6" fill="#b8b0d4" opacity="0.60"/><ellipse cx="1063.3" cy="835.0" rx="3.6" ry="3.4" fill="none" stroke="#a07ca8" stroke-width="2.0" opacity="0.80"/><ellipse cx="1063.3" cy="835.0" rx="1.8" ry="1.6" fill="#b8b0d4" opacity="0.60"/><ellipse cx="995.1" cy="938.9" rx="3.6" ry="3.4" fill="none" stroke="#8070b8" stroke-width="2.0" opacity="0.80"/><ellipse cx="995.1" cy="938.9" rx="1.8" ry="1.6" fill="#b8b0d4" opacity="0.60"/><ellipse cx="1040.9" cy="806.6" rx="3.6" ry="3.4" fill="none" stroke="#8478bc" stroke-width="2.0" opacity="0.80"/><ellipse cx="1040.9" cy="806.6" rx="1.8" ry="1.6" fill="#b8b0d4" opacity="0.60"/><ellipse cx="1022.6" cy="812.2" rx="3.6" ry="3.4" fill="none" stroke="#7470c0" stroke-width="2.0" opacity="0.80"/><ellipse cx="1022.6" cy="812.2" rx="1.8" ry="1.6" fill="#b8b0d4" opacity="0.60"/><ellipse cx="1115.1" cy="832.2" rx="3.6" ry="3.4" fill="none" stroke="#a07ca8" stroke-width="2.0" opacity="0.80"/><ellipse cx="1115.1" cy="832.2" rx="1.8" ry="1.6" fill="#b8b0d4" opacity="0.60"/><ellipse cx="1143.6" cy="946.8" rx="3.6" ry="3.4" fill="none" stroke="#8478bc" stroke-width="2.0" opacity="0.80"/><ellipse cx="1143.6" cy="946.8" rx="1.8" ry="1.6" fill="#b8b0d4" opacity="0.60"/><ellipse cx="980.3" cy="958.5" rx="3.6" ry="3.4" fill="none" stroke="#8070b8" stroke-width="2.0" opacity="0.80"/><ellipse cx="980.3" cy="958.5" rx="1.8" ry="1.6" fill="#b8b0d4" opacity="0.60"/><ellipse cx="1087.8" cy="860.1" rx="3.6" ry="3.4" fill="none" stroke="#a07ca8" stroke-width="2.0" opacity="0.80"/><ellipse cx="1087.8" cy="860.1" rx="1.8" ry="1.6" fill="#b8b0d4" opacity="0.60"/><ellipse cx="1090.0" cy="870.0" rx="8.0" ry="5.0" fill="#4e52c8" opacity="0.75"/><ellipse cx="1125.0" cy="890.0" rx="10.0" ry="6.0" fill="#4e52c8" opacity="0.75"/><ellipse cx="1060.0" cy="860.0" rx="6.0" ry="4.0" fill="#4e52c8" opacity="0.75"/><ellipse cx="1040.0" cy="940.0" rx="8.0" ry="6.0" fill="#4e52c8" opacity="0.75"/><ellipse cx="1110.0" cy="955.0" rx="6.0" ry="4.0" fill="#4e52c8" opacity="0.75"/><ellipse cx="1170.0" cy="870.0" rx="6.0" ry="4.0" fill="#4e52c8" opacity="0.75"/><ellipse cx="970.0" cy="920.0" rx="6.0" ry="4.0" fill="#4e52c8" opacity="0.75"/><ellipse cx="1000.0" cy="955.0" rx="8.0" ry="5.0" fill="#4e52c8" opacity="0.75"/><ellipse cx="1080.0" cy="890.0" rx="7.0" ry="5.0" fill="#4e52c8" opacity="0.75"/><ellipse cx="1100.0" cy="880.0" rx="5.0" ry="4.0" fill="#4e52c8" opacity="0.75"/><filter id="nz4" x="962.3" y="749.7" width="244.70000000000005" height="211.19999999999993" filterUnits="userSpaceOnUse"><feTurbulence type="fractalNoise" baseFrequency="0.12" numOctaves="2" seed="41"/><feColorMatrix type="matrix" values="0 0 0 0 0.431 0 0 0 0 0.353 0 0 0 0 0.667 1.6 0 0 0 -0.8"/></filter><rect x="962.3" y="749.7" width="244.70000000000005" height="211.19999999999993" filter="url(#nz4)"/><filter id="nz4b" x="962.3" y="749.7" width="244.70000000000005" height="211.19999999999993" filterUnits="userSpaceOnUse"><feTurbulence type="fractalNoise" baseFrequency="0.05" numOctaves="2" seed="43"/><feColorMatrix type="matrix" values="0 0 0 0 0.843 0 0 0 0 0.667 0 0 0 0 0.471 2.0 0 0 0 -1.0"/></filter><rect x="962.3" y="749.7" width="244.70000000000005" height="211.19999999999993" filter="url(#nz4b)"/></g></g>
<text x="723.41" y="575.80" font-size="33.87" textLength="24.56" lengthAdjust="spacingAndGlyphs">N</text>
<text x="976.68" y="574.80" font-size="34.30" textLength="19.66" lengthAdjust="spacingAndGlyphs">T</text>
<text transform="translate(678.50,723.13) rotate(-90)" x="0" y="0" font-size="35.32" textLength="144.40" lengthAdjust="spacingAndGlyphs">Patient #1</text>
<text transform="translate(678.50,920.39) rotate(-90)" x="0" y="0" font-size="35.32" textLength="147.54" lengthAdjust="spacingAndGlyphs">Patient #2</text>
<line x1="840.70" y1="730.00" x2="950.70" y2="730.00" stroke="#000" stroke-width="2.4"/>
<line x1="1092.70" y1="732.50" x2="1202.70" y2="732.50" stroke="#000" stroke-width="2.4"/>
<line x1="840.70" y1="948.00" x2="950.70" y2="948.00" stroke="#000" stroke-width="2.4"/>
<line x1="1092.70" y1="951.00" x2="1203.50" y2="951.00" stroke="#000" stroke-width="2.4"/>
<text x="881.15" y="738.50" font-size="8.00" textLength="29.88" lengthAdjust="spacingAndGlyphs"><tspan font-weight="bold">100 μm</tspan></text>
<text x="881.15" y="956.50" font-size="8.00" textLength="29.88" lengthAdjust="spacingAndGlyphs"><tspan font-weight="bold">100 μm</tspan></text>
<line x1="1330.50" y1="572.00" x2="1330.50" y2="904.50" stroke="#000" stroke-width="4"/>
<line x1="1328.50" y1="902.50" x2="1606.00" y2="902.50" stroke="#000" stroke-width="4"/>
<line x1="1318.90" y1="574.20" x2="1330.50" y2="574.20" stroke="#000" stroke-width="3.4"/>
<text x="1275.78" y="583.60" font-size="35.18" textLength="37.95" lengthAdjust="spacingAndGlyphs">15</text>
<line x1="1318.90" y1="683.30" x2="1330.50" y2="683.30" stroke="#000" stroke-width="3.4"/>
<text x="1275.68" y="692.70" font-size="35.18" textLength="37.95" lengthAdjust="spacingAndGlyphs">10</text>
<line x1="1318.90" y1="792.50" x2="1330.50" y2="792.50" stroke="#000" stroke-width="3.4"/>
<text x="1294.76" y="801.90" font-size="35.18" textLength="18.98" lengthAdjust="spacingAndGlyphs">5</text>
<line x1="1318.90" y1="902.30" x2="1330.50" y2="902.30" stroke="#000" stroke-width="3.4"/>
<text x="1294.66" y="911.70" font-size="35.18" textLength="18.98" lengthAdjust="spacingAndGlyphs">0</text>
<line x1="1398.20" y1="902.50" x2="1398.20" y2="914.80" stroke="#000" stroke-width="4"/>
<line x1="1535.40" y1="902.50" x2="1535.40" y2="914.80" stroke="#000" stroke-width="4"/>
<text x="1339.30" y="950.70" font-size="37.50" textLength="117.68" lengthAdjust="spacingAndGlyphs">N (104)</text>
<text x="1478.11" y="950.70" font-size="37.50" textLength="113.99" lengthAdjust="spacingAndGlyphs">T (120)</text>
<text transform="translate(1260.30,818.81) rotate(-90)" x="0" y="0" font-size="37.21" textLength="159.40" lengthAdjust="spacingAndGlyphs">IHC score</text>
<path d="M1398.2,626.1 V605.3 H1535.4 V626.1" stroke="#000" stroke-width="4" fill="none"/>
<text x="1454.50" y="598.50" font-size="50" font-weight="bold" text-anchor="middle">*</text>
<text x="1478.50" y="598.50" font-size="50" font-weight="bold" text-anchor="middle">*</text>
<line x1="1398.60" y1="640.10" x2="1398.60" y2="771.00" stroke="#000" stroke-width="4"/>
<line x1="1398.60" y1="814.00" x2="1398.60" y2="881.00" stroke="#000" stroke-width="4"/>
<line x1="1376.80" y1="640.10" x2="1420.50" y2="640.10" stroke="#000" stroke-width="4"/>
<line x1="1376.80" y1="881.00" x2="1420.50" y2="881.00" stroke="#000" stroke-width="4"/>
<rect x="1354.80" y="772.20" width="88.30" height="41.10" fill="#fff" stroke="#000" stroke-width="4"/>
<line x1="1536.50" y1="770.00" x2="1536.50" y2="859.30" stroke="#000" stroke-width="4"/>
<line x1="1514.00" y1="859.30" x2="1557.10" y2="859.30" stroke="#000" stroke-width="4"/>
<rect x="1492.90" y="642.10" width="87.40" height="127.60" fill="#878787" stroke="#000" stroke-width="4"/>
<line x1="1492.00" y1="704.80" x2="1581.00" y2="704.80" stroke="#000" stroke-width="4"/>
<text x="14.20" y="1050.60" font-size="50.87" textLength="32.49" lengthAdjust="spacingAndGlyphs">E</text>
<line x1="144.00" y1="1086.30" x2="144.00" y2="1395.10" stroke="#000" stroke-width="3.2"/>
<line x1="142.40" y1="1393.50" x2="557.50" y2="1393.50" stroke="#000" stroke-width="3.2"/>
<line x1="136.50" y1="1087.30" x2="144.00" y2="1087.30" stroke="#000" stroke-width="3.0"/>
<text x="97.63" y="1094.60" font-size="24.27" textLength="34.83" lengthAdjust="spacingAndGlyphs"><tspan font-weight="bold">100</tspan></text>
<line x1="136.50" y1="1148.54" x2="144.00" y2="1148.54" stroke="#000" stroke-width="3.0"/>
<text x="109.24" y="1155.84" font-size="24.27" textLength="23.22" lengthAdjust="spacingAndGlyphs"><tspan font-weight="bold">80</tspan></text>
<line x1="136.50" y1="1209.78" x2="144.00" y2="1209.78" stroke="#000" stroke-width="3.0"/>
<text x="109.24" y="1217.08" font-size="24.27" textLength="23.22" lengthAdjust="spacingAndGlyphs"><tspan font-weight="bold">60</tspan></text>
<line x1="136.50" y1="1271.02" x2="144.00" y2="1271.02" stroke="#000" stroke-width="3.0"/>
<text x="109.24" y="1278.32" font-size="24.27" textLength="23.22" lengthAdjust="spacingAndGlyphs"><tspan font-weight="bold">40</tspan></text>
<line x1="136.50" y1="1332.26" x2="144.00" y2="1332.26" stroke="#000" stroke-width="3.0"/>
<text x="109.24" y="1339.56" font-size="24.27" textLength="23.22" lengthAdjust="spacingAndGlyphs"><tspan font-weight="bold">20</tspan></text>
<line x1="136.50" y1="1393.50" x2="144.00" y2="1393.50" stroke="#000" stroke-width="3.0"/>
<text x="120.85" y="1400.80" font-size="24.27" textLength="11.61" lengthAdjust="spacingAndGlyphs"><tspan font-weight="bold">0</tspan></text>
<line x1="144.00" y1="1393.50" x2="144.00" y2="1402.50" stroke="#000" stroke-width="3.0"/>
<text x="137.10" y="1427.60" font-size="24.71" textLength="12.64" lengthAdjust="spacingAndGlyphs"><tspan font-weight="bold">0</tspan></text>
<line x1="247.00" y1="1393.50" x2="247.00" y2="1402.50" stroke="#000" stroke-width="3.0"/>
<text x="233.83" y="1427.60" font-size="24.71" textLength="25.29" lengthAdjust="spacingAndGlyphs"><tspan font-weight="bold">20</tspan></text>
<line x1="350.00" y1="1393.50" x2="350.00" y2="1402.50" stroke="#000" stroke-width="3.0"/>
<text x="337.05" y="1427.60" font-size="24.71" textLength="25.29" lengthAdjust="spacingAndGlyphs"><tspan font-weight="bold">40</tspan></text>
<line x1="453.00" y1="1393.50" x2="453.00" y2="1402.50" stroke="#000" stroke-width="3.0"/>
<text x="439.81" y="1427.60" font-size="24.71" textLength="25.29" lengthAdjust="spacingAndGlyphs"><tspan font-weight="bold">60</tspan></text>
<line x1="556.00" y1="1393.50" x2="556.00" y2="1402.50" stroke="#000" stroke-width="3.0"/>
<text x="542.86" y="1427.60" font-size="24.71" textLength="25.29" lengthAdjust="spacingAndGlyphs"><tspan font-weight="bold">80</tspan></text>
<text x="259.80" y="1465.80" font-size="30.23" textLength="181.93" lengthAdjust="spacingAndGlyphs"><tspan font-weight="bold">Time (Months)</tspan></text>
<text transform="translate(85.50,1377.21) rotate(-90)" x="0" y="0" font-size="27.91" textLength="274.08" lengthAdjust="spacingAndGlyphs"><tspan font-weight="bold">Overall survival (</tspan>%<tspan font-weight="bold">)</tspan></text>
<line x1="145.60" y1="1241.10" x2="292.10" y2="1241.10" stroke="#000" stroke-width="2.6" stroke-dasharray="8,5"/>
<line x1="251.70" y1="1243.00" x2="251.70" y2="1393.00" stroke="#000" stroke-width="2.2" stroke-dasharray="7,5"/>
<line x1="292.10" y1="1243.00" x2="292.10" y2="1393.00" stroke="#000" stroke-width="2.2" stroke-dasharray="7,5"/>
<path d="M144.00,1087.30 H148.12 V1098.32 H159.19 V1107.82 H172.32 H176.96 V1112.61 H181.59 V1117.41 H186.23 V1122.21 H193.95 H197.56 V1128.02 H201.16 V1133.84 H204.77 V1139.66 H208.38 V1145.48 H210.44 V1151.16 H212.50 V1156.85 H214.56 V1162.54 H216.62 V1168.22 H218.68 V1173.91 H220.74 V1179.60 H222.80 V1185.28 H224.19 V1190.49 H225.59 V1195.69 H226.99 V1200.90 H228.39 V1206.11 H229.78 V1211.31 H231.18 V1216.52 H232.58 V1221.72 H235.93 V1228.61 H239.28 V1235.50 H250.09 H253.69 V1239.94 H257.30 V1244.38 H260.13 V1250.20 H262.97 V1256.02 H264.80 V1261.44 H266.64 V1266.86 H268.48 V1272.29 H270.32 V1277.71 H272.16 V1283.14 H274.00 V1288.56 H275.84 V1293.98 H278.76 V1299.70 H281.68 V1305.42 H284.60 V1311.13 H291.29 V1316.64 H311.38 V1321.85 H318.07 V1327.97 H331.98 V1334.71 H354.12 H355.32 V1340.63 H356.52 V1346.55 H357.73 V1352.47 H372.66 V1357.98 H389.66 V1364.10 H418.50 V1370.23 H435.49 V1393.50" stroke="#e8191c" stroke-width="2.6" fill="none" stroke-linejoin="miter" stroke-linecap="square"/>
<path d="M148.12,1086.00V1099.62 M159.19,1097.02V1109.12 M176.96,1106.52V1113.91 M181.59,1111.31V1118.71 M186.23,1116.11V1123.51 M197.56,1120.91V1129.32 M201.16,1126.72V1135.14 M204.77,1132.54V1140.96 M208.38,1138.36V1146.78 M210.44,1144.18V1152.46 M212.50,1149.86V1158.15 M214.56,1155.55V1163.84 M216.62,1161.24V1169.52 M218.68,1166.92V1175.21 M220.74,1172.61V1180.90 M222.80,1178.30V1186.58 M224.19,1183.98V1191.79 M225.59,1189.19V1196.99 M226.99,1194.39V1202.20 M228.39,1199.60V1207.41 M229.78,1204.81V1212.61 M231.18,1210.01V1217.82 M232.58,1215.22V1223.02 M235.93,1220.42V1229.91 M239.28,1227.31V1236.80 M253.69,1234.20V1241.24 M257.30,1238.64V1245.68 M260.13,1243.08V1251.50 M262.97,1248.90V1257.32 M264.80,1254.72V1262.74 M266.64,1260.14V1268.16 M268.48,1265.56V1273.59 M270.32,1270.99V1279.01 M272.16,1276.41V1284.44 M274.00,1281.84V1289.86 M275.84,1287.26V1295.28 M278.76,1292.68V1301.00 M281.68,1298.40V1306.72 M284.60,1304.12V1312.43 M291.29,1309.83V1317.94 M311.38,1315.34V1323.15 M318.07,1320.55V1329.27 M331.98,1326.67V1336.01 M355.32,1333.41V1341.93 M356.52,1339.33V1347.85 M357.73,1345.25V1353.77 M372.66,1351.17V1359.28 M389.66,1356.68V1365.40 M418.50,1362.80V1371.53" stroke="#000" stroke-width="2.6" fill="none"/>
<path d="M310.35,1309.64V1316.64 M427.25,1363.23V1370.23" stroke="#000" stroke-width="2" fill="none"/>
<path d="M144.00,1087.30 H165.12 H169.75 V1092.20 H172.32 V1097.68 H174.90 V1103.16 H177.47 V1108.64 H180.05 V1114.12 H182.62 V1119.60 H185.20 V1125.09 H187.78 V1130.57 H190.35 V1136.05 H192.93 V1141.53 H195.50 V1147.01 H205.80 V1153.13 H209.66 V1159.26 H213.53 V1165.38 H217.39 V1171.51 H221.25 V1177.63 H226.40 V1182.99 H231.55 V1188.35 H234.98 V1193.96 H238.42 V1199.57 H241.85 V1205.19 H252.15 H257.30 V1210.39 H272.75 H274.47 V1215.80 H276.18 V1221.21 H277.90 V1226.62 H291.29 V1249.28 H316.52 V1273.47 H324.76 V1286.94 H352.06 V1304.40 H488.02" stroke="#0b0bc8" stroke-width="2.6" fill="none" stroke-linejoin="miter" stroke-linecap="square"/>
<path d="M169.75,1086.00V1093.50 M172.32,1090.90V1098.98 M174.90,1096.38V1104.46 M177.47,1101.86V1109.94 M180.05,1107.34V1115.42 M182.62,1112.82V1120.90 M185.20,1118.30V1126.39 M187.78,1123.79V1131.87 M190.35,1129.27V1137.35 M192.93,1134.75V1142.83 M195.50,1140.23V1148.31 M205.80,1145.71V1154.43 M209.66,1151.83V1160.56 M213.53,1157.96V1166.68 M217.39,1164.08V1172.81 M221.25,1170.21V1178.93 M226.40,1176.33V1184.29 M231.55,1181.69V1189.65 M234.98,1187.05V1195.26 M238.42,1192.66V1200.87 M241.85,1198.27V1206.49 M257.30,1203.89V1211.69 M274.47,1209.09V1217.10 M276.18,1214.50V1222.51 M277.90,1219.91V1227.92 M291.29,1225.32V1250.58 M316.52,1247.98V1274.77 M324.76,1272.17V1288.24 M352.06,1285.64V1305.70" stroke="#000" stroke-width="2.6" fill="none"/>
<path d="M249.57,1198.19V1205.19 M265.02,1203.39V1210.39 M267.60,1203.39V1210.39 M270.18,1203.39V1210.39 M283.05,1219.62V1226.62 M285.62,1219.62V1226.62 M306.74,1242.28V1249.28 M347.43,1279.94V1286.94 M361.33,1297.40V1304.40 M405.62,1297.40V1304.40 M430.34,1297.40V1304.40 M488.02,1297.40V1304.40" stroke="#000" stroke-width="2" fill="none"/>
<line x1="352.30" y1="1097.00" x2="381.20" y2="1097.00" stroke="#e8191c" stroke-width="3.2"/>
<line x1="366.75" y1="1091.00" x2="366.75" y2="1097.00" stroke="#000" stroke-width="2"/>
<line x1="352.30" y1="1131.90" x2="381.20" y2="1131.90" stroke="#0b0bc8" stroke-width="3.2"/>
<line x1="366.75" y1="1125.90" x2="366.75" y2="1131.90" stroke="#000" stroke-width="2"/>
<text x="397.14" y="1104.30" font-size="24.71" textLength="145.67" lengthAdjust="spacingAndGlyphs">FH high(n=62)</text>
<text x="397.16" y="1139.20" font-size="25.00" textLength="134.92" lengthAdjust="spacingAndGlyphs">FH low(n=58)</text>
<text x="354.48" y="1197.70" font-size="29.65" textLength="100.19" lengthAdjust="spacingAndGlyphs"><tspan font-style="italic">P</tspan>=0.036</text>
<text x="188.56" y="1384.30" font-size="27.47" textLength="53.74" lengthAdjust="spacingAndGlyphs"><tspan font-weight="bold">21.71</tspan></text>
<text x="297.72" y="1384.30" font-size="27.47" textLength="56.00" lengthAdjust="spacingAndGlyphs"><tspan font-weight="bold">28.65</tspan></text>
<line x1="672.40" y1="1086.60" x2="672.40" y2="1394.30" stroke="#000" stroke-width="2.8"/>
<line x1="671.00" y1="1392.90" x2="1071.10" y2="1392.90" stroke="#000" stroke-width="2.8"/>
<line x1="664.90" y1="1087.60" x2="672.40" y2="1087.60" stroke="#000" stroke-width="3.0"/>
<text x="627.03" y="1094.90" font-size="24.27" textLength="34.83" lengthAdjust="spacingAndGlyphs"><tspan font-weight="bold">100</tspan></text>
<line x1="664.90" y1="1148.66" x2="672.40" y2="1148.66" stroke="#000" stroke-width="3.0"/>
<text x="638.64" y="1155.96" font-size="24.27" textLength="23.22" lengthAdjust="spacingAndGlyphs"><tspan font-weight="bold">80</tspan></text>
<line x1="664.90" y1="1209.72" x2="672.40" y2="1209.72" stroke="#000" stroke-width="3.0"/>
<text x="638.64" y="1217.02" font-size="24.27" textLength="23.22" lengthAdjust="spacingAndGlyphs"><tspan font-weight="bold">60</tspan></text>
<line x1="664.90" y1="1270.78" x2="672.40" y2="1270.78" stroke="#000" stroke-width="3.0"/>
<text x="638.64" y="1278.08" font-size="24.27" textLength="23.22" lengthAdjust="spacingAndGlyphs"><tspan font-weight="bold">40</tspan></text>
<line x1="664.90" y1="1331.84" x2="672.40" y2="1331.84" stroke="#000" stroke-width="3.0"/>
<text x="638.64" y="1339.14" font-size="24.27" textLength="23.22" lengthAdjust="spacingAndGlyphs"><tspan font-weight="bold">20</tspan></text>
<line x1="664.90" y1="1392.90" x2="672.40" y2="1392.90" stroke="#000" stroke-width="3.0"/>
<text x="650.25" y="1400.20" font-size="24.27" textLength="11.61" lengthAdjust="spacingAndGlyphs"><tspan font-weight="bold">0</tspan></text>
<line x1="672.40" y1="1392.90" x2="672.40" y2="1401.90" stroke="#000" stroke-width="3.0"/>
<text x="665.50" y="1427.60" font-size="24.71" textLength="12.64" lengthAdjust="spacingAndGlyphs"><tspan font-weight="bold">0</tspan></text>
<line x1="771.70" y1="1392.90" x2="771.70" y2="1401.90" stroke="#000" stroke-width="3.0"/>
<text x="758.53" y="1427.60" font-size="24.71" textLength="25.29" lengthAdjust="spacingAndGlyphs"><tspan font-weight="bold">20</tspan></text>
<line x1="871.00" y1="1392.90" x2="871.00" y2="1401.90" stroke="#000" stroke-width="3.0"/>
<text x="858.05" y="1427.60" font-size="24.71" textLength="25.29" lengthAdjust="spacingAndGlyphs"><tspan font-weight="bold">40</tspan></text>
<line x1="970.30" y1="1392.90" x2="970.30" y2="1401.90" stroke="#000" stroke-width="3.0"/>
<text x="957.11" y="1427.60" font-size="24.71" textLength="25.29" lengthAdjust="spacingAndGlyphs"><tspan font-weight="bold">60</tspan></text>
<line x1="1069.60" y1="1392.90" x2="1069.60" y2="1401.90" stroke="#000" stroke-width="3.0"/>
<text x="1056.46" y="1427.60" font-size="24.71" textLength="25.29" lengthAdjust="spacingAndGlyphs"><tspan font-weight="bold">80</tspan></text>
<text x="784.71" y="1465.60" font-size="29.80" textLength="174.36" lengthAdjust="spacingAndGlyphs"><tspan font-weight="bold">Time (Months)</tspan></text>
<text transform="translate(616.70,1414.68) rotate(-90)" x="0" y="0" font-size="27.04" textLength="349.75" lengthAdjust="spacingAndGlyphs"><tspan font-weight="bold">Disease-free survival (</tspan>%<tspan font-weight="bold">)</tspan></text>
<line x1="674.00" y1="1240.50" x2="838.10" y2="1240.50" stroke="#000" stroke-width="2.6" stroke-dasharray="8,5"/>
<line x1="775.60" y1="1242.00" x2="775.60" y2="1392.00" stroke="#000" stroke-width="2.2" stroke-dasharray="7,5"/>
<line x1="838.10" y1="1242.00" x2="838.10" y2="1392.00" stroke="#000" stroke-width="2.2" stroke-dasharray="7,5"/>
<path d="M672.40,1087.60 H677.37 V1096.76 H682.33 V1102.87 H697.23 H700.53 V1107.95 H703.85 V1113.04 H707.15 V1118.13 H722.05 H724.53 V1122.71 H727.01 V1127.29 H729.50 V1131.87 H731.98 V1136.45 H732.81 V1141.54 H733.63 V1146.62 H734.46 V1151.71 H736.32 V1157.06 H738.19 V1162.40 H740.05 V1167.74 H741.91 V1173.08 H743.56 V1178.17 H745.22 V1183.26 H746.88 V1188.35 H748.53 V1193.44 H750.18 V1198.53 H751.84 V1203.61 H754.32 V1209.72 H756.80 V1215.83 H759.29 V1221.93 H761.77 V1228.04 H766.74 V1234.14 H776.66 V1240.25 H781.63 V1246.36 H786.60 V1252.46 H789.08 V1258.57 H791.56 V1264.67 H794.04 V1270.78 H796.52 V1276.89 H799.01 V1282.23 H801.49 V1287.57 H803.97 V1292.91 H806.45 V1298.26 H811.42 V1305.89 H828.80 H832.11 V1311.49 H835.42 V1317.08 H838.73 V1322.68 H846.17 V1328.18 H871.00 H874.31 V1333.47 H877.62 V1338.76 H880.93 V1344.05 H890.86 V1350.16 H900.79 V1356.26 H910.72 V1362.37 H912.21 V1364.51 H938.03 H939.27 V1369.24 H940.51 V1373.97 H951.43 V1392.90" stroke="#e8191c" stroke-width="2.6" fill="none" stroke-linejoin="miter" stroke-linecap="square"/>
<path d="M677.37,1086.30V1098.06 M682.33,1095.46V1104.17 M700.53,1101.57V1109.25 M703.85,1106.65V1114.34 M707.15,1111.74V1119.43 M724.53,1116.83V1124.01 M727.01,1121.41V1128.59 M729.50,1125.99V1133.17 M731.98,1130.57V1137.75 M732.81,1135.15V1142.84 M733.63,1140.24V1147.92 M734.46,1145.32V1153.01 M736.32,1150.41V1158.36 M738.19,1155.76V1163.70 M740.05,1161.10V1169.04 M741.91,1166.44V1174.38 M743.56,1171.78V1179.47 M745.22,1176.87V1184.56 M746.88,1181.96V1189.65 M748.53,1187.05V1194.74 M750.18,1192.14V1199.83 M751.84,1197.23V1204.91 M754.32,1202.31V1211.02 M756.80,1208.42V1217.13 M759.29,1214.53V1223.23 M761.77,1220.63V1229.34 M766.74,1226.74V1235.44 M776.66,1232.84V1241.55 M781.63,1238.95V1247.66 M786.60,1245.06V1253.76 M789.08,1251.16V1259.87 M791.56,1257.27V1265.97 M794.04,1263.37V1272.08 M796.52,1269.48V1278.19 M799.01,1275.59V1283.53 M801.49,1280.93V1288.87 M803.97,1286.27V1294.21 M806.45,1291.61V1299.56 M811.42,1296.96V1307.19 M832.11,1304.59V1312.79 M835.42,1310.19V1318.38 M838.73,1315.78V1323.98 M846.17,1321.38V1329.48 M874.31,1326.88V1334.77 M877.62,1332.17V1340.06 M880.93,1337.46V1345.35 M890.86,1342.75V1351.46 M900.79,1348.86V1357.56 M910.72,1354.96V1363.67 M912.21,1361.07V1365.81 M939.27,1363.21V1370.54 M940.51,1367.94V1375.27" stroke="#000" stroke-width="2.6" fill="none"/>
<path d="M828.80,1298.89V1305.89 M937.03,1357.51V1364.51 M943.99,1366.97V1373.97" stroke="#000" stroke-width="2" fill="none"/>
<path d="M672.40,1087.60 H692.26 V1093.71 H697.23 V1099.81 H699.43 V1105.24 H701.64 V1110.67 H703.85 V1116.09 H706.05 V1121.52 H708.26 V1126.95 H710.46 V1132.38 H712.67 V1137.80 H714.88 V1143.23 H717.09 V1148.66 H719.57 V1154.77 H722.05 V1160.87 H727.01 V1163.93 H736.94 H739.43 V1170.03 H741.91 V1176.14 H751.84 H755.56 V1181.48 H759.29 V1186.82 H763.01 V1192.17 H766.74 V1197.51 H776.66 V1203.61 H791.56 V1209.72 H796.52 V1215.83 H801.49 V1221.93 H816.38 V1231.09 H821.35 V1232.92 H838.73 V1258.26 H848.16 V1272.92 H861.57 V1302.84 H1003.57" stroke="#0b0bc8" stroke-width="2.6" fill="none" stroke-linejoin="miter" stroke-linecap="square"/>
<path d="M692.26,1086.30V1095.01 M697.23,1092.41V1101.11 M699.43,1098.51V1106.54 M701.64,1103.94V1111.97 M703.85,1109.37V1117.39 M706.05,1114.79V1122.82 M708.26,1120.22V1128.25 M710.46,1125.65V1133.68 M712.67,1131.08V1139.10 M714.88,1136.50V1144.53 M717.09,1141.93V1149.96 M719.57,1147.36V1156.07 M722.05,1153.47V1162.17 M727.01,1159.57V1165.23 M739.43,1162.63V1171.33 M741.91,1168.73V1177.44 M755.56,1174.84V1182.78 M759.29,1180.18V1188.12 M763.01,1185.52V1193.47 M766.74,1190.87V1198.81 M776.66,1196.21V1204.91 M791.56,1202.31V1211.02 M796.52,1208.42V1217.13 M801.49,1214.53V1223.23 M816.38,1220.63V1232.39 M821.35,1229.79V1234.22 M838.73,1231.62V1259.56 M848.16,1256.96V1274.22 M861.57,1271.62V1304.14" stroke="#000" stroke-width="2.6" fill="none"/>
<path d="M774.18,1190.51V1197.51 M784.11,1196.61V1203.61 M786.60,1196.61V1203.61 M789.08,1196.61V1203.61 M803.97,1214.93V1221.93 M811.42,1214.93V1221.93 M846.17,1251.26V1258.26 M868.52,1295.84V1302.84 M900.79,1295.84V1302.84 M933.06,1295.84V1302.84 M1003.57,1295.84V1302.84" stroke="#000" stroke-width="2" fill="none"/>
<line x1="868.70" y1="1109.90" x2="897.10" y2="1109.90" stroke="#e8191c" stroke-width="3.2"/>
<line x1="882.90" y1="1103.90" x2="882.90" y2="1109.90" stroke="#000" stroke-width="2"/>
<line x1="868.70" y1="1145.10" x2="897.10" y2="1145.10" stroke="#0b0bc8" stroke-width="3.2"/>
<line x1="882.90" y1="1139.10" x2="882.90" y2="1145.10" stroke="#000" stroke-width="2"/>
<text x="911.69" y="1117.80" font-size="25.00" textLength="147.47" lengthAdjust="spacingAndGlyphs">FH high (n=61)</text>
<text x="911.72" y="1152.50" font-size="24.86" textLength="136.82" lengthAdjust="spacingAndGlyphs">FH low (n=56)</text>
<text x="871.02" y="1210.10" font-size="28.92" textLength="95.43" lengthAdjust="spacingAndGlyphs"><tspan font-style="italic">P</tspan>=0.034</text>
<text x="714.94" y="1384.00" font-size="26.89" textLength="54.72" lengthAdjust="spacingAndGlyphs"><tspan font-weight="bold">21.07</tspan></text>
<text x="843.01" y="1384.00" font-size="26.89" textLength="53.24" lengthAdjust="spacingAndGlyphs"><tspan font-weight="bold">33.28</tspan></text>
<line x1="1192.20" y1="1068.20" x2="1192.20" y2="1396.35" stroke="#000" stroke-width="3.5"/>
<line x1="1190.45" y1="1394.60" x2="1630.50" y2="1394.60" stroke="#000" stroke-width="3.5"/>
<line x1="1184.70" y1="1099.10" x2="1192.20" y2="1099.10" stroke="#000" stroke-width="3.0"/>
<text x="1143.70" y="1106.80" font-size="25.58" textLength="36.71" lengthAdjust="spacingAndGlyphs"><tspan font-weight="bold">100</tspan></text>
<line x1="1184.70" y1="1158.20" x2="1192.20" y2="1158.20" stroke="#000" stroke-width="3.0"/>
<text x="1155.93" y="1165.90" font-size="25.58" textLength="24.47" lengthAdjust="spacingAndGlyphs"><tspan font-weight="bold">80</tspan></text>
<line x1="1184.70" y1="1217.30" x2="1192.20" y2="1217.30" stroke="#000" stroke-width="3.0"/>
<text x="1155.93" y="1225.00" font-size="25.58" textLength="24.47" lengthAdjust="spacingAndGlyphs"><tspan font-weight="bold">60</tspan></text>
<line x1="1184.70" y1="1276.40" x2="1192.20" y2="1276.40" stroke="#000" stroke-width="3.0"/>
<text x="1155.93" y="1284.10" font-size="25.58" textLength="24.47" lengthAdjust="spacingAndGlyphs"><tspan font-weight="bold">40</tspan></text>
<line x1="1184.70" y1="1335.50" x2="1192.20" y2="1335.50" stroke="#000" stroke-width="3.0"/>
<text x="1155.93" y="1343.20" font-size="25.58" textLength="24.47" lengthAdjust="spacingAndGlyphs"><tspan font-weight="bold">20</tspan></text>
<line x1="1184.70" y1="1394.60" x2="1192.20" y2="1394.60" stroke="#000" stroke-width="3.0"/>
<text x="1168.17" y="1402.30" font-size="25.58" textLength="12.24" lengthAdjust="spacingAndGlyphs"><tspan font-weight="bold">0</tspan></text>
<line x1="1192.20" y1="1394.60" x2="1192.20" y2="1403.60" stroke="#000" stroke-width="3.0"/>
<text x="1185.33" y="1430.20" font-size="24.56" textLength="12.57" lengthAdjust="spacingAndGlyphs"><tspan font-weight="bold">0</tspan></text>
<line x1="1301.40" y1="1394.60" x2="1301.40" y2="1403.60" stroke="#000" stroke-width="3.0"/>
<text x="1288.30" y="1430.20" font-size="24.56" textLength="25.14" lengthAdjust="spacingAndGlyphs"><tspan font-weight="bold">20</tspan></text>
<line x1="1410.60" y1="1394.60" x2="1410.60" y2="1403.60" stroke="#000" stroke-width="3.0"/>
<text x="1397.72" y="1430.20" font-size="24.56" textLength="25.14" lengthAdjust="spacingAndGlyphs"><tspan font-weight="bold">40</tspan></text>
<line x1="1519.80" y1="1394.60" x2="1519.80" y2="1403.60" stroke="#000" stroke-width="3.0"/>
<text x="1506.68" y="1430.20" font-size="24.56" textLength="25.14" lengthAdjust="spacingAndGlyphs"><tspan font-weight="bold">60</tspan></text>
<line x1="1629.00" y1="1394.60" x2="1629.00" y2="1403.60" stroke="#000" stroke-width="3.0"/>
<text x="1615.94" y="1430.20" font-size="24.56" textLength="25.14" lengthAdjust="spacingAndGlyphs"><tspan font-weight="bold">80</tspan></text>
<text x="1389.31" y="1070.20" font-size="32.27" textLength="41.31" lengthAdjust="spacingAndGlyphs"><tspan font-weight="bold">M0</tspan></text>
<text x="1315.68" y="1471.10" font-size="32.99" textLength="192.02" lengthAdjust="spacingAndGlyphs"><tspan font-weight="bold">Time (Months)</tspan></text>
<text transform="translate(1130.30,1377.19) rotate(-90)" x="0" y="0" font-size="30.23" textLength="292.16" lengthAdjust="spacingAndGlyphs"><tspan font-weight="bold">Overall survival (%)</tspan></text>
<line x1="1194.00" y1="1247.80" x2="1376.00" y2="1247.80" stroke="#000" stroke-width="2.2" stroke-dasharray="8,5"/>
<line x1="1318.50" y1="1249.00" x2="1318.50" y2="1394.00" stroke="#000" stroke-width="2.4" stroke-dasharray="7,5"/>
<line x1="1376.00" y1="1249.00" x2="1376.00" y2="1394.00" stroke="#000" stroke-width="3.2" stroke-dasharray="7,5"/>
<path d="M1192.20,1099.10 H1194.93 V1103.53 H1197.66 V1107.96 H1203.12 V1113.88 H1219.50 H1223.14 V1118.80 H1226.78 V1123.72 H1230.42 V1128.65 H1241.34 V1131.61 H1246.80 V1137.51 H1252.26 V1141.95 H1257.72 V1146.38 H1259.09 V1150.81 H1260.45 V1155.24 H1262.50 V1160.42 H1264.55 V1165.59 H1266.59 V1170.76 H1268.64 V1175.93 H1272.28 V1181.84 H1275.92 V1187.75 H1279.56 V1193.66 H1282.29 V1199.57 H1285.02 V1205.48 H1287.75 V1211.39 H1289.12 V1215.82 H1290.48 V1220.25 H1295.94 V1226.16 H1306.86 V1232.07 H1312.32 V1235.03 H1315.05 V1240.94 H1317.78 V1246.85 H1319.96 V1252.76 H1322.15 V1258.67 H1324.33 V1264.58 H1326.52 V1270.49 H1328.70 V1276.40 H1330.88 V1281.72 H1333.07 V1287.04 H1335.25 V1292.36 H1337.44 V1297.68 H1339.62 V1302.99 H1342.35 V1307.43 H1345.08 V1311.86 H1366.92 H1369.65 V1316.29 H1372.38 V1320.72 H1377.84 V1323.68 H1394.22 V1329.59 H1416.06 V1338.45 H1418.79 V1344.37 H1421.52 V1350.27 H1437.90 V1356.18 H1454.28 V1362.09 H1481.58 H1487.04 V1368.00 H1501.78 V1368.30 V1394.60" stroke="#e8191c" stroke-width="3.1" fill="none" stroke-linejoin="miter" stroke-linecap="square"/>
<path d="M1364.19,1304.86V1311.86 M1484.31,1355.09V1362.09 M1495.23,1361.00V1368.00" stroke="#000" stroke-width="2" fill="none"/>
<path d="M1192.20,1099.10 H1219.50 H1222.23 V1104.52 H1224.96 V1109.93 H1227.69 V1115.35 H1230.42 V1120.77 H1233.15 V1126.19 H1235.88 V1131.61 H1246.80 V1137.51 H1252.26 V1140.47 H1255.90 V1145.39 H1259.54 V1150.32 H1263.18 V1155.24 H1265.91 V1161.15 H1268.64 V1167.06 H1274.10 V1172.97 H1293.21 H1295.26 V1178.15 H1297.31 V1183.32 H1299.35 V1188.49 H1301.40 V1193.66 H1312.32 V1202.52 H1347.81 V1228.82 H1375.66 V1259.26 H1384.39 V1275.81 H1558.57" stroke="#0b0bc8" stroke-width="3.1" fill="none" stroke-linejoin="miter" stroke-linecap="square"/>
<path d="M1244.07,1124.61V1131.61 M1285.02,1165.97V1172.97 M1290.48,1165.97V1172.97 M1312.32,1195.52V1202.52 M1317.78,1195.52V1202.52 M1320.51,1195.52V1202.52 M1323.24,1195.52V1202.52 M1328.70,1195.52V1202.52 M1334.16,1195.52V1202.52 M1339.62,1195.52V1202.52 M1359.82,1221.82V1228.82 M1399.68,1268.81V1275.81 M1416.06,1268.81V1275.81 M1421.52,1268.81V1275.81 M1465.20,1268.81V1275.81 M1492.50,1268.81V1275.81 M1558.57,1268.81V1275.81" stroke="#000" stroke-width="2" fill="none"/>
<line x1="1426.80" y1="1113.10" x2="1457.60" y2="1113.10" stroke="#e8191c" stroke-width="3.2"/>
<line x1="1442.20" y1="1107.10" x2="1442.20" y2="1113.10" stroke="#000" stroke-width="2"/>
<line x1="1426.80" y1="1156.80" x2="1457.60" y2="1156.80" stroke="#0b0bc8" stroke-width="3.2"/>
<line x1="1442.20" y1="1150.80" x2="1442.20" y2="1156.80" stroke="#000" stroke-width="2"/>
<text x="1474.00" y="1121.50" font-size="28.05" textLength="163.11" lengthAdjust="spacingAndGlyphs">FH high (n=57)</text>
<text x="1474.03" y="1164.80" font-size="27.47" textLength="151.25" lengthAdjust="spacingAndGlyphs">FH low (n=44)</text>
<text x="1438.29" y="1219.00" font-size="28.05" textLength="87.15" lengthAdjust="spacingAndGlyphs"><tspan font-style="italic">P</tspan>=0.011</text>
<text x="1241.03" y="1341.70" font-size="26.74" textLength="58.21" lengthAdjust="spacingAndGlyphs">22.91</text>
<text x="1467.63" y="1311.60" font-size="26.74" textLength="56.98" lengthAdjust="spacingAndGlyphs">33.61</text>
</svg></body></html>
